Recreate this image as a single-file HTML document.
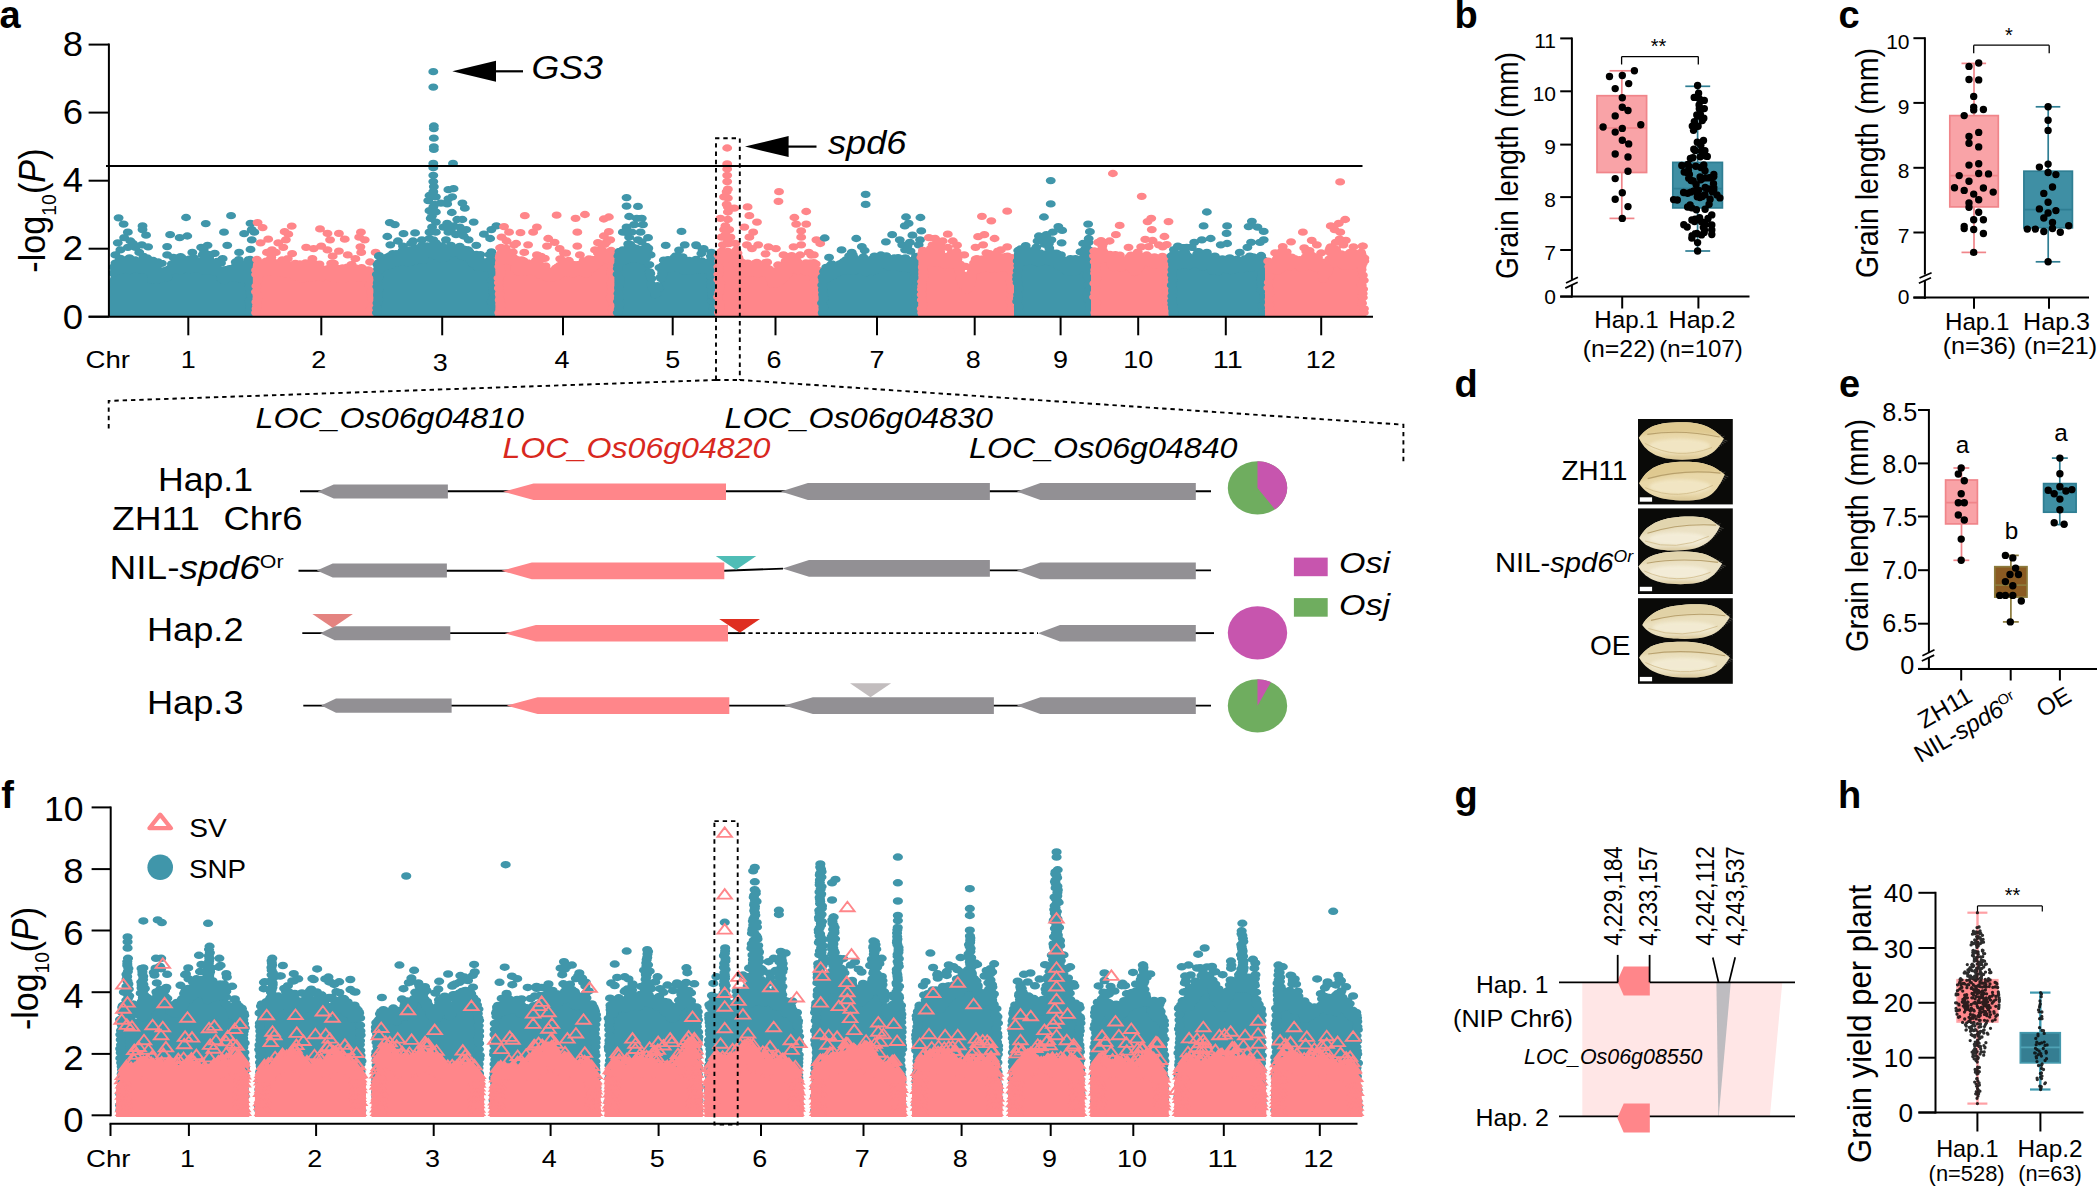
<!DOCTYPE html>
<html lang="en"><head><meta charset="utf-8"><title>Figure</title>
<style>
html,body{margin:0;padding:0;background:#fff;}
body{width:2097px;height:1187px;overflow:hidden;}
svg{display:block;}
text{font-family:"Liberation Sans",Arial,sans-serif;}
</style></head><body>
<svg width="2097" height="1187" viewBox="0 0 2097 1187">
<rect width="2097" height="1187" fill="#fff"/>
<g id="panel-a">
<polygon points="108.5,316.2 108.5,282.6 110.5,277.2 112.5,270.2 114.5,264.9 116.5,264.8 118.5,264.8 120.5,264.7 122.5,264.6 124.5,264.5 126.5,264.5 128.5,264.4 130.5,264.3 132.5,264.2 134.5,264.2 136.5,264.1 138.5,264.0 140.5,263.9 142.5,263.9 144.5,263.8 146.5,263.7 148.5,264.8 150.5,270.8 152.5,274.9 154.5,274.6 156.5,274.2 158.5,273.8 160.5,273.5 162.5,273.1 164.5,272.7 166.5,272.2 168.5,271.2 170.5,270.2 172.5,269.2 174.5,268.2 176.5,267.2 178.5,266.5 180.5,265.7 182.5,265.0 184.5,264.2 186.5,263.7 188.5,263.9 190.5,264.0 192.5,264.2 194.5,264.4 196.5,264.5 198.5,264.7 200.5,264.9 202.5,265.0 204.5,265.2 206.5,265.4 208.5,265.5 210.5,265.7 212.5,265.9 214.5,266.0 216.5,266.4 218.5,269.2 220.5,272.0 222.5,274.8 224.5,275.0 226.5,275.0 228.5,275.0 230.5,275.0 232.5,275.0 234.5,275.0 236.5,275.0 238.5,275.0 240.5,275.0 242.5,274.3 244.5,272.8 246.5,271.2 248.5,269.6 250.5,268.0 252.5,266.4 252.8,266.2 252.8,316.2" fill="#4096AA" />
<g transform="scale(1.36 1)"><path d="M116.1 277.6h0M90.5 264.1h0M89.0 261.7h0M127.3 268.3h0M126.4 263.8h0M105.9 267.2h0M142.0 269.4h0M87.8 259.8h0M97.8 265.3h0M166.4 278.0h0M148.3 266.8h0M89.5 265.1h0M152.5 265.2h0M142.8 263.8h0M164.2 272.1h0M141.7 267.8h0M157.5 271.8h0M95.1 267.7h0M98.6 261.3h0M151.3 264.3h0M172.4 278.4h0M143.7 264.3h0M168.8 268.6h0M150.9 269.7h0M149.1 254.7h0M112.1 277.7h0M85.4 263.2h0M95.0 269.3h0M96.3 265.5h0M172.0 277.4h0M139.2 262.6h0M171.3 276.3h0M119.7 272.8h0M98.5 264.4h0M106.9 265.3h0M109.9 270.0h0M120.8 276.7h0M153.6 267.2h0M152.1 271.4h0M162.7 271.8h0M123.1 269.9h0M147.8 264.2h0M104.4 265.0h0M88.5 264.9h0M93.4 262.2h0M172.3 272.2h0M108.8 264.2h0M95.6 265.2h0M130.6 264.4h0M93.5 264.2h0M167.7 273.6h0M180.1 270.1h0M138.5 267.0h0M183.0 267.5h0M109.7 265.9h0M161.9 274.3h0M116.7 278.5h0M183.6 268.0h0M166.6 271.5h0M135.9 261.9h0M85.9 264.8h0M153.8 258.1h0M178.7 266.4h0M120.3 272.9h0M103.2 267.2h0M175.0 272.0h0M149.7 259.7h0M150.5 262.8h0M159.6 265.6h0M163.6 278.9h0M182.3 270.7h0M179.7 269.1h0M96.1 270.0h0M165.4 280.1h0M183.1 267.5h0M139.1 262.6h0M182.2 270.0h0M178.4 278.4h0M167.4 275.3h0M113.0 277.5h0M109.6 264.6h0M176.0 276.3h0M142.6 259.2h0M176.7 276.1h0M136.5 266.3h0M101.8 269.4h0M100.7 266.8h0M139.9 265.9h0M139.8 258.9h0M140.3 264.4h0M161.9 272.8h0M160.7 263.9h0M145.6 265.5h0M153.8 266.9h0M131.9 261.7h0M172.5 267.0h0M140.2 260.6h0M97.1 266.4h0M90.5 263.3h0M151.4 266.6h0M98.9 264.4h0M97.7 264.1h0M105.5 256.3h0M132.8 256.6h0M99.6 265.4h0M117.7 274.4h0M156.8 269.3h0M128.0 269.9h0M146.8 262.0h0M183.6 270.4h0M93.8 262.7h0M162.6 271.9h0M126.2 267.4h0M109.5 271.8h0M141.3 260.0h0M89.0 263.3h0M90.5 259.7h0M164.9 280.6h0M89.9 260.9h0M117.7 277.4h0M110.4 272.6h0M107.4 263.7h0M88.2 265.5h0M114.2 271.2h0M134.1 266.2h0M84.9 263.1h0M157.9 264.0h0M131.5 257.5h0M166.7 276.2h0M168.3 276.5h0M153.3 254.3h0M168.0 275.2h0M124.4 268.9h0M96.3 269.0h0M109.2 263.8h0M168.9 272.8h0M111.9 275.4h0M130.0 269.1h0M110.0 264.2h0M138.9 269.7h0M114.7 271.9h0M122.0 273.4h0M103.6 260.7h0M110.0 270.2h0M87.3 266.1h0M106.8 264.2h0M159.7 268.6h0M172.8 275.1h0M183.6 272.9h0M148.7 270.5h0M174.1 276.7h0M166.0 277.7h0M134.6 264.5h0M167.4 278.4h0M152.8 262.5h0M86.3 266.2h0M93.8 262.1h0M147.2 266.1h0M133.0 270.9h0M159.5 267.9h0M150.4 269.9h0M108.8 264.5h0M157.5 270.2h0M182.7 269.5h0M132.0 267.6h0M146.1 261.0h0M98.1 268.2h0M114.2 270.8h0M89.3 268.0h0M153.7 263.3h0M135.8 264.9h0M95.2 257.8h0M182.9 259.7h0M129.9 268.4h0M129.0 267.4h0M179.6 275.8h0M97.6 268.5h0M96.6 261.9h0M173.6 272.0h0M174.7 272.1h0M83.5 267.1h0M113.9 275.7h0M115.3 267.3h0M159.7 261.5h0M177.6 277.2h0M112.7 275.4h0M185.0 266.1h0M126.8 267.6h0M93.5 260.0h0M178.6 274.3h0M135.2 265.8h0M180.7 270.4h0M147.5 263.6h0M139.1 259.2h0M157.8 269.1h0M148.9 263.3h0M177.7 277.4h0M118.2 277.2h0M182.7 272.9h0M113.8 274.1h0M100.2 264.2h0M175.5 273.6h0M175.6 259.6h0M97.3 263.3h0M118.0 274.1h0M109.5 269.3h0M159.6 267.8h0M136.6 264.0h0M89.4 270.3h0M95.9 266.1h0M171.2 275.4h0M108.4 264.6h0M180.4 272.0h0M85.3 269.4h0M174.5 276.7h0M83.1 273.2h0M167.3 275.6h0M108.4 263.5h0M136.4 266.7h0M156.7 267.7h0M129.8 264.0h0M162.9 279.0h0M149.0 263.9h0M108.8 265.0h0M94.5 267.3h0M142.6 263.5h0M144.4 265.9h0M130.1 261.0h0M173.3 273.8h0M108.3 258.0h0M114.5 277.3h0M151.9 264.7h0M151.2 257.8h0M86.6 265.8h0M152.8 270.1h0M158.5 264.5h0M182.1 274.7h0M106.6 268.1h0M113.2 267.9h0M102.2 265.5h0M151.0 255.9h0M123.2 277.6h0M97.6 263.5h0M123.2 270.4h0M157.9 253.3h0M116.7 279.6h0M159.3 270.7h0M121.7 272.7h0M100.4 265.3h0M119.0 263.3h0M181.5 272.0h0M166.9 272.0h0M88.1 264.6h0M176.9 276.3h0M174.6 277.2h0M165.9 269.7h0M86.6 270.9h0M109.3 267.1h0M117.7 279.2h0M146.1 268.5h0M115.4 272.1h0M160.2 264.4h0M179.4 274.0h0M131.6 262.9h0M122.5 273.6h0M133.5 257.4h0M165.0 276.3h0M162.0 270.3h0M115.7 277.9h0M91.2 268.9h0M108.3 262.7h0M139.5 269.5h0M173.3 262.0h0M91.7 267.2h0M155.5 264.8h0M125.6 271.3h0M159.4 265.1h0M95.5 259.8h0M140.9 267.5h0M103.4 264.0h0M98.7 260.9h0M116.4 279.2h0M134.9 269.3h0M149.8 249.9h0M131.5 266.6h0M176.4 276.2h0M95.3 270.5h0M142.6 257.8h0M171.5 274.2h0M162.5 263.1h0M143.9 262.1h0M120.7 272.9h0M109.1 265.7h0M103.9 265.5h0M152.3 266.3h0M103.8 262.2h0M89.5 266.5h0M139.2 260.4h0M99.8 262.6h0M112.0 280.4h0M115.0 273.4h0M125.6 270.6h0M120.2 277.0h0M103.9 270.1h0M126.3 266.3h0M173.2 273.3h0M84.6 266.4h0M175.9 278.7h0M120.9 270.7h0M112.0 279.0h0M94.2 267.7h0M181.8 269.9h0M179.3 264.2h0M88.5 258.4h0M175.4 277.5h0M99.4 260.0h0M124.4 270.5h0M183.3 312.7h0M183.8 309.0h0M183.8 304.5h0M183.5 301.1h0M184.9 295.9h0M184.2 292.8h0M183.0 287.6h0M183.2 282.0h0M184.2 277.2h0M183.6 272.4h0M184.2 268.1h0M184.4 263.8h0M183.9 259.5h0M87.2 217.8h0M90.9 224.1h0M94.0 232.2h0M104.8 225.9h0M104.8 229.6h0M107.4 235.2h0M91.3 237.7h0M86.6 242.8h0M95.9 241.0h0M108.9 246.8h0M104.3 244.8h0M125.1 234.7h0M132.1 237.7h0M137.7 236.0h0M136.8 217.5h0M151.3 223.6h0M122.9 246.6h0M122.9 254.9h0M127.5 257.4h0M141.4 252.4h0M147.9 247.3h0M152.6 245.3h0M164.7 232.2h0M169.9 215.7h0M167.1 245.3h0M175.8 252.4h0M179.5 233.7h0M184.2 223.3h0M185.1 229.6h0M187.0 232.2h0M185.1 239.8h0M184.2 249.4h0M163.7 258.7h0M112.6 260.5h0M116.3 262.0h0M84.8 254.9h0M99.6 247.3h0M88.5 249.9h0M94.0 247.3h0M102.4 252.4h0M97.8 243.5h0" fill="none" stroke="#4096AA" stroke-width="7.30" stroke-linecap="round"/></g>
<polygon points="252.8,316.2 252.8,267.4 254.8,267.6 256.8,267.8 258.8,268.0 260.8,268.2 262.8,268.3 264.8,268.5 266.8,268.7 268.8,268.6 270.8,268.4 272.8,268.2 274.8,268.1 276.8,267.9 278.8,267.7 280.8,267.6 282.8,267.8 284.8,268.6 286.8,269.5 288.8,270.3 290.8,271.2 292.8,272.0 294.8,272.9 296.8,273.8 298.8,274.6 300.8,274.8 302.8,274.4 304.8,273.9 306.8,273.5 308.8,273.1 310.8,272.7 312.8,272.2 314.8,271.8 316.8,271.4 318.8,271.4 320.8,271.6 322.8,271.8 324.8,272.0 326.8,272.2 328.8,272.4 330.8,272.6 332.8,272.8 334.8,273.0 336.8,273.2 338.8,273.4 340.8,273.6 342.8,273.7 344.8,273.4 346.8,273.1 348.8,272.7 350.8,272.4 352.8,272.1 354.8,271.7 356.8,271.4 358.8,271.5 360.8,272.2 362.8,272.9 364.8,273.5 366.8,274.2 368.8,274.9 370.8,275.5 372.8,276.2 373.4,276.3 373.4,316.2" fill="#FF868A" />
<g transform="scale(1.36 1)"><path d="M241.6 271.1h0M253.8 271.2h0M204.4 265.6h0M200.1 266.2h0M226.6 270.3h0M243.1 277.1h0M255.0 270.2h0M231.8 276.8h0M200.7 268.9h0M251.1 268.8h0M272.3 279.9h0M266.7 277.6h0M267.9 275.0h0M253.2 279.1h0M212.5 265.1h0M231.7 264.3h0M211.4 269.1h0M192.3 267.9h0M268.4 276.2h0M203.5 262.9h0M234.1 270.0h0M263.1 272.3h0M263.9 278.2h0M242.5 276.2h0M211.6 258.6h0M219.7 272.5h0M204.2 262.8h0M258.6 275.4h0M272.5 277.0h0M215.7 271.5h0M201.8 267.5h0M232.6 264.3h0M208.4 263.8h0M189.4 266.3h0M219.4 277.3h0M239.0 275.3h0M229.4 278.4h0M209.8 268.1h0M243.2 271.3h0M223.2 272.3h0M243.8 271.8h0M243.8 277.3h0M251.3 279.0h0M192.9 268.1h0M209.3 273.6h0M190.2 271.9h0M201.2 271.3h0M232.1 273.8h0M204.0 268.1h0M193.3 266.6h0M249.7 279.2h0M252.3 276.6h0M227.5 272.0h0M208.9 269.8h0M252.6 275.6h0M249.4 275.9h0M226.1 271.6h0M211.6 273.4h0M207.6 259.9h0M211.2 273.8h0M269.1 271.2h0M263.7 271.1h0M266.0 273.9h0M245.5 263.3h0M260.3 273.9h0M226.2 272.8h0M215.2 275.2h0M195.8 261.1h0M191.5 274.2h0M218.4 272.6h0M192.7 268.6h0M248.2 268.5h0M239.2 276.1h0M258.6 264.7h0M262.6 270.0h0M198.3 267.6h0M192.1 267.7h0M242.9 271.0h0M213.5 270.5h0M253.3 274.3h0M225.1 274.7h0M213.1 268.7h0M216.3 265.1h0M261.2 267.8h0M224.1 277.3h0M218.5 273.3h0M207.5 260.9h0M258.6 270.7h0M206.3 269.8h0M189.6 268.7h0M256.6 275.0h0M218.6 269.3h0M269.1 273.6h0M248.4 270.9h0M243.1 277.6h0M248.2 272.3h0M219.3 274.9h0M264.5 277.7h0M191.3 268.5h0M265.5 272.1h0M264.0 273.5h0M234.2 271.9h0M243.9 272.9h0M202.3 266.4h0M252.0 275.7h0M254.6 270.4h0M228.3 266.7h0M205.4 271.1h0M260.6 271.5h0M210.1 271.0h0M202.8 267.2h0M271.7 270.8h0M270.6 276.4h0M272.5 275.3h0M226.0 276.8h0M198.2 269.9h0M192.1 271.9h0M247.9 275.0h0M228.4 276.0h0M223.4 276.1h0M225.6 275.8h0M224.8 277.7h0M263.7 271.3h0M261.3 272.1h0M227.6 275.8h0M197.5 272.1h0M249.5 271.3h0M225.0 275.7h0M223.8 276.9h0M204.7 269.6h0M222.1 279.2h0M192.4 266.0h0M255.4 267.1h0M197.7 269.1h0M249.9 275.3h0M259.4 272.0h0M269.4 277.8h0M222.4 269.8h0M272.5 273.5h0M212.4 267.8h0M224.6 276.6h0M219.0 274.0h0M251.9 268.0h0M207.7 264.6h0M207.1 272.2h0M257.7 272.0h0M236.8 277.6h0M219.1 276.5h0M258.3 271.7h0M235.6 276.8h0M219.2 269.4h0M221.0 276.3h0M204.9 272.5h0M213.0 271.2h0M229.8 274.6h0M245.0 277.8h0M261.5 277.0h0M265.9 267.7h0M259.5 268.0h0M190.2 262.5h0M210.4 269.0h0M209.0 265.3h0M202.1 265.9h0M203.4 264.7h0M255.3 275.6h0M255.9 267.6h0M247.8 275.7h0M226.3 269.9h0M211.6 269.1h0M230.9 274.5h0M201.4 268.9h0M234.9 264.1h0M260.3 273.4h0M245.5 269.0h0M224.6 263.0h0M243.1 268.5h0M240.8 275.0h0M217.2 263.4h0M230.2 264.1h0M250.0 272.1h0M262.1 272.8h0M233.7 267.2h0M226.0 275.1h0M259.2 276.7h0M223.4 273.1h0M232.1 264.1h0M256.2 273.1h0M214.5 272.8h0M255.6 277.6h0M264.1 268.6h0M214.6 272.1h0M267.2 274.3h0M256.0 269.1h0M241.4 273.7h0M239.7 269.1h0M245.6 276.0h0M197.8 267.2h0M254.7 269.5h0M220.4 274.8h0M236.8 272.2h0M224.9 274.9h0M243.5 263.4h0M237.2 271.6h0M257.8 276.1h0M227.0 275.2h0M239.3 270.0h0M229.4 270.5h0M243.7 272.1h0M190.5 272.5h0M199.5 257.2h0M262.8 270.0h0M250.1 277.5h0M205.1 272.7h0M249.6 272.1h0M196.3 270.2h0M228.2 265.2h0M270.8 269.8h0M190.4 270.2h0M195.9 272.3h0M203.2 264.5h0M194.3 270.6h0M226.3 269.8h0M256.7 275.4h0M242.5 272.8h0M255.7 268.9h0M237.2 270.1h0M271.6 276.8h0M217.3 277.1h0M259.5 270.6h0M225.5 268.6h0M247.1 276.3h0M257.5 270.5h0M211.5 271.7h0M258.3 264.7h0M259.7 272.6h0M237.6 276.6h0M257.5 275.1h0M218.5 277.1h0M256.7 277.0h0M268.0 276.5h0M246.5 271.7h0M210.7 270.3h0M228.1 277.9h0M254.5 276.0h0M265.1 268.4h0M229.5 270.0h0M205.5 271.6h0M219.9 274.3h0M233.0 270.2h0M273.6 274.3h0M242.7 267.8h0M239.7 273.9h0M190.9 274.9h0M262.5 272.8h0M211.3 267.3h0M269.3 274.9h0M270.7 273.0h0M206.2 266.6h0M193.5 271.7h0M228.0 269.7h0M194.6 267.8h0M199.3 259.2h0M237.0 275.1h0M245.9 273.9h0M202.7 264.1h0M272.1 312.7h0M272.2 309.6h0M273.6 305.5h0M273.5 299.8h0M273.4 296.7h0M273.0 291.5h0M271.7 285.6h0M273.3 282.2h0M273.1 276.3h0M272.9 272.4h0M188.3 312.7h0M188.6 308.7h0M189.0 305.4h0M188.5 301.9h0M189.3 298.4h0M189.4 295.4h0M188.2 291.8h0M188.5 286.0h0M189.7 280.2h0M188.3 274.5h0M188.3 270.2h0M189.6 264.4h0M188.9 259.5h0M189.4 222.6h0M193.1 227.6h0M197.2 239.2h0M191.6 242.8h0M204.6 242.8h0M209.3 231.7h0M214.5 226.1h0M212.0 234.2h0M210.2 239.8h0M208.3 247.3h0M225.1 247.3h0M230.6 248.6h0M235.3 228.9h0M236.2 246.1h0M240.8 233.4h0M242.7 239.8h0M240.8 249.9h0M249.2 233.4h0M253.5 239.2h0M249.2 251.1h0M265.4 232.2h0M264.1 237.2h0M268.2 239.8h0M265.0 246.8h0M265.6 252.4h0M276.2 252.4h0M272.1 262.0h0M255.7 254.9h0M244.6 256.2h0M229.7 258.7h0M214.8 253.7h0M196.3 252.4h0M220.4 263.8h0M261.3 258.7h0M200.0 249.9h0M202.8 252.4h0" fill="none" stroke="#FF868A" stroke-width="7.30" stroke-linecap="round"/></g>
<polygon points="373.4,316.2 373.4,272.5 375.4,270.1 377.4,267.8 379.4,266.0 381.4,264.4 383.4,262.7 385.4,261.1 387.4,260.5 389.4,259.9 391.4,259.3 393.4,258.7 395.4,258.1 397.4,257.5 399.4,257.2 401.4,257.0 403.4,256.8 405.4,256.6 407.4,256.4 409.4,256.2 411.4,256.0 413.4,255.8 415.4,255.6 417.4,255.4 419.4,255.2 421.4,255.0 423.4,254.5 425.4,251.8 427.4,249.8 429.4,249.8 431.4,249.8 433.4,249.8 435.4,249.8 437.4,249.8 439.4,250.8 441.4,252.8 443.4,254.8 445.4,252.1 447.4,249.8 449.4,249.9 451.4,250.0 453.4,250.1 455.4,250.2 457.4,250.4 459.4,250.5 461.4,250.6 463.4,250.7 465.4,250.8 467.4,250.9 469.4,252.7 471.4,257.2 473.4,261.7 475.4,262.4 477.4,262.4 479.4,262.4 481.4,262.4 483.4,262.4 485.4,262.4 487.4,262.4 489.4,262.4 491.4,262.4 493.4,262.4 495.4,262.4 495.4,316.2" fill="#4096AA" />
<g transform="scale(1.36 1)"><path d="M348.4 264.3h0M290.1 257.0h0M339.0 248.1h0M352.5 263.7h0M291.2 262.6h0M306.5 257.8h0M305.1 248.1h0M361.7 268.4h0M335.1 252.3h0M302.4 255.7h0M309.1 247.0h0M357.1 263.4h0M354.6 267.0h0M303.0 242.7h0M347.0 257.1h0M278.0 264.6h0M293.8 261.6h0M296.6 254.2h0M293.3 257.2h0M294.7 256.5h0M330.0 248.9h0M295.5 258.6h0M347.4 257.3h0M283.5 259.1h0M339.7 255.9h0M306.6 255.4h0M320.1 256.0h0M318.7 244.3h0M293.8 253.4h0M291.9 259.9h0M278.3 267.0h0M322.0 254.1h0M347.8 256.0h0M338.8 254.0h0M283.1 261.4h0M320.3 250.7h0M323.9 258.6h0M297.0 255.9h0M299.3 250.2h0M286.1 256.7h0M279.4 266.2h0M322.7 246.2h0M352.4 257.7h0M288.4 259.9h0M301.8 257.9h0M289.6 261.6h0M290.5 260.4h0M291.9 258.5h0M311.2 258.8h0M322.9 255.5h0M344.4 250.6h0M306.6 260.5h0M346.8 255.4h0M350.5 265.4h0M359.9 254.7h0M314.0 248.5h0M323.3 253.4h0M321.1 249.8h0M360.9 264.1h0M332.1 250.8h0M353.6 266.4h0M300.6 253.8h0M324.3 248.2h0M299.3 256.5h0M359.3 262.7h0M333.3 253.5h0M359.8 261.2h0M317.8 247.5h0M288.5 259.9h0M312.7 251.9h0M285.4 263.5h0M330.1 251.4h0M295.1 255.7h0M324.8 252.9h0M304.5 255.6h0M321.8 251.9h0M278.9 270.6h0M298.3 256.9h0M302.3 243.4h0M344.0 250.0h0M352.5 260.0h0M311.1 257.8h0M287.2 265.4h0M341.1 251.9h0M308.1 255.6h0M350.7 260.0h0M341.2 251.5h0M318.6 249.5h0M356.2 267.9h0M278.2 265.9h0M320.5 242.8h0M313.7 251.3h0M329.9 250.9h0M317.1 247.0h0M311.3 254.0h0M305.5 256.4h0M320.7 248.4h0M303.9 258.9h0M327.7 257.9h0M305.6 255.3h0M360.0 264.1h0M355.9 261.7h0M326.3 258.5h0M344.1 255.5h0M322.2 251.9h0M311.2 257.0h0M307.9 250.2h0M322.9 252.2h0M312.2 253.9h0M353.2 254.6h0M315.6 253.6h0M307.3 258.4h0M292.5 263.0h0M348.6 260.0h0M354.5 264.2h0M362.7 257.7h0M291.3 259.9h0M321.1 249.5h0M331.8 248.9h0M363.0 258.5h0M313.1 247.8h0M337.0 251.8h0M350.0 263.9h0M294.7 258.3h0M300.7 256.2h0M363.3 261.9h0M288.3 263.6h0M287.0 259.6h0M322.6 248.5h0M347.0 257.1h0M343.9 254.4h0M308.2 255.8h0M286.4 256.0h0M307.8 255.4h0M282.6 258.5h0M360.1 264.5h0M299.2 262.7h0M351.1 267.4h0M347.8 263.3h0M360.1 266.8h0M298.7 259.7h0M296.8 261.6h0M319.4 245.7h0M292.7 256.4h0M361.1 264.8h0M287.7 259.0h0M312.4 252.3h0M348.6 262.0h0M294.2 256.9h0M280.9 262.1h0M291.2 253.7h0M301.0 250.5h0M315.8 249.4h0M291.5 261.2h0M310.2 245.4h0M359.3 261.0h0M316.6 254.0h0M300.2 252.6h0M309.4 258.0h0M296.1 250.3h0M321.8 248.4h0M344.0 253.7h0M326.5 254.9h0M285.2 265.5h0M305.4 252.0h0M326.0 256.4h0M303.3 257.1h0M297.3 261.0h0M302.1 260.7h0M344.3 250.0h0M289.2 256.9h0M336.1 248.7h0M313.2 252.2h0M299.1 252.3h0M331.7 249.3h0M356.0 262.9h0M281.3 263.5h0M294.8 257.9h0M281.2 266.4h0M293.3 255.0h0M339.3 252.1h0M336.5 248.0h0M349.3 258.9h0M281.5 260.8h0M281.9 261.7h0M345.7 259.8h0M342.1 255.1h0M311.6 255.3h0M302.0 262.3h0M314.2 245.8h0M341.1 249.1h0M316.7 254.2h0M314.6 253.9h0M288.8 253.6h0M338.1 246.3h0M324.7 245.9h0M324.5 251.2h0M308.5 254.1h0M304.5 259.9h0M335.3 250.3h0M322.0 254.4h0M308.0 260.2h0M290.0 257.4h0M347.7 263.1h0M292.4 257.7h0M317.4 250.8h0M287.7 260.1h0M295.6 258.0h0M294.8 255.8h0M287.5 260.9h0M309.0 254.1h0M278.8 255.7h0M285.1 263.2h0M326.2 257.1h0M315.1 252.4h0M278.6 262.6h0M331.6 245.4h0M299.4 255.6h0M280.2 265.5h0M303.3 259.3h0M350.3 254.4h0M345.1 251.7h0M305.9 260.5h0M305.3 257.5h0M309.5 250.3h0M281.4 264.6h0M348.1 264.0h0M358.8 263.2h0M291.4 260.3h0M284.7 257.1h0M315.8 238.3h0M281.3 262.1h0M339.8 256.4h0M351.1 259.8h0M302.1 255.7h0M313.9 250.9h0M334.9 250.9h0M292.0 259.0h0M326.1 253.8h0M285.2 261.8h0M361.1 260.7h0M361.3 255.9h0M347.4 263.6h0M330.0 252.3h0M359.5 264.5h0M303.5 260.6h0M280.3 268.3h0M316.2 253.8h0M309.7 254.6h0M323.3 250.6h0M287.7 264.8h0M324.8 258.7h0M299.6 259.3h0M299.4 257.7h0M297.3 253.9h0M321.8 246.6h0M312.8 254.1h0M351.8 264.5h0M342.7 257.4h0M339.7 255.9h0M311.4 260.4h0M326.1 250.0h0M344.4 251.7h0M309.8 258.7h0M296.1 260.4h0M314.4 246.7h0M352.6 266.1h0M352.5 266.8h0M362.1 312.7h0M362.8 307.4h0M361.6 301.9h0M362.9 297.8h0M362.9 292.0h0M362.7 288.8h0M362.5 285.5h0M361.6 280.1h0M362.8 274.4h0M361.7 270.6h0M363.2 266.3h0M361.6 261.5h0M361.6 258.4h0M277.1 312.7h0M277.3 308.0h0M277.5 303.0h0M278.4 299.5h0M278.0 294.9h0M278.5 289.5h0M277.4 286.5h0M277.7 283.0h0M278.2 277.4h0M277.1 274.3h0M278.0 268.8h0M277.6 264.7h0M286.6 222.6h0M290.3 224.6h0M284.8 236.5h0M296.7 233.7h0M305.2 232.9h0M292.6 241.0h0M303.7 241.0h0M310.2 239.8h0M287.0 244.8h0M296.3 246.1h0M278.6 256.2h0M318.6 71.7h0M318.6 87.1h0M319.0 126.0h0M319.0 128.6h0M319.0 138.2h0M319.0 146.8h0M319.0 149.3h0M318.6 163.4h0M318.6 167.7h0M318.6 175.3h0M318.6 181.6h0M319.0 186.7h0M318.6 191.7h0M315.8 195.5h0M320.5 196.8h0M314.9 200.6h0M319.5 204.4h0M324.2 203.1h0M328.8 203.9h0M315.8 210.7h0M320.5 212.0h0M316.7 218.3h0M320.5 222.1h0M317.7 227.1h0M315.8 232.2h0M320.5 232.2h0M318.6 239.8h0M318.6 206.9h0M317.7 215.7h0M333.1 163.4h0M329.7 189.7h0M333.5 188.7h0M332.5 196.8h0M329.7 198.8h0M340.0 203.1h0M341.8 208.2h0M332.2 212.5h0M336.2 219.5h0M340.0 219.5h0M328.8 223.3h0M333.5 225.9h0M338.1 227.1h0M342.8 229.6h0M329.7 232.2h0M335.3 234.7h0M340.9 236.0h0M344.6 239.8h0M327.9 239.8h0M348.3 222.1h0M350.2 245.3h0M355.8 234.2h0M360.4 238.5h0M361.3 229.6h0M365.0 225.9h0M361.3 251.9h0M331.6 229.6h0M339.0 232.2h0M326.0 227.1h0" fill="none" stroke="#4096AA" stroke-width="7.30" stroke-linecap="round"/></g>
<polygon points="495.4,316.2 495.4,254.8 497.4,254.8 499.4,254.8 501.4,254.8 503.4,254.8 505.4,254.8 507.4,254.8 509.4,254.8 511.4,254.8 513.4,258.8 515.4,263.3 517.4,266.2 519.4,266.4 521.4,266.5 523.4,266.6 525.4,266.7 527.4,266.9 529.4,267.0 531.4,267.1 533.4,267.2 535.4,267.4 537.4,267.8 539.4,269.0 541.4,270.3 543.4,271.5 545.4,272.8 547.4,273.6 549.4,272.8 551.4,271.9 553.4,271.1 555.4,270.3 557.4,269.4 559.4,268.6 561.4,267.8 563.4,267.5 565.4,267.6 567.4,267.7 569.4,267.8 571.4,267.9 573.4,268.0 575.4,268.1 577.4,268.2 579.4,268.3 581.4,268.4 583.4,268.5 585.4,268.6 587.4,268.7 589.4,266.8 591.4,264.8 593.4,262.8 595.4,260.8 597.4,258.8 599.4,256.8 601.4,256.0 603.4,255.8 605.4,255.6 607.4,255.4 609.4,255.3 611.4,255.1 613.4,254.9 614.4,254.8 614.4,316.2" fill="#FF868A" />
<g transform="scale(1.36 1)"><path d="M438.1 264.7h0M418.6 269.2h0M385.6 263.2h0M371.2 256.1h0M406.6 270.6h0M397.1 273.0h0M395.4 270.6h0M449.9 255.1h0M423.6 268.3h0M409.3 272.3h0M411.7 265.3h0M370.4 257.3h0M440.4 256.5h0M420.5 267.7h0M433.9 265.9h0M424.4 272.1h0M429.3 270.3h0M396.8 268.9h0M372.6 255.1h0M450.1 254.9h0M387.9 267.8h0M378.9 269.0h0M405.4 273.6h0M392.8 266.2h0M392.7 270.9h0M413.6 260.3h0M444.5 252.5h0M382.5 270.5h0M397.4 267.3h0M440.0 260.4h0M442.6 255.9h0M369.5 255.4h0M426.4 269.7h0M384.3 269.5h0M421.7 272.2h0M448.0 252.0h0M435.1 259.4h0M379.0 265.9h0M440.6 260.0h0M385.3 270.4h0M421.7 270.8h0M395.8 270.4h0M371.4 253.3h0M408.8 268.2h0M406.2 277.8h0M414.7 253.0h0M418.8 265.3h0M375.4 254.4h0M431.6 273.9h0M402.9 274.6h0M413.9 267.9h0M395.2 264.5h0M426.9 269.0h0M393.4 269.4h0M405.4 274.1h0M446.1 254.1h0M407.3 272.7h0M397.8 256.3h0M430.7 267.5h0M378.8 265.5h0M413.9 273.4h0M398.1 270.2h0M429.1 260.7h0M370.0 250.9h0M449.6 257.0h0M396.3 266.3h0M394.6 259.8h0M428.8 272.4h0M401.1 265.9h0M414.7 272.2h0M446.4 253.1h0M388.6 268.4h0M386.9 271.1h0M421.2 273.8h0M385.7 264.2h0M439.6 252.9h0M430.3 264.3h0M395.2 271.8h0M381.1 266.4h0M405.4 275.3h0M385.1 261.6h0M432.7 261.8h0M439.7 242.7h0M369.6 261.2h0M368.4 247.3h0M429.0 268.5h0M424.6 269.6h0M444.2 257.7h0M449.3 255.9h0M433.7 261.9h0M409.7 271.1h0M376.3 262.1h0M394.0 260.6h0M408.2 272.3h0M382.5 262.9h0M429.2 266.2h0M397.1 273.6h0M396.7 275.1h0M441.3 253.0h0M382.4 265.0h0M371.2 254.8h0M414.0 265.1h0M425.0 268.2h0M413.4 270.6h0M440.5 255.2h0M394.1 272.4h0M399.9 272.5h0M379.5 243.5h0M418.3 260.5h0M418.6 267.2h0M384.1 271.9h0M433.0 259.0h0M425.5 271.2h0M413.4 273.0h0M367.7 256.2h0M410.1 273.4h0M387.1 268.6h0M399.2 269.4h0M411.5 269.9h0M394.5 267.6h0M386.2 264.8h0M443.4 258.5h0M411.1 267.4h0M379.4 259.5h0M411.3 271.7h0M387.5 271.8h0M406.0 274.0h0M442.2 248.8h0M399.4 271.2h0M377.8 260.3h0M376.2 258.8h0M411.1 266.5h0M400.6 258.4h0M405.1 275.4h0M430.9 272.6h0M398.2 268.9h0M398.5 271.3h0M369.1 257.7h0M372.4 258.9h0M390.5 266.8h0M437.2 265.4h0M439.3 260.4h0M433.7 265.2h0M371.2 254.9h0M427.0 269.5h0M421.7 264.5h0M399.7 275.3h0M383.6 259.8h0M398.6 268.9h0M373.5 252.3h0M411.5 272.5h0M430.8 272.3h0M406.2 275.2h0M402.2 277.8h0M404.3 273.5h0M436.4 264.0h0M401.1 277.1h0M413.8 267.9h0M377.4 257.4h0M435.8 262.8h0M430.4 265.4h0M424.4 267.1h0M372.1 253.4h0M416.3 253.1h0M440.3 258.5h0M410.8 275.8h0M390.5 267.6h0M388.9 264.1h0M410.2 266.9h0M393.0 266.3h0M439.1 258.7h0M371.9 254.3h0M406.3 273.0h0M398.1 265.7h0M444.3 252.5h0M393.8 267.2h0M414.7 267.5h0M434.0 269.5h0M434.5 264.9h0M445.6 259.7h0M372.4 257.1h0M371.7 248.0h0M417.3 273.5h0M414.4 265.3h0M423.8 265.9h0M385.2 261.0h0M444.2 254.8h0M375.5 256.5h0M402.2 271.4h0M443.2 252.4h0M372.3 250.3h0M437.4 261.1h0M416.1 269.9h0M380.4 260.0h0M437.8 265.6h0M449.4 252.8h0M399.3 268.8h0M413.1 270.0h0M428.3 271.1h0M377.1 252.0h0M444.6 244.4h0M411.5 269.2h0M430.2 272.8h0M375.3 258.6h0M417.5 264.9h0M379.2 269.2h0M438.1 265.9h0M370.3 258.6h0M396.3 263.7h0M371.8 256.1h0M388.2 263.0h0M433.3 265.3h0M414.2 270.6h0M433.3 266.6h0M370.4 252.3h0M421.6 271.2h0M397.0 272.2h0M381.3 272.2h0M395.3 267.9h0M407.7 269.9h0M440.9 259.1h0M412.3 270.4h0M381.3 266.9h0M398.2 271.9h0M384.6 267.1h0M440.3 261.2h0M368.8 248.5h0M433.6 268.3h0M386.7 262.6h0M389.6 269.1h0M410.8 273.9h0M374.6 252.9h0M417.3 267.5h0M372.8 257.7h0M449.6 258.9h0M425.3 264.6h0M435.2 268.6h0M368.5 248.1h0M401.5 273.9h0M428.8 265.1h0M396.3 268.8h0M385.9 272.2h0M450.8 252.7h0M409.1 271.3h0M430.3 266.0h0M419.7 267.2h0M375.3 252.6h0M381.1 259.9h0M429.8 273.7h0M445.8 253.0h0M437.0 260.3h0M403.9 272.5h0M440.2 263.0h0M411.9 258.8h0M448.4 251.3h0M437.5 260.8h0M405.8 273.8h0M443.4 256.8h0M400.3 272.6h0M424.6 264.7h0M401.5 277.1h0M450.7 312.7h0M450.1 308.7h0M450.6 303.2h0M449.9 300.2h0M449.1 297.1h0M449.7 291.7h0M449.8 286.9h0M449.3 282.9h0M450.7 278.8h0M449.5 273.9h0M449.4 270.7h0M449.8 265.6h0M450.6 260.6h0M450.3 257.2h0M450.6 254.1h0M449.4 250.5h0M367.1 312.7h0M368.1 309.0h0M368.1 304.2h0M367.4 300.0h0M367.4 294.1h0M366.8 288.2h0M366.8 282.7h0M366.5 278.1h0M368.2 274.6h0M368.0 270.2h0M367.1 266.5h0M367.5 263.2h0M367.4 257.6h0M368.2 253.4h0M367.7 247.8h0M370.6 226.6h0M374.3 232.2h0M385.9 215.7h0M394.8 227.1h0M382.7 232.7h0M392.0 232.2h0M403.1 238.5h0M407.8 242.3h0M402.2 246.1h0M411.5 248.6h0M388.3 244.8h0M394.8 254.9h0M385.5 252.4h0M409.3 215.2h0M423.2 218.3h0M430.1 214.5h0M444.0 219.0h0M447.7 217.0h0M424.5 232.2h0M447.7 231.7h0M444.0 236.0h0M424.5 246.1h0M437.5 249.9h0M443.1 244.8h0M426.4 254.9h0M432.9 267.6h0M368.8 237.2h0M372.5 241.0h0M378.1 244.8h0M448.7 239.8h0M445.9 242.3h0" fill="none" stroke="#FF868A" stroke-width="7.30" stroke-linecap="round"/></g>
<polygon points="614.4,316.2 614.4,258.6 616.4,257.9 618.4,257.2 620.4,256.5 622.4,255.8 624.4,255.1 626.4,254.8 628.4,254.8 630.4,254.8 632.4,254.8 634.4,254.8 636.4,254.8 638.4,254.8 640.4,254.8 642.4,254.8 644.4,254.8 646.4,254.8 648.4,257.5 650.4,275.5 652.4,288.9 654.4,288.9 656.4,288.9 658.4,288.1 660.4,279.6 662.4,271.1 664.4,267.1 666.4,266.5 668.4,265.9 670.4,265.3 672.4,264.7 674.4,264.1 676.4,263.7 678.4,263.8 680.4,264.0 682.4,264.1 684.4,264.3 686.4,264.4 688.4,264.6 690.4,264.7 692.4,264.9 694.4,265.0 696.4,265.2 698.4,265.3 700.4,265.5 702.4,265.6 704.4,265.8 706.4,265.9 708.4,266.1 710.4,266.1 712.4,265.6 714.4,265.1 715.0,264.9 715.0,316.2" fill="#4096AA" />
<g transform="scale(1.36 1)"><path d="M498.7 268.6h0M480.4 289.5h0M481.4 291.0h0M518.5 265.5h0M523.3 271.2h0M502.9 264.2h0M507.6 262.5h0M507.5 266.2h0M464.7 251.2h0M465.2 255.6h0M458.3 258.9h0M499.9 268.0h0M475.4 254.7h0M523.5 267.8h0M502.4 269.4h0M504.7 261.9h0M466.4 257.7h0M510.6 263.8h0M491.2 259.6h0M506.7 265.5h0M458.8 256.2h0M522.7 256.0h0M476.7 248.2h0M477.5 264.7h0M473.3 255.3h0M522.5 265.7h0M518.6 269.6h0M499.6 260.6h0M465.7 253.0h0M494.1 266.3h0M474.3 259.7h0M492.1 268.6h0M473.2 249.4h0M512.9 264.4h0M520.8 266.0h0M460.0 257.3h0M502.5 268.0h0M462.9 257.8h0M522.7 267.3h0M509.2 269.8h0M507.0 265.5h0M511.4 264.2h0M516.0 266.3h0M501.9 256.8h0M478.8 284.0h0M490.2 264.7h0M495.5 266.2h0M474.2 254.2h0M513.7 269.2h0M507.8 268.7h0M517.9 267.0h0M500.4 257.3h0M504.3 264.4h0M474.3 258.4h0M512.7 264.9h0M470.7 258.9h0M523.2 262.5h0M504.0 269.8h0M477.8 274.3h0M464.8 253.3h0M486.2 278.7h0M457.8 250.0h0M470.8 253.4h0M478.2 273.4h0M510.6 270.0h0M511.6 261.9h0M509.5 267.9h0M484.7 288.5h0M505.7 263.9h0M490.9 264.1h0M515.7 253.5h0M522.3 271.7h0M460.1 252.8h0M486.8 273.5h0M486.9 271.4h0M483.2 288.4h0M506.5 264.8h0M468.9 251.5h0M473.6 256.8h0M523.1 268.0h0M519.4 266.6h0M459.5 253.3h0M515.5 265.5h0M473.5 253.7h0M499.3 250.1h0M458.2 256.8h0M517.9 263.2h0M462.2 254.7h0M509.4 269.8h0M518.8 263.6h0M512.5 264.7h0M494.5 263.1h0M472.7 261.0h0M504.7 262.0h0M485.6 277.3h0M511.8 259.3h0M456.0 259.5h0M481.6 294.5h0M510.0 262.3h0M517.2 262.8h0M477.7 271.8h0M489.0 264.3h0M472.1 249.3h0M462.3 252.0h0M469.1 256.5h0M499.6 262.5h0M459.8 250.1h0M488.0 270.1h0M505.0 267.8h0M503.5 262.4h0M518.6 262.4h0M471.8 241.8h0M482.5 289.6h0M499.4 258.9h0M461.6 248.3h0M457.7 256.6h0M520.2 269.6h0M520.1 269.1h0M473.5 253.4h0M508.0 271.2h0M504.7 269.2h0M466.5 252.4h0M510.1 264.3h0M455.2 254.3h0M512.5 266.9h0M496.6 258.3h0M458.9 254.1h0M482.8 293.9h0M456.8 256.1h0M487.1 274.7h0M469.6 252.9h0M523.4 265.0h0M461.6 256.4h0M514.4 267.0h0M476.2 250.4h0M497.5 256.6h0M455.6 256.5h0M503.5 264.5h0M486.9 274.0h0M500.4 260.9h0M510.8 262.9h0M505.2 268.8h0M514.5 269.6h0M467.6 248.2h0M504.5 264.9h0M479.4 287.4h0M486.0 268.5h0M520.3 267.1h0M524.6 262.0h0M472.5 252.3h0M471.2 254.2h0M478.1 273.9h0M517.3 263.9h0M462.4 250.7h0M498.9 265.7h0M522.6 268.7h0M500.5 268.0h0M483.6 285.6h0M522.7 266.4h0M475.2 246.3h0M473.3 257.7h0M467.4 257.5h0M503.4 264.9h0M472.4 253.1h0M503.4 264.6h0M522.5 266.5h0M501.0 265.7h0M476.3 254.1h0M456.1 255.3h0M463.0 259.4h0M503.2 268.4h0M467.5 255.9h0M483.7 287.7h0M506.0 270.7h0M479.0 278.6h0M513.0 270.3h0M511.2 262.8h0M455.8 262.3h0M466.1 255.1h0M501.3 263.6h0M461.9 243.9h0M500.7 262.1h0M459.6 260.7h0M464.2 246.2h0M505.6 269.4h0M472.7 256.5h0M462.9 259.3h0M475.0 258.4h0M470.7 254.9h0M481.9 291.6h0M488.1 260.2h0M501.5 259.2h0M457.1 254.2h0M487.2 265.8h0M463.3 253.1h0M471.2 252.9h0M459.8 256.1h0M520.6 263.0h0M470.6 253.9h0M515.9 260.9h0M462.8 248.8h0M471.8 260.1h0M469.9 255.7h0M519.7 268.8h0M460.3 254.4h0M469.4 253.2h0M463.4 244.4h0M467.7 259.0h0M491.1 268.8h0M506.9 263.1h0M490.0 267.8h0M465.2 256.2h0M506.8 260.4h0M518.2 266.0h0M496.9 255.9h0M470.2 257.2h0M464.9 259.1h0M495.9 257.4h0M502.6 270.8h0M471.4 255.8h0M521.4 270.9h0M524.2 312.7h0M524.6 309.1h0M525.0 305.4h0M523.3 301.1h0M523.5 295.2h0M523.6 291.0h0M522.8 286.0h0M523.2 281.8h0M522.8 276.4h0M523.4 271.5h0M524.0 267.2h0M523.1 262.0h0M523.1 258.3h0M454.2 312.7h0M454.9 309.3h0M455.6 304.5h0M454.4 301.4h0M455.0 297.9h0M454.7 293.5h0M455.2 287.8h0M455.7 282.3h0M455.7 278.5h0M454.1 274.2h0M454.2 268.5h0M454.5 265.4h0M455.7 261.6h0M454.7 256.0h0M455.5 251.4h0M460.7 197.6h0M460.7 206.1h0M469.1 206.4h0M462.6 216.5h0M468.2 218.3h0M471.9 218.3h0M460.7 227.1h0M472.8 224.6h0M458.0 232.2h0M471.0 232.2h0M462.6 237.2h0M476.5 237.7h0M501.1 231.4h0M489.5 245.3h0M503.5 244.8h0M511.8 244.8h0M517.4 248.6h0M484.9 267.6h0M478.4 254.9h0M466.3 224.6h0M464.5 232.2h0M469.1 239.8h0M512.0 245.6h0M516.6 249.9h0M523.1 252.4h0" fill="none" stroke="#4096AA" stroke-width="7.30" stroke-linecap="round"/></g>
<polygon points="715.0,316.2 715.0,259.9 717.0,257.6 719.0,254.9 721.0,254.8 723.0,254.8 725.0,254.8 727.0,254.8 729.0,254.8 731.0,254.8 733.0,254.8 735.0,254.8 737.0,255.6 739.0,262.3 741.0,267.5 743.0,267.6 745.0,267.6 747.0,267.7 749.0,267.8 751.0,267.9 753.0,268.0 755.0,268.1 757.0,268.2 759.0,268.3 761.0,268.4 763.0,268.5 765.0,268.6 767.0,268.6 769.0,270.7 771.0,276.7 773.0,279.7 775.0,278.9 777.0,278.1 779.0,277.0 781.0,275.0 783.0,273.0 785.0,271.0 787.0,269.0 789.0,267.0 791.0,265.0 793.0,265.0 795.0,265.2 797.0,265.3 799.0,265.4 801.0,265.5 803.0,265.7 805.0,265.8 807.0,265.9 809.0,266.0 811.0,266.2 813.0,268.2 815.0,270.7 817.0,273.1 818.6,275.0 818.6,316.2" fill="#FF868A" />
<g transform="scale(1.36 1)"><path d="M576.2 270.0h0M546.6 267.8h0M586.8 264.7h0M542.9 266.2h0M570.2 282.7h0M547.5 268.7h0M566.8 272.3h0M582.5 264.6h0M577.5 264.5h0M563.3 269.7h0M575.8 279.0h0M585.7 266.9h0M598.1 270.3h0M598.4 262.7h0M582.1 267.8h0M584.4 265.5h0M544.5 265.7h0M538.9 255.5h0M534.7 258.6h0M570.7 281.7h0M560.6 270.7h0M530.3 251.5h0M555.7 262.8h0M589.3 266.4h0M579.9 257.1h0M584.3 265.0h0M588.3 268.3h0M592.2 263.6h0M530.1 257.2h0M548.7 266.5h0M541.5 250.0h0M545.6 271.2h0M600.3 272.1h0M596.5 255.1h0M553.2 267.2h0M559.2 267.3h0M533.0 254.8h0M535.6 256.3h0M548.0 267.5h0M553.7 266.4h0M596.1 262.9h0M540.1 253.1h0M580.8 270.7h0M586.9 268.7h0M542.8 261.3h0M586.1 264.2h0M576.9 268.9h0M542.9 257.4h0M574.8 274.5h0M559.6 270.7h0M531.3 251.5h0M550.0 269.0h0M573.4 269.4h0M551.5 265.5h0M540.4 259.2h0M588.7 268.2h0M586.3 265.7h0M581.1 269.4h0M535.5 257.8h0M540.0 252.2h0M562.4 267.8h0M565.6 270.9h0M580.7 269.0h0M536.7 256.7h0M563.9 272.1h0M545.0 269.1h0M580.4 263.9h0M561.3 266.6h0M573.7 278.1h0M575.0 272.3h0M599.8 263.9h0M562.6 266.9h0M534.0 255.5h0M560.6 270.3h0M535.8 243.6h0M549.8 263.2h0M536.7 254.9h0M567.4 273.3h0M541.6 252.6h0M553.4 268.5h0M599.1 271.1h0M582.5 264.1h0M563.1 262.4h0M549.9 270.5h0M582.0 265.0h0M598.2 274.0h0M553.5 268.1h0M562.9 253.8h0M590.7 264.8h0M582.8 264.2h0M559.2 268.7h0M570.5 283.6h0M572.8 276.3h0M552.6 267.5h0M548.2 268.2h0M554.5 266.4h0M545.4 262.1h0M574.9 272.2h0M546.7 264.9h0M600.5 273.6h0M587.7 268.7h0M556.5 262.4h0M567.9 284.2h0M553.9 267.9h0M592.4 271.9h0M582.7 265.6h0M532.5 251.7h0M561.9 272.5h0M585.5 259.4h0M553.6 266.9h0M552.6 273.2h0M545.4 266.8h0M582.5 267.0h0M558.0 269.7h0M551.4 270.8h0M563.0 266.1h0M551.5 264.8h0M536.7 257.6h0M566.4 275.0h0M592.6 263.0h0M555.2 273.3h0M579.2 274.1h0M531.6 254.4h0M580.8 264.1h0M566.8 276.1h0M554.8 272.2h0M586.9 270.6h0M600.6 273.1h0M580.2 259.0h0M550.8 271.4h0M542.5 258.9h0M577.3 277.1h0M601.2 276.5h0M542.3 253.0h0M583.8 260.5h0M595.7 264.6h0M565.3 268.9h0M597.9 272.6h0M569.4 282.7h0M587.0 267.4h0M547.7 269.0h0M566.1 270.9h0M529.5 258.2h0M583.0 265.2h0M566.3 277.4h0M594.3 268.9h0M581.0 266.1h0M580.3 271.5h0M595.8 272.5h0M561.0 267.7h0M586.5 261.8h0M562.2 272.3h0M553.3 264.3h0M543.4 264.1h0M573.6 275.0h0M544.8 267.7h0M551.8 266.1h0M563.6 273.6h0M564.1 262.2h0M543.3 259.3h0M541.2 259.2h0M598.8 270.1h0M559.7 271.5h0M557.3 273.6h0M570.3 284.4h0M581.6 267.7h0M595.4 266.9h0M550.6 269.5h0M582.1 255.6h0M555.4 267.3h0M571.6 276.1h0M597.2 266.9h0M542.2 262.7h0M586.8 266.9h0M563.6 268.3h0M593.6 267.8h0M596.1 265.7h0M553.0 270.3h0M585.7 266.3h0M557.0 273.1h0M567.9 280.6h0M588.3 269.4h0M530.6 253.6h0M587.2 265.7h0M533.2 258.7h0M581.0 264.7h0M568.8 271.1h0M595.8 264.8h0M583.0 260.9h0M535.8 253.2h0M572.1 265.0h0M533.1 253.6h0M580.1 263.7h0M540.7 258.0h0M577.6 261.2h0M599.7 271.6h0M547.3 273.6h0M600.8 269.7h0M542.0 257.4h0M582.2 268.0h0M578.1 272.1h0M586.1 265.2h0M592.6 264.6h0M557.6 264.9h0M595.0 263.6h0M541.7 257.8h0M529.4 254.9h0M566.2 279.1h0M558.9 268.4h0M581.6 270.0h0M598.0 264.0h0M551.9 267.5h0M594.2 266.3h0M588.3 255.0h0M552.0 264.5h0M573.1 281.9h0M564.3 274.0h0M535.0 251.3h0M539.8 253.8h0M594.5 265.6h0M596.4 271.1h0M536.5 253.7h0M591.9 268.7h0M547.6 267.6h0M536.1 257.4h0M544.5 265.3h0M555.8 266.6h0M601.2 312.7h0M600.2 308.4h0M600.6 303.0h0M600.9 298.6h0M601.1 294.4h0M599.2 290.0h0M599.3 284.8h0M599.1 279.7h0M600.2 273.8h0M599.3 268.5h0M528.6 312.7h0M529.4 309.0h0M528.8 305.9h0M529.5 302.6h0M528.0 296.9h0M528.8 292.5h0M529.3 287.4h0M529.7 283.3h0M528.2 279.8h0M528.2 274.3h0M528.9 270.8h0M528.2 266.8h0M528.8 261.0h0M528.4 255.6h0M534.7 148.0h0M534.7 163.9h0M534.7 169.0h0M534.7 175.3h0M534.7 181.6h0M535.2 189.2h0M532.4 196.8h0M535.2 198.1h0M534.3 204.4h0M539.9 208.2h0M535.2 212.0h0M529.7 218.3h0M535.2 219.5h0M533.4 225.9h0M536.2 229.6h0M533.4 234.7h0M535.2 239.8h0M540.8 243.5h0M531.5 244.8h0M534.3 191.7h0M535.2 206.9h0M532.4 229.6h0M537.1 237.2h0M530.6 237.2h0M549.7 206.9h0M551.0 215.7h0M556.6 222.1h0M547.3 227.1h0M553.8 232.2h0M551.0 237.2h0M557.5 244.8h0M565.0 246.8h0M570.5 248.6h0M576.1 254.9h0M572.8 191.7h0M572.4 201.3h0M584.1 217.5h0M592.8 211.5h0M585.4 224.1h0M592.8 224.1h0M589.1 230.9h0M589.1 237.2h0M583.5 246.8h0M589.1 244.8h0M600.3 239.8h0M603.1 243.5h0M594.7 252.4h0M598.4 254.9h0M549.2 244.8h0M552.9 248.6h0" fill="none" stroke="#FF868A" stroke-width="7.30" stroke-linecap="round"/></g>
<polygon points="818.6,316.2 818.6,277.6 820.6,276.9 822.6,276.1 824.6,275.3 826.6,274.5 828.6,273.7 830.6,272.9 832.6,271.7 834.6,270.2 836.6,268.7 838.6,267.2 840.6,265.7 842.6,265.0 844.6,265.1 846.6,265.3 848.6,265.5 850.6,265.6 852.6,265.8 854.6,265.9 856.6,266.1 858.6,266.2 860.6,266.4 862.6,266.5 864.6,266.7 866.6,266.8 868.6,267.0 870.6,267.1 872.6,267.3 874.6,267.3 876.6,264.8 878.6,262.3 880.6,261.2 882.6,261.2 884.6,261.3 886.6,261.4 888.6,261.4 890.6,261.5 892.6,261.6 894.6,261.6 896.6,261.7 898.6,261.7 900.6,261.8 902.6,261.9 904.6,261.9 906.6,262.0 908.6,262.1 910.6,262.1 912.6,262.2 914.6,262.3 916.6,262.3 918.4,262.4 918.4,316.2" fill="#4096AA" />
<g transform="scale(1.36 1)"><path d="M620.6 261.4h0M672.6 261.6h0M642.2 263.7h0M612.0 269.5h0M652.5 257.9h0M637.3 268.0h0M669.2 266.0h0M643.6 265.0h0M614.7 270.0h0M623.8 267.4h0M658.0 259.1h0M666.7 267.2h0M673.3 265.5h0M672.3 264.1h0M627.0 266.3h0M613.8 273.0h0M644.3 260.3h0M630.3 260.6h0M642.9 265.4h0M630.2 264.5h0M672.4 268.2h0M609.7 276.8h0M619.5 262.7h0M663.2 262.8h0M669.5 251.1h0M654.7 260.9h0M634.8 257.0h0M644.6 267.0h0M667.8 264.8h0M606.1 275.1h0M662.9 268.0h0M623.8 261.8h0M627.7 257.2h0M653.6 266.9h0M673.3 266.9h0M624.0 266.9h0M651.1 258.5h0M674.1 263.4h0M616.4 266.7h0M630.1 259.8h0M615.0 268.4h0M646.0 257.4h0M640.1 267.9h0M633.8 263.1h0M609.2 272.8h0M657.7 266.3h0M622.0 267.8h0M632.1 270.1h0M620.6 267.2h0M636.6 270.9h0M647.1 260.1h0M610.9 271.2h0M650.2 261.0h0M640.7 259.3h0M615.9 268.3h0M668.3 260.6h0M616.7 266.9h0M664.0 258.8h0M648.6 264.1h0M628.5 270.5h0M654.9 259.5h0M651.6 263.8h0M611.6 263.9h0M620.7 264.1h0M611.3 275.8h0M628.4 269.3h0M620.7 268.0h0M635.1 265.6h0M642.9 258.9h0M612.1 272.4h0M618.7 264.5h0M661.3 267.1h0M661.7 259.9h0M638.8 271.1h0M653.6 265.5h0M608.4 275.5h0M613.0 269.0h0M645.6 260.6h0M653.4 264.7h0M624.4 255.8h0M605.5 280.2h0M665.2 258.9h0M665.7 257.8h0M631.6 261.7h0M608.2 278.9h0M674.3 267.4h0M659.7 259.0h0M672.4 265.5h0M644.5 267.4h0M638.7 267.7h0M640.6 265.1h0M624.5 266.3h0M634.3 263.5h0M642.1 271.5h0M654.0 259.7h0M622.5 260.1h0M631.2 267.3h0M654.4 258.9h0M655.9 263.4h0M630.0 266.8h0M657.6 258.0h0M621.4 264.5h0M652.1 262.7h0M624.1 267.2h0M607.5 267.4h0M651.7 255.9h0M621.1 263.7h0M660.4 260.4h0M630.8 268.1h0M654.6 260.0h0M665.4 262.5h0M627.0 254.5h0M616.2 273.0h0M664.3 266.4h0M667.0 260.8h0M658.8 260.1h0M667.8 262.4h0M646.5 259.7h0M632.3 263.9h0M631.0 263.3h0M652.3 258.7h0M606.6 275.4h0M625.6 270.8h0M668.3 264.9h0M645.1 262.0h0M627.8 266.4h0M640.6 267.5h0M626.8 265.9h0M667.8 268.6h0M621.9 260.0h0M645.9 260.2h0M660.4 257.6h0M659.0 266.5h0M609.0 273.1h0M648.6 262.1h0M643.2 270.9h0M612.5 275.5h0M635.8 250.5h0M637.2 265.1h0M611.7 273.8h0M635.2 265.7h0M653.9 266.0h0M617.0 267.5h0M631.0 260.5h0M666.1 262.2h0M647.9 259.8h0M611.1 264.7h0M613.2 270.6h0M627.9 270.4h0M628.7 270.9h0M630.2 264.8h0M651.2 260.4h0M633.4 270.9h0M636.9 263.1h0M656.1 262.2h0M671.8 263.0h0M639.7 265.6h0M617.2 267.8h0M623.2 262.1h0M647.7 263.6h0M627.0 263.3h0M638.7 264.0h0M626.6 265.5h0M648.0 259.9h0M620.6 268.9h0M644.5 262.3h0M636.3 261.1h0M650.5 264.8h0M607.5 272.7h0M655.7 266.3h0M617.5 263.8h0M606.3 270.7h0M662.8 261.4h0M665.0 267.4h0M628.7 267.6h0M609.8 277.1h0M613.6 271.1h0M624.5 263.7h0M665.5 249.8h0M660.4 267.1h0M661.4 258.4h0M611.6 267.5h0M647.7 255.0h0M653.7 264.7h0M636.8 272.7h0M624.7 266.8h0M622.4 263.7h0M620.8 271.0h0M630.8 266.9h0M607.1 275.3h0M666.0 261.2h0M629.3 266.1h0M633.4 264.3h0M668.9 263.1h0M659.8 265.8h0M629.7 260.5h0M624.4 265.1h0M631.4 264.2h0M635.5 272.0h0M622.8 263.1h0M646.9 258.0h0M659.1 266.5h0M659.7 263.6h0M635.5 269.7h0M618.3 267.4h0M640.6 267.4h0M665.3 260.6h0M617.9 263.6h0M638.2 267.0h0M640.1 260.5h0M669.7 260.7h0M658.4 262.2h0M620.3 261.7h0M655.6 264.3h0M650.2 262.6h0M609.7 274.6h0M615.9 270.3h0M612.2 271.8h0M608.7 272.7h0M672.9 312.7h0M673.4 309.4h0M673.0 305.7h0M673.2 301.3h0M673.9 295.9h0M672.8 292.6h0M673.1 289.6h0M673.9 286.2h0M674.5 280.9h0M672.4 277.3h0M673.3 272.0h0M673.2 266.2h0M672.5 262.3h0M673.5 256.4h0M604.9 312.7h0M605.6 307.4h0M604.4 303.0h0M605.8 298.7h0M605.3 294.5h0M605.0 289.8h0M604.6 285.1h0M605.7 280.4h0M604.8 277.2h0M605.9 271.6h0M606.4 238.0h0M609.6 257.4h0M618.8 249.9h0M629.6 238.5h0M633.7 246.6h0M636.5 194.3h0M636.5 204.4h0M651.4 241.8h0M656.0 234.7h0M661.6 239.8h0M665.3 225.9h0M668.1 223.3h0M666.2 217.0h0M676.8 217.5h0M670.9 235.2h0M677.4 230.9h0M676.5 239.8h0M675.5 244.8h0M667.2 246.1h0M626.3 252.4h0M643.0 256.2h0M663.4 244.8h0M669.0 242.3h0" fill="none" stroke="#4096AA" stroke-width="7.30" stroke-linecap="round"/></g>
<polygon points="918.4,316.2 918.4,259.9 920.4,259.9 922.4,259.9 924.4,259.9 926.4,259.9 928.4,259.9 930.4,259.9 932.4,259.9 934.4,259.9 936.4,259.9 938.4,259.9 940.4,259.9 942.4,259.9 944.4,259.9 946.4,259.9 948.4,259.9 950.4,259.9 952.4,259.9 954.4,259.9 956.4,259.9 958.4,262.3 960.4,271.8 962.4,281.3 964.4,284.2 966.4,284.7 968.4,284.0 970.4,278.3 972.4,272.6 974.4,267.0 976.4,263.6 978.4,263.6 980.4,263.5 982.4,263.4 984.4,263.4 986.4,263.3 988.4,263.2 990.4,263.2 992.4,263.1 994.4,263.0 996.4,263.0 998.4,262.9 1000.4,262.8 1002.4,262.8 1004.4,262.7 1006.4,262.6 1008.4,262.6 1010.4,262.5 1012.4,262.4 1014.0,262.4 1014.0,316.2" fill="#FF868A" />
<g transform="scale(1.36 1)"><path d="M720.1 266.1h0M709.7 285.4h0M725.8 259.7h0M721.2 264.3h0M680.1 259.6h0M718.2 262.3h0M723.0 267.6h0M698.9 262.8h0M686.3 255.2h0M740.6 267.3h0M703.0 261.4h0M711.8 283.2h0M713.2 285.0h0M704.0 258.9h0M742.8 265.4h0M733.8 266.4h0M697.1 258.8h0M708.3 278.0h0M707.8 278.8h0M688.7 259.9h0M740.8 256.2h0M715.8 267.3h0M708.0 277.4h0M717.4 259.2h0M739.8 263.7h0M726.0 265.2h0M687.0 256.9h0M688.6 258.7h0M684.6 262.3h0M687.7 256.7h0M695.3 264.7h0M681.7 255.3h0M741.2 264.7h0M735.8 262.0h0M724.6 265.3h0M697.0 258.2h0M707.6 283.4h0M698.4 263.0h0M684.3 257.7h0M693.8 262.5h0M712.0 282.2h0M705.9 264.2h0M743.6 262.3h0M741.1 267.2h0M719.1 269.8h0M721.5 261.6h0M683.9 253.9h0M695.8 257.4h0M709.2 280.0h0M722.4 265.9h0M721.6 259.1h0M691.3 251.7h0M706.7 278.6h0M727.7 262.0h0M716.3 265.7h0M741.5 257.1h0M744.4 266.2h0M694.5 260.2h0M740.8 262.9h0M696.3 257.7h0M699.3 263.8h0M734.4 261.3h0M689.9 262.9h0M692.6 258.4h0M688.9 256.6h0M734.8 267.4h0M698.7 261.0h0M679.4 260.1h0M679.4 255.5h0M678.6 250.4h0M695.4 259.6h0M725.6 263.5h0M694.9 265.5h0M703.3 251.4h0M686.9 253.0h0M725.7 262.5h0M715.0 267.4h0M714.4 276.3h0M691.3 259.5h0M730.2 263.7h0M739.7 260.8h0M700.2 253.4h0M685.4 263.2h0M740.3 263.6h0M740.7 260.4h0M709.2 281.2h0M685.9 262.2h0M695.0 262.3h0M687.1 262.3h0M700.8 257.3h0M708.1 282.9h0M690.1 248.8h0M683.6 257.1h0M710.5 289.6h0M706.0 269.9h0M717.4 264.2h0M711.2 287.5h0M712.1 286.5h0M744.6 263.4h0M679.4 259.0h0M706.6 273.5h0M742.6 260.4h0M717.1 266.7h0M695.9 256.3h0M714.5 275.9h0M705.4 271.3h0M731.6 260.0h0M718.3 264.0h0M728.9 269.0h0M722.7 268.7h0M733.3 256.7h0M716.8 265.4h0M729.0 261.7h0M714.6 269.4h0M739.1 266.9h0M680.5 261.3h0M726.8 256.1h0M710.3 284.7h0M725.3 253.0h0M699.8 252.7h0M731.0 267.1h0M731.6 264.2h0M693.6 259.2h0M718.7 266.0h0M741.8 264.3h0M695.0 259.6h0M701.5 255.1h0M715.6 272.0h0M679.8 261.8h0M740.6 267.8h0M704.9 267.6h0M682.9 258.8h0M687.5 263.3h0M717.1 269.7h0M712.2 288.4h0M733.0 268.7h0M732.3 261.2h0M736.1 257.0h0M729.4 262.4h0M733.8 251.1h0M733.9 256.3h0M723.9 265.5h0M716.2 268.2h0M714.6 279.7h0M737.5 266.4h0M723.2 268.2h0M729.4 261.7h0M697.3 257.9h0M732.6 262.3h0M701.7 253.4h0M683.5 255.1h0M722.8 264.1h0M722.6 259.1h0M708.4 285.6h0M694.6 259.6h0M730.6 265.2h0M687.0 259.7h0M697.3 256.3h0M700.2 264.7h0M720.9 263.4h0M739.7 256.3h0M716.2 262.9h0M695.7 262.5h0M729.5 265.0h0M744.2 262.4h0M734.2 257.8h0M686.8 261.5h0M739.8 260.7h0M712.7 282.9h0M709.6 282.9h0M740.0 267.3h0M687.8 255.9h0M736.4 268.0h0M680.3 259.4h0M703.4 254.9h0M728.5 263.4h0M691.6 259.6h0M684.5 248.4h0M703.5 261.8h0M737.6 257.5h0M702.8 259.1h0M713.0 280.2h0M743.7 262.6h0M706.3 278.6h0M717.8 263.5h0M695.2 261.6h0M708.2 275.0h0M692.3 260.0h0M701.5 261.1h0M694.3 257.5h0M714.2 272.6h0M683.0 260.9h0M703.8 257.4h0M698.6 263.1h0M722.0 262.0h0M710.9 289.6h0M720.0 265.1h0M694.0 259.7h0M732.6 265.8h0M701.6 258.4h0M721.9 265.3h0M691.2 252.6h0M713.9 273.5h0M700.8 264.8h0M679.5 263.9h0M730.4 260.4h0M694.0 257.4h0M726.5 267.0h0M716.6 268.1h0M703.7 245.2h0M744.6 312.7h0M743.8 309.6h0M744.3 305.4h0M743.1 301.5h0M743.9 296.1h0M743.7 290.9h0M744.3 287.8h0M743.7 284.1h0M743.2 281.1h0M744.3 276.1h0M743.6 271.2h0M744.1 266.0h0M743.8 262.4h0M744.3 257.6h0M678.1 312.7h0M677.7 308.7h0M678.8 304.6h0M677.8 299.9h0M677.7 294.7h0M677.8 289.4h0M678.0 286.2h0M678.0 281.6h0M679.2 276.0h0M678.9 272.1h0M678.5 267.0h0M679.2 263.3h0M677.5 257.4h0M678.1 253.4h0M683.0 237.7h0M687.6 238.5h0M696.9 234.2h0M700.6 241.0h0M691.3 244.8h0M685.7 244.8h0M696.9 247.3h0M709.0 254.9h0M722.0 216.3h0M728.9 220.8h0M740.6 211.2h0M719.2 236.7h0M723.8 234.7h0M731.3 238.5h0M717.3 247.3h0M722.9 244.8h0M727.6 253.7h0M735.9 249.9h0M740.6 246.8h0M718.3 258.7h0M709.9 266.3h0M693.2 241.0h0M688.5 243.5h0" fill="none" stroke="#FF868A" stroke-width="7.30" stroke-linecap="round"/></g>
<polygon points="1014.0,316.2 1014.0,256.1 1016.0,256.1 1018.0,256.1 1020.0,256.1 1022.0,256.1 1024.0,256.1 1026.0,256.1 1028.0,256.1 1030.0,256.1 1032.0,256.1 1034.0,256.1 1036.0,256.1 1038.0,256.1 1040.0,256.1 1042.0,256.1 1044.0,256.1 1046.0,256.1 1048.0,256.1 1050.0,256.1 1052.0,256.1 1054.0,256.1 1056.0,257.0 1058.0,259.7 1060.0,262.4 1062.0,265.0 1064.0,266.3 1066.0,266.4 1068.0,266.5 1070.0,266.7 1072.0,266.8 1074.0,267.0 1076.0,267.1 1078.0,267.3 1080.0,267.4 1082.0,263.6 1084.0,258.2 1086.0,257.3 1088.0,257.3 1090.0,257.3 1091.0,257.3 1091.0,316.2" fill="#4096AA" />
<g transform="scale(1.36 1)"><path d="M771.5 248.0h0M792.8 265.2h0M796.2 261.0h0M755.0 254.6h0M758.3 258.8h0M772.4 258.1h0M789.6 264.6h0M797.2 256.3h0M773.9 254.9h0M795.5 260.8h0M797.6 249.6h0M785.7 269.0h0M792.8 268.9h0M783.9 269.7h0M771.3 243.6h0M786.3 267.7h0M755.1 258.8h0M758.1 250.8h0M781.7 259.9h0M760.3 254.2h0M797.9 258.2h0M799.2 262.7h0M795.7 265.7h0M798.4 262.7h0M789.6 266.3h0M754.2 245.7h0M790.1 264.4h0M784.9 269.8h0M751.2 249.5h0M791.1 270.6h0M764.7 252.8h0M774.6 261.7h0M784.5 271.5h0M798.7 246.9h0M785.9 266.3h0M749.7 250.3h0M780.2 259.6h0M750.4 249.0h0M751.1 262.6h0M787.8 266.2h0M796.1 261.9h0M755.8 260.9h0M749.1 253.8h0M801.4 263.6h0M793.1 262.4h0M785.5 267.3h0M756.5 259.2h0M755.8 251.7h0M762.9 257.9h0M782.9 269.7h0M775.8 260.7h0M760.2 257.6h0M765.4 258.0h0M750.7 250.8h0M795.1 266.3h0M788.8 270.6h0M759.7 257.2h0M789.7 268.1h0M792.2 268.8h0M755.1 255.2h0M786.9 266.5h0M789.9 268.2h0M797.3 258.2h0M779.9 266.1h0M779.0 263.6h0M771.0 257.7h0M767.9 256.9h0M768.4 244.4h0M749.8 254.1h0M772.5 255.1h0M761.5 262.0h0M798.3 259.0h0M765.9 262.0h0M792.9 267.4h0M785.6 264.2h0M769.3 260.6h0M794.3 261.1h0M780.1 254.9h0M773.0 255.1h0M787.4 272.0h0M783.9 270.5h0M797.9 254.1h0M779.8 262.4h0M797.7 253.1h0M760.9 258.3h0M766.0 259.7h0M758.5 253.6h0M798.6 249.3h0M780.8 266.7h0M781.7 264.7h0M750.7 259.1h0M757.9 258.9h0M796.3 259.9h0M779.7 267.1h0M757.1 257.6h0M796.6 259.7h0M755.8 257.0h0M769.7 253.7h0M773.9 259.7h0M796.4 265.3h0M762.1 247.1h0M784.7 266.1h0M756.0 251.0h0M785.6 267.8h0M759.8 257.1h0M784.7 263.0h0M786.3 264.4h0M762.6 260.9h0M777.8 259.2h0M764.2 256.8h0M790.5 266.7h0M795.4 260.7h0M751.2 256.6h0M776.7 255.6h0M771.5 262.0h0M788.5 264.9h0M800.5 262.2h0M755.1 254.5h0M795.6 262.1h0M759.4 257.7h0M782.7 263.9h0M763.2 262.7h0M751.2 254.8h0M758.7 260.7h0M761.9 259.5h0M783.4 264.5h0M794.9 266.2h0M761.6 256.6h0M778.0 261.8h0M773.5 261.6h0M749.9 255.0h0M780.6 259.6h0M764.4 254.5h0M754.6 257.7h0M770.4 259.8h0M765.7 255.9h0M770.1 257.7h0M777.9 259.3h0M791.0 268.4h0M798.0 257.3h0M789.1 269.8h0M779.0 262.3h0M754.0 251.0h0M770.3 253.4h0M786.0 266.9h0M795.2 263.9h0M788.9 265.1h0M766.9 261.2h0M773.1 252.4h0M765.8 258.7h0M795.3 267.7h0M770.1 254.8h0M778.1 259.7h0M795.4 260.4h0M753.4 262.1h0M751.0 254.0h0M778.0 259.7h0M778.2 266.2h0M754.3 260.0h0M782.6 265.6h0M797.8 256.3h0M761.4 251.5h0M776.8 253.2h0M776.6 254.9h0M769.8 255.2h0M799.4 256.9h0M764.9 254.8h0M790.9 271.7h0M784.9 268.1h0M801.0 312.7h0M801.4 308.1h0M801.2 305.1h0M800.3 299.9h0M799.6 294.4h0M800.8 290.4h0M800.1 284.9h0M800.7 278.9h0M799.5 275.8h0M800.5 272.6h0M799.8 268.6h0M799.4 264.3h0M801.1 258.5h0M800.2 253.9h0M800.6 249.9h0M749.6 312.7h0M749.1 306.8h0M747.9 301.4h0M748.4 298.0h0M748.6 294.6h0M749.3 288.6h0M748.2 282.8h0M747.8 279.1h0M747.9 275.3h0M748.3 270.7h0M748.8 265.7h0M748.3 260.9h0M749.1 255.7h0M748.7 250.5h0M772.6 180.6h0M772.6 203.9h0M767.6 217.0h0M778.2 226.6h0M781.0 230.4h0M763.9 236.0h0M769.4 234.7h0M774.1 232.2h0M762.9 241.0h0M773.1 239.8h0M780.6 242.8h0M800.1 224.1h0M801.4 231.7h0M800.5 238.5h0M796.4 243.5h0M794.5 251.9h0M787.1 258.7h0M790.8 258.7h0M766.6 239.8h0M770.4 241.0h0M800.5 242.3h0" fill="none" stroke="#4096AA" stroke-width="7.30" stroke-linecap="round"/></g>
<polygon points="1091.0,316.2 1091.0,254.8 1093.0,254.8 1095.0,254.8 1097.0,254.8 1099.0,254.8 1101.0,254.8 1103.0,254.8 1105.0,254.8 1107.0,255.8 1109.0,257.5 1111.0,259.1 1113.0,260.8 1115.0,261.1 1117.0,261.1 1119.0,261.1 1121.0,261.1 1123.0,261.1 1125.0,261.1 1127.0,261.1 1129.0,261.1 1131.0,261.1 1133.0,265.9 1135.0,267.6 1137.0,265.1 1139.0,262.6 1141.0,260.1 1143.0,259.9 1145.0,260.0 1147.0,260.1 1149.0,260.2 1151.0,260.3 1153.0,260.4 1155.0,260.5 1157.0,260.6 1159.0,260.7 1161.0,260.8 1163.0,260.9 1165.0,261.0 1167.0,261.1 1168.5,261.1 1168.5,316.2" fill="#FF868A" />
<g transform="scale(1.36 1)"><path d="M820.7 263.7h0M838.1 266.7h0M852.1 260.1h0M831.4 261.7h0M844.6 246.7h0M805.8 255.2h0M837.2 268.6h0M823.4 255.1h0M821.7 267.2h0M836.7 257.8h0M834.3 270.8h0M855.1 262.5h0M858.4 265.3h0M818.9 267.6h0M819.5 260.4h0M836.1 262.9h0M851.9 265.3h0M806.5 259.6h0M819.0 263.3h0M818.0 260.7h0M810.5 246.3h0M842.4 258.8h0M809.6 240.7h0M829.8 262.8h0M854.6 259.6h0M833.0 257.6h0M841.0 256.3h0M835.1 261.2h0M851.0 263.8h0M835.9 271.1h0M828.8 262.8h0M836.8 261.0h0M810.4 250.9h0M819.0 261.7h0M852.2 259.1h0M845.4 259.3h0M806.5 253.9h0M836.6 252.1h0M809.5 250.9h0M817.3 264.6h0M822.7 262.7h0M814.1 258.9h0M822.7 256.5h0M810.9 254.3h0M854.1 265.4h0M841.0 258.5h0M837.9 260.2h0M830.5 261.3h0M827.9 263.2h0M834.6 267.2h0M835.0 266.4h0M838.9 256.9h0M842.1 239.3h0M855.2 263.3h0M851.4 261.7h0M857.6 262.3h0M830.7 260.8h0M854.7 256.3h0M809.3 257.1h0M806.9 256.5h0M816.2 254.5h0M856.3 263.5h0M834.2 272.5h0M805.7 255.5h0M852.2 257.8h0M821.3 263.6h0M811.3 252.1h0M833.3 267.3h0M858.0 259.3h0M844.5 256.5h0M807.4 253.5h0M838.9 260.2h0M854.3 257.5h0M823.5 259.3h0M857.3 259.1h0M805.7 253.0h0M843.9 260.2h0M847.4 259.1h0M810.4 254.5h0M832.8 270.1h0M811.9 252.6h0M857.5 264.5h0M847.9 264.5h0M846.5 258.7h0M809.9 251.2h0M822.7 266.7h0M808.7 253.0h0M858.3 263.5h0M833.1 262.8h0M827.4 261.4h0M852.5 265.3h0M844.5 259.7h0M835.5 265.5h0M822.0 260.1h0M843.5 259.9h0M816.4 260.1h0M838.3 263.9h0M826.4 260.3h0M851.3 263.9h0M814.6 258.6h0M808.6 257.0h0M831.0 257.1h0M839.3 262.3h0M824.9 268.0h0M847.5 259.9h0M817.3 256.2h0M806.6 251.7h0M819.2 260.2h0M805.6 254.8h0M822.7 261.3h0M822.7 266.8h0M844.6 257.1h0M817.9 255.5h0M816.4 259.2h0M812.0 256.1h0M811.7 257.5h0M841.2 260.8h0M825.5 260.0h0M849.9 260.4h0M809.5 250.5h0M823.8 266.3h0M848.9 256.8h0M855.1 263.5h0M841.2 261.2h0M810.8 250.2h0M812.7 257.9h0M839.2 263.3h0M845.3 262.8h0M814.5 255.7h0M809.6 259.5h0M840.3 260.4h0M836.8 260.5h0M810.5 255.9h0M809.8 251.0h0M836.7 263.3h0M855.6 261.7h0M834.1 269.4h0M846.3 262.6h0M839.3 256.4h0M845.7 263.0h0M828.8 265.5h0M817.2 258.4h0M828.1 262.0h0M857.9 244.6h0M819.5 260.6h0M855.3 260.8h0M806.9 256.0h0M821.8 263.6h0M809.3 256.8h0M823.9 262.1h0M826.1 259.8h0M835.1 256.7h0M824.1 264.8h0M831.6 255.1h0M812.5 256.0h0M826.7 266.3h0M828.8 265.1h0M839.5 262.6h0M823.2 267.7h0M833.8 265.1h0M845.0 262.9h0M820.5 255.1h0M820.1 254.7h0M819.9 265.8h0M811.6 259.4h0M809.5 258.4h0M843.2 255.0h0M852.6 264.8h0M830.5 256.8h0M819.2 263.6h0M856.4 312.7h0M858.2 309.2h0M858.2 304.5h0M857.3 301.0h0M856.5 296.6h0M858.3 292.8h0M857.4 287.7h0M858.1 282.8h0M857.6 277.0h0M858.2 273.8h0M856.8 270.3h0M857.4 266.9h0M857.3 262.2h0M856.6 257.8h0M805.4 312.7h0M805.9 308.8h0M806.1 303.0h0M804.5 297.0h0M805.2 292.8h0M805.8 289.1h0M804.7 283.4h0M806.2 278.8h0M805.2 273.2h0M805.3 269.9h0M805.9 265.3h0M804.9 261.7h0M804.4 255.8h0M804.6 251.0h0M818.3 173.5h0M839.5 196.3h0M823.3 225.4h0M820.5 234.7h0M815.9 241.0h0M846.5 218.3h0M843.8 221.6h0M859.2 221.6h0M846.9 229.6h0M856.2 236.5h0M847.5 240.5h0M852.1 244.8h0M854.9 246.8h0M829.8 247.3h0M839.1 246.8h0M807.5 242.3h0M811.2 243.5h0" fill="none" stroke="#FF868A" stroke-width="7.30" stroke-linecap="round"/></g>
<polygon points="1168.5,316.2 1168.5,259.9 1170.5,259.9 1172.5,260.0 1174.5,260.1 1176.5,260.1 1178.5,260.2 1180.5,260.3 1182.5,260.3 1184.5,260.4 1186.5,260.5 1188.5,260.5 1190.5,260.6 1192.5,260.7 1194.5,260.7 1196.5,260.8 1198.5,260.9 1200.5,260.9 1202.5,261.0 1204.5,261.0 1206.5,261.1 1208.5,262.3 1210.5,263.8 1212.5,264.9 1214.5,264.9 1216.5,264.9 1218.5,264.9 1220.5,264.9 1222.5,264.9 1224.5,264.9 1226.5,264.9 1228.5,264.9 1230.5,264.9 1232.5,264.9 1234.5,264.9 1236.5,264.9 1238.5,264.5 1240.5,263.8 1242.5,263.2 1244.5,262.5 1246.5,262.5 1248.5,262.6 1250.5,262.7 1252.5,262.9 1254.5,263.0 1256.5,263.1 1258.5,263.2 1260.5,263.4 1262.5,263.5 1264.5,263.6 1265.0,263.7 1265.0,316.2" fill="#4096AA" />
<g transform="scale(1.36 1)"><path d="M890.8 257.1h0M921.2 261.4h0M868.3 262.1h0M927.5 266.8h0M864.8 261.1h0M869.1 260.1h0M884.4 259.8h0M870.6 259.4h0M880.1 264.3h0M927.3 257.0h0M915.5 260.6h0M929.1 260.6h0M876.9 264.1h0M904.3 257.8h0M863.2 249.6h0M880.2 254.2h0M915.6 258.6h0M903.2 268.8h0M903.6 263.3h0M870.1 263.8h0M867.8 260.9h0M915.8 261.8h0M927.0 261.5h0M900.3 260.7h0M891.6 269.1h0M905.2 267.9h0M884.0 263.6h0M863.9 259.3h0M902.6 262.2h0M904.6 264.9h0M896.6 263.3h0M913.7 262.7h0M879.5 261.2h0M925.3 261.9h0M904.8 270.7h0M907.9 266.1h0M908.2 266.3h0M915.1 262.5h0M869.4 260.6h0M864.6 260.4h0M924.3 266.9h0M893.9 263.8h0M893.6 259.0h0M862.6 259.2h0M904.2 265.4h0M924.5 258.3h0M864.6 260.0h0M906.2 262.0h0M892.7 263.0h0M865.5 266.0h0M899.0 269.0h0M924.4 260.9h0M916.5 264.9h0M916.7 261.3h0M920.4 258.0h0M866.8 264.2h0M903.8 258.1h0M901.0 265.9h0M872.5 257.8h0M906.4 267.8h0M913.9 268.7h0M898.8 259.0h0M867.9 256.7h0M928.3 267.2h0M895.5 268.0h0M910.0 264.0h0M890.6 261.2h0M873.1 262.6h0M867.0 266.0h0M880.4 257.5h0M868.2 264.1h0M914.5 267.2h0M904.0 267.1h0M897.4 268.8h0M871.1 265.0h0M900.5 267.3h0M895.5 266.8h0M864.0 258.0h0M929.1 260.2h0M873.1 255.6h0M916.3 262.9h0M912.1 268.5h0M898.8 266.1h0M879.5 261.0h0M867.7 258.1h0M895.3 268.4h0M867.2 263.3h0M898.3 263.8h0M877.4 258.9h0M925.2 262.6h0M881.0 258.4h0M886.5 263.9h0M926.5 260.7h0M881.0 251.7h0M919.0 256.1h0M926.1 262.1h0M891.0 264.9h0M920.6 257.2h0M863.1 259.4h0M906.3 264.3h0M922.6 264.3h0M927.6 266.8h0M866.6 262.5h0M873.0 262.7h0M917.8 264.2h0M910.5 267.6h0M916.5 263.7h0M874.4 260.8h0M920.0 259.2h0M929.0 262.9h0M884.4 267.3h0M886.5 265.4h0M898.2 264.3h0M893.3 256.1h0M897.7 263.0h0M872.3 263.6h0M891.4 271.2h0M871.7 252.9h0M906.0 265.5h0M890.7 262.4h0M890.5 265.8h0M881.3 251.6h0M871.4 259.7h0M910.8 268.7h0M886.9 254.1h0M891.5 267.0h0M881.3 259.6h0M909.9 266.4h0M899.8 265.1h0M891.2 264.5h0M872.3 260.3h0M906.8 269.8h0M878.2 260.3h0M872.2 260.4h0M879.3 259.8h0M891.2 266.2h0M892.0 266.5h0M925.8 265.9h0M868.4 261.4h0M887.5 262.8h0M879.4 260.0h0M908.5 269.3h0M926.9 263.3h0M918.6 262.6h0M927.8 260.8h0M904.0 265.5h0M872.3 259.1h0M870.7 257.4h0M921.1 265.4h0M881.0 255.8h0M905.8 263.9h0M867.9 261.3h0M917.2 262.3h0M882.9 256.6h0M904.9 264.5h0M909.9 262.5h0M894.1 258.0h0M899.8 266.2h0M865.4 256.9h0M885.7 260.5h0M925.0 259.4h0M902.9 262.9h0M864.7 256.2h0M900.3 264.0h0M873.5 261.0h0M928.8 263.3h0M863.4 252.8h0M919.9 268.3h0M894.3 266.4h0M867.5 258.2h0M909.4 268.8h0M903.8 267.5h0M882.3 259.4h0M922.3 262.5h0M902.6 270.2h0M927.3 255.5h0M917.5 264.7h0M916.2 262.7h0M915.7 262.3h0M921.0 261.9h0M893.6 270.3h0M868.4 254.2h0M871.5 260.3h0M890.0 264.2h0M926.0 264.3h0M893.4 267.7h0M870.0 263.0h0M913.4 262.6h0M869.0 263.3h0M921.4 256.9h0M912.6 261.2h0M919.9 263.8h0M896.9 263.4h0M882.7 256.6h0M890.6 266.4h0M909.8 267.8h0M895.5 271.6h0M881.8 265.0h0M876.3 261.1h0M872.7 257.5h0M865.3 262.2h0M874.2 265.6h0M892.2 267.8h0M870.0 262.2h0M868.4 259.2h0M912.3 267.0h0M903.1 264.8h0M909.6 259.1h0M890.4 265.8h0M920.9 265.2h0M913.7 266.0h0M887.6 262.5h0M928.7 312.7h0M929.1 309.2h0M927.9 305.7h0M929.4 300.2h0M929.3 296.1h0M929.3 293.0h0M927.3 289.3h0M927.6 284.1h0M927.2 278.8h0M928.0 275.4h0M928.2 272.2h0M928.8 268.1h0M929.3 263.7h0M927.6 258.1h0M863.0 312.7h0M862.4 308.0h0M862.0 304.5h0M861.8 300.8h0M862.0 296.0h0M862.5 290.7h0M861.6 285.2h0M862.3 279.7h0M861.8 274.8h0M862.1 269.7h0M862.5 264.5h0M861.9 261.1h0M861.4 255.8h0M887.4 212.0h0M885.0 225.9h0M902.3 225.9h0M901.9 233.4h0M890.2 238.5h0M883.7 239.8h0M878.1 242.3h0M866.1 246.1h0M872.6 247.3h0M902.3 243.5h0M897.6 244.8h0M887.4 252.4h0M920.5 221.3h0M918.1 226.6h0M924.6 227.1h0M929.2 231.4h0M929.2 239.8h0M926.5 242.3h0M919.9 242.3h0M917.2 247.3h0M911.6 252.4h0M868.8 247.3h0M876.3 247.3h0" fill="none" stroke="#4096AA" stroke-width="7.30" stroke-linecap="round"/></g>
<polygon points="1265.0,316.2 1265.0,264.9 1267.0,264.9 1269.0,264.9 1271.0,264.9 1273.0,264.9 1275.0,264.9 1277.0,264.9 1279.0,264.9 1281.0,264.9 1283.0,264.6 1285.0,262.6 1287.0,262.4 1289.0,262.4 1291.0,262.4 1293.0,262.4 1295.0,262.4 1297.0,262.4 1299.0,262.4 1301.0,262.4 1303.0,262.4 1305.0,262.4 1307.0,262.4 1309.0,262.4 1311.0,262.4 1313.0,262.4 1315.0,262.4 1317.0,262.4 1319.0,262.4 1321.0,264.3 1323.0,274.3 1325.0,275.0 1327.0,274.6 1329.0,260.6 1331.0,257.3 1333.0,257.3 1335.0,257.3 1337.0,257.3 1339.0,257.3 1341.0,259.0 1343.0,260.4 1345.0,260.4 1347.0,260.4 1349.0,260.4 1351.0,260.4 1353.0,260.4 1355.0,260.4 1357.0,260.4 1359.0,260.4 1361.0,260.4 1363.0,260.4 1365.0,260.4 1365.6,260.4 1365.6,316.2" fill="#FF868A" />
<g transform="scale(1.36 1)"><path d="M971.6 263.7h0M966.8 265.3h0M938.6 263.7h0M974.7 274.7h0M949.7 257.1h0M995.0 257.3h0M972.2 276.6h0M977.6 260.1h0M968.1 260.2h0M997.1 256.8h0M990.7 254.9h0M983.2 257.1h0M938.4 260.1h0M989.5 259.4h0M996.5 262.1h0M1000.5 262.5h0M980.3 258.7h0M969.0 262.7h0M992.5 259.0h0M981.6 258.6h0M980.1 259.9h0M1001.3 262.4h0M938.9 269.6h0M935.7 265.2h0M994.2 265.9h0M959.5 267.1h0M971.5 261.9h0M933.8 263.8h0M991.1 266.1h0M980.9 261.3h0M955.7 259.6h0M991.7 259.1h0M981.8 256.0h0M956.2 261.6h0M942.9 266.8h0M934.5 267.4h0M942.8 257.9h0M985.9 255.2h0M971.4 253.0h0M960.5 251.5h0M1000.3 261.6h0M955.5 265.1h0M981.6 263.6h0M984.0 260.9h0M941.0 267.3h0M987.8 256.3h0M966.9 265.3h0M961.2 263.7h0M974.6 269.2h0M952.7 261.6h0M992.8 252.3h0M958.6 260.8h0M1001.9 246.1h0M938.1 267.0h0M934.5 266.8h0M981.1 256.8h0M956.6 262.1h0M940.7 265.8h0M936.4 265.4h0M979.0 261.8h0M939.1 271.4h0M948.9 259.5h0M936.7 268.8h0M943.7 265.1h0M949.6 261.0h0M994.4 261.7h0M976.9 269.2h0M988.0 261.8h0M967.9 261.1h0M952.9 260.8h0M933.8 268.5h0M983.8 259.7h0M974.3 274.9h0M969.1 264.7h0M969.5 261.9h0M941.8 265.5h0M958.2 261.6h0M1003.2 258.1h0M982.4 249.3h0M977.5 250.1h0M994.8 256.7h0M943.6 261.5h0M957.9 265.2h0M996.0 257.6h0M945.7 260.0h0M947.5 261.5h0M966.8 266.2h0M962.2 266.0h0M956.4 268.0h0M986.2 253.9h0M951.9 258.7h0M1001.0 260.4h0M937.1 266.2h0M1002.0 263.6h0M938.9 258.5h0M990.3 256.4h0M950.3 265.7h0M939.1 264.6h0M997.8 256.7h0M1001.3 259.9h0M960.1 256.9h0M988.6 263.2h0M957.0 262.0h0M984.0 260.2h0M947.4 262.0h0M992.9 256.7h0M984.2 259.9h0M951.4 262.5h0M981.3 256.0h0M978.2 252.6h0M992.1 255.0h0M969.8 265.4h0M978.9 260.2h0M967.7 265.7h0M962.4 263.2h0M948.9 266.2h0M995.4 264.2h0M942.2 267.6h0M988.1 259.1h0M1000.6 261.6h0M957.6 265.6h0M961.8 259.6h0M986.3 261.8h0M942.8 250.7h0M975.2 274.1h0M982.8 257.5h0M951.3 265.4h0M978.3 249.4h0M987.6 264.3h0M970.8 264.5h0M980.2 250.5h0M969.1 257.2h0M995.9 253.2h0M948.1 262.6h0M962.7 265.0h0M972.5 265.0h0M979.4 259.7h0M935.1 269.9h0M941.5 267.0h0M970.2 262.2h0M980.8 255.4h0M966.9 267.9h0M936.8 263.9h0M972.0 263.8h0M941.3 264.3h0M1001.8 260.3h0M951.4 263.8h0M959.9 259.5h0M962.9 250.7h0M968.8 263.4h0M985.0 260.5h0M947.4 258.4h0M946.9 263.6h0M985.1 263.4h0M939.9 261.9h0M976.4 268.7h0M964.8 255.5h0M988.1 262.2h0M943.9 266.8h0M975.9 270.2h0M973.2 265.0h0M990.8 254.4h0M964.2 263.4h0M942.2 265.9h0M945.6 256.9h0M994.7 263.9h0M996.2 259.0h0M950.5 261.2h0M991.4 264.3h0M957.2 264.0h0M1002.2 246.1h0M1000.4 253.6h0M972.9 279.4h0M967.4 264.2h0M977.1 261.6h0M942.6 262.5h0M946.1 251.8h0M942.9 262.6h0M975.9 272.9h0M978.0 248.1h0M983.5 257.4h0M962.9 264.2h0M970.1 268.0h0M957.2 261.9h0M989.0 261.2h0M992.4 260.8h0M934.4 265.4h0M1000.3 254.1h0M968.1 267.1h0M969.8 267.8h0M936.4 267.1h0M1003.2 261.0h0M988.8 265.5h0M934.8 265.5h0M992.8 264.4h0M995.5 254.1h0M937.0 263.6h0M942.0 268.9h0M973.7 275.9h0M938.1 261.6h0M966.5 258.8h0M947.9 262.0h0M977.4 259.2h0M987.6 259.5h0M980.2 247.2h0M967.5 266.9h0M963.6 260.9h0M1000.5 261.4h0M1001.6 256.9h0M940.7 256.3h0M998.0 256.0h0M999.8 262.3h0M975.1 273.9h0M985.4 256.1h0M972.5 272.7h0M994.7 262.3h0M990.6 261.1h0M963.7 266.2h0M995.3 263.9h0M948.5 266.8h0M987.7 266.0h0M1002.8 312.7h0M1002.9 308.7h0M1001.5 303.2h0M1002.1 297.5h0M1002.0 293.6h0M1002.3 289.1h0M1001.3 285.2h0M1002.8 280.3h0M1002.1 275.2h0M1001.2 269.6h0M1001.2 266.2h0M1002.3 261.6h0M1002.3 257.9h0M1001.3 254.9h0M934.0 312.7h0M933.6 309.5h0M933.3 305.0h0M933.5 299.4h0M933.6 293.6h0M932.6 287.9h0M932.9 282.4h0M933.8 276.6h0M933.7 270.7h0M933.3 266.6h0M932.5 261.2h0M985.4 181.9h0M989.1 219.5h0M984.4 223.3h0M978.5 225.9h0M981.3 229.6h0M985.5 232.2h0M985.0 239.2h0M989.6 240.3h0M958.0 232.2h0M949.3 241.8h0M943.2 246.6h0M964.5 240.3h0M968.3 244.8h0M937.6 252.9h0M959.0 247.8h0M978.5 246.8h0M995.2 246.8h0M1000.8 252.4h0M982.2 242.3h0M987.8 244.8h0" fill="none" stroke="#FF868A" stroke-width="7.30" stroke-linecap="round"/></g>
<line x1="108.9" y1="43.6" x2="108.9" y2="316.7" stroke="#000" stroke-width="2.00" />
<line x1="88.6" y1="44.6" x2="108.9" y2="44.6" stroke="#000" stroke-width="2.00" />
<text x="83.0" y="55.6" font-size="34.5" text-anchor="end" textLength="20.3" lengthAdjust="spacingAndGlyphs" >8</text>
<line x1="88.6" y1="112.6" x2="108.9" y2="112.6" stroke="#000" stroke-width="2.00" />
<text x="83.0" y="123.8" font-size="34.5" text-anchor="end" textLength="20.3" lengthAdjust="spacingAndGlyphs" >6</text>
<line x1="88.6" y1="180.7" x2="108.9" y2="180.7" stroke="#000" stroke-width="2.00" />
<text x="83.0" y="192.1" font-size="34.5" text-anchor="end" textLength="20.3" lengthAdjust="spacingAndGlyphs" >4</text>
<line x1="88.6" y1="248.7" x2="108.9" y2="248.7" stroke="#000" stroke-width="2.00" />
<text x="83.0" y="260.4" font-size="34.5" text-anchor="end" textLength="20.3" lengthAdjust="spacingAndGlyphs" >2</text>
<line x1="88.6" y1="316.7" x2="108.9" y2="316.7" stroke="#000" stroke-width="2.00" />
<text x="83.0" y="328.6" font-size="34.5" text-anchor="end" textLength="20.3" lengthAdjust="spacingAndGlyphs" >0</text>
<line x1="88.6" y1="316.7" x2="1373.0" y2="316.7" stroke="#000" stroke-width="2.00" />
<line x1="188.3" y1="316.7" x2="188.3" y2="335.3" stroke="#000" stroke-width="2.00" />
<text x="188.3" y="368.0" font-size="24.5" text-anchor="middle" textLength="15.0" lengthAdjust="spacingAndGlyphs" >1</text>
<line x1="321.3" y1="316.7" x2="321.3" y2="335.3" stroke="#000" stroke-width="2.00" />
<text x="318.8" y="368.0" font-size="24.5" text-anchor="middle" textLength="15.0" lengthAdjust="spacingAndGlyphs" >2</text>
<line x1="442.2" y1="316.7" x2="442.2" y2="335.3" stroke="#000" stroke-width="2.00" />
<text x="440.2" y="371.0" font-size="24.5" text-anchor="middle" textLength="15.0" lengthAdjust="spacingAndGlyphs" >3</text>
<line x1="563.0" y1="316.7" x2="563.0" y2="335.3" stroke="#000" stroke-width="2.00" />
<text x="562.0" y="368.0" font-size="24.5" text-anchor="middle" textLength="15.0" lengthAdjust="spacingAndGlyphs" >4</text>
<line x1="672.7" y1="316.7" x2="672.7" y2="335.3" stroke="#000" stroke-width="2.00" />
<text x="672.7" y="368.0" font-size="24.5" text-anchor="middle" textLength="15.0" lengthAdjust="spacingAndGlyphs" >5</text>
<line x1="775.5" y1="316.7" x2="775.5" y2="335.3" stroke="#000" stroke-width="2.00" />
<text x="774.0" y="368.0" font-size="24.5" text-anchor="middle" textLength="15.0" lengthAdjust="spacingAndGlyphs" >6</text>
<line x1="877.0" y1="316.7" x2="877.0" y2="335.3" stroke="#000" stroke-width="2.00" />
<text x="877.0" y="368.0" font-size="24.5" text-anchor="middle" textLength="15.0" lengthAdjust="spacingAndGlyphs" >7</text>
<line x1="974.7" y1="316.7" x2="974.7" y2="335.3" stroke="#000" stroke-width="2.00" />
<text x="973.2" y="368.0" font-size="24.5" text-anchor="middle" textLength="15.0" lengthAdjust="spacingAndGlyphs" >8</text>
<line x1="1060.6" y1="316.7" x2="1060.6" y2="335.3" stroke="#000" stroke-width="2.00" />
<text x="1060.6" y="368.0" font-size="24.5" text-anchor="middle" textLength="15.0" lengthAdjust="spacingAndGlyphs" >9</text>
<line x1="1138.2" y1="316.7" x2="1138.2" y2="335.3" stroke="#000" stroke-width="2.00" />
<text x="1138.2" y="368.0" font-size="24.5" text-anchor="middle" textLength="30.0" lengthAdjust="spacingAndGlyphs" >10</text>
<line x1="1225.8" y1="316.7" x2="1225.8" y2="335.3" stroke="#000" stroke-width="2.00" />
<text x="1227.8" y="368.0" font-size="24.5" text-anchor="middle" textLength="30.0" lengthAdjust="spacingAndGlyphs" >11</text>
<line x1="1321.2" y1="316.7" x2="1321.2" y2="335.3" stroke="#000" stroke-width="2.00" />
<text x="1320.7" y="368.0" font-size="24.5" text-anchor="middle" textLength="30.0" lengthAdjust="spacingAndGlyphs" >12</text>
<text x="85.5" y="368.0" font-size="24.5" textLength="44.5" lengthAdjust="spacingAndGlyphs" >Chr</text>
<line x1="106.0" y1="166.0" x2="1362.5" y2="166.0" stroke="#000" stroke-width="2.00" />
<text x="0" y="0" font-size="37.0" text-anchor="middle" transform="translate(44.6 210.6) rotate(-90) scale(0.925 1)" >-log<tspan font-size="21" dy="11.5">10</tspan><tspan dy="-11.5">(</tspan><tspan font-style="italic">P</tspan>)</text>
<text x="-0.6" y="27.6" font-size="38.0" font-weight="bold" >a</text>
<polygon points="452.3,71.3 496.0,60.8 496.0,81.8" fill="#000" />
<line x1="495.0" y1="71.3" x2="523.0" y2="71.3" stroke="#000" stroke-width="2.20" />
<text x="531.5" y="79.2" font-size="33.5" font-style="italic" textLength="71.5" lengthAdjust="spacingAndGlyphs" >GS3</text>
<polygon points="745.0,146.6 788.6,136.1 788.6,157.1" fill="#000" />
<line x1="787.6" y1="146.6" x2="816.5" y2="146.6" stroke="#000" stroke-width="2.20" />
<text x="828.0" y="153.6" font-size="33.5" font-style="italic" textLength="78.5" lengthAdjust="spacingAndGlyphs" >spd6</text>
<path d="M716 380V138.3H739.8V380" stroke="#000" stroke-width="1.9" stroke-dasharray="4.4 3.9" fill="none"/>
<path d="M716 380H739.8" stroke="#000" stroke-width="1.9" stroke-dasharray="4.4 3.9" fill="none"/>
<path d="M716 380L108.7 400.9V430" stroke="#000" stroke-width="1.9" stroke-dasharray="4.4 3.9" fill="none"/>
<path d="M739.8 380L1403.4 424.7V464" stroke="#000" stroke-width="1.9" stroke-dasharray="4.4 3.9" fill="none"/>
<text x="255.5" y="427.5" font-size="30.3" font-style="italic" textLength="268.5" lengthAdjust="spacingAndGlyphs" >LOC_Os06g04810</text>
<text x="724.5" y="427.5" font-size="30.3" font-style="italic" textLength="268.5" lengthAdjust="spacingAndGlyphs" >LOC_Os06g04830</text>
<text x="502.5" y="458.3" font-size="30.3" font-style="italic" textLength="268.0" lengthAdjust="spacingAndGlyphs" fill="#D8281E" >LOC_Os06g04820</text>
<text x="969.0" y="458.3" font-size="30.3" font-style="italic" textLength="268.5" lengthAdjust="spacingAndGlyphs" >LOC_Os06g04840</text>
<line x1="300.0" y1="491.3" x2="1211.0" y2="491.3" stroke="#000" stroke-width="1.90" />
<polygon points="317.8,491.5 333.7,484.4 447.9,484.4 447.9,498.6 333.7,498.6" fill="#929094" />
<polygon points="503.2,491.7 533.5,483.4 726.0,483.4 726.0,500.0 533.5,500.0" fill="#FF868A" />
<polygon points="780.9,491.5 807.9,483.1 989.9,483.1 989.9,499.9 807.9,499.9" fill="#929094" />
<polygon points="1016.8,491.5 1040.4,483.1 1195.8,483.1 1195.8,499.9 1040.4,499.9" fill="#929094" />
<line x1="298.5" y1="570.8" x2="724.0" y2="570.8" stroke="#000" stroke-width="1.90" />
<line x1="724.0" y1="570.8" x2="783.0" y2="568.6" stroke="#000" stroke-width="1.90" />
<line x1="989.0" y1="570.4" x2="1211.0" y2="570.4" stroke="#000" stroke-width="1.90" />
<polygon points="316.8,570.6 332.7,563.6 446.9,563.6 446.9,577.6 332.7,577.6" fill="#929094" />
<polygon points="501.5,570.8 531.8,562.4 724.3,562.4 724.3,579.2 531.8,579.2" fill="#FF868A" />
<polygon points="782.6,568.4 809.0,560.0 989.9,560.0 989.9,576.8 809.0,576.8" fill="#929094" />
<polygon points="1016.8,570.8 1040.4,562.4 1195.8,562.4 1195.8,579.2 1040.4,579.2" fill="#929094" />
<polygon points="715.8,555.9 756.3,555.9 736.1,569.7" fill="#4FBDB6" />
<line x1="302.3" y1="633.1" x2="728.0" y2="633.1" stroke="#000" stroke-width="1.90" />
<line x1="728.0" y1="633.1" x2="741.0" y2="633.1" stroke="#000" stroke-width="1.90" />
<line x1="741.0" y1="633.1" x2="1038.0" y2="633.1" stroke="#000" stroke-width="1.90" stroke-dasharray="4.2 3.2"/>
<line x1="1190.0" y1="633.1" x2="1214.0" y2="633.1" stroke="#000" stroke-width="1.90" />
<polygon points="320.2,633.3 334.7,626.3 450.3,626.3 450.3,640.3 334.7,640.3" fill="#929094" />
<polygon points="504.9,633.3 535.9,625.0 728.0,625.0 728.0,641.6 535.9,641.6" fill="#FF868A" />
<polygon points="1038.0,633.3 1060.0,625.0 1195.8,625.0 1195.8,641.6 1060.0,641.6" fill="#929094" />
<polygon points="719.2,619.0 760.0,619.0 739.8,632.8" fill="#DF2E20" />
<polygon points="312.4,613.9 352.9,613.9 332.7,627.7" fill="#E48380" />
<line x1="303.3" y1="705.6" x2="1211.0" y2="705.6" stroke="#000" stroke-width="1.90" />
<polygon points="321.2,705.6 336.0,698.5 451.6,698.5 451.6,712.7 336.0,712.7" fill="#929094" />
<polygon points="506.6,705.6 537.6,697.2 729.3,697.2 729.3,714.0 537.6,714.0" fill="#FF868A" />
<polygon points="784.3,705.6 812.9,697.2 993.9,697.2 993.9,714.0 812.9,714.0" fill="#929094" />
<polygon points="1016.8,705.6 1040.4,697.2 1195.8,697.2 1195.8,714.0 1040.4,714.0" fill="#929094" />
<polygon points="850.0,683.3 891.1,683.3 870.5,697.2" fill="#C2BDBE" />
<text x="158.0" y="490.6" font-size="33.0" textLength="95.0" lengthAdjust="spacingAndGlyphs" >Hap.1</text>
<text x="112.0" y="529.5" font-size="33.0" textLength="88.0" lengthAdjust="spacingAndGlyphs" >ZH11</text>
<text x="223.5" y="529.5" font-size="33.0" textLength="79.0" lengthAdjust="spacingAndGlyphs" >Chr6</text>
<text x="109.5" y="579.0" font-size="33.0" textLength="174.0" lengthAdjust="spacingAndGlyphs" >NIL-<tspan font-style="italic">spd6</tspan><tspan font-size="19" dy="-11">Or</tspan></text>
<text x="147.0" y="641.3" font-size="33.0" textLength="96.5" lengthAdjust="spacingAndGlyphs" >Hap.2</text>
<text x="147.0" y="713.8" font-size="33.0" textLength="96.5" lengthAdjust="spacingAndGlyphs" >Hap.3</text>
<ellipse cx="1257.5" cy="487.9" rx="29.7" ry="26.6" fill="#6FAD5F"/>
<path d="M1257.5 487.9L1257.5 461.3A29.7 26.6 0 0 1 1275.0 509.4Z" fill="#C755AE"/>
<ellipse cx="1257.5" cy="632.8" rx="29.7" ry="26.6" fill="#C755AE"/>
<ellipse cx="1257.5" cy="705.8" rx="29.7" ry="26.6" fill="#6FAD5F"/>
<path d="M1257.5 705.8L1257.5 679.2A29.7 26.6 0 0 1 1271.0 682.1Z" fill="#C755AE"/>
<rect x="1293.9" y="557.6" width="33.8" height="18.6" fill="#C755AE"  />
<rect x="1293.9" y="598.1" width="33.8" height="18.6" fill="#6FAD5F"  />
<text x="1339.0" y="573.2" font-size="29.5" font-style="italic" textLength="51.0" lengthAdjust="spacingAndGlyphs" >Osi</text>
<text x="1339.0" y="615.0" font-size="29.5" font-style="italic" textLength="51.0" lengthAdjust="spacingAndGlyphs" >Osj</text>
</g>
<g id="panel-b">
<text x="1454.6" y="27.5" font-size="38.0" font-weight="bold" >b</text>
<line x1="1571.9" y1="37.4" x2="1571.9" y2="297.6" stroke="#000" stroke-width="2.00" />
<line x1="1560.2" y1="38.4" x2="1571.9" y2="38.4" stroke="#000" stroke-width="2.00" />
<text x="1556.0" y="48.0" font-size="21.0" text-anchor="end" >11</text>
<line x1="1560.2" y1="91.3" x2="1571.9" y2="91.3" stroke="#000" stroke-width="2.00" />
<text x="1556.0" y="100.9" font-size="21.0" text-anchor="end" >10</text>
<line x1="1560.2" y1="144.6" x2="1571.9" y2="144.6" stroke="#000" stroke-width="2.00" />
<text x="1556.0" y="154.2" font-size="21.0" text-anchor="end" >9</text>
<line x1="1560.2" y1="197.1" x2="1571.9" y2="197.1" stroke="#000" stroke-width="2.00" />
<text x="1556.0" y="206.7" font-size="21.0" text-anchor="end" >8</text>
<line x1="1560.2" y1="250.0" x2="1571.9" y2="250.0" stroke="#000" stroke-width="2.00" />
<text x="1556.0" y="259.6" font-size="21.0" text-anchor="end" >7</text>
<line x1="1560.2" y1="296.6" x2="1571.9" y2="296.6" stroke="#000" stroke-width="2.00" />
<text x="1556.0" y="303.9" font-size="21.0" text-anchor="end" >0</text>
<line x1="1560.2" y1="296.6" x2="1749.5" y2="296.6" stroke="#000" stroke-width="2.00" />
<line x1="1622.2" y1="296.6" x2="1622.2" y2="308.5" stroke="#000" stroke-width="2.00" />
<line x1="1698.4" y1="296.6" x2="1698.4" y2="308.5" stroke="#000" stroke-width="2.00" />
<rect x="1566" y="279.9" width="12" height="4.9" fill="#fff"/>
<line x1="1566.0" y1="283.0" x2="1577.9" y2="277.2" stroke="#000" stroke-width="1.80" />
<line x1="1565.3" y1="288.1" x2="1577.7" y2="282.2" stroke="#000" stroke-width="1.80" />
<text x="0" y="0" font-size="30.5" text-anchor="middle" textLength="227.0" lengthAdjust="spacingAndGlyphs" transform="translate(1518.3 165.5) rotate(-90) scale(1 1)" >Grain length (mm)</text>
<text x="1626.5" y="328.4" font-size="24.5" text-anchor="middle" textLength="64.5" lengthAdjust="spacingAndGlyphs" >Hap.1</text>
<text x="1619.0" y="357.0" font-size="24.5" text-anchor="middle" textLength="72.5" lengthAdjust="spacingAndGlyphs" >(n=22)</text>
<text x="1702.0" y="328.4" font-size="24.5" text-anchor="middle" textLength="67.0" lengthAdjust="spacingAndGlyphs" >Hap.2</text>
<text x="1701.0" y="357.0" font-size="24.5" text-anchor="middle" textLength="83.5" lengthAdjust="spacingAndGlyphs" >(n=107)</text>
<line x1="1621.8" y1="70.8" x2="1621.8" y2="95.7" stroke="#F0858A" stroke-width="1.70" />
<line x1="1621.8" y1="172.5" x2="1621.8" y2="218.4" stroke="#F0858A" stroke-width="1.70" />
<line x1="1609.5" y1="70.8" x2="1634.4" y2="70.8" stroke="#F0858A" stroke-width="1.70" />
<line x1="1609.5" y1="218.4" x2="1634.4" y2="218.4" stroke="#F0858A" stroke-width="1.70" />
<rect x="1597.0" y="95.7" width="49.6" height="76.8" fill="#F9A3A7" stroke="#F0858A" stroke-width="1.70" />
<line x1="1597.0" y1="128.0" x2="1646.6" y2="128.0" stroke="#F0858A" stroke-width="1.70" />
<line x1="1697.6" y1="86.3" x2="1697.6" y2="162.4" stroke="#2F7E93" stroke-width="1.70" />
<line x1="1697.6" y1="207.9" x2="1697.6" y2="251.0" stroke="#2F7E93" stroke-width="1.70" />
<line x1="1685.3" y1="86.3" x2="1710.2" y2="86.3" stroke="#2F7E93" stroke-width="1.70" />
<line x1="1685.3" y1="251.0" x2="1710.2" y2="251.0" stroke="#2F7E93" stroke-width="1.70" />
<rect x="1672.8" y="162.4" width="49.6" height="45.5" fill="#3F8FA4" stroke="#2F7E93" stroke-width="1.70" />
<line x1="1672.8" y1="188.7" x2="1722.4" y2="188.7" stroke="#2F7E93" stroke-width="1.70" />
<path d="M1634.4 70.8h0M1609.5 76.5h0M1622.3 75.5h0M1628.7 83.6h0M1615.2 88.6h0M1622.3 97.7h0M1622.3 107.2h0M1628.0 110.5h0M1615.2 115.9h0M1603.1 127.0h0M1640.8 124.7h0M1622.3 128.4h0M1615.2 132.1h0M1622.3 140.2h0M1628.7 143.9h0M1615.2 154.0h0M1628.0 157.0h0M1628.0 171.2h0M1615.2 178.6h0M1622.3 192.7h0M1615.2 199.2h0M1628.0 206.6h0M1622.3 218.4h0" fill="none" stroke="#000" stroke-width="7.40" stroke-linecap="round" />
<path d="M1694.2 97.4h0M1696.8 115.0h0M1698.4 116.0h0M1698.1 126.2h0M1699.1 98.4h0M1704.3 108.6h0M1692.3 126.1h0M1698.6 93.2h0M1701.0 116.5h0M1694.3 121.6h0M1703.8 118.2h0M1700.4 114.4h0M1704.3 100.4h0M1699.3 108.7h0M1702.3 120.5h0M1693.5 130.2h0M1699.1 104.9h0M1691.9 157.9h0M1700.3 156.8h0M1699.6 143.4h0M1690.4 158.5h0M1700.9 145.1h0M1693.8 149.3h0M1701.3 150.8h0M1704.9 150.8h0M1692.9 157.8h0M1706.3 156.3h0M1697.3 142.3h0M1707.3 156.4h0M1695.1 150.5h0M1702.2 196.5h0M1713.8 190.0h0M1713.8 176.6h0M1705.1 209.3h0M1700.9 167.5h0M1688.4 170.4h0M1700.1 177.0h0M1681.8 165.5h0M1712.5 191.9h0M1702.1 178.8h0M1709.1 204.2h0M1696.4 209.7h0M1709.3 177.8h0M1703.8 164.9h0M1686.8 172.6h0M1705.0 170.7h0M1703.4 165.4h0M1691.6 207.8h0M1690.1 204.9h0M1705.2 187.5h0M1687.7 193.2h0M1690.9 192.1h0M1687.6 207.0h0M1697.3 196.8h0M1689.4 174.4h0M1713.8 187.6h0M1707.7 188.8h0M1698.5 190.3h0M1687.7 164.4h0M1688.8 166.2h0M1683.6 192.5h0M1700.8 179.8h0M1697.6 196.2h0M1695.8 166.2h0M1704.9 194.7h0M1696.1 184.6h0M1693.9 190.9h0M1706.1 177.9h0M1691.1 180.5h0M1693.2 180.9h0M1710.1 199.2h0M1699.9 197.5h0M1700.8 177.8h0M1713.8 174.5h0M1684.2 172.1h0M1703.7 168.1h0M1688.7 178.3h0M1713.5 183.7h0M1701.5 234.9h0M1704.5 230.1h0M1692.1 235.6h0M1699.6 217.6h0M1703.3 227.3h0M1711.8 234.5h0M1695.1 219.1h0M1711.8 229.9h0M1695.3 233.8h0M1701.5 221.7h0M1696.8 233.5h0M1705.5 224.6h0M1683.8 224.7h0M1708.0 218.5h0M1711.8 214.9h0M1691.8 238.0h0M1711.8 225.0h0M1691.9 220.0h0M1704.2 232.4h0M1687.2 227.0h0M1694.5 221.6h0M1697.6 85.5h0M1697.6 242.6h0M1697.6 251.0h0M1673.6 199.6h0M1677.3 200.0h0M1719.9 197.9h0M1717.0 194.9h0M1703.5 140.4h0" fill="none" stroke="#000" stroke-width="7.40" stroke-linecap="round" />
<line x1="1621.6" y1="56.6" x2="1698.3" y2="56.6" stroke="#000" stroke-width="1.30" />
<line x1="1621.6" y1="56.6" x2="1621.6" y2="64.5" stroke="#000" stroke-width="1.30" />
<line x1="1698.3" y1="56.6" x2="1698.3" y2="64.5" stroke="#000" stroke-width="1.30" />
<text x="1658.5" y="52.5" font-size="20.0" text-anchor="middle" >**</text>
</g>
<g id="panel-c">
<text x="1838.6" y="27.5" font-size="38.0" font-weight="bold" >c</text>
<line x1="1924.9" y1="37.2" x2="1924.9" y2="298.9" stroke="#000" stroke-width="2.00" />
<line x1="1913.4" y1="38.2" x2="1924.9" y2="38.2" stroke="#000" stroke-width="2.00" />
<text x="1909.5" y="48.8" font-size="21.0" text-anchor="end" >10</text>
<line x1="1913.4" y1="102.9" x2="1924.9" y2="102.9" stroke="#000" stroke-width="2.00" />
<text x="1909.5" y="113.5" font-size="21.0" text-anchor="end" >9</text>
<line x1="1913.4" y1="167.8" x2="1924.9" y2="167.8" stroke="#000" stroke-width="2.00" />
<text x="1909.5" y="178.4" font-size="21.0" text-anchor="end" >8</text>
<line x1="1913.4" y1="232.5" x2="1924.9" y2="232.5" stroke="#000" stroke-width="2.00" />
<text x="1909.5" y="243.1" font-size="21.0" text-anchor="end" >7</text>
<line x1="1913.4" y1="297.6" x2="1924.9" y2="297.6" stroke="#000" stroke-width="2.00" />
<text x="1909.5" y="304.4" font-size="21.0" text-anchor="end" >0</text>
<line x1="1913.4" y1="297.6" x2="2089.0" y2="297.6" stroke="#000" stroke-width="2.00" />
<line x1="1974.0" y1="297.6" x2="1974.0" y2="308.7" stroke="#000" stroke-width="2.00" />
<line x1="2049.0" y1="297.6" x2="2049.0" y2="308.7" stroke="#000" stroke-width="2.00" />
<rect x="1919" y="274.6" width="12" height="5.6" fill="#fff"/>
<line x1="1919.5" y1="278.0" x2="1931.6" y2="272.7" stroke="#000" stroke-width="1.80" />
<line x1="1918.9" y1="283.3" x2="1931.0" y2="277.7" stroke="#000" stroke-width="1.80" />
<text x="0" y="0" font-size="30.5" text-anchor="middle" textLength="230.0" lengthAdjust="spacingAndGlyphs" transform="translate(1878.4 163.0) rotate(-90) scale(1 1)" >Grain length (mm)</text>
<text x="1977.2" y="330.0" font-size="24.5" text-anchor="middle" textLength="64.5" lengthAdjust="spacingAndGlyphs" >Hap.1</text>
<text x="1979.4" y="354.2" font-size="24.5" text-anchor="middle" textLength="73.5" lengthAdjust="spacingAndGlyphs" >(n=36)</text>
<text x="2056.6" y="330.0" font-size="24.5" text-anchor="middle" textLength="67.0" lengthAdjust="spacingAndGlyphs" >Hap.3</text>
<text x="2060.5" y="354.2" font-size="24.5" text-anchor="middle" textLength="73.5" lengthAdjust="spacingAndGlyphs" >(n=21)</text>
<line x1="1974.0" y1="63.4" x2="1974.0" y2="115.6" stroke="#F0858A" stroke-width="1.70" />
<line x1="1974.0" y1="206.9" x2="1974.0" y2="252.4" stroke="#F0858A" stroke-width="1.70" />
<line x1="1961.5" y1="63.4" x2="1986.1" y2="63.4" stroke="#F0858A" stroke-width="1.70" />
<line x1="1961.5" y1="252.4" x2="1986.1" y2="252.4" stroke="#F0858A" stroke-width="1.70" />
<rect x="1949.8" y="115.6" width="48.5" height="91.3" fill="#F9A3A7" stroke="#F0858A" stroke-width="1.70" />
<line x1="1949.8" y1="175.6" x2="1998.3" y2="175.6" stroke="#F0858A" stroke-width="1.70" />
<line x1="2048.2" y1="106.8" x2="2048.2" y2="171.2" stroke="#2F7E93" stroke-width="1.70" />
<line x1="2048.2" y1="227.8" x2="2048.2" y2="261.8" stroke="#2F7E93" stroke-width="1.70" />
<line x1="2035.7" y1="106.8" x2="2060.3" y2="106.8" stroke="#2F7E93" stroke-width="1.70" />
<line x1="2035.7" y1="261.8" x2="2060.3" y2="261.8" stroke="#2F7E93" stroke-width="1.70" />
<rect x="2023.9" y="171.2" width="48.5" height="56.6" fill="#3F8FA4" stroke="#2F7E93" stroke-width="1.70" />
<line x1="2023.9" y1="209.6" x2="2072.4" y2="209.6" stroke="#2F7E93" stroke-width="1.70" />
<path d="M1978.7 63.0h0M1969.0 66.4h0M1969.0 79.5h0M1978.7 79.9h0M1973.7 96.4h0M1973.7 107.2h0M1973.7 109.9h0M1983.4 109.5h0M1964.2 115.6h0M1978.7 132.4h0M1969.0 136.5h0M1969.0 143.2h0M1978.7 146.9h0M1969.0 165.1h0M1978.7 163.8h0M1959.2 175.6h0M1978.7 173.5h0M1988.5 173.9h0M1969.0 181.3h0M1954.5 187.7h0M1983.4 188.0h0M1964.2 190.4h0M1993.2 192.1h0M1973.7 194.1h0M1978.7 199.8h0M1969.0 202.9h0M1969.0 207.2h0M1978.7 212.3h0M1973.7 219.7h0M1983.4 219.7h0M1964.2 226.4h0M1964.2 228.5h0M1973.7 229.5h0M1983.4 233.5h0M1973.7 252.4h0" fill="none" stroke="#000" stroke-width="7.40" stroke-linecap="round" />
<path d="M2048.1 106.8h0M2048.1 120.3h0M2048.1 130.4h0M2048.1 164.1h0M2039.4 167.1h0M2048.1 172.5h0M2055.9 174.6h0M2052.5 187.0h0M2043.8 193.4h0M2048.1 202.2h0M2039.4 208.9h0M2055.9 210.6h0M2048.1 213.0h0M2043.8 218.0h0M2052.5 222.4h0M2068.7 225.8h0M2052.5 228.5h0M2027.3 229.1h0M2035.3 229.1h0M2043.8 231.5h0M2060.3 232.2h0M2048.1 261.8h0" fill="none" stroke="#000" stroke-width="7.40" stroke-linecap="round" />
<line x1="1973.7" y1="45.2" x2="2049.2" y2="45.2" stroke="#000" stroke-width="1.30" />
<line x1="1973.7" y1="45.2" x2="1973.7" y2="53.2" stroke="#000" stroke-width="1.30" />
<line x1="2049.2" y1="45.2" x2="2049.2" y2="53.2" stroke="#000" stroke-width="1.30" />
<text x="2009.0" y="42.0" font-size="20.0" text-anchor="middle" >*</text>
</g>
<g id="panel-d">
<text x="1454.5" y="397.4" font-size="38.0" font-weight="bold" >d</text>
<defs>
<linearGradient id="gr1" x1="0" y1="0" x2="0" y2="1"><stop offset="0" stop-color="#CDB88A"/><stop offset="0.3" stop-color="#E3D3A9"/><stop offset="0.42" stop-color="#D8C698"/><stop offset="0.5" stop-color="#EFE6CB"/><stop offset="0.8" stop-color="#E9DCBA"/><stop offset="1" stop-color="#C9B58A"/></linearGradient>
<filter id="bl" x="-10%" y="-10%" width="120%" height="120%"><feGaussianBlur stdDeviation="0.7"/></filter>
<filter id="bl2" x="-10%" y="-30%" width="120%" height="160%"><feGaussianBlur stdDeviation="1.6"/></filter>
</defs>
<rect x="1638.0" y="419.0" width="94.8" height="85.4" fill="#0A0A08"  />
<clipPath id="cp419"><rect x="1638" y="419.0" width="94.8" height="85.4"/></clipPath>
<g clip-path="url(#cp419)">
<clipPath id="gc0"><path d="M1638.8 437.8 C1647.3 426.6 1656.7 422.2 1682.2 422.2 C1706.0 422.2 1713.7 429.6 1723.9 438.6 C1715.4 453.4 1707.7 459.7 1682.2 459.7 C1656.7 459.7 1644.8 451.4 1638.8 437.8Z"/></clipPath>
<line x1="1722.9" y1="439.6" x2="1727.4" y2="441.1" stroke="#D8D4C8" stroke-width="0.45" opacity="0.6"/>
<line x1="1721.2" y1="440.8" x2="1725.6" y2="442.5" stroke="#D8D4C8" stroke-width="0.45" opacity="0.6"/>
<line x1="1719.5" y1="442.0" x2="1723.7" y2="443.9" stroke="#D8D4C8" stroke-width="0.45" opacity="0.6"/>
<line x1="1717.8" y1="443.2" x2="1721.9" y2="445.3" stroke="#D8D4C8" stroke-width="0.45" opacity="0.6"/>
<line x1="1716.1" y1="444.4" x2="1720.0" y2="446.8" stroke="#D8D4C8" stroke-width="0.45" opacity="0.6"/>
<line x1="1714.4" y1="445.5" x2="1718.2" y2="448.2" stroke="#D8D4C8" stroke-width="0.45" opacity="0.6"/>
<line x1="1712.7" y1="446.7" x2="1716.4" y2="449.6" stroke="#D8D4C8" stroke-width="0.45" opacity="0.6"/>
<line x1="1711.0" y1="447.9" x2="1714.5" y2="451.0" stroke="#D8D4C8" stroke-width="0.45" opacity="0.6"/>
<line x1="1709.3" y1="449.1" x2="1712.7" y2="452.4" stroke="#D8D4C8" stroke-width="0.45" opacity="0.6"/>
<line x1="1707.6" y1="450.3" x2="1710.9" y2="453.8" stroke="#D8D4C8" stroke-width="0.45" opacity="0.6"/>
<line x1="1705.9" y1="451.5" x2="1709.0" y2="455.3" stroke="#D8D4C8" stroke-width="0.45" opacity="0.6"/>
<line x1="1704.2" y1="452.7" x2="1707.2" y2="456.7" stroke="#D8D4C8" stroke-width="0.45" opacity="0.6"/>
<line x1="1720.9" y1="437.6" x2="1724.4" y2="436.1" stroke="#D8D4C8" stroke-width="0.45" opacity="0.5"/>
<line x1="1717.8" y1="436.1" x2="1721.3" y2="434.6" stroke="#D8D4C8" stroke-width="0.45" opacity="0.5"/>
<line x1="1714.8" y1="434.6" x2="1718.3" y2="433.1" stroke="#D8D4C8" stroke-width="0.45" opacity="0.5"/>
<line x1="1711.7" y1="433.2" x2="1715.2" y2="431.7" stroke="#D8D4C8" stroke-width="0.45" opacity="0.5"/>
<line x1="1708.6" y1="431.7" x2="1712.1" y2="430.2" stroke="#D8D4C8" stroke-width="0.45" opacity="0.5"/>
<line x1="1705.6" y1="430.2" x2="1709.1" y2="428.7" stroke="#D8D4C8" stroke-width="0.45" opacity="0.5"/>
<path d="M1638.8 437.8 C1647.3 426.6 1656.7 422.2 1682.2 422.2 C1706.0 422.2 1713.7 429.6 1723.9 438.6 C1715.4 453.4 1707.7 459.7 1682.2 459.7 C1656.7 459.7 1644.8 451.4 1638.8 437.8Z" fill="#E9D8AA" filter="url(#bl)"/>
<g clip-path="url(#gc0)">
<path d="M1638.8 435.8 Q1681.3 428.8 1723.9 437.1 L1723.9 419.2 L1638.8 419.2Z" fill="#DFC990" filter="url(#bl2)"/>
<ellipse cx="1681.3" cy="460.7" rx="35.7" ry="4.7" fill="#D3BE8B" opacity="0.55" filter="url(#bl2)"/>
<ellipse cx="1679.6" cy="445.9" rx="30.6" ry="7.3" fill="#F2E7C6" opacity="0.9" filter="url(#bl2)"/>
<path d="M1647.3 434.4 Q1681.3 428.9 1719.6 437.0" stroke="#B49C68" stroke-width="1.1" fill="none" opacity="0.9" filter="url(#bl)"/>
<path d="M1644.8 443.3 Q1677.1 461.2 1712.0 447.5" stroke="#CDB783" stroke-width="0.9" fill="none" opacity="0.8" filter="url(#bl)"/>
</g>
<clipPath id="gc1"><path d="M1639.1 483.3 C1647.7 467.8 1659.1 461.8 1684.8 461.8 C1708.8 461.8 1714.5 467.5 1724.8 474.4 C1716.2 492.7 1710.5 500.6 1684.8 500.6 C1659.1 500.6 1645.1 494.0 1639.1 483.3Z"/></clipPath>
<line x1="1723.8" y1="475.4" x2="1728.3" y2="476.9" stroke="#D8D4C8" stroke-width="0.45" opacity="0.6"/>
<line x1="1722.1" y1="476.9" x2="1726.4" y2="478.6" stroke="#D8D4C8" stroke-width="0.45" opacity="0.6"/>
<line x1="1720.4" y1="478.4" x2="1724.6" y2="480.3" stroke="#D8D4C8" stroke-width="0.45" opacity="0.6"/>
<line x1="1718.7" y1="479.8" x2="1722.7" y2="482.0" stroke="#D8D4C8" stroke-width="0.45" opacity="0.6"/>
<line x1="1716.9" y1="481.3" x2="1720.9" y2="483.7" stroke="#D8D4C8" stroke-width="0.45" opacity="0.6"/>
<line x1="1715.2" y1="482.8" x2="1719.0" y2="485.4" stroke="#D8D4C8" stroke-width="0.45" opacity="0.6"/>
<line x1="1713.5" y1="484.3" x2="1717.2" y2="487.1" stroke="#D8D4C8" stroke-width="0.45" opacity="0.6"/>
<line x1="1711.8" y1="485.7" x2="1715.3" y2="488.8" stroke="#D8D4C8" stroke-width="0.45" opacity="0.6"/>
<line x1="1710.1" y1="487.2" x2="1713.5" y2="490.5" stroke="#D8D4C8" stroke-width="0.45" opacity="0.6"/>
<line x1="1708.4" y1="488.7" x2="1711.6" y2="492.2" stroke="#D8D4C8" stroke-width="0.45" opacity="0.6"/>
<line x1="1706.7" y1="490.2" x2="1709.8" y2="493.9" stroke="#D8D4C8" stroke-width="0.45" opacity="0.6"/>
<line x1="1704.9" y1="491.6" x2="1707.9" y2="495.6" stroke="#D8D4C8" stroke-width="0.45" opacity="0.6"/>
<line x1="1721.8" y1="473.4" x2="1725.3" y2="471.9" stroke="#D8D4C8" stroke-width="0.45" opacity="0.5"/>
<line x1="1718.7" y1="472.3" x2="1722.2" y2="470.8" stroke="#D8D4C8" stroke-width="0.45" opacity="0.5"/>
<line x1="1715.6" y1="471.1" x2="1719.1" y2="469.6" stroke="#D8D4C8" stroke-width="0.45" opacity="0.5"/>
<line x1="1712.5" y1="470.0" x2="1716.0" y2="468.5" stroke="#D8D4C8" stroke-width="0.45" opacity="0.5"/>
<line x1="1709.5" y1="468.9" x2="1713.0" y2="467.4" stroke="#D8D4C8" stroke-width="0.45" opacity="0.5"/>
<line x1="1706.4" y1="467.7" x2="1709.9" y2="466.2" stroke="#D8D4C8" stroke-width="0.45" opacity="0.5"/>
<path d="M1639.1 483.3 C1647.7 467.8 1659.1 461.8 1684.8 461.8 C1708.8 461.8 1714.5 467.5 1724.8 474.4 C1716.2 492.7 1710.5 500.6 1684.8 500.6 C1659.1 500.6 1645.1 494.0 1639.1 483.3Z" fill="#E9D8AA" filter="url(#bl)"/>
<g clip-path="url(#gc1)">
<path d="M1639.1 481.3 Q1681.9 469.0 1724.8 472.9 L1724.8 458.8 L1639.1 458.8Z" fill="#DFC990" filter="url(#bl2)"/>
<ellipse cx="1681.9" cy="501.6" rx="36.0" ry="4.8" fill="#D3BE8B" opacity="0.55" filter="url(#bl2)"/>
<ellipse cx="1680.2" cy="486.7" rx="30.9" ry="7.4" fill="#F2E7C6" opacity="0.9" filter="url(#bl2)"/>
<path d="M1647.7 478.6 Q1681.9 469.0 1720.5 473.1" stroke="#B49C68" stroke-width="1.1" fill="none" opacity="0.9" filter="url(#bl)"/>
<path d="M1645.1 487.6 Q1677.7 502.1 1712.8 485.4" stroke="#CDB783" stroke-width="0.9" fill="none" opacity="0.8" filter="url(#bl)"/>
</g>
</g>
<rect x="1639.8" y="497.3" width="12.3" height="4.4" fill="#fff"  />
<rect x="1638.0" y="508.4" width="94.8" height="85.6" fill="#0A0A08"  />
<clipPath id="cp508"><rect x="1638" y="508.4" width="94.8" height="85.6"/></clipPath>
<g clip-path="url(#cp508)">
<clipPath id="gc2"><path d="M1639.3 537.9 C1647.4 522.4 1664.8 516.4 1689.0 516.4 C1711.6 516.4 1710.4 520.8 1720.1 526.1 C1712.0 543.2 1700.5 550.5 1676.3 550.5 C1652.1 550.5 1645.0 545.7 1639.3 537.9Z"/></clipPath>
<line x1="1719.1" y1="527.1" x2="1723.6" y2="528.6" stroke="#D8D4C8" stroke-width="0.45" opacity="0.6"/>
<line x1="1717.5" y1="528.5" x2="1721.8" y2="530.2" stroke="#D8D4C8" stroke-width="0.45" opacity="0.6"/>
<line x1="1715.9" y1="529.9" x2="1720.1" y2="531.8" stroke="#D8D4C8" stroke-width="0.45" opacity="0.6"/>
<line x1="1714.3" y1="531.2" x2="1718.3" y2="533.4" stroke="#D8D4C8" stroke-width="0.45" opacity="0.6"/>
<line x1="1712.6" y1="532.6" x2="1716.6" y2="535.0" stroke="#D8D4C8" stroke-width="0.45" opacity="0.6"/>
<line x1="1711.0" y1="534.0" x2="1714.8" y2="536.6" stroke="#D8D4C8" stroke-width="0.45" opacity="0.6"/>
<line x1="1709.4" y1="535.4" x2="1713.1" y2="538.2" stroke="#D8D4C8" stroke-width="0.45" opacity="0.6"/>
<line x1="1707.8" y1="536.7" x2="1711.3" y2="539.8" stroke="#D8D4C8" stroke-width="0.45" opacity="0.6"/>
<line x1="1706.2" y1="538.1" x2="1709.6" y2="541.4" stroke="#D8D4C8" stroke-width="0.45" opacity="0.6"/>
<line x1="1704.6" y1="539.5" x2="1707.8" y2="543.0" stroke="#D8D4C8" stroke-width="0.45" opacity="0.6"/>
<line x1="1702.9" y1="540.9" x2="1706.1" y2="544.6" stroke="#D8D4C8" stroke-width="0.45" opacity="0.6"/>
<line x1="1701.3" y1="542.2" x2="1704.3" y2="546.2" stroke="#D8D4C8" stroke-width="0.45" opacity="0.6"/>
<line x1="1717.1" y1="525.1" x2="1720.6" y2="523.6" stroke="#D8D4C8" stroke-width="0.45" opacity="0.5"/>
<line x1="1714.2" y1="524.2" x2="1717.7" y2="522.7" stroke="#D8D4C8" stroke-width="0.45" opacity="0.5"/>
<line x1="1711.3" y1="523.4" x2="1714.8" y2="521.9" stroke="#D8D4C8" stroke-width="0.45" opacity="0.5"/>
<line x1="1708.4" y1="522.5" x2="1711.9" y2="521.0" stroke="#D8D4C8" stroke-width="0.45" opacity="0.5"/>
<line x1="1705.5" y1="521.6" x2="1709.0" y2="520.1" stroke="#D8D4C8" stroke-width="0.45" opacity="0.5"/>
<line x1="1702.6" y1="520.7" x2="1706.1" y2="519.2" stroke="#D8D4C8" stroke-width="0.45" opacity="0.5"/>
<path d="M1639.3 537.9 C1647.4 522.4 1664.8 516.4 1689.0 516.4 C1711.6 516.4 1710.4 520.8 1720.1 526.1 C1712.0 543.2 1700.5 550.5 1676.3 550.5 C1652.1 550.5 1645.0 545.7 1639.3 537.9Z" fill="#EBE1C4" filter="url(#bl)"/>
<g clip-path="url(#gc2)">
<path d="M1639.3 535.9 Q1679.7 522.8 1720.1 524.6 L1720.1 513.4 L1639.3 513.4Z" fill="#E2D5AE" filter="url(#bl2)"/>
<ellipse cx="1679.7" cy="551.5" rx="33.9" ry="4.1" fill="#D3BE8B" opacity="0.55" filter="url(#bl2)"/>
<ellipse cx="1678.1" cy="538.7" rx="29.1" ry="6.3" fill="#F4EEDA" opacity="0.9" filter="url(#bl2)"/>
<path d="M1647.4 533.2 Q1679.7 523.0 1716.1 525.1" stroke="#B49C68" stroke-width="1.1" fill="none" opacity="0.9" filter="url(#bl)"/>
<path d="M1645.0 541.0 Q1675.7 552.0 1708.8 536.3" stroke="#CDB783" stroke-width="0.9" fill="none" opacity="0.8" filter="url(#bl)"/>
</g>
<clipPath id="gc3"><path d="M1638.4 566.6 C1646.8 555.7 1657.1 551.4 1682.2 551.4 C1705.7 551.4 1712.1 556.9 1722.2 563.6 C1713.8 578.0 1705.6 584.2 1680.5 584.2 C1655.4 584.2 1644.3 577.5 1638.4 566.6Z"/></clipPath>
<line x1="1721.2" y1="564.6" x2="1725.7" y2="566.1" stroke="#D8D4C8" stroke-width="0.45" opacity="0.6"/>
<line x1="1719.5" y1="565.8" x2="1723.9" y2="567.5" stroke="#D8D4C8" stroke-width="0.45" opacity="0.6"/>
<line x1="1717.8" y1="566.9" x2="1722.1" y2="568.9" stroke="#D8D4C8" stroke-width="0.45" opacity="0.6"/>
<line x1="1716.2" y1="568.1" x2="1720.3" y2="570.3" stroke="#D8D4C8" stroke-width="0.45" opacity="0.6"/>
<line x1="1714.5" y1="569.2" x2="1718.5" y2="571.7" stroke="#D8D4C8" stroke-width="0.45" opacity="0.6"/>
<line x1="1712.8" y1="570.4" x2="1716.6" y2="573.0" stroke="#D8D4C8" stroke-width="0.45" opacity="0.6"/>
<line x1="1711.1" y1="571.6" x2="1714.8" y2="574.4" stroke="#D8D4C8" stroke-width="0.45" opacity="0.6"/>
<line x1="1709.5" y1="572.7" x2="1713.0" y2="575.8" stroke="#D8D4C8" stroke-width="0.45" opacity="0.6"/>
<line x1="1707.8" y1="573.9" x2="1711.2" y2="577.2" stroke="#D8D4C8" stroke-width="0.45" opacity="0.6"/>
<line x1="1706.1" y1="575.0" x2="1709.4" y2="578.6" stroke="#D8D4C8" stroke-width="0.45" opacity="0.6"/>
<line x1="1704.4" y1="576.2" x2="1707.6" y2="580.0" stroke="#D8D4C8" stroke-width="0.45" opacity="0.6"/>
<line x1="1702.8" y1="577.4" x2="1705.8" y2="581.4" stroke="#D8D4C8" stroke-width="0.45" opacity="0.6"/>
<line x1="1719.2" y1="562.6" x2="1722.7" y2="561.1" stroke="#D8D4C8" stroke-width="0.45" opacity="0.5"/>
<line x1="1716.2" y1="561.5" x2="1719.7" y2="560.0" stroke="#D8D4C8" stroke-width="0.45" opacity="0.5"/>
<line x1="1713.2" y1="560.4" x2="1716.7" y2="558.9" stroke="#D8D4C8" stroke-width="0.45" opacity="0.5"/>
<line x1="1710.1" y1="559.3" x2="1713.6" y2="557.8" stroke="#D8D4C8" stroke-width="0.45" opacity="0.5"/>
<line x1="1707.1" y1="558.2" x2="1710.6" y2="556.7" stroke="#D8D4C8" stroke-width="0.45" opacity="0.5"/>
<line x1="1704.1" y1="557.1" x2="1707.6" y2="555.6" stroke="#D8D4C8" stroke-width="0.45" opacity="0.5"/>
<path d="M1638.4 566.6 C1646.8 555.7 1657.1 551.4 1682.2 551.4 C1705.7 551.4 1712.1 556.9 1722.2 563.6 C1713.8 578.0 1705.6 584.2 1680.5 584.2 C1655.4 584.2 1644.3 577.5 1638.4 566.6Z" fill="#EBE1C4" filter="url(#bl)"/>
<g clip-path="url(#gc3)">
<path d="M1638.4 564.6 Q1680.3 556.8 1722.2 562.1 L1722.2 548.4 L1638.4 548.4Z" fill="#E2D5AE" filter="url(#bl2)"/>
<ellipse cx="1680.3" cy="585.2" rx="35.2" ry="4.2" fill="#D3BE8B" opacity="0.55" filter="url(#bl2)"/>
<ellipse cx="1678.6" cy="572.0" rx="30.2" ry="6.5" fill="#F4EEDA" opacity="0.9" filter="url(#bl2)"/>
<path d="M1646.8 563.3 Q1680.3 557.2 1718.0 562.4" stroke="#B49C68" stroke-width="1.1" fill="none" opacity="0.9" filter="url(#bl)"/>
<path d="M1644.3 571.0 Q1676.1 585.7 1710.5 572.3" stroke="#CDB783" stroke-width="0.9" fill="none" opacity="0.8" filter="url(#bl)"/>
</g>
</g>
<rect x="1639.8" y="586.8" width="12.3" height="4.4" fill="#fff"  />
<rect x="1638.0" y="598.2" width="94.8" height="85.6" fill="#0A0A08"  />
<clipPath id="cp598"><rect x="1638" y="598.2" width="94.8" height="85.6"/></clipPath>
<g clip-path="url(#cp598)">
<clipPath id="gc4"><path d="M1642.2 625.0 C1651.0 610.1 1669.4 604.3 1695.7 604.3 C1720.2 604.3 1719.3 610.0 1729.8 617.0 C1721.0 632.3 1711.1 638.9 1684.8 638.9 C1658.5 638.9 1648.3 633.6 1642.2 625.0Z"/></clipPath>
<line x1="1728.8" y1="618.0" x2="1733.3" y2="619.5" stroke="#D8D4C8" stroke-width="0.45" opacity="0.6"/>
<line x1="1727.0" y1="619.2" x2="1731.4" y2="621.0" stroke="#D8D4C8" stroke-width="0.45" opacity="0.6"/>
<line x1="1725.3" y1="620.5" x2="1729.5" y2="622.4" stroke="#D8D4C8" stroke-width="0.45" opacity="0.6"/>
<line x1="1723.5" y1="621.7" x2="1727.6" y2="623.9" stroke="#D8D4C8" stroke-width="0.45" opacity="0.6"/>
<line x1="1721.8" y1="622.9" x2="1725.7" y2="625.3" stroke="#D8D4C8" stroke-width="0.45" opacity="0.6"/>
<line x1="1720.0" y1="624.2" x2="1723.9" y2="626.8" stroke="#D8D4C8" stroke-width="0.45" opacity="0.6"/>
<line x1="1718.3" y1="625.4" x2="1722.0" y2="628.3" stroke="#D8D4C8" stroke-width="0.45" opacity="0.6"/>
<line x1="1716.5" y1="626.6" x2="1720.1" y2="629.7" stroke="#D8D4C8" stroke-width="0.45" opacity="0.6"/>
<line x1="1714.8" y1="627.9" x2="1718.2" y2="631.2" stroke="#D8D4C8" stroke-width="0.45" opacity="0.6"/>
<line x1="1713.0" y1="629.1" x2="1716.3" y2="632.7" stroke="#D8D4C8" stroke-width="0.45" opacity="0.6"/>
<line x1="1711.3" y1="630.3" x2="1714.4" y2="634.1" stroke="#D8D4C8" stroke-width="0.45" opacity="0.6"/>
<line x1="1709.5" y1="631.6" x2="1712.5" y2="635.6" stroke="#D8D4C8" stroke-width="0.45" opacity="0.6"/>
<line x1="1726.8" y1="616.0" x2="1730.3" y2="614.5" stroke="#D8D4C8" stroke-width="0.45" opacity="0.5"/>
<line x1="1723.6" y1="614.9" x2="1727.1" y2="613.4" stroke="#D8D4C8" stroke-width="0.45" opacity="0.5"/>
<line x1="1720.5" y1="613.7" x2="1724.0" y2="612.2" stroke="#D8D4C8" stroke-width="0.45" opacity="0.5"/>
<line x1="1717.3" y1="612.6" x2="1720.8" y2="611.1" stroke="#D8D4C8" stroke-width="0.45" opacity="0.5"/>
<line x1="1714.2" y1="611.4" x2="1717.7" y2="609.9" stroke="#D8D4C8" stroke-width="0.45" opacity="0.5"/>
<line x1="1711.0" y1="610.3" x2="1714.5" y2="608.8" stroke="#D8D4C8" stroke-width="0.45" opacity="0.5"/>
<path d="M1642.2 625.0 C1651.0 610.1 1669.4 604.3 1695.7 604.3 C1720.2 604.3 1719.3 610.0 1729.8 617.0 C1721.0 632.3 1711.1 638.9 1684.8 638.9 C1658.5 638.9 1648.3 633.6 1642.2 625.0Z" fill="#EADFBD" filter="url(#bl)"/>
<g clip-path="url(#gc4)">
<path d="M1642.2 623.0 Q1686.0 611.3 1729.8 615.5 L1729.8 601.3 L1642.2 601.3Z" fill="#E1D2A6" filter="url(#bl2)"/>
<ellipse cx="1686.0" cy="639.9" rx="36.8" ry="3.9" fill="#D3BE8B" opacity="0.55" filter="url(#bl2)"/>
<ellipse cx="1684.2" cy="627.4" rx="31.5" ry="6.1" fill="#F3ECD4" opacity="0.9" filter="url(#bl2)"/>
<path d="M1651.0 620.4 Q1686.0 611.3 1725.4 615.7" stroke="#B49C68" stroke-width="1.1" fill="none" opacity="0.9" filter="url(#bl)"/>
<path d="M1648.3 628.5 Q1681.6 640.4 1717.5 626.2" stroke="#CDB783" stroke-width="0.9" fill="none" opacity="0.8" filter="url(#bl)"/>
</g>
<clipPath id="gc5"><path d="M1639.1 657.4 C1648.2 646.2 1655.0 641.8 1682.2 641.8 C1707.6 641.8 1718.9 648.8 1729.8 657.4 C1720.7 671.5 1714.5 677.6 1687.3 677.6 C1660.1 677.6 1645.4 669.9 1639.1 657.4Z"/></clipPath>
<line x1="1728.8" y1="658.4" x2="1733.3" y2="659.9" stroke="#D8D4C8" stroke-width="0.45" opacity="0.6"/>
<line x1="1727.0" y1="659.5" x2="1731.3" y2="661.3" stroke="#D8D4C8" stroke-width="0.45" opacity="0.6"/>
<line x1="1725.2" y1="660.7" x2="1729.4" y2="662.6" stroke="#D8D4C8" stroke-width="0.45" opacity="0.6"/>
<line x1="1723.4" y1="661.8" x2="1727.4" y2="664.0" stroke="#D8D4C8" stroke-width="0.45" opacity="0.6"/>
<line x1="1721.5" y1="663.0" x2="1725.5" y2="665.4" stroke="#D8D4C8" stroke-width="0.45" opacity="0.6"/>
<line x1="1719.7" y1="664.1" x2="1723.5" y2="666.7" stroke="#D8D4C8" stroke-width="0.45" opacity="0.6"/>
<line x1="1717.9" y1="665.2" x2="1721.6" y2="668.1" stroke="#D8D4C8" stroke-width="0.45" opacity="0.6"/>
<line x1="1716.1" y1="666.4" x2="1719.6" y2="669.5" stroke="#D8D4C8" stroke-width="0.45" opacity="0.6"/>
<line x1="1714.3" y1="667.5" x2="1717.7" y2="670.8" stroke="#D8D4C8" stroke-width="0.45" opacity="0.6"/>
<line x1="1712.5" y1="668.6" x2="1715.7" y2="672.2" stroke="#D8D4C8" stroke-width="0.45" opacity="0.6"/>
<line x1="1710.7" y1="669.8" x2="1713.8" y2="673.6" stroke="#D8D4C8" stroke-width="0.45" opacity="0.6"/>
<line x1="1708.8" y1="670.9" x2="1711.8" y2="674.9" stroke="#D8D4C8" stroke-width="0.45" opacity="0.6"/>
<line x1="1726.8" y1="656.4" x2="1730.3" y2="654.9" stroke="#D8D4C8" stroke-width="0.45" opacity="0.5"/>
<line x1="1723.5" y1="655.0" x2="1727.0" y2="653.5" stroke="#D8D4C8" stroke-width="0.45" opacity="0.5"/>
<line x1="1720.3" y1="653.6" x2="1723.8" y2="652.1" stroke="#D8D4C8" stroke-width="0.45" opacity="0.5"/>
<line x1="1717.0" y1="652.2" x2="1720.5" y2="650.7" stroke="#D8D4C8" stroke-width="0.45" opacity="0.5"/>
<line x1="1713.7" y1="650.8" x2="1717.2" y2="649.3" stroke="#D8D4C8" stroke-width="0.45" opacity="0.5"/>
<line x1="1710.5" y1="649.4" x2="1714.0" y2="647.9" stroke="#D8D4C8" stroke-width="0.45" opacity="0.5"/>
<path d="M1639.1 657.4 C1648.2 646.2 1655.0 641.8 1682.2 641.8 C1707.6 641.8 1718.9 648.8 1729.8 657.4 C1720.7 671.5 1714.5 677.6 1687.3 677.6 C1660.1 677.6 1645.4 669.9 1639.1 657.4Z" fill="#EADFBD" filter="url(#bl)"/>
<g clip-path="url(#gc5)">
<path d="M1639.1 655.4 Q1684.4 648.2 1729.8 655.9 L1729.8 638.8 L1639.1 638.8Z" fill="#E1D2A6" filter="url(#bl2)"/>
<ellipse cx="1684.4" cy="678.6" rx="38.1" ry="4.4" fill="#D3BE8B" opacity="0.55" filter="url(#bl2)"/>
<ellipse cx="1682.6" cy="664.7" rx="32.7" ry="6.9" fill="#F3ECD4" opacity="0.9" filter="url(#bl2)"/>
<path d="M1648.2 654.0 Q1684.4 648.4 1725.3 655.8" stroke="#B49C68" stroke-width="1.1" fill="none" opacity="0.9" filter="url(#bl)"/>
<path d="M1645.4 662.5 Q1679.9 679.1 1717.1 665.9" stroke="#CDB783" stroke-width="0.9" fill="none" opacity="0.8" filter="url(#bl)"/>
</g>
</g>
<rect x="1639.8" y="676.9" width="12.3" height="4.4" fill="#fff"  />
<text x="1627.5" y="479.6" font-size="27.5" text-anchor="end" textLength="66.0" lengthAdjust="spacingAndGlyphs" >ZH11</text>
<text x="1495.0" y="572.4" font-size="27.5" textLength="138.0" lengthAdjust="spacingAndGlyphs" >NIL-<tspan font-style="italic">spd6<tspan font-size="16.5" dy="-10">Or</tspan></tspan></text>
<text x="1630.5" y="654.8" font-size="27.5" text-anchor="end" textLength="40.5" lengthAdjust="spacingAndGlyphs" >OE</text>
</g>
<g id="panel-e">
<text x="1839.0" y="397.4" font-size="38.0" font-weight="bold" >e</text>
<line x1="1928.9" y1="409.0" x2="1928.9" y2="669.9" stroke="#000" stroke-width="2.00" />
<line x1="1918.0" y1="410.0" x2="1928.6" y2="410.0" stroke="#000" stroke-width="2.00" />
<text x="1917.3" y="420.5" font-size="25.2" text-anchor="end" >8.5</text>
<line x1="1918.0" y1="463.4" x2="1928.6" y2="463.4" stroke="#000" stroke-width="2.00" />
<text x="1917.3" y="473.4" font-size="25.2" text-anchor="end" >8.0</text>
<line x1="1918.0" y1="516.5" x2="1928.6" y2="516.5" stroke="#000" stroke-width="2.00" />
<text x="1917.3" y="526.3" font-size="25.2" text-anchor="end" >7.5</text>
<line x1="1918.0" y1="570.2" x2="1928.6" y2="570.2" stroke="#000" stroke-width="2.00" />
<text x="1917.3" y="579.2" font-size="25.2" text-anchor="end" >7.0</text>
<line x1="1918.0" y1="623.7" x2="1928.6" y2="623.7" stroke="#000" stroke-width="2.00" />
<text x="1917.3" y="632.1" font-size="25.2" text-anchor="end" >6.5</text>
<line x1="1918.0" y1="668.9" x2="1928.6" y2="668.9" stroke="#000" stroke-width="2.00" />
<text x="1914.3" y="674.3" font-size="25.2" text-anchor="end" >0</text>
<line x1="1918.0" y1="668.9" x2="2097.0" y2="668.9" stroke="#000" stroke-width="2.00" />
<line x1="1961.2" y1="668.9" x2="1961.2" y2="680.5" stroke="#000" stroke-width="2.00" />
<line x1="2010.7" y1="668.9" x2="2010.7" y2="680.5" stroke="#000" stroke-width="2.00" />
<line x1="2059.9" y1="668.9" x2="2059.9" y2="680.5" stroke="#000" stroke-width="2.00" />
<rect x="1923" y="652.3" width="12" height="5.2" fill="#fff"/>
<line x1="1922.4" y1="655.7" x2="1934.5" y2="649.8" stroke="#000" stroke-width="1.80" />
<line x1="1921.8" y1="661.0" x2="1934.2" y2="655.1" stroke="#000" stroke-width="1.80" />
<text x="0" y="0" font-size="30.5" text-anchor="middle" textLength="233.0" lengthAdjust="spacingAndGlyphs" transform="translate(1867.8 535.4) rotate(-90) scale(1 1)" >Grain length (mm)</text>
<line x1="1961.5" y1="468.0" x2="1961.5" y2="480.0" stroke="#F0858A" stroke-width="1.70" />
<line x1="1961.5" y1="523.9" x2="1961.5" y2="560.3" stroke="#F0858A" stroke-width="1.70" />
<line x1="1953.4" y1="468.0" x2="1969.3" y2="468.0" stroke="#F0858A" stroke-width="1.70" />
<line x1="1953.4" y1="560.3" x2="1969.3" y2="560.3" stroke="#F0858A" stroke-width="1.70" />
<rect x="1945.6" y="480.0" width="31.8" height="43.9" fill="#F9A3A7" stroke="#F0858A" stroke-width="1.70" />
<line x1="1945.6" y1="502.7" x2="1977.4" y2="502.7" stroke="#F0858A" stroke-width="1.70" />
<line x1="2010.9" y1="555.4" x2="2010.9" y2="566.7" stroke="#8C7B3C" stroke-width="1.70" />
<line x1="2010.9" y1="597.1" x2="2010.9" y2="621.9" stroke="#8C7B3C" stroke-width="1.70" />
<line x1="2002.9" y1="555.4" x2="2018.8" y2="555.4" stroke="#8C7B3C" stroke-width="1.70" />
<line x1="2002.9" y1="621.9" x2="2018.8" y2="621.9" stroke="#8C7B3C" stroke-width="1.70" />
<rect x="1994.8" y="566.7" width="32.2" height="30.4" fill="#8A5A22" stroke="#8C7B3C" stroke-width="1.70" />
<line x1="1994.8" y1="585.1" x2="2027.0" y2="585.1" stroke="#8C7B3C" stroke-width="1.70" />
<line x1="2059.8" y1="458.1" x2="2059.8" y2="483.6" stroke="#2F7E93" stroke-width="1.70" />
<line x1="2059.8" y1="512.2" x2="2059.8" y2="524.6" stroke="#2F7E93" stroke-width="1.70" />
<line x1="2051.9" y1="458.1" x2="2067.8" y2="458.1" stroke="#2F7E93" stroke-width="1.70" />
<line x1="2051.9" y1="524.6" x2="2067.8" y2="524.6" stroke="#2F7E93" stroke-width="1.70" />
<rect x="2043.6" y="483.6" width="32.5" height="28.6" fill="#3F8FA4" stroke="#2F7E93" stroke-width="1.70" />
<line x1="2043.6" y1="492.8" x2="2076.1" y2="492.8" stroke="#2F7E93" stroke-width="1.70" />
<path d="M1961.2 468.0h0M1958.3 474.0h0M1964.3 480.7h0M1961.2 493.8h0M1958.3 502.7h0M1964.3 502.7h0M1958.3 515.0h0M1964.3 520.0h0M1961.2 539.1h0M1961.2 560.3h0M2005.4 555.4h0M2012.8 557.9h0M2015.6 568.1h0M2010.0 574.5h0M2018.5 574.5h0M2005.4 581.6h0M2012.8 585.8h0M1999.7 595.4h0M2005.4 595.4h0M2012.8 595.4h0M2021.3 601.0h0M2010.3 621.9h0M2059.9 458.1h0M2059.9 473.7h0M2059.9 486.7h0M2048.2 490.3h0M2054.2 493.8h0M2065.9 491.0h0M2071.9 489.6h0M2059.9 499.1h0M2059.9 509.7h0M2054.2 522.8h0M2064.1 524.2h0" fill="none" stroke="#000" stroke-width="7.40" stroke-linecap="round" />
<text x="1962.6" y="453.2" font-size="24.3" text-anchor="middle" >a</text>
<text x="2011.5" y="539.2" font-size="24.3" text-anchor="middle" >b</text>
<text x="2061.0" y="440.9" font-size="24.3" text-anchor="middle" >a</text>
<text x="0" y="0" font-size="24.3" text-anchor="end" transform="translate(1974.0 700.5) rotate(-30) scale(1 1)" >ZH11</text>
<text x="0" y="0" font-size="24.3" text-anchor="end" transform="translate(2019.5 706.0) rotate(-30) scale(1 1)" >NIL-<tspan font-style="italic">spd6</tspan><tspan font-size="14.5" dy="-9">Or</tspan></text>
<text x="0" y="0" font-size="24.3" text-anchor="end" transform="translate(2073.0 700.5) rotate(-30) scale(1 1)" >OE</text>
</g>
<g id="panel-f">
<polygon points="117.6,1114.3 117.6,1024.4 119.1,1020.5 120.6,1016.7 122.1,1012.8 123.6,1019.9 125.1,1019.4 126.6,1009.3 128.1,1010.1 129.6,1011.0 131.1,1011.2 132.6,1010.1 134.1,1009.0 135.6,1019.0 137.1,1017.9 138.6,1017.6 140.1,1017.5 141.6,1016.2 143.1,1015.0 144.6,1013.7 146.1,1012.5 147.6,1011.3 149.1,1010.0 150.6,1008.7 152.1,1007.0 153.6,1004.6 155.1,1001.9 156.6,999.1 158.1,996.2 159.6,994.6 161.1,993.5 162.6,996.4 164.1,999.4 165.6,1002.5 167.1,1005.0 168.6,1007.5 170.1,1010.0 171.6,1012.2 173.1,1011.9 174.6,1011.7 176.1,1011.5 177.6,1011.3 179.1,1011.1 180.6,1009.5 182.1,1007.2 183.6,1005.0 185.1,1002.8 186.6,1000.5 188.1,1000.4 189.6,999.5 191.1,998.2 192.6,997.0 194.1,995.4 195.6,993.1 197.1,990.9 198.6,988.6 200.1,988.1 201.6,989.3 203.1,991.2 204.6,993.2 206.1,995.1 207.6,997.1 209.1,997.0 210.6,997.0 212.1,997.0 213.6,997.0 215.1,996.5 216.6,995.2 218.1,993.9 219.6,992.8 221.1,992.6 222.6,994.9 224.1,998.4 225.6,1001.9 227.1,1005.4 228.6,1009.0 230.1,1010.2 231.6,1011.5 233.1,1012.8 234.6,1015.0 236.1,1017.0 237.6,1018.5 239.1,1020.0 240.6,1011.1 242.1,1014.0 243.6,1017.3 245.1,1020.8 246.6,1024.3 247.5,1114.3" fill="#4096AA" />
<polygon points="256.4,1114.3 256.4,1021.4 257.9,1015.3 259.4,1009.1 260.9,1014.7 262.4,1011.9 263.9,1012.6 265.4,1013.4 266.9,1014.2 268.4,1015.0 269.9,1014.6 271.4,1013.0 272.9,1011.5 274.4,1009.9 275.9,1008.3 277.4,1006.9 278.9,1005.7 280.4,1004.6 281.9,1003.5 283.4,1002.8 284.9,1003.5 286.4,1004.1 287.9,1004.8 289.4,1005.4 290.9,1005.8 292.4,1005.9 293.9,1005.9 295.4,1006.0 296.9,1006.0 298.4,1006.8 299.9,1007.0 301.4,1007.3 302.9,1007.5 304.4,1007.7 305.9,1007.0 307.4,1006.2 308.9,1005.6 310.4,1005.5 311.9,1005.6 313.4,1006.5 314.9,1007.4 316.4,1008.2 317.9,1009.1 319.4,1009.4 320.9,1009.4 322.4,1009.4 323.9,1009.4 325.4,1009.4 326.9,1009.5 328.4,1009.5 329.9,1009.5 331.4,1009.8 332.9,1009.9 334.4,1009.0 335.9,1008.2 337.4,1007.3 338.9,1006.4 340.4,1007.2 341.9,1008.8 343.4,1010.3 344.9,1011.9 346.4,1013.5 347.9,1013.6 349.4,1013.7 350.9,1015.4 352.4,1017.5 353.9,1019.8 355.4,1011.4 356.9,1014.0 358.4,1016.6 359.9,1019.3 361.4,1022.7 362.9,1026.4 364.1,1114.3" fill="#4096AA" />
<polygon points="373.0,1114.3 373.0,1030.7 374.5,1028.5 376.0,1026.4 377.5,1024.1 379.0,1021.5 380.5,1018.3 382.0,1015.1 383.5,1015.3 385.0,1016.1 386.5,1016.8 388.0,1017.2 389.5,1017.7 391.0,1018.1 392.5,1018.5 394.0,1020.8 395.5,1020.4 397.0,1019.3 398.5,1018.3 400.0,1017.2 401.5,1012.8 403.0,1019.5 404.5,1015.1 406.0,1010.8 407.5,1007.3 409.0,1005.8 410.5,1004.6 412.0,1003.9 413.5,1003.1 415.0,1000.9 416.5,997.9 418.0,997.9 419.5,997.9 421.0,998.0 422.5,999.1 424.0,1001.0 425.5,1004.0 427.0,1007.0 428.5,1010.2 430.0,1013.9 431.5,1017.7 433.0,1018.6 434.5,1018.2 436.0,1016.9 437.5,1015.2 439.0,1013.5 440.5,1011.7 442.0,1010.0 443.5,1010.9 445.0,1011.7 446.5,1012.8 448.0,1014.0 449.5,1014.2 451.0,1012.5 452.5,1010.8 454.0,1009.0 455.5,1007.3 457.0,1006.7 458.5,1006.7 460.0,1006.7 461.5,1006.7 463.0,1006.8 464.5,1006.5 466.0,1006.2 467.5,1005.9 469.0,1005.6 470.5,1005.1 472.0,1004.2 473.5,1003.4 475.0,1003.4 476.5,1009.4 478.0,1015.6 479.5,1010.8 481.0,1017.7 482.4,1114.3" fill="#4096AA" />
<polygon points="491.2,1114.3 491.2,1030.2 492.7,1027.4 494.2,1023.4 495.7,1017.6 497.2,1011.8 498.7,1016.3 500.2,1009.9 501.7,1008.8 503.2,1009.1 504.7,1009.2 506.2,1008.9 507.7,1008.6 509.2,1008.3 510.7,1008.1 512.2,1008.3 513.7,1008.9 515.2,1009.3 516.7,1009.7 518.2,1010.1 519.7,1011.5 521.2,1013.0 522.7,1014.4 524.2,1015.9 525.7,1016.6 527.2,1016.1 528.7,1015.5 530.2,1014.9 531.7,1014.0 533.2,1012.8 534.7,1012.0 536.2,1011.2 537.7,1010.4 539.2,1009.7 540.7,1008.6 542.2,1007.5 543.7,1006.4 545.2,1005.3 546.7,1004.7 548.2,1005.1 549.7,1005.3 551.2,1005.4 552.7,1005.5 554.2,1004.3 555.7,1002.5 557.2,1000.7 558.7,998.8 560.2,997.0 561.7,997.1 563.2,997.1 564.7,997.2 566.2,998.0 567.7,999.7 569.2,1000.3 570.7,1000.9 572.2,1001.6 573.7,1002.2 575.2,1002.6 576.7,1002.8 578.2,1003.1 579.7,1003.3 581.2,1003.6 582.7,1004.0 584.2,1006.5 585.7,1009.0 587.2,1011.6 588.7,1014.2 590.2,1017.2 591.7,1009.1 593.2,1012.1 594.7,1015.1 596.2,1017.6 597.7,1022.4 599.0,1114.3" fill="#4096AA" />
<polygon points="606.0,1114.3 606.0,1013.3 607.5,1009.2 609.0,1016.2 610.5,1012.7 612.0,1011.9 613.5,1011.3 615.0,1010.7 616.5,1010.0 618.0,1009.4 619.5,1008.7 621.0,1008.1 622.5,1007.4 624.0,1006.8 625.5,1006.4 627.0,1006.0 628.5,1005.6 630.0,1005.2 631.5,1004.8 633.0,1004.5 634.5,1004.2 636.0,1004.0 637.5,1003.8 639.0,1003.6 640.5,1003.2 642.0,1002.3 643.5,1001.5 645.0,1000.8 646.5,1000.5 648.0,1001.4 649.5,1003.1 651.0,1004.7 652.5,1006.4 654.0,1008.0 655.5,1006.9 657.0,1005.7 658.5,1004.9 660.0,1005.2 661.5,1006.0 663.0,1007.8 664.5,1009.6 666.0,1011.4 667.5,1013.2 669.0,1015.2 670.5,1017.5 672.0,1019.5 673.5,1018.2 675.0,1016.9 676.5,1013.5 678.0,1010.1 679.5,1006.7 681.0,1003.2 682.5,1000.5 684.0,999.3 685.5,998.1 687.0,996.8 688.5,1001.2 690.0,1006.0 691.5,1010.3 693.0,1014.5 694.5,1014.7 696.0,1014.4 697.5,1016.3 699.0,1018.2 700.5,1016.8 701.0,1114.3" fill="#4096AA" />
<polygon points="706.0,1114.3 706.0,1024.1 707.5,1014.9 709.0,1016.6 710.5,1008.4 712.0,1006.7 713.5,1007.4 715.0,1008.1 716.5,1008.8 718.0,1009.5 719.5,1009.9 721.0,1009.9 722.5,1010.8 724.0,1011.9 725.5,1013.0 727.0,1013.1 728.5,1012.8 730.0,1013.5 731.5,1014.4 733.0,1015.3 734.5,1016.3 736.0,1014.0 737.5,1011.6 739.0,1009.3 740.5,1007.1 742.0,1005.0 743.5,1003.0 745.0,1001.4 746.5,1000.8 748.0,1000.9 749.5,1001.2 751.0,1001.6 752.5,1001.9 754.0,1002.2 755.5,1000.6 757.0,998.9 758.5,997.3 760.0,995.6 761.5,994.4 763.0,994.2 764.5,993.9 766.0,995.0 767.5,997.2 769.0,999.5 770.5,1001.3 772.0,1000.7 773.5,1000.2 775.0,999.6 776.5,999.8 778.0,1001.2 779.5,1003.5 781.0,1005.7 782.5,1007.8 784.0,1009.2 785.5,1010.7 787.0,1012.2 788.5,1013.8 790.0,1018.6 791.5,1012.1 793.0,1015.6 794.5,1016.7 796.0,1017.7 797.5,1018.3 799.0,1018.8 800.5,1019.4 801.8,1114.3" fill="#4096AA" />
<polygon points="812.4,1114.3 812.4,1022.0 813.9,1011.1 815.4,1011.2 816.9,1006.9 818.4,1005.7 819.9,1002.6 821.4,999.6 822.9,996.6 824.4,993.6 825.9,991.1 827.4,990.0 828.9,989.7 830.4,989.4 831.9,989.2 833.4,988.4 834.9,987.3 836.4,986.2 837.9,985.2 839.4,984.1 840.9,984.5 842.4,985.1 843.9,988.2 845.4,991.2 846.9,993.5 848.4,993.5 849.9,993.3 851.4,993.0 852.9,992.8 854.4,993.8 855.9,995.4 857.4,997.0 858.9,998.5 860.4,1000.1 861.9,1000.6 863.4,999.8 864.9,999.0 866.4,998.2 867.9,996.8 869.4,994.3 870.9,991.9 872.4,990.4 873.9,989.4 875.4,989.2 876.9,989.3 878.4,989.5 879.9,989.6 881.4,989.8 882.9,995.4 884.4,1002.6 885.9,1009.8 887.4,1014.1 888.9,1014.6 890.4,1017.0 891.9,1019.4 893.4,1010.7 894.9,1013.1 896.4,1013.4 897.9,1012.6 899.4,1011.9 900.9,1011.1 902.4,1011.0 903.9,1018.5 904.7,1114.3" fill="#4096AA" />
<polygon points="913.5,1114.3 913.5,1022.0 915.0,1020.3 916.5,1017.8 918.0,1013.6 919.5,1009.4 921.0,1016.9 922.5,1013.3 924.0,1009.8 925.5,1006.2 927.0,1004.6 928.5,1004.7 930.0,1004.8 931.5,1004.9 933.0,1005.0 934.5,1005.3 936.0,1005.8 937.5,1006.2 939.0,1006.6 940.5,1006.0 942.0,1004.2 943.5,1002.3 945.0,1000.5 946.5,998.7 948.0,997.1 949.5,996.1 951.0,995.2 952.5,994.2 954.0,993.5 955.5,993.1 957.0,992.2 958.5,991.2 960.0,990.3 961.5,989.4 963.0,987.6 964.5,986.7 966.0,985.8 967.5,984.9 969.0,984.5 970.5,985.3 972.0,986.1 973.5,986.9 975.0,987.8 976.5,991.3 978.0,995.0 979.5,998.7 981.0,1002.4 982.5,1002.6 984.0,1001.6 985.5,1000.6 987.0,999.6 988.5,998.7 990.0,998.3 991.5,999.4 993.0,1004.4 994.5,1009.5 996.0,1014.5 997.5,1018.3 999.0,1013.0 1000.5,1021.4 1000.7,1114.3" fill="#4096AA" />
<polygon points="1009.5,1114.3 1009.5,1019.6 1011.0,1014.4 1012.5,1009.3 1014.0,1015.8 1015.5,1013.6 1017.0,1010.3 1018.5,1007.0 1020.0,1003.7 1021.5,1003.6 1023.0,1005.4 1024.5,1007.3 1026.0,1009.3 1027.5,1011.2 1029.0,1013.2 1030.5,1014.8 1032.0,1014.1 1033.5,1012.7 1035.0,1011.4 1036.5,1010.0 1038.0,1010.1 1039.5,1010.2 1041.0,1010.2 1042.5,1010.3 1044.0,1003.5 1045.5,994.1 1047.0,987.7 1048.5,984.1 1050.0,980.5 1051.5,978.7 1053.0,979.7 1054.5,980.7 1056.0,981.7 1057.5,982.7 1059.0,983.1 1060.5,983.6 1062.0,984.0 1063.5,985.9 1065.0,988.7 1066.5,991.0 1068.0,993.3 1069.5,999.7 1071.0,1008.4 1072.5,1014.1 1074.0,1015.5 1075.5,1017.0 1077.0,1018.4 1078.5,1009.6 1080.0,1014.2 1081.5,1018.8 1083.0,1023.5 1083.0,1114.3" fill="#4096AA" />
<polygon points="1091.8,1114.3 1091.8,1027.2 1093.3,1020.4 1094.8,1014.6 1096.3,1010.5 1097.8,1017.5 1099.3,1013.7 1100.8,1009.8 1102.3,1006.0 1103.8,1002.2 1105.3,1001.9 1106.8,1005.7 1108.3,1009.4 1109.8,1013.2 1111.3,1017.0 1112.8,1019.6 1114.3,1010.7 1115.8,1010.2 1117.3,1019.3 1118.8,1017.4 1120.3,1015.4 1121.8,1013.3 1123.3,1011.2 1124.8,1009.2 1126.3,1008.1 1127.8,1006.7 1129.3,1005.2 1130.8,1003.8 1132.3,1002.4 1133.8,1001.9 1135.3,1001.9 1136.8,1001.8 1138.3,1001.8 1139.8,1001.9 1141.3,1001.4 1142.8,1001.0 1144.3,1000.5 1145.8,1000.0 1147.3,1000.2 1148.8,1002.8 1150.3,1005.9 1151.8,1008.9 1153.3,1012.9 1154.8,1016.4 1156.3,1019.4 1157.8,1011.4 1159.3,1014.3 1160.8,1017.3 1162.3,1020.1 1163.8,1022.8 1165.3,1025.3 1166.8,1027.9 1167.0,1114.3" fill="#4096AA" />
<polygon points="1175.8,1114.3 1175.8,1018.6 1177.3,1019.9 1178.8,1012.9 1180.3,1009.9 1181.8,1006.9 1183.3,1006.5 1184.8,1006.2 1186.3,1005.8 1187.8,1005.4 1189.3,1004.5 1190.8,1002.5 1192.3,1000.5 1193.8,998.6 1195.3,997.4 1196.8,995.7 1198.3,993.7 1199.8,991.6 1201.3,989.6 1202.8,987.5 1204.3,986.0 1205.8,984.5 1207.3,983.0 1208.8,985.4 1210.3,988.1 1211.8,991.0 1213.3,994.0 1214.8,996.9 1216.3,999.9 1217.8,1002.7 1219.3,1005.5 1220.8,1008.3 1222.3,1007.0 1223.8,1004.8 1225.3,1001.6 1226.8,998.4 1228.3,995.3 1229.8,992.2 1231.3,990.4 1232.8,989.6 1234.3,988.8 1235.8,989.0 1237.3,989.6 1238.8,989.3 1240.3,988.4 1241.8,987.5 1243.3,986.6 1244.8,985.6 1246.3,985.5 1247.8,986.1 1249.3,987.5 1250.8,988.9 1252.3,990.7 1253.8,993.2 1255.3,995.6 1256.8,1003.1 1258.3,1010.7 1259.8,1017.7 1261.3,1013.4 1262.8,1020.4 1264.3,1027.9 1264.6,1114.3" fill="#4096AA" />
<polygon points="1272.8,1114.3 1272.8,1016.2 1274.3,1018.2 1275.8,1009.2 1277.3,1007.8 1278.8,1007.0 1280.3,1006.4 1281.8,1005.8 1283.3,1005.1 1284.8,1004.5 1286.3,1004.6 1287.8,1004.0 1289.3,1003.4 1290.8,1004.8 1292.3,1006.8 1293.8,1007.5 1295.3,1007.6 1296.8,1007.7 1298.3,1007.9 1299.8,1008.0 1301.3,1011.3 1302.8,1014.5 1304.3,1016.3 1305.8,1017.1 1307.3,1017.3 1308.8,1016.0 1310.3,1014.7 1311.8,1013.3 1313.3,1012.0 1314.8,1011.3 1316.3,1010.9 1317.8,1010.2 1319.3,1009.2 1320.8,1008.2 1322.3,1009.1 1323.8,1010.0 1325.3,1010.9 1326.8,1011.9 1328.3,1012.1 1329.8,1011.1 1331.3,1010.4 1332.8,1010.6 1334.3,1010.7 1335.8,1009.6 1337.3,1007.9 1338.8,1006.2 1340.3,1004.5 1341.8,1003.2 1343.3,1005.6 1344.8,1007.9 1346.3,1010.3 1347.8,1012.6 1349.3,1014.6 1350.8,1015.7 1352.3,1016.8 1353.8,1019.6 1355.3,1013.2 1356.8,1016.7 1358.3,1019.9 1359.8,1024.5 1360.6,1114.3" fill="#4096AA" />
<g transform="scale(1.36 1)"><path d="M90.0 1012.8h0M106.0 1013.4h0M130.9 1004.5h0M136.0 1002.1h0M149.0 990.1h0M179.6 1015.4h0M153.2 995.9h0M115.0 992.0h0M125.2 1011.4h0M176.0 1012.3h0M107.8 1013.1h0M178.0 1014.0h0M146.0 990.1h0M96.6 1005.5h0M157.7 994.5h0M97.9 1004.3h0M104.9 1014.3h0M106.0 1015.8h0M147.3 984.5h0M108.1 997.3h0M161.9 983.9h0M107.9 1004.7h0M147.1 971.6h0M108.1 1005.4h0M118.6 993.4h0M96.9 1011.1h0M143.5 991.7h0M176.1 1006.8h0M167.6 1005.9h0M171.4 1014.6h0M106.0 1005.3h0M106.6 1008.6h0M143.7 993.6h0M92.2 1022.3h0M152.9 989.7h0M143.0 993.8h0M154.3 994.4h0M139.6 998.5h0M114.2 1004.1h0M90.2 1008.6h0M94.2 1007.3h0M140.8 994.9h0M169.8 1010.6h0M151.6 996.2h0M91.9 1007.8h0M152.5 1000.6h0M146.6 983.8h0M117.7 997.9h0M138.4 993.6h0M155.8 992.9h0M172.0 1009.5h0M170.7 1013.1h0M160.7 993.3h0M145.6 986.3h0M144.1 986.9h0M179.2 1015.5h0M124.1 1006.7h0M128.8 1014.3h0M157.0 991.5h0M132.5 1004.7h0M134.0 998.6h0M112.0 1003.3h0M150.5 991.7h0M171.2 1012.2h0M169.9 1006.7h0M106.8 1007.2h0M172.0 1015.3h0M141.8 996.1h0M133.9 1002.7h0M153.5 999.4h0M104.1 1015.7h0M108.2 1008.3h0M133.7 1000.3h0M178.1 1014.7h0M91.5 1022.1h0M153.2 997.0h0M160.8 991.0h0M130.1 1002.4h0M110.3 1007.9h0M146.0 985.4h0M148.4 979.6h0M151.0 990.8h0M105.0 1010.8h0M153.7 994.8h0M120.2 997.4h0M144.7 992.0h0M160.8 996.5h0M173.6 1018.8h0M130.0 1003.5h0M123.0 998.3h0M161.3 994.1h0M148.0 983.0h0M163.2 990.2h0M108.1 999.4h0M177.7 1008.2h0M117.9 989.8h0M120.4 995.0h0M138.8 1000.1h0M91.3 1021.4h0M161.5 990.2h0M160.5 992.0h0M135.7 998.5h0M151.5 996.0h0M175.1 1016.6h0M136.7 996.1h0M146.9 981.8h0M139.7 997.1h0M165.7 1003.7h0M166.2 1003.7h0M140.9 994.0h0M134.5 1007.5h0M177.0 1010.3h0M161.7 991.4h0M151.6 990.6h0M126.4 1005.6h0M113.2 1004.3h0M128.2 1005.4h0M132.1 1010.0h0M145.0 993.8h0M159.7 992.0h0M109.4 1010.9h0M121.0 1001.8h0M155.3 992.9h0M111.5 1003.9h0M128.5 1009.8h0M136.9 999.2h0M146.2 987.1h0M166.2 996.9h0M109.9 1005.5h0M170.9 1010.6h0M172.7 999.0h0M169.5 1008.3h0M154.9 996.2h0M164.5 991.7h0M100.2 1014.3h0M90.3 1005.6h0M171.7 1016.7h0M134.7 1005.3h0M151.1 993.3h0M98.3 1004.3h0M135.6 1004.6h0M105.5 1006.5h0M178.9 1019.7h0M94.3 1011.5h0M158.3 993.7h0M135.6 1000.6h0M89.9 1007.2h0M105.2 1010.3h0M125.6 1009.7h0M135.4 993.4h0M161.7 987.1h0M146.0 985.4h0M134.6 1003.1h0M112.2 1004.2h0M159.6 995.7h0M170.4 1010.1h0M158.6 996.5h0M154.5 993.8h0M131.4 1007.4h0M146.9 988.8h0M174.7 1018.9h0M148.8 988.6h0M124.2 1007.9h0M152.6 983.8h0M90.8 1005.7h0M112.1 1006.7h0M106.5 1013.4h0M111.5 1007.9h0M134.9 1005.6h0M179.3 1013.2h0M95.6 1007.1h0M92.8 1011.9h0M131.7 1007.4h0M144.4 978.8h0M127.0 1009.5h0M122.0 998.4h0M139.8 993.8h0M115.6 994.8h0M92.6 1013.2h0M124.2 1005.9h0M93.2 1003.9h0M95.4 1012.2h0M132.2 1013.5h0M136.4 1000.7h0M131.3 1008.2h0M143.7 988.2h0M130.2 1010.4h0M136.8 997.8h0M149.5 991.1h0M141.7 991.4h0M137.0 992.6h0M155.6 995.9h0M170.0 1010.0h0M121.4 996.5h0M140.1 996.2h0M157.3 995.0h0M177.9 1008.8h0M92.3 1016.7h0M127.4 1013.2h0M138.0 998.5h0M150.3 990.2h0M122.7 1004.5h0M120.0 992.8h0M95.4 1005.6h0M145.5 991.4h0M127.3 1004.8h0M122.3 987.5h0M118.3 989.4h0M172.6 1013.8h0M97.5 1013.0h0M96.2 1010.1h0M151.1 991.3h0M159.3 995.1h0M108.1 1002.3h0M96.1 1010.7h0M154.7 986.9h0M114.5 1000.0h0M121.3 990.4h0M122.1 1002.6h0M153.3 989.4h0M172.4 999.5h0M171.9 1008.4h0M161.8 989.6h0M117.6 989.7h0M173.8 1003.1h0M111.3 1004.0h0M122.0 998.9h0M124.7 1004.8h0M106.4 1006.0h0M161.3 985.7h0M164.9 991.1h0M104.8 1004.1h0M168.9 1007.2h0M90.7 1007.5h0M138.3 992.8h0M176.7 1007.6h0M162.0 992.7h0M138.5 988.4h0M96.3 1011.5h0M155.8 982.7h0M96.4 1008.4h0M101.8 1006.5h0M147.8 986.3h0M108.8 999.5h0M136.2 991.1h0M124.6 1005.3h0M176.9 1007.9h0M133.7 1000.7h0M154.4 986.7h0M172.0 1009.2h0M163.9 986.2h0M166.4 991.3h0M164.6 983.9h0M175.9 1006.3h0M136.4 991.8h0M161.8 987.7h0M127.0 1011.1h0M156.2 980.7h0M122.9 1003.9h0M107.3 1007.6h0M115.3 982.9h0M94.1 1009.2h0M99.1 1010.4h0M159.4 993.8h0M94.4 1008.6h0M141.9 982.1h0M92.0 1019.0h0M105.5 1012.8h0M110.1 998.9h0M142.9 993.2h0M106.5 988.5h0M105.4 984.5h0M117.6 966.3h0M162.2 965.4h0M113.1 972.4h0M170.7 986.3h0M138.4 967.9h0M132.7 985.3h0M94.5 989.0h0M160.8 967.2h0M136.7 973.9h0M114.4 968.2h0M148.1 964.5h0M91.1 992.1h0M122.9 974.3h0M153.0 968.4h0M104.0 992.6h0M118.5 968.7h0M166.8 977.1h0M146.3 955.3h0M113.6 975.0h0M88.5 1110.3h0M88.3 1105.0h0M89.6 1099.5h0M88.4 1094.1h0M89.4 1090.2h0M89.0 1087.0h0M89.7 1082.6h0M89.6 1077.8h0M89.5 1073.9h0M89.7 1069.6h0M89.5 1066.4h0M89.1 1062.7h0M88.5 1058.2h0M88.8 1052.7h0M88.4 1048.7h0M89.0 1044.8h0M88.8 1039.7h0M88.5 1034.6h0M89.0 1030.4h0M89.5 1024.5h0M88.3 1019.6h0M179.7 1110.3h0M179.5 1106.6h0M178.7 1102.2h0M179.9 1096.2h0M179.6 1092.6h0M179.2 1088.7h0M179.1 1084.1h0M179.3 1080.1h0M179.1 1075.1h0M179.8 1071.5h0M180.1 1067.5h0M179.7 1062.8h0M179.9 1058.8h0M178.9 1055.6h0M179.7 1052.3h0M178.9 1047.2h0M179.9 1043.0h0M178.8 1038.2h0M178.9 1034.5h0M179.3 1031.1h0M180.0 1027.9h0M179.4 1023.6h0M105.4 920.9h0M116.0 919.9h0M119.0 922.6h0M153.0 923.3h0M93.8 937.0h0M93.8 941.8h0M93.8 948.0h0M161.3 958.3h0M166.4 973.7h0M136.1 974.7h0M138.6 978.8h0M114.7 958.3h0M118.5 958.3h0M105.4 967.9h0M94.1 958.3h0M93.6 961.6h0M93.6 963.9h0M93.6 965.5h0M94.4 968.5h0M94.0 971.6h0M93.0 974.3h0M93.5 976.4h0M93.1 979.1h0M93.8 981.2h0M94.4 984.0h0M93.0 986.4h0M94.7 989.1h0M93.4 991.3h0M92.9 993.4h0M95.0 995.8h0M94.3 997.8h0M92.9 1000.3h0M94.1 1002.9h0M92.5 1004.3h0M94.0 1005.8h0M93.2 1007.9h0M93.3 1010.2h0M92.4 1011.9h0M104.1 968.5h0M104.7 971.8h0M104.7 974.3h0M105.3 976.3h0M105.2 979.6h0M103.9 982.1h0M104.2 985.0h0M104.1 987.9h0M105.4 990.2h0M104.7 991.8h0M103.5 993.2h0M105.9 994.7h0M105.1 997.4h0M105.1 999.1h0M104.3 1001.3h0M105.6 1003.3h0M103.7 1004.5h0M103.4 1006.2h0M104.9 1007.8h0M104.7 1009.1h0M104.9 1010.5h0M105.2 1012.0h0M105.3 1013.1h0M106.5 1014.2h0M104.5 1016.0h0M105.2 1017.4h0M154.1 946.3h0M153.7 949.3h0M154.3 952.7h0M153.6 955.7h0M153.9 957.9h0M153.8 960.8h0M153.6 963.0h0M153.3 965.8h0M154.4 967.1h0M154.4 969.7h0M154.5 971.7h0M154.1 973.2h0M152.5 974.4h0M153.8 976.1h0M152.1 977.7h0M153.9 979.6h0M152.9 980.9h0M152.6 982.4h0M155.6 983.4h0M154.5 985.5h0M153.4 987.4h0M152.3 989.2h0M154.1 990.8h0M151.5 992.6h0M151.6 994.3h0M156.5 995.6h0M152.2 996.4h0M152.7 997.4h0M156.3 998.3h0M153.1 999.8h0M225.3 1002.9h0M207.0 1006.7h0M218.4 1002.9h0M246.2 1006.6h0M239.3 1005.8h0M209.7 1001.2h0M248.8 1003.0h0M191.9 1006.1h0M257.7 1011.3h0M230.8 1007.5h0M249.8 1003.4h0M200.1 1013.2h0M197.3 1014.7h0M248.9 1004.0h0M194.8 1010.1h0M232.5 1001.2h0M198.5 1016.9h0M263.3 1015.1h0M236.5 999.3h0M221.6 1004.7h0M251.9 1007.0h0M202.4 1010.0h0M199.0 1000.1h0M238.8 1012.3h0M221.9 1004.6h0M199.1 1015.6h0M227.3 998.8h0M261.5 1010.5h0M258.3 1015.0h0M246.0 1006.6h0M222.8 1006.6h0M222.9 1008.0h0M253.2 1006.7h0M231.7 1006.9h0M198.2 1013.8h0M226.9 999.5h0M227.2 1001.6h0M263.0 1009.9h0M262.6 1010.9h0M218.3 1002.1h0M234.8 1006.5h0M229.3 1007.9h0M197.7 1013.3h0M250.2 999.8h0M220.8 1002.2h0M197.1 1011.6h0M215.3 999.0h0M249.7 1008.0h0M247.8 1001.9h0M232.0 1007.2h0M192.4 1011.2h0M234.1 1002.0h0M222.0 993.0h0M259.3 1010.2h0M223.7 1008.3h0M224.2 1007.6h0M214.7 1008.0h0M199.4 1011.9h0M231.7 1005.7h0M213.9 1006.3h0M259.7 1015.7h0M230.8 1009.3h0M256.1 1014.3h0M223.0 1003.3h0M260.1 1015.9h0M219.7 1009.1h0M246.2 1004.2h0M205.9 1004.3h0M216.9 1004.6h0M219.8 1000.9h0M217.5 1004.9h0M264.1 1013.1h0M208.2 997.1h0M233.7 1008.3h0M252.4 1005.4h0M223.1 1006.0h0M263.7 1018.1h0M227.1 999.4h0M198.4 1007.1h0M193.4 1011.0h0M232.0 1007.0h0M261.8 1008.7h0M198.0 1016.9h0M205.6 1002.6h0M199.8 1011.8h0M258.0 1014.3h0M218.0 1004.7h0M212.5 1003.2h0M210.5 1003.5h0M230.9 1005.0h0M209.6 999.7h0M211.1 1002.8h0M228.8 1007.9h0M255.0 1012.9h0M231.4 1006.6h0M240.1 1007.0h0M210.2 991.2h0M217.9 1007.7h0M224.6 1002.2h0M261.3 1009.0h0M216.8 993.4h0M199.0 1013.2h0M196.1 1017.1h0M233.0 992.0h0M213.9 1008.8h0M240.6 1007.8h0M233.4 1008.1h0M254.7 1013.2h0M196.5 1014.7h0M230.1 1003.6h0M205.5 1005.4h0M227.1 1001.4h0M232.4 1008.6h0M200.8 1009.4h0M243.2 998.3h0M261.8 1008.2h0M260.7 1005.2h0M234.9 1007.7h0M236.6 1012.6h0M229.6 1009.4h0M199.1 1004.3h0M192.5 1004.0h0M242.2 1007.2h0M247.4 1010.7h0M195.8 1001.8h0M253.1 1009.9h0M216.7 998.2h0M210.3 1002.5h0M215.8 1005.5h0M208.3 1005.3h0M201.9 1006.5h0M249.3 1005.2h0M239.7 1006.0h0M209.8 1006.1h0M208.1 1001.0h0M245.1 1005.5h0M231.1 999.7h0M209.0 1000.4h0M264.8 1018.0h0M258.9 1019.0h0M200.9 1007.8h0M216.0 1006.8h0M212.2 1001.2h0M226.3 1008.9h0M228.0 1005.5h0M259.1 1015.5h0M256.4 1006.7h0M216.3 1008.9h0M244.2 1012.9h0M200.9 1004.6h0M245.1 1011.0h0M218.6 1003.5h0M260.9 1008.1h0M216.7 1002.8h0M204.4 1002.2h0M231.1 1002.7h0M230.1 1009.6h0M207.4 1000.3h0M247.6 1008.4h0M202.7 1005.1h0M212.8 993.7h0M225.1 1001.0h0M225.5 994.2h0M263.9 1011.9h0M220.7 1004.7h0M203.7 1008.6h0M192.2 1006.6h0M228.1 1004.9h0M204.4 1003.1h0M193.8 1008.2h0M218.4 1003.0h0M214.4 997.4h0M234.2 1006.8h0M225.2 997.0h0M208.2 998.7h0M256.7 1012.6h0M228.8 989.2h0M212.3 1003.9h0M244.8 1007.8h0M234.4 1008.3h0M261.6 1011.4h0M198.0 1005.2h0M216.7 998.5h0M227.9 990.7h0M229.2 1001.2h0M190.9 1013.0h0M210.9 996.5h0M238.0 1003.7h0M197.5 1008.7h0M226.8 996.7h0M263.3 1015.4h0M223.8 1007.5h0M250.6 1005.5h0M252.7 998.5h0M209.8 989.3h0M228.4 1000.3h0M232.3 992.6h0M227.4 999.5h0M212.5 992.1h0M228.4 1001.7h0M205.4 1003.6h0M253.1 998.9h0M263.9 1012.7h0M242.0 997.4h0M244.0 997.5h0M250.7 1006.4h0M251.7 1006.0h0M209.0 988.4h0M192.4 1006.5h0M216.4 993.9h0M236.4 994.8h0M260.5 1006.5h0M195.6 1004.2h0M198.9 997.9h0M255.9 1010.4h0M204.6 996.1h0M247.4 991.7h0M237.3 1008.8h0M245.1 1009.7h0M255.6 1002.0h0M249.5 992.5h0M233.3 993.5h0M238.5 1003.2h0M219.5 1002.9h0M193.9 988.7h0M249.4 981.8h0M239.2 978.9h0M242.1 981.9h0M214.9 980.9h0M205.7 976.0h0M241.5 977.1h0M216.0 973.7h0M257.7 989.6h0M260.6 991.9h0M261.4 992.0h0M216.1 980.9h0M229.7 978.6h0M194.7 981.7h0M230.7 979.5h0M245.7 984.4h0M206.5 975.9h0M190.7 1110.3h0M190.5 1106.3h0M190.9 1103.2h0M191.8 1098.6h0M191.0 1093.7h0M190.7 1089.4h0M191.8 1085.0h0M191.0 1081.7h0M191.5 1076.6h0M191.3 1071.9h0M191.7 1066.1h0M191.2 1062.4h0M191.1 1056.4h0M191.5 1052.8h0M190.6 1049.6h0M190.8 1045.0h0M191.4 1039.8h0M191.5 1035.9h0M191.4 1030.9h0M191.0 1026.5h0M191.1 1023.2h0M265.7 1110.3h0M264.5 1107.1h0M265.4 1103.3h0M264.6 1099.0h0M265.3 1094.7h0M265.0 1089.5h0M265.4 1084.6h0M264.5 1079.7h0M264.6 1074.6h0M265.1 1071.4h0M264.5 1068.4h0M265.1 1064.2h0M265.8 1060.9h0M265.1 1055.3h0M264.9 1050.5h0M264.6 1044.6h0M264.7 1040.7h0M265.2 1035.1h0M265.0 1030.9h0M264.8 1025.2h0M208.0 965.5h0M233.2 968.9h0M257.6 979.5h0M219.3 978.8h0M243.2 982.3h0M194.1 982.3h0M211.7 985.7h0M200.2 958.3h0M199.7 960.7h0M199.9 963.0h0M200.1 965.1h0M199.6 967.4h0M199.8 970.3h0M200.6 972.6h0M199.7 974.8h0M200.9 977.8h0M199.7 980.5h0M200.5 982.9h0M200.5 984.7h0M200.3 987.5h0M199.8 989.8h0M199.2 992.0h0M200.0 994.3h0M199.4 997.0h0M198.4 999.1h0M200.8 1000.8h0M200.3 1002.2h0M199.6 1003.6h0M198.8 1006.0h0M198.2 1008.2h0M201.2 1010.0h0M199.5 1012.0h0M200.8 1013.7h0M335.6 1008.1h0M316.8 1013.5h0M330.7 1012.7h0M336.4 1009.3h0M287.5 1015.7h0M349.4 1001.5h0M311.9 1001.3h0M335.7 999.3h0M337.6 1001.6h0M283.5 1019.4h0M296.8 1016.7h0M327.2 1009.2h0M291.9 1018.9h0M327.8 1010.3h0M291.5 1017.4h0M276.7 1022.7h0M305.3 992.3h0M350.7 1004.9h0M338.7 1009.4h0M285.6 1015.3h0M344.9 1006.5h0M286.2 1016.6h0M325.8 1006.9h0M309.7 996.3h0M304.6 998.4h0M330.5 1010.8h0M287.5 1014.4h0M303.8 1001.1h0M308.8 994.3h0M278.8 1019.3h0M300.1 1001.9h0M340.3 1006.3h0M284.5 1011.4h0M294.0 1013.4h0M282.8 1013.5h0M334.9 1008.3h0M310.8 996.8h0M336.8 999.7h0M346.4 993.6h0M347.8 987.2h0M291.7 1021.8h0M299.5 1000.9h0M328.2 1002.8h0M342.3 1007.2h0M298.2 1009.7h0M348.1 998.1h0M281.9 1009.7h0M302.4 1003.4h0M280.3 1014.0h0M306.9 997.9h0M277.7 1024.1h0M313.8 1005.6h0M280.4 1014.9h0M285.2 1012.7h0M278.0 1024.7h0M310.2 999.7h0M284.2 1016.2h0M314.0 1001.5h0M314.7 1004.5h0M344.4 1003.6h0M311.6 998.2h0M316.4 1009.8h0M280.4 1015.1h0M322.0 1018.0h0M312.6 991.6h0M289.0 1019.5h0M333.8 1004.7h0M299.8 1010.3h0M293.5 1012.2h0M335.6 1006.0h0M330.4 1016.5h0M347.5 1004.9h0M312.9 1003.7h0M343.8 1009.0h0M310.4 994.0h0M284.8 1014.9h0M312.4 999.7h0M348.0 997.6h0M339.5 1005.0h0M311.4 998.2h0M303.0 1006.2h0M277.9 1020.8h0M332.0 1014.7h0M294.5 1010.2h0M344.7 1004.8h0M350.0 1006.1h0M312.4 999.4h0M315.2 1007.3h0M326.8 1007.3h0M287.6 1021.0h0M293.7 1012.1h0M346.8 999.9h0M338.9 1007.8h0M332.1 1007.5h0M279.8 1012.8h0M313.6 990.5h0M310.5 996.6h0M329.2 1009.9h0M281.6 1013.3h0M337.5 1006.6h0M310.8 998.1h0M284.7 1013.0h0M295.1 1011.7h0M308.1 990.3h0M327.9 1002.4h0M322.8 1012.1h0M303.4 1003.3h0M327.0 1005.3h0M345.7 1003.6h0M337.9 1003.8h0M351.7 1017.8h0M323.2 1006.7h0M323.0 1013.3h0M339.6 991.6h0M321.6 1012.5h0M351.8 1009.1h0M306.6 994.4h0M303.2 1005.6h0M297.4 1017.1h0M299.7 1007.1h0M321.9 1008.9h0M302.3 1007.3h0M316.8 1015.5h0M299.4 1009.7h0M313.6 1005.9h0M317.1 1013.9h0M298.1 1009.4h0M329.8 1007.9h0M332.8 1008.4h0M333.3 994.7h0M335.4 1002.3h0M323.9 1012.7h0M350.1 1007.7h0M351.1 1013.2h0M327.3 1010.4h0M299.5 1007.7h0M327.0 996.2h0M344.1 1008.2h0M339.1 1001.8h0M282.2 1009.9h0M286.1 1016.8h0M276.6 1028.7h0M343.9 1006.1h0M310.4 992.2h0M279.4 1013.8h0M328.0 1006.0h0M329.8 1008.5h0M320.5 1014.6h0M297.4 1006.0h0M303.0 1004.6h0M290.9 1014.7h0M333.6 1009.7h0M281.2 1013.5h0M323.0 1002.4h0M299.0 1007.4h0M287.7 1013.6h0M308.4 986.1h0M300.3 1006.3h0M284.3 1011.3h0M342.9 999.6h0M294.1 1012.0h0M331.8 1011.1h0M350.0 1000.6h0M317.6 1015.3h0M345.7 1002.4h0M279.7 1020.1h0M282.7 1015.0h0M309.4 995.4h0M283.8 1017.6h0M310.0 1000.1h0M339.0 1004.2h0M336.7 1001.5h0M317.3 1008.1h0M329.3 1012.3h0M313.1 1001.1h0M283.3 1016.2h0M280.3 1011.4h0M341.0 1007.9h0M351.3 1013.5h0M331.7 997.2h0M292.3 1019.4h0M286.1 1017.8h0M337.6 998.4h0M312.7 1003.0h0M325.3 1009.5h0M286.6 1015.2h0M325.4 998.1h0M339.3 1006.0h0M299.6 1006.5h0M313.8 1006.9h0M342.4 996.4h0M337.9 1000.5h0M345.8 992.3h0M339.5 994.4h0M292.9 1017.4h0M280.8 1011.8h0M312.5 986.7h0M298.5 1005.7h0M342.3 990.5h0M334.0 994.8h0M346.7 1001.9h0M323.4 1012.6h0M327.9 996.9h0M314.9 1008.8h0M319.7 1018.1h0M311.6 1000.3h0M308.2 985.3h0M332.7 997.5h0M311.2 994.3h0M280.7 1011.9h0M319.8 1013.3h0M287.5 1016.4h0M281.3 1014.9h0M282.5 1014.2h0M286.9 1013.7h0M322.8 999.8h0M318.6 1017.4h0M297.5 1001.9h0M320.9 1007.2h0M324.6 1010.9h0M291.7 1018.0h0M340.7 991.5h0M321.4 1013.2h0M280.0 1015.3h0M307.6 982.9h0M292.2 1018.8h0M277.7 1024.3h0M337.9 993.0h0M289.2 1008.1h0M320.1 993.0h0M322.9 981.3h0M332.5 986.0h0M322.3 989.1h0M333.5 984.8h0M341.5 977.1h0M343.1 980.3h0M347.7 975.3h0M296.7 988.7h0M300.6 982.7h0M280.8 997.5h0M295.6 999.1h0M334.7 984.1h0M333.1 985.1h0M304.5 970.3h0M338.5 975.6h0M277.5 1110.3h0M277.5 1105.5h0M277.0 1100.6h0M276.7 1096.7h0M276.5 1091.9h0M277.4 1087.0h0M276.4 1081.9h0M276.6 1078.8h0M277.3 1074.5h0M276.9 1069.8h0M276.9 1065.0h0M276.9 1060.0h0M276.4 1055.3h0M276.7 1051.9h0M277.5 1046.3h0M276.9 1042.4h0M276.8 1037.9h0M277.3 1034.3h0M276.4 1031.1h0M276.4 1027.2h0M351.5 1110.3h0M351.6 1105.7h0M352.3 1100.8h0M352.1 1095.9h0M351.8 1091.1h0M352.4 1086.7h0M352.5 1083.1h0M352.8 1078.3h0M352.2 1073.4h0M351.8 1068.1h0M352.0 1064.0h0M352.5 1058.8h0M352.8 1055.3h0M352.1 1049.3h0M352.3 1043.3h0M351.5 1039.2h0M352.3 1036.1h0M352.3 1031.0h0M352.0 1025.6h0M352.3 1020.4h0M298.7 876.0h0M293.7 965.1h0M329.5 974.0h0M348.6 964.4h0M302.5 978.1h0M301.2 982.3h0M344.1 980.5h0M349.1 972.0h0M337.8 982.3h0M428.6 1004.1h0M436.7 1008.1h0M397.3 1012.3h0M398.8 1009.1h0M432.0 1007.7h0M369.3 1007.0h0M422.4 996.2h0M403.1 997.6h0M401.3 1003.5h0M405.8 1003.8h0M369.5 1008.1h0M434.8 1012.0h0M372.4 997.2h0M379.8 1007.7h0M393.3 1011.4h0M415.5 993.8h0M424.7 999.2h0M389.8 1014.7h0M378.1 1009.8h0M401.9 1002.5h0M401.4 1005.0h0M407.0 1000.1h0M367.3 1013.4h0M376.3 1004.0h0M370.5 1011.7h0M394.1 1007.3h0M435.4 1008.2h0M404.3 1006.5h0M379.8 1010.2h0M365.5 1007.0h0M423.7 1004.9h0M386.6 1014.4h0M410.2 1000.0h0M381.2 1008.6h0M406.9 995.5h0M435.2 1003.9h0M410.1 996.1h0M390.4 1014.2h0M381.6 1006.5h0M399.4 995.8h0M429.7 1001.3h0M389.8 1011.4h0M389.7 1015.7h0M376.3 1008.2h0M417.1 996.3h0M423.9 994.8h0M417.7 996.6h0M415.1 997.1h0M412.8 995.3h0M433.8 1015.8h0M400.9 1000.1h0M411.0 995.6h0M409.7 996.5h0M398.5 1001.6h0M436.3 1007.0h0M409.3 1000.2h0M401.3 1000.6h0M395.9 1008.5h0M423.7 1006.4h0M379.3 1002.0h0M432.6 1010.1h0M430.0 1006.2h0M430.3 1011.2h0M435.7 1006.7h0M419.8 999.3h0M431.2 997.9h0M370.4 1005.5h0M435.0 1020.9h0M370.9 1007.0h0M406.1 1004.8h0M369.9 1004.4h0M372.6 994.2h0M390.4 1009.2h0M365.2 1011.4h0M418.5 997.6h0M433.8 1014.7h0M411.3 1001.1h0M377.5 1003.3h0M405.6 1007.2h0M378.3 1005.5h0M370.2 1006.1h0M394.4 1010.4h0M368.9 998.4h0M410.8 1001.8h0M409.5 993.7h0M408.2 995.0h0M434.9 1016.2h0M369.8 1009.3h0M415.7 997.3h0M429.9 1004.7h0M402.3 997.2h0M417.0 994.2h0M373.0 1009.5h0M384.5 1012.2h0M412.3 999.0h0M389.6 1009.0h0M390.9 1012.6h0M394.9 1011.5h0M424.3 1000.2h0M382.5 1007.3h0M369.7 1008.5h0M385.1 1014.6h0M406.5 1002.7h0M383.1 1004.7h0M414.8 999.9h0M377.4 1005.8h0M425.8 998.4h0M364.7 1013.1h0M395.5 1006.7h0M373.0 1011.0h0M387.2 1007.8h0M371.8 1008.6h0M381.8 1010.1h0M418.5 985.3h0M435.6 1011.4h0M367.0 1013.0h0M428.0 1001.0h0M381.5 1010.8h0M366.2 1005.5h0M422.9 1000.7h0M365.1 1016.5h0M421.1 1000.4h0M402.8 1001.3h0M392.9 1014.5h0M389.5 1014.8h0M393.4 996.0h0M424.6 1003.6h0M383.1 1014.0h0M370.5 1006.3h0M372.8 1005.7h0M419.1 984.2h0M382.5 1014.2h0M431.9 1012.3h0M424.4 1005.6h0M429.4 1008.2h0M422.6 1001.5h0M392.4 1005.7h0M422.0 1005.7h0M406.1 1006.7h0M365.0 1012.5h0M416.8 996.6h0M424.2 996.3h0M416.3 986.6h0M410.7 1001.5h0M393.9 1008.5h0M419.8 995.4h0M427.2 1002.1h0M418.6 996.8h0M400.0 995.5h0M391.3 1012.5h0M403.6 993.4h0M410.9 998.7h0M367.0 1012.6h0M400.4 1004.6h0M431.2 1007.6h0M422.8 1000.8h0M395.7 1004.3h0M370.5 1005.5h0M389.1 1015.9h0M410.0 997.3h0M405.4 1004.6h0M366.2 1012.6h0M383.7 1009.0h0M380.8 1008.3h0M410.2 997.3h0M407.5 1000.0h0M383.5 999.0h0M433.9 1015.0h0M389.0 1012.3h0M380.7 1007.5h0M410.5 1002.8h0M378.8 1006.0h0M431.8 1006.0h0M377.1 1002.3h0M385.3 1014.4h0M412.5 997.4h0M390.3 998.5h0M391.5 1010.5h0M438.2 1014.7h0M415.5 991.1h0M410.0 995.6h0M384.0 1011.0h0M380.4 999.8h0M369.9 1008.5h0M401.3 988.5h0M421.9 992.6h0M418.9 998.8h0M401.6 1005.0h0M402.3 1005.1h0M372.0 1008.3h0M389.2 1009.3h0M379.7 1009.5h0M372.5 993.4h0M437.1 1009.7h0M373.6 1006.9h0M429.2 1006.0h0M374.5 999.1h0M435.6 1005.5h0M426.6 1000.1h0M418.3 985.1h0M430.7 993.3h0M420.4 989.4h0M415.9 992.2h0M406.3 990.5h0M406.2 1005.8h0M396.9 995.5h0M416.5 992.2h0M433.3 1004.1h0M380.2 999.5h0M428.5 1004.5h0M433.5 1010.8h0M426.9 1003.9h0M387.3 1013.1h0M379.7 1000.2h0M423.0 993.4h0M431.5 1010.4h0M384.8 1010.4h0M422.7 991.6h0M437.5 1011.2h0M403.1 994.1h0M424.6 996.2h0M414.2 983.8h0M425.6 1002.2h0M365.6 1008.3h0M423.5 978.6h0M426.0 973.0h0M376.7 984.7h0M412.2 968.2h0M376.4 976.2h0M380.3 978.7h0M432.9 990.9h0M415.3 969.2h0M430.7 982.2h0M394.5 986.5h0M425.7 977.7h0M430.4 986.0h0M428.8 982.4h0M416.9 966.7h0M388.0 987.4h0M394.6 988.3h0M425.2 975.7h0M364.2 1110.3h0M363.3 1107.2h0M364.2 1103.5h0M363.0 1100.4h0M363.6 1096.3h0M364.3 1090.8h0M364.1 1087.0h0M364.1 1083.0h0M363.1 1078.0h0M363.6 1073.6h0M363.8 1069.2h0M363.6 1064.1h0M364.2 1059.6h0M363.3 1054.5h0M363.4 1051.1h0M363.6 1045.3h0M364.4 1039.6h0M363.6 1034.5h0M363.8 1029.3h0M363.8 1023.4h0M438.1 1110.3h0M437.4 1105.4h0M437.8 1100.7h0M438.3 1095.7h0M437.7 1092.0h0M438.5 1088.3h0M437.8 1083.8h0M438.3 1077.9h0M437.9 1072.3h0M437.7 1069.0h0M437.7 1065.7h0M437.8 1061.3h0M437.9 1055.4h0M437.4 1051.9h0M437.9 1046.9h0M437.9 1042.6h0M438.1 1038.4h0M437.2 1033.6h0M437.5 1029.2h0M437.8 1024.4h0M438.6 1019.1h0M371.8 864.7h0M371.1 967.2h0M367.3 982.3h0M414.7 961.7h0M420.5 965.1h0M413.4 974.7h0M428.0 978.1h0M403.3 984.0h0M398.3 987.4h0M484.9 1000.9h0M480.6 1004.6h0M494.3 1007.5h0M510.7 1013.0h0M500.1 1003.4h0M502.9 999.8h0M496.5 1013.8h0M508.1 1001.0h0M465.2 1005.4h0M484.6 1002.0h0M461.4 1007.2h0M463.8 1007.0h0M474.9 995.8h0M459.3 991.4h0M476.9 1003.0h0M465.0 999.4h0M457.9 1005.8h0M496.3 1017.5h0M468.4 1000.4h0M485.1 1003.3h0M488.8 1005.2h0M459.3 1004.9h0M503.9 999.4h0M471.1 1003.9h0M502.2 995.1h0M485.4 988.7h0M483.5 998.4h0M449.6 1007.1h0M489.6 1009.1h0M502.1 1002.0h0M508.5 1013.0h0M505.7 994.8h0M461.5 1002.3h0M450.8 1014.3h0M492.4 1006.4h0M484.5 1000.2h0M484.6 1004.9h0M500.1 1004.4h0M512.5 1011.0h0M458.5 1003.1h0M464.7 990.1h0M490.0 1012.9h0M498.3 1011.4h0M484.8 1005.8h0M450.8 1007.6h0M489.5 1012.9h0M458.8 1006.6h0M464.7 1001.0h0M454.7 1005.7h0M481.9 1001.7h0M484.7 996.5h0M488.9 1005.6h0M465.5 1003.8h0M493.0 1018.1h0M462.9 1006.1h0M493.4 1006.3h0M494.8 1019.3h0M476.4 998.5h0M498.9 1006.5h0M470.1 1006.6h0M475.0 1001.6h0M484.6 1001.9h0M468.9 1005.5h0M467.4 1002.6h0M458.4 1002.2h0M470.9 1002.5h0M499.3 1006.1h0M503.3 999.5h0M452.3 1007.8h0M448.9 1005.2h0M478.9 988.6h0M461.7 1000.1h0M512.4 1017.6h0M449.1 1007.5h0M510.6 1009.0h0M492.0 1004.2h0M468.3 997.9h0M483.3 1007.0h0M488.5 1001.4h0M498.5 1008.1h0M511.7 1012.4h0M471.4 986.4h0M452.0 1005.4h0M512.7 1015.8h0M449.0 1009.8h0M470.6 994.6h0M513.2 1019.9h0M493.4 1014.8h0M480.5 1001.3h0M462.2 1002.6h0M489.0 1008.1h0M500.6 1006.5h0M491.4 1008.6h0M456.7 1007.0h0M493.2 1013.1h0M458.6 1007.5h0M476.5 991.0h0M460.3 1008.7h0M459.4 1008.4h0M502.8 1001.8h0M494.0 1006.2h0M480.2 998.8h0M465.3 1006.2h0M474.4 998.1h0M459.9 990.5h0M474.0 998.0h0M494.9 1017.0h0M459.4 1006.7h0M499.3 1000.3h0M458.3 1003.4h0M471.1 1000.7h0M461.4 1003.2h0M449.4 1007.2h0M477.5 997.0h0M502.6 984.6h0M477.8 1003.7h0M463.4 1003.0h0M483.4 1003.7h0M455.0 997.8h0M476.5 1001.6h0M512.2 1007.1h0M450.6 1008.6h0M477.6 1002.0h0M493.7 1015.9h0M465.7 1003.1h0M454.9 1007.6h0M451.4 999.7h0M486.6 1001.8h0M480.2 1000.2h0M465.0 1004.3h0M463.6 1006.0h0M495.5 1017.6h0M471.0 1002.7h0M481.5 1003.6h0M455.3 1006.7h0M507.4 1000.5h0M476.9 994.3h0M455.6 1008.7h0M501.0 994.5h0M460.0 1004.6h0M483.4 999.5h0M478.7 998.1h0M471.8 1001.5h0M506.8 1004.9h0M471.9 998.0h0M491.3 1012.8h0M491.7 1010.3h0M493.2 1013.4h0M462.6 995.1h0M488.4 1011.3h0M460.1 1002.6h0M506.3 990.5h0M502.2 998.3h0M513.1 1011.7h0M504.2 997.7h0M504.5 982.5h0M473.9 991.5h0M448.6 998.2h0M487.8 992.3h0M492.9 1013.1h0M459.5 999.9h0M504.4 990.7h0M483.1 1003.9h0M457.4 1005.5h0M467.7 998.1h0M509.4 1011.4h0M462.7 994.4h0M509.2 1010.9h0M467.3 999.2h0M451.8 1010.6h0M483.9 1002.6h0M463.1 993.0h0M479.3 998.1h0M490.7 1002.0h0M508.1 992.9h0M455.1 998.0h0M449.4 1011.8h0M464.5 1004.1h0M457.8 1005.3h0M501.0 990.6h0M480.6 1000.3h0M496.7 1007.6h0M452.8 1004.6h0M461.1 1000.1h0M511.8 1012.9h0M468.9 995.9h0M490.9 1010.2h0M473.6 994.7h0M508.6 1011.1h0M506.1 992.7h0M507.8 1003.1h0M490.4 1012.8h0M462.4 996.4h0M469.4 997.0h0M512.1 1007.5h0M491.6 1007.0h0M464.3 988.7h0M472.7 1002.2h0M475.8 973.9h0M462.1 978.9h0M453.8 977.4h0M481.8 981.9h0M483.5 976.8h0M473.6 970.2h0M477.7 971.2h0M497.2 984.7h0M459.4 976.8h0M510.5 983.8h0M452.0 985.6h0M449.4 983.1h0M504.7 967.8h0M490.8 985.1h0M494.9 990.6h0M448.6 1110.3h0M448.1 1106.8h0M447.5 1101.9h0M448.8 1097.3h0M448.5 1094.0h0M448.7 1088.8h0M448.4 1082.9h0M448.1 1078.1h0M448.3 1073.8h0M448.6 1069.8h0M448.1 1065.2h0M448.5 1060.6h0M448.6 1055.1h0M447.8 1050.0h0M447.6 1047.0h0M448.2 1043.7h0M448.1 1040.5h0M448.1 1035.2h0M448.0 1029.6h0M447.8 1025.2h0M448.3 1021.8h0M447.6 1018.4h0M513.2 1110.3h0M512.5 1104.4h0M513.6 1100.6h0M513.3 1095.9h0M513.1 1089.9h0M513.6 1086.2h0M512.1 1080.5h0M513.1 1074.6h0M512.8 1070.9h0M513.3 1067.0h0M512.3 1062.8h0M512.6 1057.1h0M513.2 1053.6h0M513.0 1050.2h0M512.3 1045.9h0M513.2 1040.0h0M513.5 1036.8h0M513.3 1031.9h0M512.4 1026.6h0M512.4 1022.6h0M452.0 964.1h0M460.8 951.1h0M505.4 972.7h0M497.8 982.9h0M475.9 949.7h0M465.1 984.0h0M461.3 989.1h0M476.5 951.4h0M476.1 954.0h0M475.9 957.4h0M475.5 959.7h0M475.2 963.0h0M476.5 964.8h0M475.3 966.2h0M475.3 968.5h0M474.9 970.6h0M474.9 973.0h0M474.9 974.8h0M475.2 977.2h0M474.7 979.4h0M475.4 981.5h0M475.0 984.0h0M477.0 985.6h0M475.9 986.9h0M475.2 988.7h0M475.9 990.0h0M474.2 991.1h0M475.5 992.6h0M476.6 994.0h0M476.3 995.6h0M476.7 997.4h0M476.1 999.6h0M476.1 1001.4h0M477.3 1002.5h0M525.3 1009.3h0M576.7 1007.7h0M530.8 1006.0h0M557.8 996.6h0M539.3 1017.6h0M586.8 1020.8h0M521.5 1017.8h0M565.5 998.5h0M559.7 987.0h0M576.8 1006.7h0M576.8 1008.2h0M574.5 992.4h0M534.1 1012.0h0M529.1 997.0h0M571.2 996.9h0M557.6 996.2h0M533.9 1012.9h0M585.7 1019.2h0M550.0 995.0h0M548.4 992.0h0M539.6 1005.2h0M541.4 1014.7h0M565.6 996.4h0M564.7 983.0h0M547.5 996.9h0M542.0 1009.2h0M572.5 1000.4h0M559.8 992.6h0M558.7 997.7h0M535.3 1008.8h0M534.9 1015.7h0M550.9 1002.4h0M526.6 1003.1h0M544.4 1010.2h0M541.3 1012.9h0M540.9 1010.5h0M570.8 983.4h0M562.4 992.2h0M539.7 1012.3h0M556.6 1001.4h0M523.3 1008.7h0M569.2 1001.9h0M533.1 1013.8h0M554.5 996.6h0M550.4 999.4h0M582.5 1016.2h0M542.3 1010.0h0M546.6 1006.8h0M545.3 1003.1h0M543.3 1009.5h0M531.2 1013.3h0M567.8 1003.5h0M571.2 1000.8h0M581.8 1007.4h0M586.0 1012.5h0M547.8 1000.6h0M568.2 997.8h0M571.5 995.1h0M573.8 1006.4h0M557.6 981.4h0M564.1 992.6h0M542.0 1007.4h0M578.0 1010.9h0M556.8 999.0h0M523.5 995.4h0M576.1 1003.9h0M534.2 1006.9h0M582.8 1009.9h0M568.2 1002.0h0M544.5 1008.7h0M532.6 1012.2h0M538.7 1013.1h0M528.1 1008.4h0M530.6 1007.1h0M526.0 1007.9h0M570.1 995.9h0M530.3 997.4h0M567.8 998.3h0M532.2 1014.7h0M571.7 995.9h0M549.4 999.5h0M564.4 993.4h0M550.2 1000.3h0M539.2 1015.1h0M581.8 1007.7h0M549.7 1002.0h0M565.7 997.4h0M542.0 995.8h0M525.4 1006.6h0M582.7 1013.4h0M550.8 1000.8h0M533.0 1007.7h0M585.8 1017.7h0M534.8 1013.7h0M578.1 1012.1h0M542.7 1011.9h0M526.5 1008.4h0M529.1 1012.1h0M533.9 1013.3h0M543.3 999.5h0M560.3 987.8h0M582.5 1017.8h0M574.5 1003.9h0M569.3 1000.9h0M582.8 1017.0h0M556.5 997.1h0M562.7 992.7h0M562.1 986.0h0M523.1 1006.6h0M581.7 1013.1h0M552.5 999.9h0M553.2 1002.2h0M525.4 1004.0h0M530.8 1012.2h0M522.2 1006.9h0M570.4 990.5h0M566.0 997.8h0M539.4 1015.6h0M563.0 992.5h0M545.5 1000.6h0M569.2 999.5h0M561.9 992.5h0M576.0 1006.6h0M560.9 994.5h0M555.5 998.3h0M545.3 1003.8h0M533.4 1008.3h0M550.1 998.6h0M582.7 1018.0h0M564.8 1001.3h0M530.4 1007.3h0M583.8 1019.0h0M521.6 1004.7h0M542.7 1010.5h0M549.1 991.3h0M525.6 1003.5h0M573.3 1004.2h0M523.1 1003.4h0M580.4 1014.5h0M546.6 991.6h0M552.6 1000.5h0M538.1 1017.7h0M549.1 1000.9h0M547.1 999.7h0M570.7 998.0h0M584.1 1015.4h0M562.4 992.5h0M577.9 1014.1h0M563.4 990.4h0M573.3 1005.8h0M545.9 996.4h0M567.9 998.8h0M570.0 999.6h0M584.3 1016.7h0M558.4 994.4h0M524.9 1002.8h0M538.6 1013.5h0M549.9 998.0h0M571.3 997.6h0M538.5 1010.2h0M578.1 1001.0h0M529.0 1009.1h0M524.7 997.8h0M564.5 996.4h0M540.0 1003.2h0M524.6 996.5h0M576.0 999.3h0M542.3 1000.5h0M582.2 1010.7h0M562.4 985.5h0M582.7 1009.7h0M565.2 992.7h0M529.5 1003.7h0M549.3 990.9h0M553.4 999.7h0M534.5 1002.0h0M559.0 983.7h0M534.1 1007.8h0M529.0 1008.7h0M544.4 1004.6h0M584.3 1016.9h0M555.2 1000.8h0M579.8 1013.6h0M577.9 1007.8h0M545.0 1005.8h0M562.7 993.9h0M565.4 992.4h0M539.5 1006.8h0M568.1 1000.5h0M581.6 1006.0h0M574.0 990.5h0M544.0 1007.3h0M549.8 986.1h0M566.2 1000.5h0M570.9 987.4h0M551.7 992.2h0M578.9 1007.4h0M573.4 996.3h0M573.2 990.3h0M531.1 1009.2h0M559.8 968.7h0M541.6 991.2h0M550.8 968.1h0M548.6 976.6h0M546.3 975.1h0M524.5 983.4h0M555.9 974.0h0M566.6 977.8h0M526.8 976.7h0M570.2 970.6h0M560.8 970.1h0M532.2 984.8h0M565.9 973.3h0M554.4 979.3h0M582.6 1001.1h0M521.5 1110.3h0M522.3 1104.9h0M521.6 1100.8h0M521.7 1095.3h0M521.3 1091.9h0M521.0 1087.9h0M522.3 1084.7h0M522.2 1079.2h0M521.5 1075.3h0M521.0 1069.5h0M521.5 1065.2h0M522.0 1059.9h0M522.4 1054.0h0M522.3 1049.1h0M521.3 1044.3h0M521.4 1039.8h0M522.1 1034.1h0M521.9 1030.8h0M522.1 1025.9h0M521.8 1022.4h0M521.6 1019.1h0M521.5 1015.0h0M587.0 1110.3h0M587.0 1107.0h0M587.3 1103.7h0M587.0 1100.6h0M587.4 1097.6h0M587.3 1091.8h0M586.9 1087.4h0M586.4 1082.2h0M587.0 1078.1h0M586.9 1074.6h0M586.5 1070.5h0M586.9 1065.8h0M587.0 1062.4h0M587.1 1058.7h0M587.3 1054.7h0M586.3 1050.0h0M587.4 1045.9h0M587.4 1041.9h0M587.6 1036.3h0M586.9 1031.1h0M586.4 1026.7h0M586.6 1022.8h0M532.9 922.3h0M555.0 867.4h0M553.8 870.8h0M555.0 881.8h0M572.7 910.3h0M572.7 914.4h0M577.7 953.1h0M565.1 961.7h0M568.9 958.3h0M533.2 948.0h0M533.2 950.9h0M533.0 953.4h0M532.3 955.7h0M533.4 958.4h0M533.4 961.0h0M532.5 963.3h0M532.8 965.2h0M532.3 967.3h0M533.5 969.5h0M532.7 972.5h0M532.9 974.4h0M533.1 976.5h0M533.1 978.5h0M532.5 981.3h0M533.0 983.1h0M533.6 985.6h0M532.8 988.4h0M533.5 990.6h0M532.1 993.0h0M532.0 994.9h0M533.5 997.4h0M531.8 999.7h0M531.7 1001.7h0M533.5 1004.0h0M533.4 1005.6h0M531.9 1006.9h0M532.1 1009.5h0M534.1 1011.7h0M532.7 1014.1h0M554.9 889.7h0M555.7 891.3h0M555.7 893.4h0M554.5 895.5h0M554.2 897.2h0M555.1 899.7h0M556.3 901.5h0M554.7 903.3h0M554.5 904.9h0M555.1 906.5h0M555.0 908.3h0M554.6 910.7h0M555.1 912.7h0M555.4 915.1h0M554.6 917.5h0M554.0 918.8h0M553.6 921.0h0M556.4 922.4h0M555.9 923.4h0M553.9 924.9h0M556.6 927.1h0M553.5 928.3h0M553.2 929.9h0M554.3 931.9h0M552.9 933.2h0M555.4 934.7h0M556.1 935.7h0M556.7 937.1h0M557.0 939.0h0M554.2 940.3h0M554.6 941.8h0M553.6 943.1h0M552.8 944.0h0M557.5 945.4h0M553.6 947.2h0M552.5 948.2h0M557.1 949.0h0M554.2 950.1h0M556.4 951.0h0M558.1 951.9h0M557.9 952.7h0M554.7 953.8h0M553.3 955.0h0M555.2 956.5h0M557.8 957.6h0M557.6 958.9h0M553.6 959.7h0M555.2 960.5h0M558.1 961.4h0M554.2 962.3h0M553.6 963.2h0M555.0 964.5h0M553.9 965.7h0M557.9 967.0h0M558.8 968.0h0M552.7 969.3h0M558.3 970.4h0M558.3 971.1h0M557.9 972.0h0M559.1 972.8h0M554.0 974.1h0M556.2 974.6h0M553.2 975.6h0M554.3 976.9h0M552.4 977.8h0M555.4 978.9h0M559.4 979.5h0M551.5 980.3h0M554.3 981.3h0M554.3 982.4h0M557.3 983.3h0M551.5 984.4h0M554.9 985.0h0M558.2 985.6h0M553.5 986.4h0M552.6 987.0h0M552.5 987.7h0M552.7 988.3h0M550.9 989.3h0M556.8 990.1h0M558.7 990.6h0M552.1 991.6h0M550.1 992.1h0M549.7 993.2h0M556.1 994.0h0M554.5 994.9h0M554.6 995.6h0M550.2 996.6h0M555.0 997.2h0M556.5 997.9h0M560.9 998.6h0M560.3 999.2h0M559.0 999.6h0M552.4 1000.1h0M560.3 1000.8h0M555.2 1001.4h0M554.9 1002.3h0M561.6 1003.1h0M551.8 1004.0h0M574.1 951.4h0M575.4 953.7h0M574.8 956.1h0M574.6 958.1h0M574.9 960.5h0M573.1 961.8h0M575.5 963.5h0M575.1 965.0h0M574.7 966.5h0M575.8 968.7h0M574.3 970.5h0M575.3 971.7h0M572.5 973.0h0M574.1 975.1h0M572.7 976.6h0M574.8 978.7h0M573.5 980.6h0M574.0 982.1h0M571.7 983.1h0M573.3 984.7h0M575.3 986.5h0M574.4 988.1h0M574.4 989.2h0M572.6 990.8h0M571.6 992.1h0M573.6 993.6h0M575.2 994.6h0M572.3 996.2h0M574.5 997.0h0M571.4 998.6h0M574.7 1000.2h0M570.8 1001.6h0M570.9 1002.7h0M577.3 1004.2h0M574.6 1005.6h0M571.3 1007.0h0M625.6 992.4h0M622.6 989.4h0M604.2 995.5h0M600.2 1002.8h0M602.2 994.1h0M603.9 985.8h0M617.6 980.2h0M599.8 1007.8h0M651.9 1006.9h0M601.1 1005.5h0M658.4 1010.9h0M643.9 985.9h0M626.5 980.5h0M641.4 986.1h0M633.3 1002.8h0M624.7 991.8h0M630.9 998.2h0M605.3 993.7h0M645.8 988.2h0M660.4 1015.0h0M653.8 1014.9h0M650.1 991.8h0M627.1 989.1h0M643.7 984.3h0M614.0 989.1h0M644.5 986.5h0M661.0 1010.4h0M661.1 1011.6h0M632.9 997.2h0M651.4 1006.9h0M631.5 996.9h0M640.4 988.9h0M619.7 969.3h0M651.7 1012.9h0M607.9 990.9h0M641.5 984.7h0M632.1 997.5h0M615.4 983.1h0M659.6 1011.3h0M633.2 1000.3h0M631.7 995.0h0M631.9 995.2h0M605.4 986.3h0M657.1 1009.6h0M638.5 994.2h0M619.8 986.8h0M657.5 1011.0h0M640.1 992.1h0M613.5 982.2h0M608.1 990.7h0M645.5 979.5h0M614.8 990.1h0M646.3 978.1h0M637.9 996.7h0M648.2 987.5h0M641.6 987.2h0M612.1 987.0h0M601.2 1005.5h0M646.5 989.7h0M641.3 980.8h0M627.7 993.9h0M628.8 988.6h0M615.5 983.3h0M600.6 1009.9h0M608.0 987.5h0M600.9 1003.8h0M600.8 1004.5h0M661.8 1006.1h0M613.0 989.9h0M647.4 992.9h0M661.3 1013.6h0M630.2 993.9h0M603.2 1000.7h0M604.0 997.2h0M603.2 993.2h0M626.5 983.4h0M610.5 988.6h0M652.7 1011.3h0M632.0 993.1h0M650.4 999.7h0M613.3 988.1h0M601.2 994.5h0M618.1 967.9h0M626.7 992.5h0M616.1 974.3h0M630.6 995.6h0M615.2 979.6h0M608.4 983.1h0M609.1 990.4h0M632.3 996.0h0M619.4 980.1h0M654.9 1017.0h0M653.4 1011.6h0M622.9 991.3h0M650.3 999.3h0M611.2 982.5h0M621.0 987.1h0M617.6 979.9h0M648.2 989.3h0M651.7 1013.5h0M610.5 988.4h0M616.0 981.8h0M628.1 990.7h0M643.0 987.9h0M632.6 1001.0h0M628.7 989.8h0M617.7 982.9h0M639.0 995.1h0M621.2 987.3h0M604.2 982.5h0M600.1 1005.3h0M662.2 1010.0h0M630.3 990.2h0M643.3 978.3h0M657.2 1005.8h0M657.6 1006.6h0M619.1 980.6h0M652.4 1007.2h0M641.5 979.0h0M625.6 982.0h0M623.1 987.8h0M649.2 995.7h0M631.8 992.6h0M619.5 980.0h0M606.8 991.5h0M642.6 990.4h0M656.0 1019.7h0M606.3 992.3h0M618.0 983.1h0M602.9 1000.2h0M605.6 994.5h0M609.6 989.3h0M642.9 984.3h0M617.4 983.6h0M605.3 998.7h0M599.7 1011.0h0M606.1 992.4h0M623.2 992.2h0M648.9 984.7h0M644.1 990.3h0M620.9 972.9h0M604.6 993.0h0M634.6 983.5h0M620.3 988.6h0M607.0 991.2h0M619.2 978.9h0M636.1 996.5h0M628.1 992.4h0M662.5 1005.5h0M601.9 1005.4h0M619.0 984.7h0M654.7 1011.3h0M634.9 987.0h0M648.4 976.5h0M601.9 1005.0h0M629.7 987.9h0M662.1 1010.3h0M608.3 987.8h0M607.5 979.6h0M634.2 998.0h0M647.6 985.3h0M612.1 989.0h0M648.9 980.6h0M644.6 973.7h0M660.7 1012.8h0M608.1 983.6h0M632.3 995.8h0M613.3 985.4h0M661.5 1009.9h0M626.3 982.0h0M646.0 977.3h0M649.3 992.8h0M615.1 979.7h0M646.4 987.0h0M657.1 1011.2h0M614.3 982.5h0M610.8 988.7h0M619.4 985.4h0M637.7 990.4h0M608.7 978.9h0M625.7 985.8h0M655.7 1012.7h0M606.5 989.2h0M609.3 975.7h0M614.6 986.5h0M628.2 990.1h0M649.2 996.0h0M613.7 984.2h0M606.4 986.3h0M656.3 1004.6h0M636.8 998.9h0M640.0 991.7h0M633.5 972.0h0M658.3 996.5h0M616.4 962.0h0M646.6 963.7h0M620.0 958.7h0M641.7 961.6h0M601.8 974.5h0M641.1 959.2h0M641.5 961.1h0M617.4 958.4h0M657.5 997.6h0M656.2 995.2h0M628.7 961.8h0M639.8 965.5h0M601.6 979.5h0M599.4 1110.3h0M600.6 1105.6h0M600.6 1101.8h0M599.4 1096.0h0M600.2 1090.4h0M599.4 1086.9h0M600.5 1082.0h0M600.3 1078.1h0M599.4 1073.2h0M599.6 1068.1h0M599.9 1064.6h0M600.5 1061.5h0M600.6 1058.4h0M600.5 1052.4h0M600.6 1047.6h0M599.7 1044.5h0M599.4 1040.1h0M600.4 1035.0h0M599.3 1030.7h0M600.5 1026.7h0M599.8 1020.7h0M600.5 1017.7h0M599.3 1012.6h0M662.4 1110.3h0M662.8 1104.3h0M662.5 1098.5h0M662.7 1094.5h0M662.5 1091.2h0M662.2 1087.3h0M662.8 1081.8h0M662.8 1076.6h0M662.3 1072.9h0M662.8 1069.4h0M662.1 1065.5h0M662.1 1060.0h0M662.4 1054.1h0M663.4 1049.1h0M663.2 1045.3h0M662.7 1041.3h0M662.7 1037.0h0M663.0 1031.9h0M662.9 1027.8h0M662.7 1022.2h0M662.6 1017.7h0M662.8 1014.2h0M614.3 879.4h0M611.8 882.8h0M611.8 900.0h0M613.0 917.1h0M631.4 969.2h0M643.3 941.8h0M643.3 958.3h0M648.3 958.3h0M660.2 857.1h0M660.2 882.8h0M660.2 901.0h0M660.2 915.4h0M660.2 920.6h0M625.6 965.1h0M603.2 864.0h0M603.1 867.1h0M603.7 869.1h0M604.1 871.7h0M603.0 873.3h0M602.8 875.0h0M604.0 877.1h0M602.9 880.0h0M602.8 882.6h0M602.7 884.8h0M604.1 886.6h0M603.4 889.2h0M602.6 892.0h0M603.8 893.9h0M603.3 895.4h0M602.7 897.4h0M602.9 899.2h0M603.1 901.4h0M603.0 903.6h0M604.4 906.0h0M604.3 908.3h0M602.4 910.3h0M602.7 912.9h0M604.1 914.3h0M603.5 915.6h0M602.2 917.5h0M602.4 919.4h0M604.4 921.6h0M603.6 923.4h0M603.7 925.2h0M602.7 927.8h0M602.0 929.8h0M602.1 932.2h0M603.0 933.9h0M602.6 935.8h0M603.5 937.2h0M605.0 939.4h0M602.6 941.0h0M602.1 942.5h0M604.5 944.8h0M604.9 946.0h0M603.8 947.7h0M604.4 949.6h0M602.9 950.9h0M604.0 952.6h0M602.4 954.6h0M604.1 955.8h0M605.4 957.4h0M605.3 959.6h0M605.1 961.8h0M601.6 963.7h0M604.9 965.6h0M601.8 966.8h0M602.0 968.8h0M602.8 969.8h0M602.6 971.1h0M603.3 972.3h0M601.3 974.2h0M605.5 975.7h0M601.2 977.5h0M602.0 979.0h0M605.2 980.1h0M605.9 982.0h0M601.0 982.9h0M602.8 984.1h0M605.6 985.1h0M605.9 986.5h0M603.3 987.4h0M605.9 988.4h0M601.4 990.2h0M606.0 991.4h0M602.9 992.9h0M603.3 994.3h0M601.2 996.1h0M605.8 997.5h0M602.4 998.3h0M604.0 999.5h0M603.7 1001.2h0M606.1 1002.1h0M605.2 1003.1h0M601.1 1004.0h0M612.8 917.1h0M612.0 919.8h0M612.1 921.3h0M612.2 923.4h0M612.9 924.9h0M613.7 927.4h0M612.6 929.3h0M613.5 931.0h0M613.6 932.8h0M612.3 934.2h0M611.6 936.3h0M614.0 938.8h0M611.8 940.6h0M612.5 942.3h0M612.8 944.0h0M611.6 945.3h0M611.8 946.5h0M612.7 947.9h0M611.8 949.1h0M613.3 951.0h0M613.8 952.4h0M611.9 954.2h0M613.3 956.3h0M613.0 957.5h0M612.2 958.5h0M612.6 960.6h0M611.0 962.2h0M614.7 963.7h0M612.8 965.7h0M615.3 967.8h0M614.5 968.8h0M613.5 970.0h0M611.6 971.4h0M615.5 972.5h0M612.6 974.3h0M614.1 976.0h0M614.7 977.3h0M612.1 979.0h0M612.2 980.8h0M615.3 981.8h0M611.4 983.4h0M610.9 984.7h0M610.6 986.2h0M615.6 987.9h0M615.7 989.0h0M613.7 990.2h0M642.2 941.1h0M642.8 942.4h0M643.8 944.6h0M642.2 946.3h0M642.1 947.6h0M644.3 949.2h0M642.6 951.1h0M643.1 952.6h0M642.5 954.2h0M643.0 956.1h0M643.0 958.8h0M641.9 960.0h0M643.3 962.2h0M644.8 964.1h0M642.1 965.6h0M644.9 967.3h0M643.5 969.5h0M642.5 971.5h0M642.1 973.1h0M644.4 974.9h0M644.8 976.5h0M644.5 977.7h0M644.9 979.5h0M642.3 981.1h0M644.3 982.4h0M645.6 983.6h0M645.8 985.3h0M643.3 986.6h0M645.8 988.2h0M645.4 989.2h0M642.5 990.9h0M640.9 992.1h0M660.1 927.4h0M659.8 929.8h0M659.6 933.1h0M659.7 936.6h0M659.9 939.1h0M659.6 940.8h0M659.5 942.6h0M659.9 944.7h0M660.7 947.4h0M660.7 949.9h0M660.6 952.3h0M660.0 954.3h0M660.0 956.2h0M660.9 958.7h0M660.0 961.6h0M660.5 963.6h0M660.9 966.3h0M659.4 969.4h0M659.4 972.5h0M659.8 974.4h0M659.9 976.3h0M660.1 978.0h0M660.2 979.9h0M659.2 983.0h0M659.4 984.5h0M661.1 986.2h0M660.1 988.9h0M659.1 991.9h0M659.4 993.3h0M660.9 995.9h0M661.1 997.7h0M660.4 999.6h0M660.8 1002.1h0M659.7 1004.2h0M659.9 1005.7h0M661.5 1008.4h0M660.8 1010.9h0M660.1 1012.1h0M660.2 1014.8h0M699.7 993.5h0M683.5 1002.5h0M675.9 1009.7h0M715.0 987.7h0M677.7 1013.2h0M698.7 989.8h0M688.1 1000.4h0M677.9 1016.1h0M690.8 1003.7h0M698.7 997.4h0M710.1 976.5h0M725.3 1000.0h0M684.3 1008.1h0M690.2 1007.7h0M729.7 996.5h0M700.9 995.7h0M723.2 1002.3h0M713.2 983.0h0M697.7 986.1h0M684.8 1004.1h0M682.3 1006.0h0M675.9 1010.1h0M727.5 996.1h0M678.4 1011.2h0M687.7 997.3h0M683.3 1003.4h0M698.9 994.3h0M707.0 989.4h0M681.2 1002.5h0M703.7 989.8h0M693.4 986.5h0M700.4 994.0h0M682.2 1000.9h0M711.8 977.9h0M732.7 1008.7h0M704.8 990.0h0M703.0 992.9h0M713.6 987.4h0M696.0 993.9h0M681.5 1004.9h0M730.8 994.0h0M721.6 1002.3h0M689.8 1005.5h0M733.0 1015.8h0M682.2 1005.4h0M711.0 974.8h0M676.1 1007.6h0M730.5 1004.1h0M699.7 996.6h0M725.8 1000.5h0M700.8 991.5h0M721.8 1003.6h0M686.7 1008.1h0M718.8 993.9h0M688.7 1001.3h0M706.4 985.3h0M681.0 1000.6h0M688.1 1005.4h0M682.0 993.8h0M716.0 986.9h0M720.3 997.3h0M682.3 998.1h0M684.6 997.6h0M714.6 975.0h0M720.3 993.6h0M705.0 989.4h0M721.3 1004.6h0M727.7 993.0h0M686.8 1003.1h0M733.4 1016.7h0M692.4 1004.1h0M722.0 998.7h0M698.2 992.5h0M690.5 1005.4h0M694.5 1004.1h0M694.1 1001.7h0M713.1 985.7h0M715.4 984.1h0M722.3 998.1h0M703.7 993.7h0M713.2 978.1h0M726.3 998.9h0M690.7 1007.5h0M692.8 995.0h0M682.1 1003.3h0M719.7 991.5h0M676.1 1005.5h0M691.4 1009.4h0M699.4 989.8h0M721.6 993.1h0M701.2 993.4h0M718.0 988.9h0M697.1 999.5h0M718.9 985.5h0M724.6 1002.0h0M731.0 1007.3h0M694.0 996.4h0M729.5 1000.1h0M691.1 1002.5h0M730.3 1003.7h0M707.6 986.6h0M726.0 991.3h0M702.2 987.5h0M685.6 996.3h0M674.8 1015.2h0M698.0 990.4h0M718.9 986.8h0M712.1 983.3h0M675.1 1013.8h0M705.8 980.5h0M701.0 991.4h0M696.0 990.0h0M685.7 1003.4h0M718.5 988.8h0M709.0 982.3h0M674.0 1015.8h0M697.1 986.1h0M692.8 1005.4h0M709.5 988.2h0M679.4 1004.6h0M682.6 1005.6h0M705.7 993.5h0M704.5 991.7h0M681.0 1004.5h0M709.1 984.6h0M684.5 997.5h0M728.1 997.7h0M731.9 1014.4h0M718.0 981.1h0M714.7 982.1h0M674.9 1011.5h0M680.7 1000.1h0M694.8 1001.6h0M705.8 977.7h0M726.7 982.8h0M686.3 1004.8h0M700.0 989.9h0M718.5 992.1h0M725.4 997.5h0M695.8 999.5h0M720.0 993.0h0M698.8 995.9h0M675.9 1009.5h0M698.2 994.5h0M701.7 988.4h0M676.9 1018.2h0M701.2 985.1h0M679.7 1007.1h0M693.0 997.6h0M679.5 995.0h0M687.3 993.9h0M714.6 973.2h0M709.9 980.5h0M705.7 989.0h0M726.1 999.1h0M706.6 984.3h0M722.9 996.7h0M706.6 979.7h0M689.9 990.0h0M722.6 1000.9h0M713.9 983.5h0M685.8 990.1h0M724.9 998.4h0M688.1 989.9h0M709.5 980.7h0M710.4 984.1h0M707.6 972.3h0M692.5 1001.5h0M711.6 974.7h0M716.2 978.7h0M703.6 979.0h0M724.8 999.6h0M682.4 1003.1h0M730.7 1004.4h0M725.6 997.5h0M686.9 1002.0h0M676.2 1005.2h0M711.7 982.6h0M698.2 987.2h0M728.4 989.5h0M706.9 989.0h0M710.2 972.7h0M723.9 976.0h0M680.6 981.7h0M728.1 968.8h0M729.5 972.0h0M689.5 978.1h0M714.1 957.7h0M728.2 973.8h0M697.6 965.0h0M696.2 971.6h0M717.0 963.0h0M718.5 964.4h0M725.5 970.5h0M689.4 973.8h0M703.9 969.6h0M674.1 1110.3h0M673.7 1104.7h0M674.3 1101.5h0M674.5 1096.5h0M674.6 1093.2h0M674.0 1087.4h0M673.8 1081.5h0M674.1 1077.5h0M674.4 1072.2h0M674.8 1068.6h0M674.8 1065.5h0M674.6 1060.9h0M674.9 1056.4h0M673.7 1050.5h0M674.4 1045.1h0M674.0 1041.9h0M673.7 1038.6h0M673.6 1034.9h0M674.1 1031.0h0M674.5 1026.7h0M674.9 1022.1h0M674.2 1018.9h0M732.9 1110.3h0M733.3 1107.0h0M733.3 1102.3h0M733.8 1098.7h0M733.4 1093.8h0M733.7 1090.3h0M733.8 1085.1h0M732.7 1081.2h0M733.5 1075.8h0M733.5 1072.1h0M732.8 1068.2h0M733.4 1062.5h0M732.7 1057.4h0M733.7 1054.3h0M733.9 1049.6h0M733.9 1045.7h0M733.1 1042.1h0M733.5 1036.8h0M733.3 1033.3h0M732.7 1028.3h0M733.8 1023.1h0M732.7 1019.1h0M684.1 953.1h0M686.1 967.5h0M689.1 974.7h0M706.3 957.6h0M701.2 966.8h0M713.1 888.7h0M713.1 908.6h0M713.1 915.4h0M713.1 930.2h0M731.0 963.8h0M678.6 985.7h0M696.2 975.4h0M713.2 936.0h0M713.5 938.0h0M713.4 940.2h0M713.3 942.6h0M712.5 944.6h0M713.0 946.5h0M713.7 948.3h0M713.5 951.5h0M712.2 954.0h0M712.2 956.3h0M712.9 957.9h0M713.3 960.7h0M713.1 962.0h0M713.4 964.3h0M714.5 967.0h0M711.9 969.6h0M714.2 972.1h0M711.4 974.6h0M712.4 976.7h0M711.7 979.0h0M713.3 980.7h0M715.0 982.3h0M713.0 983.5h0M714.0 985.6h0M714.5 986.6h0M714.7 987.8h0M728.3 980.0h0M727.8 981.9h0M729.4 984.6h0M729.7 987.0h0M727.4 988.8h0M728.7 991.1h0M729.4 992.8h0M728.7 994.6h0M727.3 996.7h0M726.8 998.6h0M727.7 999.8h0M728.3 1001.5h0M760.6 1013.6h0M750.4 1004.9h0M792.4 1016.3h0M752.1 1006.8h0M750.2 1000.9h0M766.7 999.4h0M780.1 986.2h0M780.6 972.9h0M792.9 1007.2h0M755.6 1010.6h0M794.0 1016.8h0M765.7 1002.8h0M747.2 1012.5h0M774.4 978.6h0M762.6 1004.4h0M755.5 1014.0h0M752.0 994.1h0M791.8 1013.9h0M780.5 983.0h0M791.4 1012.1h0M745.7 1008.6h0M786.4 999.3h0M769.4 988.2h0M762.2 1012.1h0M758.6 1011.7h0M766.1 1009.9h0M792.0 1019.0h0M793.9 1007.8h0M757.0 1011.5h0M774.8 970.0h0M754.5 1005.8h0M790.8 1017.7h0M783.3 989.9h0M745.0 1019.2h0M771.6 966.0h0M788.6 1009.7h0M750.1 1001.4h0M788.1 1015.7h0M751.7 1001.9h0M745.4 1014.9h0M769.5 988.7h0M763.6 1005.0h0M753.0 1003.5h0M776.5 979.5h0M774.7 978.6h0M779.1 982.8h0M780.0 980.4h0M745.0 1013.3h0M769.2 992.6h0M773.3 977.9h0M775.7 976.8h0M784.1 988.8h0M758.2 1007.0h0M775.4 981.9h0M779.9 981.0h0M752.1 1004.4h0M786.6 1003.2h0M773.9 976.3h0M787.0 999.6h0M772.6 977.2h0M753.4 1000.8h0M761.5 1008.9h0M785.3 993.4h0M774.4 976.4h0M775.4 978.7h0M768.8 989.1h0M772.8 972.1h0M777.0 980.1h0M780.8 981.7h0M759.1 1011.9h0M766.7 1012.2h0M775.5 978.9h0M767.2 1005.9h0M777.8 980.9h0M763.1 1010.4h0M751.7 1005.1h0M761.9 1010.5h0M773.9 971.6h0M777.4 977.2h0M759.2 1010.1h0M753.3 1004.6h0M782.4 989.6h0M779.5 979.6h0M766.6 1007.5h0M759.3 1008.6h0M764.7 1002.8h0M787.6 1006.8h0M757.3 1013.2h0M756.3 996.1h0M780.0 976.5h0M766.9 1006.7h0M784.6 984.5h0M763.9 1006.1h0M780.3 979.1h0M749.0 1005.1h0M745.5 1014.8h0M786.8 999.8h0M749.3 995.5h0M745.4 1011.4h0M769.5 986.0h0M784.2 988.0h0M751.0 998.6h0M747.6 1010.1h0M770.7 980.1h0M763.1 1008.7h0M754.0 1009.6h0M762.5 1007.3h0M792.9 1008.9h0M793.3 1005.2h0M784.6 978.3h0M778.3 985.5h0M752.5 1007.3h0M773.2 978.0h0M754.2 1011.6h0M749.2 1005.5h0M770.6 976.9h0M777.9 981.4h0M766.1 1006.8h0M766.4 1007.5h0M774.9 975.0h0M758.1 1001.5h0M789.4 1003.4h0M789.8 1015.8h0M791.0 1007.9h0M753.8 997.0h0M788.6 1006.0h0M791.6 1008.2h0M773.6 966.1h0M792.5 1006.8h0M771.7 971.6h0M756.8 1012.0h0M750.0 999.6h0M783.2 979.5h0M784.4 988.6h0M760.2 998.6h0M750.5 988.4h0M785.3 989.9h0M785.3 978.0h0M773.2 967.1h0M751.3 988.5h0M746.5 1005.0h0M781.9 975.1h0M756.6 1004.7h0M754.7 1007.2h0M781.9 972.9h0M755.1 998.3h0M773.1 972.8h0M763.1 1001.2h0M773.7 978.5h0M790.5 1003.0h0M776.7 974.1h0M786.6 993.2h0M778.8 978.5h0M752.9 974.3h0M790.0 986.0h0M780.0 960.7h0M782.0 954.9h0M761.0 985.8h0M748.3 981.2h0M789.2 983.7h0M768.4 964.7h0M773.4 955.2h0M764.4 979.1h0M774.6 956.1h0M755.7 982.0h0M744.9 1110.3h0M744.4 1106.6h0M745.4 1103.2h0M745.3 1097.9h0M744.2 1092.7h0M745.2 1089.5h0M745.3 1084.6h0M744.7 1079.3h0M745.5 1074.4h0M745.0 1071.3h0M744.9 1066.7h0M744.7 1061.7h0M745.2 1058.3h0M744.8 1052.5h0M745.4 1046.9h0M745.4 1042.2h0M744.7 1038.2h0M744.8 1033.7h0M744.3 1030.3h0M744.4 1025.4h0M744.6 1020.9h0M793.5 1110.3h0M793.1 1104.5h0M793.0 1101.2h0M793.9 1097.7h0M794.4 1093.5h0M793.5 1090.0h0M793.7 1084.1h0M793.9 1080.0h0M794.2 1074.2h0M794.2 1069.9h0M793.5 1064.0h0M794.3 1060.0h0M793.1 1055.7h0M794.1 1051.8h0M793.8 1048.2h0M793.7 1044.9h0M793.1 1039.9h0M793.4 1035.1h0M794.0 1030.8h0M793.7 1027.8h0M794.5 1023.1h0M794.3 1018.6h0M757.7 973.0h0M776.9 852.0h0M776.9 857.1h0M786.9 966.8h0M750.4 985.7h0M784.4 968.5h0M777.7 869.8h0M776.1 872.0h0M775.9 873.8h0M776.7 875.2h0M777.3 877.7h0M776.1 880.2h0M775.7 881.7h0M776.3 883.8h0M777.5 886.2h0M776.2 887.9h0M777.8 889.9h0M777.5 892.5h0M777.3 894.8h0M777.4 896.0h0M775.4 897.2h0M776.2 898.7h0M777.5 900.9h0M778.4 902.4h0M776.9 903.5h0M775.5 905.8h0M776.1 907.7h0M775.2 909.5h0M777.1 911.6h0M775.6 913.2h0M776.4 914.4h0M776.2 915.9h0M776.7 917.2h0M777.5 918.6h0M774.9 920.1h0M774.8 921.2h0M776.7 922.7h0M777.1 924.0h0M776.7 925.8h0M778.7 927.5h0M775.7 928.4h0M777.1 929.4h0M777.3 931.3h0M776.4 933.0h0M777.8 935.0h0M775.0 936.8h0M777.9 937.9h0M778.0 939.0h0M779.4 940.4h0M777.0 941.7h0M779.0 942.9h0M774.6 943.9h0M779.5 945.7h0M774.9 946.8h0M775.2 948.0h0M777.7 949.3h0M777.2 950.5h0M778.1 951.6h0M775.5 952.7h0M776.9 953.9h0M780.1 955.3h0M777.2 956.4h0M778.6 957.3h0M776.8 958.7h0M774.3 959.7h0M775.1 960.7h0M776.3 962.2h0M779.2 963.8h0M773.9 964.9h0M775.8 966.3h0M777.8 967.8h0M776.5 969.1h0M774.0 969.8h0M774.6 970.8h0M779.5 971.5h0M778.3 972.5h0M778.6 974.0h0M775.5 974.9h0M775.8 975.8h0M773.6 976.5h0M775.5 977.4h0M774.0 978.7h0M774.5 980.0h0M777.5 980.6h0M774.5 981.4h0M774.5 982.5h0M779.2 983.2h0M780.1 984.4h0M750.5 985.0h0M750.2 987.1h0M750.7 988.9h0M750.8 990.3h0M752.0 992.2h0M749.4 994.0h0M751.1 996.0h0M751.2 998.5h0M750.1 999.8h0M751.6 1001.3h0M750.4 1003.0h0M751.8 1005.0h0M825.4 1005.8h0M825.0 1012.8h0M807.1 1013.0h0M850.4 1017.1h0M842.4 994.4h0M838.3 997.3h0M841.7 999.7h0M848.6 1013.9h0M855.8 1020.8h0M841.3 997.4h0M822.3 1015.3h0M837.3 998.9h0M825.8 1014.1h0M811.2 1006.6h0M830.6 1007.0h0M852.0 1012.0h0M848.3 1011.5h0M818.9 1010.2h0M842.5 1000.3h0M825.0 1013.4h0M822.8 1011.3h0M852.6 1009.9h0M823.1 1014.7h0M853.4 1011.5h0M809.7 1003.9h0M854.7 1017.6h0M840.0 998.4h0M818.2 1015.4h0M832.2 999.5h0M829.5 1008.2h0M846.5 1010.7h0M853.0 1015.8h0M830.4 1004.7h0M842.7 996.7h0M839.1 1000.1h0M841.6 997.8h0M830.1 1003.4h0M824.7 1010.4h0M837.6 1000.9h0M815.2 1007.0h0M805.7 1008.1h0M831.6 998.0h0M848.6 1012.9h0M811.4 1003.4h0M837.5 995.8h0M826.6 1012.2h0M849.2 1016.7h0M850.2 1013.0h0M807.9 1017.2h0M812.9 993.9h0M829.4 1004.5h0M844.4 1000.5h0M852.8 1014.4h0M831.0 1006.5h0M818.9 1011.2h0M806.5 1008.0h0M818.1 1020.4h0M838.6 994.4h0M807.7 1011.6h0M851.9 1007.3h0M815.9 1016.3h0M842.5 1001.5h0M808.3 1011.9h0M837.4 1004.2h0M808.8 1014.7h0M815.0 1010.6h0M814.0 1004.0h0M814.2 1010.1h0M809.8 1010.5h0M829.1 1002.5h0M811.3 992.2h0M841.7 996.7h0M814.8 1005.3h0M809.9 1008.5h0M820.0 1005.4h0M854.1 1021.5h0M846.6 1002.4h0M814.2 1008.6h0M848.3 1015.6h0M838.5 997.2h0M839.5 1002.7h0M850.3 1018.3h0M850.4 1017.8h0M847.8 1009.6h0M831.6 1003.8h0M834.7 1003.7h0M813.9 1001.7h0M815.3 994.2h0M848.2 1004.2h0M829.1 1007.1h0M821.2 1023.7h0M808.3 1012.9h0M828.8 993.7h0M817.1 1016.2h0M821.3 1020.2h0M817.6 1012.6h0M826.3 1006.8h0M828.9 1005.0h0M835.4 1004.4h0M820.7 1004.2h0M808.3 1011.7h0M828.2 1003.6h0M823.6 1016.5h0M810.2 999.0h0M832.3 992.4h0M819.1 1007.6h0M806.4 1008.2h0M816.2 1013.2h0M830.4 994.1h0M815.1 1007.0h0M818.5 1006.7h0M853.2 1014.7h0M826.6 1000.7h0M815.4 1012.2h0M815.6 1008.7h0M839.5 998.2h0M834.7 996.8h0M855.1 1022.6h0M833.1 996.2h0M830.4 1005.2h0M818.3 1017.1h0M851.0 1004.9h0M816.4 1012.0h0M809.4 1003.3h0M808.8 1012.1h0M850.4 1016.0h0M840.8 990.2h0M827.7 1003.7h0M840.8 998.5h0M815.5 1002.8h0M849.5 1014.5h0M814.0 1003.2h0M835.4 991.1h0M825.9 1010.5h0M820.9 1009.7h0M811.6 996.8h0M839.7 990.7h0M840.4 989.9h0M805.2 1012.5h0M822.6 1008.2h0M831.8 1003.7h0M835.7 1001.2h0M840.8 998.9h0M837.5 995.1h0M848.6 1000.4h0M852.2 1011.5h0M847.4 1001.4h0M820.9 1006.3h0M814.3 992.6h0M807.2 1002.2h0M815.8 1007.9h0M810.4 999.4h0M828.6 993.7h0M815.0 994.4h0M823.2 1013.5h0M807.0 1018.6h0M805.7 1010.1h0M845.8 973.9h0M853.9 1000.4h0M819.5 991.1h0M825.4 983.3h0M812.1 973.0h0M838.8 979.4h0M833.1 972.4h0M807.8 985.9h0M841.7 975.6h0M816.6 986.4h0M853.0 1002.4h0M843.2 977.3h0M805.6 1110.3h0M806.0 1106.3h0M805.0 1101.1h0M805.7 1097.0h0M805.1 1093.2h0M805.4 1088.9h0M805.4 1084.8h0M805.9 1080.6h0M805.2 1076.0h0M805.9 1071.9h0M804.6 1067.4h0M805.1 1062.7h0M804.6 1057.7h0M804.7 1053.6h0M805.4 1050.3h0M804.7 1047.1h0M805.4 1042.9h0M805.5 1038.2h0M806.0 1032.7h0M804.7 1028.3h0M805.2 1024.7h0M806.1 1021.0h0M805.2 1016.1h0M855.3 1110.3h0M855.7 1107.1h0M855.1 1103.3h0M855.8 1099.8h0M855.9 1095.3h0M855.5 1092.2h0M855.7 1088.0h0M855.0 1083.7h0M856.1 1077.8h0M855.1 1073.8h0M855.3 1069.6h0M855.4 1065.3h0M856.2 1061.1h0M855.4 1058.1h0M856.0 1055.0h0M855.2 1049.7h0M855.0 1044.3h0M856.2 1039.1h0M855.0 1035.7h0M855.7 1030.2h0M855.9 1024.9h0M827.3 985.7h0M835.3 984.0h0M852.5 1004.5h0M812.2 980.5h0M824.8 985.7h0M840.6 965.1h0M840.3 965.1h0M840.8 967.5h0M840.5 969.4h0M841.1 971.8h0M841.5 974.4h0M839.5 976.4h0M840.2 978.2h0M839.6 980.1h0M841.4 981.7h0M841.0 983.1h0M840.2 985.6h0M839.2 987.2h0M841.5 989.3h0M839.3 991.5h0M839.3 993.8h0M840.6 995.9h0M840.5 997.6h0M840.1 999.7h0M840.7 1001.5h0M842.7 1003.0h0M889.2 975.3h0M913.6 985.1h0M916.1 986.0h0M921.5 990.8h0M889.7 978.4h0M886.9 975.7h0M870.2 1000.4h0M922.3 983.4h0M904.7 992.4h0M913.3 987.3h0M875.0 1000.4h0M873.3 998.6h0M914.8 985.2h0M904.3 984.8h0M916.3 984.0h0M870.6 1002.9h0M922.7 985.4h0M924.0 999.4h0M918.5 985.8h0M882.4 986.8h0M898.8 1008.3h0M894.8 995.6h0M906.9 988.3h0M870.4 992.1h0M911.0 982.8h0M874.5 1007.3h0M905.4 988.9h0M878.9 981.3h0M911.6 980.3h0M880.9 991.3h0M884.9 981.0h0M909.5 987.7h0M899.3 1001.8h0M877.1 995.7h0M876.9 997.5h0M881.9 992.9h0M868.9 1005.0h0M902.9 998.2h0M886.0 981.0h0M911.1 974.6h0M912.7 984.3h0M925.5 1004.5h0M913.0 989.0h0M867.0 1007.6h0M898.1 998.5h0M902.0 991.8h0M905.5 990.4h0M884.8 982.8h0M905.0 990.2h0M888.2 984.8h0M877.6 1000.4h0M891.7 988.5h0M876.4 996.3h0M896.0 1003.7h0M881.0 989.5h0M874.1 1003.5h0M920.5 990.2h0M920.0 990.6h0M884.8 984.2h0M927.1 1009.1h0M918.7 986.7h0M896.0 1003.0h0M904.4 989.2h0M870.5 1003.6h0M878.5 992.3h0M926.7 1016.3h0M879.7 994.7h0M917.4 982.3h0M872.7 1005.9h0M905.5 990.5h0M925.9 1008.0h0M911.5 986.3h0M897.9 1008.2h0M924.2 1004.9h0M919.8 977.4h0M913.9 984.9h0M875.5 996.0h0M891.6 980.2h0M878.0 996.4h0M907.1 982.6h0M903.9 996.8h0M876.9 1000.8h0M914.2 983.8h0M876.8 999.0h0M883.5 975.7h0M916.2 988.6h0M885.7 981.2h0M924.9 1003.3h0M896.2 1004.8h0M871.8 991.4h0M877.7 989.4h0M896.1 993.9h0M888.7 983.9h0M889.5 981.4h0M874.5 1005.3h0M914.2 976.9h0M876.9 999.0h0M887.2 982.7h0M904.9 979.9h0M892.6 997.8h0M901.9 994.0h0M875.5 996.4h0M869.6 1000.8h0M915.2 987.1h0M926.6 1013.4h0M912.1 985.3h0M899.1 1007.8h0M885.0 975.8h0M872.0 1004.3h0M898.6 1006.4h0M883.7 988.2h0M870.5 1005.4h0M897.2 1003.9h0M885.1 983.0h0M911.6 986.5h0M884.9 986.5h0M878.3 996.6h0M913.1 980.9h0M879.1 997.2h0M875.1 1003.2h0M895.5 1003.8h0M902.8 990.8h0M870.0 1004.3h0M918.4 989.6h0M923.6 992.2h0M922.4 993.3h0M871.5 1007.5h0M882.0 989.8h0M905.1 985.9h0M910.8 987.2h0M887.5 980.7h0M900.7 1001.9h0M894.4 998.1h0M870.4 1007.3h0M925.8 1015.1h0M927.0 1010.7h0M866.8 1008.4h0M893.6 990.6h0M868.4 1006.8h0M912.5 975.9h0M884.7 973.2h0M894.0 994.0h0M894.9 1002.5h0M895.5 1001.1h0M878.1 1000.1h0M872.1 1002.8h0M890.7 980.2h0M910.8 981.8h0M899.2 998.8h0M894.3 998.1h0M868.5 1004.9h0M907.7 988.8h0M887.5 967.0h0M892.4 992.8h0M900.5 1003.1h0M876.5 993.8h0M907.0 985.0h0M891.5 991.2h0M871.6 1000.5h0M912.0 986.8h0M911.2 976.3h0M923.8 1000.0h0M926.6 1019.6h0M899.4 995.5h0M894.1 996.8h0M905.4 990.3h0M878.3 985.9h0M887.7 977.3h0M918.3 980.9h0M896.0 989.0h0M899.2 1000.1h0M892.1 986.8h0M874.9 987.4h0M870.6 1005.0h0M918.2 977.3h0M927.2 1008.8h0M917.5 982.1h0M914.2 980.4h0M867.3 1008.5h0M893.6 984.2h0M922.7 978.6h0M896.3 996.7h0M918.7 986.2h0M871.0 1002.0h0M902.7 993.3h0M875.5 975.0h0M899.0 974.7h0M923.0 963.0h0M871.2 982.9h0M892.4 972.1h0M893.6 971.7h0M921.3 959.3h0M922.3 968.2h0M880.2 968.0h0M905.2 968.2h0M871.9 980.9h0M891.2 966.4h0M905.1 961.1h0M882.5 967.8h0M867.2 1110.3h0M867.6 1105.5h0M866.9 1101.7h0M866.5 1096.7h0M867.3 1092.9h0M867.6 1088.3h0M867.0 1084.1h0M867.7 1080.8h0M866.5 1075.0h0M867.2 1069.1h0M867.0 1065.0h0M867.2 1061.6h0M867.4 1057.0h0M866.5 1052.9h0M867.1 1047.6h0M867.5 1042.7h0M867.8 1038.7h0M867.6 1033.4h0M866.9 1029.0h0M867.6 1025.5h0M867.3 1019.9h0M867.1 1014.4h0M926.7 1110.3h0M927.7 1104.5h0M927.6 1101.2h0M927.7 1096.3h0M926.8 1092.8h0M927.4 1088.5h0M927.9 1084.3h0M927.1 1080.1h0M927.0 1076.1h0M927.7 1070.6h0M926.7 1067.4h0M927.2 1063.3h0M927.3 1059.8h0M927.8 1055.4h0M926.6 1051.0h0M927.8 1047.8h0M927.5 1042.1h0M927.0 1037.0h0M926.6 1032.2h0M927.4 1026.4h0M927.5 1020.6h0M927.8 1014.7h0M868.9 966.8h0M873.9 965.1h0M871.4 976.1h0M881.0 954.2h0M885.8 948.0h0M913.5 923.3h0M905.4 965.1h0M923.1 974.7h0M913.0 930.8h0M912.9 933.8h0M913.5 935.5h0M913.9 938.6h0M914.2 941.6h0M912.7 944.6h0M913.0 946.7h0M913.3 949.0h0M913.7 950.9h0M913.5 952.2h0M912.5 954.8h0M914.0 956.2h0M913.2 958.4h0M914.4 960.9h0M913.9 962.3h0M914.1 964.0h0M913.8 965.4h0M914.5 967.7h0M912.7 968.9h0M914.2 970.0h0M913.7 972.1h0M912.0 973.1h0M913.7 975.1h0M912.1 976.6h0M913.9 977.9h0M912.8 980.0h0M914.6 980.9h0M912.4 981.9h0M915.5 983.8h0M914.2 984.8h0M913.1 986.0h0M911.6 987.6h0M910.9 988.8h0M959.5 1013.0h0M954.5 1006.8h0M942.7 1004.7h0M951.0 1007.1h0M982.0 1001.4h0M958.3 1014.9h0M944.5 993.8h0M954.2 1010.1h0M963.7 1009.8h0M940.7 1006.1h0M985.3 1007.5h0M981.1 1009.9h0M946.5 1005.7h0M954.4 991.3h0M957.0 1011.9h0M978.2 1002.2h0M952.0 1002.2h0M979.5 1009.3h0M948.9 1003.1h0M944.4 1002.3h0M987.4 1005.4h0M953.2 1000.7h0M972.6 1008.1h0M968.6 1010.3h0M938.3 1008.2h0M972.6 1008.3h0M957.2 1007.3h0M970.9 1009.6h0M964.6 1011.3h0M994.4 1017.7h0M962.3 1015.7h0M995.1 1010.8h0M978.8 1008.2h0M971.7 1008.8h0M953.8 1008.0h0M958.9 1019.3h0M963.3 1015.1h0M967.9 1009.8h0M994.7 1010.3h0M945.6 1006.5h0M988.6 1009.5h0M940.0 1003.4h0M994.2 1012.3h0M949.4 1006.0h0M941.9 1006.1h0M997.5 1015.3h0M962.0 1012.8h0M997.2 1012.4h0M947.9 1001.6h0M941.3 996.0h0M966.7 1011.1h0M982.2 1012.6h0M961.3 1013.1h0M940.0 1008.4h0M942.3 1007.6h0M958.6 1011.4h0M951.5 1010.6h0M983.2 996.6h0M973.3 1003.2h0M988.9 1005.5h0M941.6 999.2h0M979.6 1007.5h0M980.1 997.4h0M991.4 1014.3h0M952.8 1003.4h0M961.4 1005.2h0M944.0 1007.4h0M954.7 996.1h0M960.7 1016.8h0M963.3 1012.1h0M948.8 1003.6h0M972.5 1003.9h0M992.4 1003.6h0M957.3 1009.9h0M994.5 1016.8h0M946.9 1003.5h0M943.0 1004.8h0M978.5 1010.3h0M959.9 1016.1h0M946.7 997.3h0M939.3 1008.4h0M997.6 1018.2h0M962.4 1013.5h0M994.7 1016.4h0M964.7 1009.5h0M997.8 1017.8h0M979.8 1009.9h0M949.5 1001.1h0M983.1 1005.6h0M943.0 999.9h0M949.0 996.7h0M961.1 1018.7h0M950.9 1007.3h0M995.5 1014.6h0M959.1 1000.9h0M997.6 1019.6h0M948.6 1003.3h0M989.3 1005.9h0M963.9 1016.0h0M944.4 1002.1h0M953.4 999.0h0M986.3 1002.4h0M949.1 1004.7h0M939.7 1006.7h0M974.6 1006.6h0M966.0 1011.8h0M942.4 999.3h0M949.3 1001.9h0M940.6 1007.5h0M948.4 997.1h0M966.7 1014.1h0M985.8 992.5h0M993.0 1009.7h0M950.7 1005.6h0M980.1 1005.6h0M966.5 1007.0h0M955.1 1010.1h0M969.0 1007.0h0M951.7 1008.9h0M994.2 1015.3h0M966.6 1010.0h0M962.1 1009.0h0M976.3 1004.8h0M956.8 1009.5h0M940.1 1009.1h0M944.3 1002.4h0M943.7 990.8h0M990.9 1008.9h0M993.1 1013.4h0M982.3 995.1h0M971.2 1005.5h0M955.1 1011.2h0M988.8 1004.0h0M991.0 1011.5h0M952.9 1007.0h0M965.3 1014.1h0M950.8 1001.1h0M953.5 1003.1h0M986.8 1004.1h0M975.9 1010.6h0M981.8 1007.9h0M992.9 1011.1h0M952.1 1005.8h0M992.6 1009.5h0M952.4 993.4h0M951.6 1006.6h0M951.0 1003.5h0M962.9 1012.8h0M983.9 996.9h0M948.3 990.6h0M992.5 1015.1h0M987.1 997.4h0M959.4 1002.2h0M996.2 1012.0h0M990.0 1010.9h0M965.5 1011.2h0M942.0 997.4h0M943.9 1004.2h0M965.4 1007.2h0M981.4 1010.9h0M977.4 997.6h0M989.4 1001.9h0M952.0 992.9h0M986.0 998.0h0M962.1 1015.1h0M986.3 990.9h0M941.1 1007.0h0M958.4 1012.4h0M985.9 1002.8h0M983.6 995.3h0M960.3 1008.4h0M947.4 991.3h0M990.6 1001.1h0M943.4 994.0h0M976.5 997.5h0M983.7 993.4h0M940.2 1003.1h0M956.8 1004.6h0M958.8 1014.1h0M971.2 993.7h0M974.0 996.6h0M959.3 1016.1h0M972.1 998.8h0M984.8 979.1h0M968.5 978.9h0M953.0 984.1h0M950.6 979.9h0M984.0 975.4h0M950.7 981.8h0M952.0 978.9h0M989.8 986.8h0M976.2 982.0h0M948.9 975.3h0M986.0 980.7h0M974.2 987.8h0M982.2 984.9h0M950.2 984.1h0M937.8 1110.3h0M938.8 1104.7h0M938.4 1101.5h0M938.2 1097.4h0M938.3 1092.5h0M939.1 1088.0h0M938.3 1082.5h0M938.1 1077.0h0M938.8 1071.4h0M939.1 1067.1h0M937.9 1062.1h0M937.7 1057.2h0M938.8 1051.9h0M938.4 1046.9h0M939.0 1042.6h0M938.6 1037.2h0M938.8 1034.1h0M938.3 1028.3h0M937.9 1023.9h0M938.9 1020.3h0M938.6 1015.5h0M939.0 1010.0h0M998.2 1110.3h0M998.4 1106.4h0M998.2 1101.2h0M997.2 1096.1h0M998.1 1092.9h0M998.2 1089.6h0M997.2 1085.9h0M997.2 1080.1h0M997.7 1076.3h0M997.3 1071.1h0M997.4 1067.7h0M998.5 1063.0h0M997.1 1057.2h0M998.0 1053.9h0M997.7 1050.8h0M997.4 1046.8h0M997.9 1041.0h0M997.5 1035.6h0M998.4 1029.7h0M998.1 1026.6h0M998.0 1021.5h0M980.3 911.3h0M976.0 984.7h0M984.8 982.3h0M994.9 996.0h0M943.2 966.8h0M949.5 975.4h0M940.0 965.1h0M940.8 967.8h0M940.4 970.7h0M940.9 972.4h0M940.0 975.1h0M941.3 977.2h0M940.2 979.9h0M941.1 981.6h0M939.4 983.2h0M940.4 984.5h0M941.7 986.9h0M939.6 988.6h0M939.4 990.9h0M941.6 993.4h0M939.6 994.9h0M942.0 996.1h0M941.1 997.6h0M939.6 999.7h0M939.9 1001.1h0M942.1 1002.7h0M942.1 1003.9h0M940.9 1005.1h0M939.7 1006.5h0M941.7 1007.7h0" fill="none" stroke="#4096AA" stroke-width="7.50" stroke-linecap="round"/></g>
<polygon points="116.1,1117.0 116.1,1086.4 117.6,1083.9 119.1,1081.4 120.6,1078.9 122.1,1076.4 123.6,1073.8 125.1,1071.2 126.6,1069.4 128.1,1069.1 129.6,1068.8 131.1,1068.5 132.6,1068.1 134.1,1067.8 135.6,1067.5 137.1,1067.2 138.6,1066.9 140.1,1066.7 141.6,1066.5 143.1,1066.4 144.6,1066.4 146.1,1066.5 147.6,1066.7 149.1,1066.9 150.6,1067.2 152.1,1067.5 153.6,1067.8 155.1,1068.1 156.6,1068.5 158.1,1068.8 159.6,1069.1 161.1,1069.4 162.6,1069.6 164.1,1069.8 165.6,1070.0 167.1,1070.1 168.6,1070.2 170.1,1070.3 171.6,1070.4 173.1,1070.4 174.6,1070.4 176.1,1070.5 177.6,1070.5 179.1,1070.5 180.6,1070.5 182.1,1070.4 183.6,1070.3 185.1,1070.2 186.6,1069.9 188.1,1069.5 189.6,1069.0 191.1,1068.6 192.6,1068.3 194.1,1068.2 195.6,1068.4 197.1,1068.7 198.6,1069.2 200.1,1069.6 201.6,1070.0 203.1,1070.2 204.6,1070.3 206.1,1070.4 207.6,1070.4 209.1,1070.3 210.6,1070.3 212.1,1070.2 213.6,1070.0 215.1,1069.8 216.6,1069.5 218.1,1069.1 219.6,1068.6 221.1,1067.9 222.6,1067.1 224.1,1066.0 225.6,1064.8 227.1,1063.4 228.6,1061.8 230.1,1060.2 231.6,1058.6 233.1,1057.2 234.6,1056.0 236.1,1055.2 237.6,1054.8 239.1,1055.0 240.6,1057.7 242.1,1061.1 243.6,1065.0 245.1,1069.0 246.6,1073.1 248.1,1077.3 249.3,1117.0" fill="#FF868A" />
<polygon points="254.9,1117.0 254.9,1086.5 256.4,1084.0 257.9,1081.6 259.4,1079.2 260.9,1076.7 262.4,1074.2 263.9,1071.6 265.4,1069.8 266.9,1069.5 268.4,1069.1 269.9,1068.5 271.4,1067.8 272.9,1067.0 274.4,1066.0 275.9,1064.9 277.4,1063.7 278.9,1062.4 280.4,1061.2 281.9,1060.1 283.4,1059.2 284.9,1058.5 286.4,1058.1 287.9,1058.0 289.4,1058.2 290.9,1058.7 292.4,1059.4 293.9,1060.2 295.4,1061.2 296.9,1062.2 298.4,1063.2 299.9,1064.2 301.4,1065.1 302.9,1066.0 304.4,1066.8 305.9,1067.4 307.4,1068.0 308.9,1068.5 310.4,1068.8 311.9,1069.1 313.4,1069.3 314.9,1069.3 316.4,1069.2 317.9,1069.0 319.4,1068.7 320.9,1068.2 322.4,1067.5 323.9,1066.7 325.4,1065.7 326.9,1064.5 328.4,1063.3 329.9,1062.1 331.4,1060.9 332.9,1059.9 334.4,1059.3 335.9,1059.1 337.4,1059.3 338.9,1060.1 340.4,1061.2 341.9,1062.6 343.4,1064.0 344.9,1065.4 346.4,1066.5 347.9,1067.4 349.4,1068.0 350.9,1068.3 352.4,1068.4 353.9,1068.4 355.4,1068.3 356.9,1069.7 358.4,1071.9 359.9,1074.1 361.4,1076.4 362.9,1078.7 364.4,1081.1 365.9,1083.6 365.9,1117.0" fill="#FF868A" />
<polygon points="371.5,1117.0 371.5,1082.9 373.0,1079.7 374.5,1076.4 376.0,1073.1 377.5,1069.6 379.0,1065.9 380.5,1062.0 382.0,1058.7 383.5,1056.9 385.0,1055.1 386.5,1053.5 388.0,1052.4 389.5,1052.0 391.0,1052.5 392.5,1053.9 394.0,1056.0 395.5,1058.5 397.0,1061.0 398.5,1063.3 400.0,1065.3 401.5,1066.7 403.0,1067.5 404.5,1067.9 406.0,1067.9 407.5,1067.5 409.0,1066.8 410.5,1065.9 412.0,1064.9 413.5,1063.7 415.0,1062.6 416.5,1061.6 418.0,1060.7 419.5,1060.0 421.0,1059.6 422.5,1059.4 424.0,1059.4 425.5,1059.6 427.0,1059.9 428.5,1060.3 430.0,1060.8 431.5,1061.3 433.0,1061.9 434.5,1062.6 436.0,1063.3 437.5,1064.2 439.0,1065.0 440.5,1065.9 442.0,1066.7 443.5,1067.5 445.0,1068.1 446.5,1068.7 448.0,1069.2 449.5,1069.6 451.0,1069.9 452.5,1070.1 454.0,1070.2 455.5,1070.3 457.0,1070.4 458.5,1070.4 460.0,1070.5 461.5,1070.5 463.0,1070.5 464.5,1070.5 466.0,1070.5 467.5,1070.5 469.0,1070.5 470.5,1070.5 472.0,1070.5 473.5,1070.5 475.0,1071.8 476.5,1074.2 478.0,1076.6 479.5,1079.0 481.0,1081.4 482.5,1083.8 484.0,1086.2 484.2,1117.0" fill="#FF868A" />
<polygon points="489.7,1117.0 489.7,1086.5 491.2,1084.1 492.7,1081.7 494.2,1079.3 495.7,1076.9 497.2,1074.5 498.7,1072.1 500.2,1070.5 501.7,1070.5 503.2,1070.5 504.7,1070.5 506.2,1070.5 507.7,1070.5 509.2,1070.5 510.7,1070.5 512.2,1070.5 513.7,1070.5 515.2,1070.5 516.7,1070.4 518.2,1070.4 519.7,1070.3 521.2,1070.2 522.7,1070.1 524.2,1069.9 525.7,1069.7 527.2,1069.3 528.7,1068.9 530.2,1068.5 531.7,1067.9 533.2,1067.3 534.7,1066.7 536.2,1066.1 537.7,1065.4 539.2,1064.6 540.7,1063.7 542.2,1062.6 543.7,1061.1 545.2,1059.2 546.7,1057.3 548.2,1055.5 549.7,1054.3 551.2,1053.9 552.7,1054.3 554.2,1055.2 555.7,1056.4 557.2,1057.6 558.7,1058.8 560.2,1060.0 561.7,1061.2 563.2,1062.3 564.7,1063.3 566.2,1064.1 567.7,1064.8 569.2,1065.3 570.7,1065.8 572.2,1066.3 573.7,1066.8 575.2,1067.3 576.7,1067.9 578.2,1068.4 579.7,1068.9 581.2,1069.4 582.7,1069.7 584.2,1070.0 585.7,1070.2 587.2,1070.3 588.7,1070.4 590.2,1070.4 591.7,1071.9 593.2,1074.3 594.7,1076.7 596.2,1079.1 597.7,1081.5 599.2,1083.9 600.7,1086.3 600.8,1117.0" fill="#FF868A" />
<polygon points="604.5,1117.0 604.5,1080.3 606.0,1077.4 607.5,1074.6 609.0,1072.1 610.5,1069.9 612.0,1067.9 613.5,1066.1 615.0,1065.2 616.5,1066.1 618.0,1066.9 619.5,1067.6 621.0,1068.3 622.5,1068.8 624.0,1069.2 625.5,1069.5 627.0,1069.6 628.5,1069.6 630.0,1069.5 631.5,1069.3 633.0,1069.0 634.5,1068.7 636.0,1068.3 637.5,1067.8 639.0,1067.3 640.5,1066.9 642.0,1066.4 643.5,1066.0 645.0,1065.7 646.5,1065.6 648.0,1065.5 649.5,1065.5 651.0,1065.7 652.5,1066.0 654.0,1066.4 655.5,1066.8 657.0,1067.3 658.5,1067.7 660.0,1068.2 661.5,1068.6 663.0,1068.9 664.5,1069.2 666.0,1069.3 667.5,1069.4 669.0,1069.3 670.5,1069.1 672.0,1068.8 673.5,1068.2 675.0,1067.5 676.5,1066.7 678.0,1065.6 679.5,1064.3 681.0,1062.9 682.5,1061.3 684.0,1059.7 685.5,1058.0 687.0,1056.4 688.5,1055.0 690.0,1053.8 691.5,1053.0 693.0,1052.9 694.5,1055.3 696.0,1058.2 697.5,1061.6 699.0,1065.3 700.5,1069.3 702.0,1073.5 702.8,1117.0" fill="#FF868A" />
<polygon points="704.5,1117.0 704.5,1083.5 706.0,1079.7 707.5,1075.8 709.0,1071.9 710.5,1068.1 712.0,1064.7 713.5,1061.8 715.0,1060.2 716.5,1060.7 718.0,1061.5 719.5,1062.3 721.0,1063.1 722.5,1063.7 724.0,1064.2 725.5,1064.5 727.0,1064.7 728.5,1064.8 730.0,1064.8 731.5,1064.7 733.0,1064.4 734.5,1063.7 736.0,1062.7 737.5,1061.2 739.0,1059.5 740.5,1057.8 742.0,1056.3 743.5,1055.3 745.0,1055.0 746.5,1055.1 748.0,1055.5 749.5,1055.9 751.0,1056.4 752.5,1056.9 754.0,1057.4 755.5,1058.1 757.0,1059.0 758.5,1060.0 760.0,1061.2 761.5,1062.4 763.0,1063.6 764.5,1064.7 766.0,1065.8 767.5,1066.8 769.0,1067.6 770.5,1068.3 772.0,1068.9 773.5,1069.3 775.0,1069.7 776.5,1069.9 778.0,1070.1 779.5,1070.3 781.0,1070.3 782.5,1070.4 784.0,1070.4 785.5,1070.5 787.0,1070.5 788.5,1070.5 790.0,1070.5 791.5,1070.5 793.0,1070.5 794.5,1071.9 796.0,1074.3 797.5,1076.7 799.0,1079.1 800.5,1081.5 802.0,1083.9 803.5,1086.3 803.6,1117.0" fill="#FF868A" />
<polygon points="810.9,1117.0 810.9,1085.1 812.4,1082.3 813.9,1079.5 815.4,1076.6 816.9,1073.8 818.4,1071.0 819.9,1068.3 821.4,1066.5 822.9,1066.4 824.4,1066.3 825.9,1066.4 827.4,1066.4 828.9,1066.3 830.4,1066.1 831.9,1065.6 833.4,1064.9 834.9,1064.0 836.4,1062.9 837.9,1062.0 839.4,1061.3 840.9,1060.8 842.4,1060.7 843.9,1060.6 845.4,1060.5 846.9,1060.3 848.4,1060.1 849.9,1059.8 851.4,1059.5 852.9,1059.3 854.4,1059.0 855.9,1058.9 857.4,1058.8 858.9,1058.7 860.4,1058.7 861.9,1058.8 863.4,1059.0 864.9,1059.3 866.4,1059.7 867.9,1060.2 869.4,1060.9 870.9,1061.6 872.4,1062.5 873.9,1063.4 875.4,1064.4 876.9,1065.4 878.4,1066.3 879.9,1067.1 881.4,1067.8 882.9,1068.5 884.4,1069.0 885.9,1069.4 887.4,1069.7 888.9,1070.0 890.4,1070.1 891.9,1070.3 893.4,1070.4 894.9,1070.4 896.4,1070.4 897.9,1072.7 899.4,1075.1 900.9,1077.5 902.4,1079.9 903.9,1082.3 905.4,1084.7 906.5,1117.0" fill="#FF868A" />
<polygon points="912.0,1117.0 912.0,1084.2 913.5,1081.1 915.0,1078.0 916.5,1074.8 918.0,1071.6 919.5,1068.3 921.0,1065.2 922.5,1063.0 924.0,1062.5 925.5,1062.2 927.0,1062.0 928.5,1062.0 930.0,1062.1 931.5,1062.4 933.0,1062.6 934.5,1062.9 936.0,1063.0 937.5,1063.2 939.0,1063.3 940.5,1063.3 942.0,1063.3 943.5,1063.3 945.0,1063.4 946.5,1063.5 948.0,1063.7 949.5,1064.0 951.0,1064.3 952.5,1064.6 954.0,1064.8 955.5,1064.9 957.0,1065.0 958.5,1065.0 960.0,1065.1 961.5,1065.3 963.0,1065.6 964.5,1066.0 966.0,1066.5 967.5,1067.1 969.0,1067.8 970.5,1068.4 972.0,1068.9 973.5,1069.3 975.0,1069.6 976.5,1069.8 978.0,1069.9 979.5,1069.9 981.0,1069.8 982.5,1069.7 984.0,1069.6 985.5,1069.4 987.0,1069.2 988.5,1069.0 990.0,1068.8 991.5,1068.5 993.0,1069.1 994.5,1071.4 996.0,1073.6 997.5,1075.9 999.0,1078.2 1000.5,1080.6 1002.0,1083.0 1002.5,1117.0" fill="#FF868A" />
<polygon points="1008.0,1117.0 1008.0,1085.9 1009.5,1083.3 1011.0,1080.5 1012.5,1077.7 1014.0,1074.9 1015.5,1072.0 1017.0,1069.1 1018.5,1067.1 1020.0,1066.7 1021.5,1066.2 1023.0,1065.7 1024.5,1065.1 1026.0,1064.2 1027.5,1063.1 1029.0,1061.8 1030.5,1060.5 1032.0,1059.5 1033.5,1059.0 1035.0,1059.1 1036.5,1059.8 1038.0,1060.8 1039.5,1062.0 1041.0,1063.0 1042.5,1063.9 1044.0,1064.5 1045.5,1064.8 1047.0,1064.9 1048.5,1065.0 1050.0,1065.0 1051.5,1065.1 1053.0,1065.3 1054.5,1065.6 1056.0,1066.0 1057.5,1066.5 1059.0,1067.0 1060.5,1067.6 1062.0,1068.0 1063.5,1068.4 1065.0,1068.5 1066.5,1068.5 1068.0,1068.3 1069.5,1067.8 1071.0,1067.0 1072.5,1066.1 1074.0,1065.1 1075.5,1065.2 1077.0,1066.6 1078.5,1068.3 1080.0,1070.3 1081.5,1072.7 1083.0,1075.4 1084.5,1078.5 1084.8,1117.0" fill="#FF868A" />
<polygon points="1090.3,1117.0 1090.3,1077.8 1091.8,1073.6 1093.3,1070.0 1094.8,1067.1 1096.3,1065.2 1097.8,1064.1 1099.3,1063.4 1100.8,1063.7 1102.3,1065.3 1103.8,1066.6 1105.3,1067.5 1106.8,1068.1 1108.3,1068.5 1109.8,1068.7 1111.3,1068.8 1112.8,1068.8 1114.3,1068.8 1115.8,1068.7 1117.3,1068.6 1118.8,1068.5 1120.3,1068.4 1121.8,1068.3 1123.3,1068.2 1124.8,1068.1 1126.3,1068.0 1127.8,1068.0 1129.3,1067.9 1130.8,1067.9 1132.3,1067.8 1133.8,1067.8 1135.3,1067.7 1136.8,1067.6 1138.3,1067.5 1139.8,1067.4 1141.3,1067.3 1142.8,1067.1 1144.3,1066.9 1145.8,1066.6 1147.3,1066.4 1148.8,1066.2 1150.3,1066.2 1151.8,1066.4 1153.3,1066.8 1154.8,1067.4 1156.3,1068.1 1157.8,1068.7 1159.3,1070.1 1160.8,1072.9 1162.3,1075.6 1163.8,1078.2 1165.3,1080.7 1166.8,1083.2 1168.3,1085.6 1168.8,1117.0" fill="#FF868A" />
<polygon points="1174.3,1117.0 1174.3,1081.7 1175.8,1078.6 1177.3,1075.5 1178.8,1072.6 1180.3,1069.7 1181.8,1067.1 1183.3,1064.5 1184.8,1063.0 1186.3,1063.2 1187.8,1063.5 1189.3,1064.0 1190.8,1064.5 1192.3,1065.0 1193.8,1065.4 1195.3,1065.7 1196.8,1065.7 1198.3,1065.7 1199.8,1065.7 1201.3,1065.7 1202.8,1065.9 1204.3,1066.1 1205.8,1066.4 1207.3,1066.4 1208.8,1066.3 1210.3,1065.9 1211.8,1065.3 1213.3,1064.6 1214.8,1064.0 1216.3,1063.5 1217.8,1063.2 1219.3,1063.1 1220.8,1063.2 1222.3,1063.4 1223.8,1063.7 1225.3,1064.0 1226.8,1064.3 1228.3,1064.5 1229.8,1064.7 1231.3,1065.0 1232.8,1065.2 1234.3,1065.6 1235.8,1066.0 1237.3,1066.4 1238.8,1066.9 1240.3,1067.5 1241.8,1068.0 1243.3,1068.5 1244.8,1069.0 1246.3,1069.4 1247.8,1069.7 1249.3,1069.9 1250.8,1070.1 1252.3,1070.2 1253.8,1070.3 1255.3,1070.4 1256.8,1071.1 1258.3,1073.5 1259.8,1075.9 1261.3,1078.3 1262.8,1080.7 1264.3,1083.1 1265.8,1085.5 1266.4,1117.0" fill="#FF868A" />
<polygon points="1271.3,1117.0 1271.3,1077.0 1272.8,1073.7 1274.3,1070.4 1275.8,1067.2 1277.3,1064.2 1278.8,1061.4 1280.3,1058.8 1281.8,1057.2 1283.3,1057.4 1284.8,1057.8 1286.3,1058.4 1287.8,1059.1 1289.3,1060.0 1290.8,1060.9 1292.3,1061.8 1293.8,1062.7 1295.3,1063.6 1296.8,1064.5 1298.3,1065.3 1299.8,1066.1 1301.3,1066.7 1302.8,1067.3 1304.3,1067.6 1305.8,1067.8 1307.3,1067.8 1308.8,1067.6 1310.3,1067.2 1311.8,1066.6 1313.3,1065.9 1314.8,1065.1 1316.3,1064.4 1317.8,1063.9 1319.3,1063.5 1320.8,1063.4 1322.3,1063.6 1323.8,1064.0 1325.3,1064.6 1326.8,1065.4 1328.3,1066.2 1329.8,1067.1 1331.3,1067.9 1332.8,1068.6 1334.3,1069.1 1335.8,1069.6 1337.3,1069.9 1338.8,1070.1 1340.3,1070.3 1341.8,1070.4 1343.3,1070.4 1344.8,1070.5 1346.3,1070.5 1347.8,1070.5 1349.3,1070.5 1350.8,1070.5 1352.3,1070.5 1353.8,1072.7 1355.3,1075.1 1356.8,1077.5 1358.3,1079.9 1359.8,1082.3 1361.3,1084.7 1362.4,1117.0" fill="#FF868A" />
<path d="M165.5 1061.6l7.2 9.5h-14.4zM227.8 1030.9l7.2 9.5h-14.4zM198.5 1069.3l7.2 9.5h-14.4zM129.5 1068.1l7.2 9.5h-14.4zM160.7 1058.9l7.2 9.5h-14.4zM208.0 1069.2l7.2 9.5h-14.4zM234.6 1047.0l7.2 9.5h-14.4zM150.0 1064.9l7.2 9.5h-14.4zM146.9 1061.0l7.2 9.5h-14.4zM202.3 1058.9l7.2 9.5h-14.4zM202.0 1057.9l7.2 9.5h-14.4zM150.7 1067.0l7.2 9.5h-14.4zM202.6 1067.6l7.2 9.5h-14.4zM134.3 1044.6l7.2 9.5h-14.4zM186.2 1059.9l7.2 9.5h-14.4zM194.6 1062.1l7.2 9.5h-14.4zM218.7 1064.3l7.2 9.5h-14.4zM213.1 1064.5l7.2 9.5h-14.4zM188.5 1069.7l7.2 9.5h-14.4zM240.5 1054.8l7.2 9.5h-14.4zM212.5 1069.4l7.2 9.5h-14.4zM182.8 1067.7l7.2 9.5h-14.4zM200.0 1066.6l7.2 9.5h-14.4zM216.3 1063.8l7.2 9.5h-14.4zM223.7 1058.5l7.2 9.5h-14.4zM236.3 1054.5l7.2 9.5h-14.4zM143.2 1057.2l7.2 9.5h-14.4zM175.7 1063.4l7.2 9.5h-14.4zM217.3 1065.7l7.2 9.5h-14.4zM149.8 1060.5l7.2 9.5h-14.4zM127.8 1064.4l7.2 9.5h-14.4zM191.4 1053.1l7.2 9.5h-14.4zM141.6 1064.2l7.2 9.5h-14.4zM175.1 1063.2l7.2 9.5h-14.4zM218.1 1070.2l7.2 9.5h-14.4zM191.0 1065.1l7.2 9.5h-14.4zM151.8 1062.7l7.2 9.5h-14.4zM128.6 1066.0l7.2 9.5h-14.4zM185.8 1067.1l7.2 9.5h-14.4zM134.1 1054.1l7.2 9.5h-14.4zM153.8 1066.5l7.2 9.5h-14.4zM222.0 1053.6l7.2 9.5h-14.4zM172.2 1063.4l7.2 9.5h-14.4zM238.5 1052.3l7.2 9.5h-14.4zM213.7 1043.2l7.2 9.5h-14.4zM177.5 1057.3l7.2 9.5h-14.4zM152.1 1051.0l7.2 9.5h-14.4zM170.1 1065.6l7.2 9.5h-14.4zM132.7 1070.2l7.2 9.5h-14.4zM214.0 1058.7l7.2 9.5h-14.4zM153.6 1059.3l7.2 9.5h-14.4zM178.2 1053.6l7.2 9.5h-14.4zM163.5 1048.6l7.2 9.5h-14.4zM128.3 1065.6l7.2 9.5h-14.4zM130.5 1066.1l7.2 9.5h-14.4zM225.9 1061.3l7.2 9.5h-14.4zM178.4 1068.9l7.2 9.5h-14.4zM168.7 1057.9l7.2 9.5h-14.4zM164.7 1067.1l7.2 9.5h-14.4zM143.0 1060.5l7.2 9.5h-14.4zM179.0 1066.0l7.2 9.5h-14.4zM241.2 1054.4l7.2 9.5h-14.4zM147.8 1058.2l7.2 9.5h-14.4zM205.5 1063.9l7.2 9.5h-14.4zM125.8 1064.6l7.2 9.5h-14.4zM170.1 1057.2l7.2 9.5h-14.4zM155.4 1060.7l7.2 9.5h-14.4zM234.5 1054.0l7.2 9.5h-14.4zM209.3 1051.9l7.2 9.5h-14.4zM161.7 1061.1l7.2 9.5h-14.4zM228.1 1060.6l7.2 9.5h-14.4zM185.1 1066.7l7.2 9.5h-14.4zM151.8 1061.9l7.2 9.5h-14.4zM194.1 1064.1l7.2 9.5h-14.4zM173.8 1061.0l7.2 9.5h-14.4zM207.3 1068.7l7.2 9.5h-14.4zM202.5 1064.5l7.2 9.5h-14.4zM156.8 1059.2l7.2 9.5h-14.4zM169.4 1055.5l7.2 9.5h-14.4zM158.2 1062.0l7.2 9.5h-14.4zM128.4 1067.9l7.2 9.5h-14.4zM190.6 1062.5l7.2 9.5h-14.4zM158.9 1065.0l7.2 9.5h-14.4zM149.2 1060.4l7.2 9.5h-14.4zM236.7 1040.3l7.2 9.5h-14.4zM198.5 1065.8l7.2 9.5h-14.4zM170.1 1066.7l7.2 9.5h-14.4zM162.5 1062.0l7.2 9.5h-14.4zM142.4 1061.5l7.2 9.5h-14.4zM143.3 1056.4l7.2 9.5h-14.4zM134.6 1062.7l7.2 9.5h-14.4zM141.5 1061.8l7.2 9.5h-14.4zM189.1 1056.7l7.2 9.5h-14.4zM169.9 1061.9l7.2 9.5h-14.4zM171.5 1067.8l7.2 9.5h-14.4zM193.0 1061.3l7.2 9.5h-14.4zM153.6 1064.1l7.2 9.5h-14.4zM229.2 1052.7l7.2 9.5h-14.4zM202.7 1066.6l7.2 9.5h-14.4zM196.4 1049.6l7.2 9.5h-14.4zM191.8 1054.4l7.2 9.5h-14.4zM197.9 1061.1l7.2 9.5h-14.4zM172.8 1069.5l7.2 9.5h-14.4zM227.8 1061.8l7.2 9.5h-14.4zM128.1 1066.2l7.2 9.5h-14.4zM160.1 1069.1l7.2 9.5h-14.4zM141.3 1060.8l7.2 9.5h-14.4zM204.1 1062.3l7.2 9.5h-14.4zM188.0 1062.5l7.2 9.5h-14.4zM182.0 1063.4l7.2 9.5h-14.4zM197.5 1065.5l7.2 9.5h-14.4zM238.3 1049.2l7.2 9.5h-14.4zM228.5 1059.7l7.2 9.5h-14.4zM205.9 1066.6l7.2 9.5h-14.4zM221.2 1065.9l7.2 9.5h-14.4zM181.7 1062.9l7.2 9.5h-14.4zM157.4 1059.9l7.2 9.5h-14.4zM151.7 1062.2l7.2 9.5h-14.4zM144.6 1057.3l7.2 9.5h-14.4zM131.1 1062.3l7.2 9.5h-14.4zM207.0 1067.2l7.2 9.5h-14.4zM215.0 1061.3l7.2 9.5h-14.4zM226.2 1047.8l7.2 9.5h-14.4zM153.7 1064.7l7.2 9.5h-14.4zM170.0 1059.6l7.2 9.5h-14.4zM208.3 1064.7l7.2 9.5h-14.4zM213.5 1061.5l7.2 9.5h-14.4zM190.8 1065.6l7.2 9.5h-14.4zM197.4 1060.4l7.2 9.5h-14.4zM138.4 1063.9l7.2 9.5h-14.4zM151.0 1059.6l7.2 9.5h-14.4zM192.9 1056.1l7.2 9.5h-14.4zM139.4 1058.0l7.2 9.5h-14.4zM198.4 1068.3l7.2 9.5h-14.4zM240.7 1057.3l7.2 9.5h-14.4zM137.6 1062.7l7.2 9.5h-14.4zM210.2 1039.4l7.2 9.5h-14.4zM162.7 1067.7l7.2 9.5h-14.4zM180.8 1064.2l7.2 9.5h-14.4zM218.4 1055.8l7.2 9.5h-14.4zM170.0 1065.7l7.2 9.5h-14.4zM239.7 1053.0l7.2 9.5h-14.4zM188.2 1056.0l7.2 9.5h-14.4zM144.3 1067.6l7.2 9.5h-14.4zM153.4 1058.8l7.2 9.5h-14.4zM161.9 1067.8l7.2 9.5h-14.4zM140.6 1057.5l7.2 9.5h-14.4zM150.5 1060.5l7.2 9.5h-14.4zM154.3 1061.6l7.2 9.5h-14.4zM229.3 1053.2l7.2 9.5h-14.4zM145.2 1065.4l7.2 9.5h-14.4zM147.5 1054.2l7.2 9.5h-14.4zM172.7 1059.0l7.2 9.5h-14.4zM130.4 1063.8l7.2 9.5h-14.4zM197.4 1068.9l7.2 9.5h-14.4zM226.0 1035.9l7.2 9.5h-14.4zM222.3 1055.7l7.2 9.5h-14.4zM126.8 1062.8l7.2 9.5h-14.4zM132.4 1066.0l7.2 9.5h-14.4zM160.3 1059.0l7.2 9.5h-14.4zM148.5 1044.2l7.2 9.5h-14.4zM186.0 1062.1l7.2 9.5h-14.4zM210.7 1068.2l7.2 9.5h-14.4zM221.6 1062.5l7.2 9.5h-14.4zM135.5 1049.4l7.2 9.5h-14.4zM207.1 1070.4l7.2 9.5h-14.4zM126.4 1060.5l7.2 9.5h-14.4zM169.6 1067.2l7.2 9.5h-14.4zM219.6 1065.4l7.2 9.5h-14.4zM165.5 1069.8l7.2 9.5h-14.4zM161.7 1065.3l7.2 9.5h-14.4zM211.4 1069.0l7.2 9.5h-14.4zM188.3 1058.6l7.2 9.5h-14.4zM136.1 1063.0l7.2 9.5h-14.4zM174.6 1068.2l7.2 9.5h-14.4zM171.4 1066.5l7.2 9.5h-14.4zM236.4 1055.2l7.2 9.5h-14.4zM161.6 1056.7l7.2 9.5h-14.4zM240.5 1056.7l7.2 9.5h-14.4zM149.6 1064.0l7.2 9.5h-14.4zM144.7 1064.2l7.2 9.5h-14.4zM235.8 1048.3l7.2 9.5h-14.4zM165.9 1041.9l7.2 9.5h-14.4zM198.8 1066.0l7.2 9.5h-14.4zM148.7 1063.3l7.2 9.5h-14.4zM225.0 1058.2l7.2 9.5h-14.4zM190.8 1068.9l7.2 9.5h-14.4zM205.3 1066.6l7.2 9.5h-14.4zM173.3 1063.3l7.2 9.5h-14.4zM194.7 1061.9l7.2 9.5h-14.4zM127.4 1061.6l7.2 9.5h-14.4zM193.9 1065.3l7.2 9.5h-14.4zM141.6 1065.6l7.2 9.5h-14.4zM211.0 1068.3l7.2 9.5h-14.4zM240.7 1056.5l7.2 9.5h-14.4zM138.6 1041.5l7.2 9.5h-14.4zM151.3 1057.3l7.2 9.5h-14.4zM234.6 1047.6l7.2 9.5h-14.4zM184.2 1038.8l7.2 9.5h-14.4zM226.6 1053.2l7.2 9.5h-14.4zM219.2 1063.9l7.2 9.5h-14.4zM226.1 1059.1l7.2 9.5h-14.4zM199.8 1067.5l7.2 9.5h-14.4zM216.8 1061.6l7.2 9.5h-14.4zM218.3 1059.6l7.2 9.5h-14.4zM188.6 1058.0l7.2 9.5h-14.4zM141.6 1058.4l7.2 9.5h-14.4zM128.0 1068.1l7.2 9.5h-14.4zM222.3 1061.5l7.2 9.5h-14.4zM169.6 1059.7l7.2 9.5h-14.4zM230.4 1061.7l7.2 9.5h-14.4zM148.1 1063.0l7.2 9.5h-14.4zM209.8 1068.5l7.2 9.5h-14.4zM174.6 1066.7l7.2 9.5h-14.4zM160.9 1060.2l7.2 9.5h-14.4zM195.0 1057.2l7.2 9.5h-14.4zM138.8 1058.4l7.2 9.5h-14.4zM138.9 1068.0l7.2 9.5h-14.4zM195.8 1061.3l7.2 9.5h-14.4zM241.4 1053.5l7.2 9.5h-14.4zM166.3 1065.2l7.2 9.5h-14.4zM140.9 1058.7l7.2 9.5h-14.4zM220.7 1062.9l7.2 9.5h-14.4zM183.6 1052.5l7.2 9.5h-14.4zM123.7 1105.6l7.2 9.5h-14.4zM123.5 1101.9l7.2 9.5h-14.4zM124.0 1098.0l7.2 9.5h-14.4zM124.0 1094.2l7.2 9.5h-14.4zM123.2 1089.2l7.2 9.5h-14.4zM123.1 1083.3l7.2 9.5h-14.4zM123.5 1078.1l7.2 9.5h-14.4zM122.4 1073.8l7.2 9.5h-14.4zM122.9 1069.5l7.2 9.5h-14.4zM243.0 1105.6l7.2 9.5h-14.4zM242.5 1101.7l7.2 9.5h-14.4zM241.6 1096.7l7.2 9.5h-14.4zM241.4 1092.5l7.2 9.5h-14.4zM241.6 1086.8l7.2 9.5h-14.4zM241.8 1082.5l7.2 9.5h-14.4zM242.8 1077.1l7.2 9.5h-14.4zM242.2 1072.3l7.2 9.5h-14.4zM242.9 1069.0l7.2 9.5h-14.4zM241.8 1065.7l7.2 9.5h-14.4zM242.5 1061.6l7.2 9.5h-14.4zM241.8 1056.6l7.2 9.5h-14.4zM310.0 1066.8l7.2 9.5h-14.4zM348.4 1058.0l7.2 9.5h-14.4zM339.9 1052.7l7.2 9.5h-14.4zM320.7 1063.2l7.2 9.5h-14.4zM357.7 1068.6l7.2 9.5h-14.4zM296.3 1048.7l7.2 9.5h-14.4zM291.3 1052.5l7.2 9.5h-14.4zM342.1 1056.2l7.2 9.5h-14.4zM296.9 1051.9l7.2 9.5h-14.4zM298.4 1052.5l7.2 9.5h-14.4zM292.3 1050.7l7.2 9.5h-14.4zM286.4 1051.5l7.2 9.5h-14.4zM270.6 1060.2l7.2 9.5h-14.4zM287.8 1054.2l7.2 9.5h-14.4zM265.1 1062.3l7.2 9.5h-14.4zM282.7 1053.1l7.2 9.5h-14.4zM294.8 1045.5l7.2 9.5h-14.4zM308.0 1063.6l7.2 9.5h-14.4zM340.5 1055.9l7.2 9.5h-14.4zM357.4 1064.4l7.2 9.5h-14.4zM322.0 1068.8l7.2 9.5h-14.4zM295.2 1055.4l7.2 9.5h-14.4zM342.0 1049.8l7.2 9.5h-14.4zM278.9 1059.9l7.2 9.5h-14.4zM283.2 1049.7l7.2 9.5h-14.4zM284.2 1051.9l7.2 9.5h-14.4zM331.5 1060.1l7.2 9.5h-14.4zM268.4 1058.0l7.2 9.5h-14.4zM318.5 1062.1l7.2 9.5h-14.4zM296.4 1039.6l7.2 9.5h-14.4zM345.4 1059.6l7.2 9.5h-14.4zM264.4 1059.6l7.2 9.5h-14.4zM288.6 1052.1l7.2 9.5h-14.4zM293.4 1052.7l7.2 9.5h-14.4zM316.4 1063.6l7.2 9.5h-14.4zM286.3 1052.0l7.2 9.5h-14.4zM264.0 1068.3l7.2 9.5h-14.4zM288.2 1058.3l7.2 9.5h-14.4zM307.5 1060.6l7.2 9.5h-14.4zM347.7 1059.2l7.2 9.5h-14.4zM325.8 1057.3l7.2 9.5h-14.4zM302.1 1060.9l7.2 9.5h-14.4zM307.5 1062.4l7.2 9.5h-14.4zM338.3 1043.9l7.2 9.5h-14.4zM264.5 1062.3l7.2 9.5h-14.4zM339.0 1051.2l7.2 9.5h-14.4zM280.8 1051.6l7.2 9.5h-14.4zM328.2 1057.6l7.2 9.5h-14.4zM306.1 1063.3l7.2 9.5h-14.4zM347.1 1044.7l7.2 9.5h-14.4zM342.8 1058.6l7.2 9.5h-14.4zM355.8 1062.2l7.2 9.5h-14.4zM292.2 1047.3l7.2 9.5h-14.4zM357.7 1072.7l7.2 9.5h-14.4zM263.7 1068.0l7.2 9.5h-14.4zM323.9 1064.4l7.2 9.5h-14.4zM352.8 1065.7l7.2 9.5h-14.4zM319.3 1059.2l7.2 9.5h-14.4zM307.0 1055.7l7.2 9.5h-14.4zM283.3 1054.5l7.2 9.5h-14.4zM294.8 1055.5l7.2 9.5h-14.4zM264.1 1069.2l7.2 9.5h-14.4zM283.0 1059.2l7.2 9.5h-14.4zM294.5 1043.1l7.2 9.5h-14.4zM272.1 1058.0l7.2 9.5h-14.4zM340.7 1055.2l7.2 9.5h-14.4zM267.9 1069.5l7.2 9.5h-14.4zM275.9 1057.3l7.2 9.5h-14.4zM278.1 1061.8l7.2 9.5h-14.4zM293.3 1059.1l7.2 9.5h-14.4zM280.1 1055.2l7.2 9.5h-14.4zM352.4 1066.6l7.2 9.5h-14.4zM299.2 1050.7l7.2 9.5h-14.4zM331.2 1057.8l7.2 9.5h-14.4zM355.6 1062.7l7.2 9.5h-14.4zM350.7 1056.5l7.2 9.5h-14.4zM280.3 1055.8l7.2 9.5h-14.4zM343.7 1060.4l7.2 9.5h-14.4zM326.8 1056.4l7.2 9.5h-14.4zM331.4 1051.3l7.2 9.5h-14.4zM309.7 1064.3l7.2 9.5h-14.4zM267.1 1071.4l7.2 9.5h-14.4zM298.1 1055.7l7.2 9.5h-14.4zM319.4 1051.3l7.2 9.5h-14.4zM310.5 1065.6l7.2 9.5h-14.4zM316.8 1062.8l7.2 9.5h-14.4zM332.1 1061.1l7.2 9.5h-14.4zM265.6 1066.2l7.2 9.5h-14.4zM343.6 1059.4l7.2 9.5h-14.4zM335.6 1046.4l7.2 9.5h-14.4zM341.8 1056.5l7.2 9.5h-14.4zM266.0 1070.7l7.2 9.5h-14.4zM299.0 1056.9l7.2 9.5h-14.4zM343.8 1061.4l7.2 9.5h-14.4zM266.0 1065.0l7.2 9.5h-14.4zM280.8 1055.4l7.2 9.5h-14.4zM324.0 1060.5l7.2 9.5h-14.4zM313.9 1061.6l7.2 9.5h-14.4zM317.1 1062.4l7.2 9.5h-14.4zM308.0 1066.8l7.2 9.5h-14.4zM281.0 1052.1l7.2 9.5h-14.4zM347.8 1059.7l7.2 9.5h-14.4zM314.5 1049.7l7.2 9.5h-14.4zM299.3 1054.3l7.2 9.5h-14.4zM330.4 1043.4l7.2 9.5h-14.4zM289.8 1056.6l7.2 9.5h-14.4zM337.9 1055.1l7.2 9.5h-14.4zM280.3 1059.8l7.2 9.5h-14.4zM336.0 1060.6l7.2 9.5h-14.4zM333.6 1046.1l7.2 9.5h-14.4zM320.6 1053.7l7.2 9.5h-14.4zM317.9 1060.3l7.2 9.5h-14.4zM343.1 1060.4l7.2 9.5h-14.4zM276.2 1060.4l7.2 9.5h-14.4zM275.1 1051.8l7.2 9.5h-14.4zM322.9 1061.8l7.2 9.5h-14.4zM320.8 1064.5l7.2 9.5h-14.4zM344.9 1039.4l7.2 9.5h-14.4zM297.6 1051.8l7.2 9.5h-14.4zM344.1 1061.9l7.2 9.5h-14.4zM295.1 1054.3l7.2 9.5h-14.4zM262.6 1067.6l7.2 9.5h-14.4zM357.8 1059.8l7.2 9.5h-14.4zM331.3 1057.3l7.2 9.5h-14.4zM331.9 1052.5l7.2 9.5h-14.4zM302.9 1061.0l7.2 9.5h-14.4zM292.5 1050.1l7.2 9.5h-14.4zM328.3 1062.9l7.2 9.5h-14.4zM355.4 1066.0l7.2 9.5h-14.4zM278.0 1060.0l7.2 9.5h-14.4zM280.0 1053.4l7.2 9.5h-14.4zM327.3 1040.9l7.2 9.5h-14.4zM271.9 1064.8l7.2 9.5h-14.4zM341.7 1054.9l7.2 9.5h-14.4zM344.8 1057.3l7.2 9.5h-14.4zM324.1 1061.8l7.2 9.5h-14.4zM265.3 1062.8l7.2 9.5h-14.4zM313.5 1067.3l7.2 9.5h-14.4zM341.7 1054.7l7.2 9.5h-14.4zM327.0 1059.2l7.2 9.5h-14.4zM315.7 1066.0l7.2 9.5h-14.4zM327.5 1041.5l7.2 9.5h-14.4zM336.9 1051.7l7.2 9.5h-14.4zM263.4 1064.8l7.2 9.5h-14.4zM320.3 1062.7l7.2 9.5h-14.4zM268.1 1067.2l7.2 9.5h-14.4zM328.0 1040.8l7.2 9.5h-14.4zM290.3 1053.3l7.2 9.5h-14.4zM339.7 1059.8l7.2 9.5h-14.4zM309.0 1063.6l7.2 9.5h-14.4zM296.8 1027.4l7.2 9.5h-14.4zM300.8 1063.8l7.2 9.5h-14.4zM276.9 1060.4l7.2 9.5h-14.4zM320.3 1058.5l7.2 9.5h-14.4zM290.8 1057.6l7.2 9.5h-14.4zM282.9 1060.7l7.2 9.5h-14.4zM308.9 1062.3l7.2 9.5h-14.4zM348.1 1054.4l7.2 9.5h-14.4zM327.3 1060.3l7.2 9.5h-14.4zM320.6 1069.7l7.2 9.5h-14.4zM294.6 1060.2l7.2 9.5h-14.4zM272.9 1066.0l7.2 9.5h-14.4zM307.6 1056.9l7.2 9.5h-14.4zM282.3 1058.4l7.2 9.5h-14.4zM307.7 1067.8l7.2 9.5h-14.4zM282.5 1048.5l7.2 9.5h-14.4zM351.2 1052.3l7.2 9.5h-14.4zM293.2 1054.8l7.2 9.5h-14.4zM338.9 1057.7l7.2 9.5h-14.4zM275.9 1062.8l7.2 9.5h-14.4zM345.6 1062.8l7.2 9.5h-14.4zM292.9 1058.7l7.2 9.5h-14.4zM335.4 1054.1l7.2 9.5h-14.4zM329.4 1053.5l7.2 9.5h-14.4zM273.8 1060.7l7.2 9.5h-14.4zM341.9 1058.3l7.2 9.5h-14.4zM297.5 1055.2l7.2 9.5h-14.4zM356.2 1058.4l7.2 9.5h-14.4zM330.0 1056.3l7.2 9.5h-14.4zM336.5 1055.6l7.2 9.5h-14.4zM355.7 1064.7l7.2 9.5h-14.4zM298.4 1057.2l7.2 9.5h-14.4zM324.7 1060.5l7.2 9.5h-14.4zM343.9 1055.8l7.2 9.5h-14.4zM343.6 1060.8l7.2 9.5h-14.4zM286.6 1050.4l7.2 9.5h-14.4zM262.7 1105.6l7.2 9.5h-14.4zM261.7 1099.8l7.2 9.5h-14.4zM261.3 1095.7l7.2 9.5h-14.4zM262.4 1092.3l7.2 9.5h-14.4zM261.3 1086.6l7.2 9.5h-14.4zM262.6 1082.8l7.2 9.5h-14.4zM262.9 1079.2l7.2 9.5h-14.4zM262.0 1075.1l7.2 9.5h-14.4zM261.7 1071.5l7.2 9.5h-14.4zM358.3 1105.6l7.2 9.5h-14.4zM357.8 1100.4l7.2 9.5h-14.4zM359.3 1095.5l7.2 9.5h-14.4zM358.1 1091.5l7.2 9.5h-14.4zM357.9 1088.2l7.2 9.5h-14.4zM358.9 1082.8l7.2 9.5h-14.4zM358.6 1079.7l7.2 9.5h-14.4zM358.3 1074.9l7.2 9.5h-14.4zM358.5 1071.8l7.2 9.5h-14.4zM359.6 1067.8l7.2 9.5h-14.4zM448.7 1066.4l7.2 9.5h-14.4zM476.6 1074.9l7.2 9.5h-14.4zM379.6 1046.9l7.2 9.5h-14.4zM422.9 1051.7l7.2 9.5h-14.4zM395.0 1052.7l7.2 9.5h-14.4zM464.1 1068.0l7.2 9.5h-14.4zM425.2 1055.9l7.2 9.5h-14.4zM437.7 1064.2l7.2 9.5h-14.4zM437.6 1060.9l7.2 9.5h-14.4zM463.9 1069.4l7.2 9.5h-14.4zM426.7 1052.9l7.2 9.5h-14.4zM401.7 1061.0l7.2 9.5h-14.4zM437.9 1061.7l7.2 9.5h-14.4zM425.3 1052.2l7.2 9.5h-14.4zM402.2 1046.5l7.2 9.5h-14.4zM411.8 1063.3l7.2 9.5h-14.4zM421.8 1049.3l7.2 9.5h-14.4zM463.2 1070.1l7.2 9.5h-14.4zM421.9 1055.4l7.2 9.5h-14.4zM430.2 1055.2l7.2 9.5h-14.4zM472.0 1057.8l7.2 9.5h-14.4zM475.7 1066.6l7.2 9.5h-14.4zM459.1 1062.4l7.2 9.5h-14.4zM396.2 1057.2l7.2 9.5h-14.4zM380.9 1053.3l7.2 9.5h-14.4zM384.2 1051.8l7.2 9.5h-14.4zM473.8 1066.3l7.2 9.5h-14.4zM436.8 1051.1l7.2 9.5h-14.4zM402.5 1062.6l7.2 9.5h-14.4zM389.8 1036.8l7.2 9.5h-14.4zM398.6 1060.6l7.2 9.5h-14.4zM405.8 1057.6l7.2 9.5h-14.4zM402.6 1064.2l7.2 9.5h-14.4zM446.3 1066.9l7.2 9.5h-14.4zM436.4 1058.8l7.2 9.5h-14.4zM411.6 1034.4l7.2 9.5h-14.4zM428.9 1053.5l7.2 9.5h-14.4zM442.2 1059.8l7.2 9.5h-14.4zM387.2 1044.0l7.2 9.5h-14.4zM404.8 1058.0l7.2 9.5h-14.4zM393.4 1051.7l7.2 9.5h-14.4zM439.9 1060.7l7.2 9.5h-14.4zM447.8 1060.4l7.2 9.5h-14.4zM403.3 1054.3l7.2 9.5h-14.4zM391.6 1044.4l7.2 9.5h-14.4zM433.9 1062.5l7.2 9.5h-14.4zM421.4 1052.9l7.2 9.5h-14.4zM423.3 1049.8l7.2 9.5h-14.4zM418.1 1059.2l7.2 9.5h-14.4zM469.2 1060.8l7.2 9.5h-14.4zM430.4 1055.5l7.2 9.5h-14.4zM454.7 1067.9l7.2 9.5h-14.4zM429.1 1059.6l7.2 9.5h-14.4zM403.8 1060.8l7.2 9.5h-14.4zM437.5 1060.8l7.2 9.5h-14.4zM420.6 1050.3l7.2 9.5h-14.4zM389.3 1044.2l7.2 9.5h-14.4zM408.2 1050.1l7.2 9.5h-14.4zM451.3 1068.1l7.2 9.5h-14.4zM390.6 1045.5l7.2 9.5h-14.4zM381.4 1049.6l7.2 9.5h-14.4zM415.0 1062.4l7.2 9.5h-14.4zM443.9 1067.6l7.2 9.5h-14.4zM385.6 1053.4l7.2 9.5h-14.4zM454.1 1066.8l7.2 9.5h-14.4zM457.4 1063.8l7.2 9.5h-14.4zM397.1 1055.8l7.2 9.5h-14.4zM430.3 1053.8l7.2 9.5h-14.4zM441.3 1061.2l7.2 9.5h-14.4zM419.2 1049.0l7.2 9.5h-14.4zM465.2 1049.9l7.2 9.5h-14.4zM454.6 1062.7l7.2 9.5h-14.4zM403.2 1066.3l7.2 9.5h-14.4zM403.3 1061.2l7.2 9.5h-14.4zM438.4 1057.3l7.2 9.5h-14.4zM408.7 1062.3l7.2 9.5h-14.4zM410.2 1061.6l7.2 9.5h-14.4zM421.0 1054.7l7.2 9.5h-14.4zM454.2 1061.8l7.2 9.5h-14.4zM474.1 1064.8l7.2 9.5h-14.4zM442.8 1066.0l7.2 9.5h-14.4zM419.9 1053.8l7.2 9.5h-14.4zM414.7 1058.6l7.2 9.5h-14.4zM425.6 1039.0l7.2 9.5h-14.4zM467.4 1052.9l7.2 9.5h-14.4zM406.4 1069.0l7.2 9.5h-14.4zM385.7 1054.3l7.2 9.5h-14.4zM445.0 1060.2l7.2 9.5h-14.4zM396.4 1050.7l7.2 9.5h-14.4zM416.1 1059.1l7.2 9.5h-14.4zM407.3 1056.7l7.2 9.5h-14.4zM404.1 1066.1l7.2 9.5h-14.4zM436.4 1054.4l7.2 9.5h-14.4zM470.7 1062.5l7.2 9.5h-14.4zM464.5 1065.4l7.2 9.5h-14.4zM433.0 1059.2l7.2 9.5h-14.4zM445.5 1069.9l7.2 9.5h-14.4zM424.8 1058.5l7.2 9.5h-14.4zM440.5 1054.5l7.2 9.5h-14.4zM404.0 1062.2l7.2 9.5h-14.4zM413.5 1054.1l7.2 9.5h-14.4zM403.8 1060.7l7.2 9.5h-14.4zM430.4 1051.1l7.2 9.5h-14.4zM467.3 1065.0l7.2 9.5h-14.4zM407.0 1052.6l7.2 9.5h-14.4zM461.7 1071.0l7.2 9.5h-14.4zM445.9 1067.4l7.2 9.5h-14.4zM394.2 1050.6l7.2 9.5h-14.4zM411.8 1057.5l7.2 9.5h-14.4zM418.2 1060.6l7.2 9.5h-14.4zM413.6 1054.5l7.2 9.5h-14.4zM474.4 1059.9l7.2 9.5h-14.4zM461.3 1059.9l7.2 9.5h-14.4zM419.4 1049.5l7.2 9.5h-14.4zM414.7 1059.8l7.2 9.5h-14.4zM379.7 1051.0l7.2 9.5h-14.4zM420.4 1057.3l7.2 9.5h-14.4zM440.9 1064.6l7.2 9.5h-14.4zM402.0 1059.2l7.2 9.5h-14.4zM472.6 1063.3l7.2 9.5h-14.4zM409.4 1047.3l7.2 9.5h-14.4zM402.8 1062.9l7.2 9.5h-14.4zM471.1 1066.3l7.2 9.5h-14.4zM449.8 1065.8l7.2 9.5h-14.4zM445.0 1061.4l7.2 9.5h-14.4zM396.4 1053.1l7.2 9.5h-14.4zM407.1 1060.6l7.2 9.5h-14.4zM430.3 1048.5l7.2 9.5h-14.4zM388.2 1039.8l7.2 9.5h-14.4zM392.7 1046.8l7.2 9.5h-14.4zM455.8 1064.8l7.2 9.5h-14.4zM415.6 1062.7l7.2 9.5h-14.4zM417.1 1046.7l7.2 9.5h-14.4zM421.3 1050.3l7.2 9.5h-14.4zM386.3 1041.7l7.2 9.5h-14.4zM476.9 1070.8l7.2 9.5h-14.4zM437.9 1056.0l7.2 9.5h-14.4zM441.9 1063.1l7.2 9.5h-14.4zM383.1 1049.9l7.2 9.5h-14.4zM453.7 1062.8l7.2 9.5h-14.4zM455.5 1062.6l7.2 9.5h-14.4zM417.4 1054.8l7.2 9.5h-14.4zM382.6 1042.9l7.2 9.5h-14.4zM432.3 1045.6l7.2 9.5h-14.4zM445.7 1065.1l7.2 9.5h-14.4zM438.8 1061.4l7.2 9.5h-14.4zM412.6 1054.3l7.2 9.5h-14.4zM426.9 1055.1l7.2 9.5h-14.4zM384.4 1054.1l7.2 9.5h-14.4zM395.3 1057.1l7.2 9.5h-14.4zM438.7 1058.4l7.2 9.5h-14.4zM473.8 1064.9l7.2 9.5h-14.4zM452.9 1067.5l7.2 9.5h-14.4zM405.6 1063.8l7.2 9.5h-14.4zM463.3 1066.5l7.2 9.5h-14.4zM386.8 1049.5l7.2 9.5h-14.4zM439.2 1059.7l7.2 9.5h-14.4zM419.3 1054.2l7.2 9.5h-14.4zM456.8 1060.4l7.2 9.5h-14.4zM439.2 1055.4l7.2 9.5h-14.4zM396.6 1040.2l7.2 9.5h-14.4zM428.8 1052.1l7.2 9.5h-14.4zM405.1 1061.7l7.2 9.5h-14.4zM383.0 1051.6l7.2 9.5h-14.4zM403.6 1049.7l7.2 9.5h-14.4zM423.7 1045.4l7.2 9.5h-14.4zM424.6 1052.5l7.2 9.5h-14.4zM409.2 1066.3l7.2 9.5h-14.4zM452.2 1059.8l7.2 9.5h-14.4zM451.9 1069.5l7.2 9.5h-14.4zM439.9 1054.4l7.2 9.5h-14.4zM414.7 1050.5l7.2 9.5h-14.4zM382.8 1056.1l7.2 9.5h-14.4zM440.7 1058.7l7.2 9.5h-14.4zM460.9 1060.8l7.2 9.5h-14.4zM399.3 1050.8l7.2 9.5h-14.4zM395.9 1059.1l7.2 9.5h-14.4zM382.5 1057.2l7.2 9.5h-14.4zM453.6 1062.6l7.2 9.5h-14.4zM462.6 1054.4l7.2 9.5h-14.4zM434.4 1062.1l7.2 9.5h-14.4zM442.6 1058.2l7.2 9.5h-14.4zM428.2 1038.9l7.2 9.5h-14.4zM422.7 1054.7l7.2 9.5h-14.4zM436.5 1045.2l7.2 9.5h-14.4zM466.8 1056.4l7.2 9.5h-14.4zM381.8 1053.2l7.2 9.5h-14.4zM473.0 1066.2l7.2 9.5h-14.4zM453.4 1068.6l7.2 9.5h-14.4zM378.6 1105.6l7.2 9.5h-14.4zM378.2 1102.0l7.2 9.5h-14.4zM379.2 1097.9l7.2 9.5h-14.4zM378.3 1093.2l7.2 9.5h-14.4zM379.3 1090.0l7.2 9.5h-14.4zM379.4 1084.8l7.2 9.5h-14.4zM377.8 1079.4l7.2 9.5h-14.4zM378.6 1075.6l7.2 9.5h-14.4zM379.3 1071.7l7.2 9.5h-14.4zM377.7 1068.1l7.2 9.5h-14.4zM377.8 1063.7l7.2 9.5h-14.4zM378.9 1060.6l7.2 9.5h-14.4zM477.1 1105.6l7.2 9.5h-14.4zM477.1 1102.4l7.2 9.5h-14.4zM476.6 1097.8l7.2 9.5h-14.4zM476.3 1094.2l7.2 9.5h-14.4zM476.7 1089.7l7.2 9.5h-14.4zM477.3 1084.9l7.2 9.5h-14.4zM477.2 1081.1l7.2 9.5h-14.4zM477.5 1077.3l7.2 9.5h-14.4zM477.2 1073.7l7.2 9.5h-14.4zM477.6 1068.5l7.2 9.5h-14.4zM559.6 1056.9l7.2 9.5h-14.4zM539.7 1062.1l7.2 9.5h-14.4zM550.6 1054.0l7.2 9.5h-14.4zM518.9 1068.1l7.2 9.5h-14.4zM584.9 1061.1l7.2 9.5h-14.4zM556.0 1049.0l7.2 9.5h-14.4zM513.1 1068.4l7.2 9.5h-14.4zM550.6 1034.5l7.2 9.5h-14.4zM549.5 1047.0l7.2 9.5h-14.4zM584.5 1056.0l7.2 9.5h-14.4zM584.0 1060.8l7.2 9.5h-14.4zM568.9 1062.0l7.2 9.5h-14.4zM545.8 1055.1l7.2 9.5h-14.4zM583.0 1063.3l7.2 9.5h-14.4zM566.1 1052.7l7.2 9.5h-14.4zM546.3 1055.3l7.2 9.5h-14.4zM513.3 1064.3l7.2 9.5h-14.4zM524.2 1066.8l7.2 9.5h-14.4zM558.9 1054.0l7.2 9.5h-14.4zM534.8 1063.0l7.2 9.5h-14.4zM517.1 1065.0l7.2 9.5h-14.4zM582.0 1070.8l7.2 9.5h-14.4zM518.8 1068.5l7.2 9.5h-14.4zM530.6 1066.1l7.2 9.5h-14.4zM548.9 1048.9l7.2 9.5h-14.4zM556.6 1049.4l7.2 9.5h-14.4zM565.2 1052.4l7.2 9.5h-14.4zM558.8 1052.4l7.2 9.5h-14.4zM540.8 1053.4l7.2 9.5h-14.4zM589.6 1066.4l7.2 9.5h-14.4zM542.3 1039.5l7.2 9.5h-14.4zM521.4 1061.8l7.2 9.5h-14.4zM530.3 1069.3l7.2 9.5h-14.4zM539.8 1055.5l7.2 9.5h-14.4zM587.3 1069.3l7.2 9.5h-14.4zM503.5 1062.9l7.2 9.5h-14.4zM588.8 1068.3l7.2 9.5h-14.4zM500.0 1071.3l7.2 9.5h-14.4zM532.8 1062.9l7.2 9.5h-14.4zM532.1 1060.7l7.2 9.5h-14.4zM526.5 1063.8l7.2 9.5h-14.4zM514.8 1065.3l7.2 9.5h-14.4zM552.4 1044.8l7.2 9.5h-14.4zM517.7 1050.5l7.2 9.5h-14.4zM526.4 1063.8l7.2 9.5h-14.4zM517.5 1056.6l7.2 9.5h-14.4zM549.9 1044.0l7.2 9.5h-14.4zM538.7 1062.4l7.2 9.5h-14.4zM567.5 1056.8l7.2 9.5h-14.4zM508.1 1066.7l7.2 9.5h-14.4zM533.2 1050.6l7.2 9.5h-14.4zM580.9 1065.7l7.2 9.5h-14.4zM564.3 1051.7l7.2 9.5h-14.4zM579.9 1058.9l7.2 9.5h-14.4zM565.4 1054.4l7.2 9.5h-14.4zM583.8 1061.9l7.2 9.5h-14.4zM519.8 1056.5l7.2 9.5h-14.4zM545.3 1055.1l7.2 9.5h-14.4zM534.1 1060.2l7.2 9.5h-14.4zM570.3 1056.1l7.2 9.5h-14.4zM516.3 1065.3l7.2 9.5h-14.4zM538.1 1061.9l7.2 9.5h-14.4zM591.8 1066.5l7.2 9.5h-14.4zM547.1 1055.7l7.2 9.5h-14.4zM500.8 1064.6l7.2 9.5h-14.4zM534.1 1039.7l7.2 9.5h-14.4zM498.9 1066.7l7.2 9.5h-14.4zM568.3 1054.7l7.2 9.5h-14.4zM582.2 1064.1l7.2 9.5h-14.4zM552.2 1050.7l7.2 9.5h-14.4zM526.9 1056.8l7.2 9.5h-14.4zM563.6 1053.5l7.2 9.5h-14.4zM551.5 1033.0l7.2 9.5h-14.4zM529.0 1062.6l7.2 9.5h-14.4zM571.5 1055.3l7.2 9.5h-14.4zM565.0 1046.9l7.2 9.5h-14.4zM499.0 1068.2l7.2 9.5h-14.4zM550.2 1047.5l7.2 9.5h-14.4zM551.8 1040.5l7.2 9.5h-14.4zM569.0 1063.4l7.2 9.5h-14.4zM571.3 1058.4l7.2 9.5h-14.4zM526.1 1049.3l7.2 9.5h-14.4zM504.0 1064.0l7.2 9.5h-14.4zM554.9 1055.5l7.2 9.5h-14.4zM543.7 1047.9l7.2 9.5h-14.4zM582.7 1064.0l7.2 9.5h-14.4zM539.0 1048.8l7.2 9.5h-14.4zM548.7 1050.2l7.2 9.5h-14.4zM523.2 1062.8l7.2 9.5h-14.4zM504.6 1061.8l7.2 9.5h-14.4zM561.1 1061.7l7.2 9.5h-14.4zM527.7 1065.9l7.2 9.5h-14.4zM525.3 1059.3l7.2 9.5h-14.4zM585.9 1063.8l7.2 9.5h-14.4zM582.2 1059.4l7.2 9.5h-14.4zM559.1 1054.8l7.2 9.5h-14.4zM523.7 1065.2l7.2 9.5h-14.4zM578.7 1065.6l7.2 9.5h-14.4zM551.8 1041.2l7.2 9.5h-14.4zM580.5 1053.2l7.2 9.5h-14.4zM536.3 1047.2l7.2 9.5h-14.4zM548.3 1046.6l7.2 9.5h-14.4zM547.1 1047.0l7.2 9.5h-14.4zM533.6 1066.9l7.2 9.5h-14.4zM576.5 1063.2l7.2 9.5h-14.4zM570.0 1061.2l7.2 9.5h-14.4zM586.0 1070.8l7.2 9.5h-14.4zM573.9 1061.2l7.2 9.5h-14.4zM567.7 1053.0l7.2 9.5h-14.4zM548.2 1055.5l7.2 9.5h-14.4zM548.8 1051.7l7.2 9.5h-14.4zM498.2 1062.4l7.2 9.5h-14.4zM566.4 1065.9l7.2 9.5h-14.4zM522.6 1065.0l7.2 9.5h-14.4zM551.0 1048.8l7.2 9.5h-14.4zM567.6 1060.8l7.2 9.5h-14.4zM587.0 1062.3l7.2 9.5h-14.4zM559.8 1058.0l7.2 9.5h-14.4zM532.4 1059.6l7.2 9.5h-14.4zM514.4 1063.8l7.2 9.5h-14.4zM509.0 1054.7l7.2 9.5h-14.4zM556.1 1058.3l7.2 9.5h-14.4zM591.6 1060.5l7.2 9.5h-14.4zM561.0 1055.1l7.2 9.5h-14.4zM518.2 1070.5l7.2 9.5h-14.4zM555.4 1049.2l7.2 9.5h-14.4zM535.9 1058.2l7.2 9.5h-14.4zM560.3 1057.6l7.2 9.5h-14.4zM525.3 1061.4l7.2 9.5h-14.4zM501.0 1062.7l7.2 9.5h-14.4zM538.1 1064.1l7.2 9.5h-14.4zM501.3 1043.6l7.2 9.5h-14.4zM577.1 1061.4l7.2 9.5h-14.4zM556.0 1047.9l7.2 9.5h-14.4zM509.8 1064.6l7.2 9.5h-14.4zM592.9 1072.6l7.2 9.5h-14.4zM530.2 1060.6l7.2 9.5h-14.4zM536.8 1049.1l7.2 9.5h-14.4zM538.1 1050.6l7.2 9.5h-14.4zM575.5 1060.1l7.2 9.5h-14.4zM566.6 1055.7l7.2 9.5h-14.4zM593.3 1075.0l7.2 9.5h-14.4zM566.6 1055.7l7.2 9.5h-14.4zM569.3 1064.5l7.2 9.5h-14.4zM580.6 1066.5l7.2 9.5h-14.4zM564.2 1059.8l7.2 9.5h-14.4zM543.8 1058.3l7.2 9.5h-14.4zM569.7 1062.0l7.2 9.5h-14.4zM577.6 1069.2l7.2 9.5h-14.4zM531.0 1065.5l7.2 9.5h-14.4zM552.4 1047.2l7.2 9.5h-14.4zM537.7 1056.6l7.2 9.5h-14.4zM566.3 1057.7l7.2 9.5h-14.4zM585.2 1063.8l7.2 9.5h-14.4zM578.4 1066.4l7.2 9.5h-14.4zM536.0 1052.5l7.2 9.5h-14.4zM518.9 1067.6l7.2 9.5h-14.4zM550.3 1049.4l7.2 9.5h-14.4zM503.1 1069.0l7.2 9.5h-14.4zM525.0 1063.6l7.2 9.5h-14.4zM587.6 1057.1l7.2 9.5h-14.4zM528.9 1067.8l7.2 9.5h-14.4zM584.7 1055.8l7.2 9.5h-14.4zM562.7 1063.1l7.2 9.5h-14.4zM513.3 1060.3l7.2 9.5h-14.4zM500.7 1060.7l7.2 9.5h-14.4zM582.7 1068.0l7.2 9.5h-14.4zM539.2 1060.2l7.2 9.5h-14.4zM527.0 1062.2l7.2 9.5h-14.4zM587.3 1064.6l7.2 9.5h-14.4zM533.2 1060.6l7.2 9.5h-14.4zM569.7 1063.6l7.2 9.5h-14.4zM510.0 1064.5l7.2 9.5h-14.4zM541.7 1048.9l7.2 9.5h-14.4zM538.6 1037.6l7.2 9.5h-14.4zM515.3 1065.6l7.2 9.5h-14.4zM566.9 1060.7l7.2 9.5h-14.4zM529.2 1053.9l7.2 9.5h-14.4zM574.3 1064.7l7.2 9.5h-14.4zM542.4 1044.6l7.2 9.5h-14.4zM588.8 1066.4l7.2 9.5h-14.4zM551.2 1050.8l7.2 9.5h-14.4zM578.8 1067.3l7.2 9.5h-14.4zM547.8 1047.6l7.2 9.5h-14.4zM584.8 1047.4l7.2 9.5h-14.4zM552.2 1049.8l7.2 9.5h-14.4zM496.6 1105.6l7.2 9.5h-14.4zM496.7 1102.3l7.2 9.5h-14.4zM496.7 1098.2l7.2 9.5h-14.4zM496.2 1095.0l7.2 9.5h-14.4zM497.0 1089.2l7.2 9.5h-14.4zM496.8 1085.5l7.2 9.5h-14.4zM496.9 1081.4l7.2 9.5h-14.4zM497.4 1077.9l7.2 9.5h-14.4zM497.2 1072.1l7.2 9.5h-14.4zM594.2 1105.6l7.2 9.5h-14.4zM593.6 1101.0l7.2 9.5h-14.4zM593.3 1095.9l7.2 9.5h-14.4zM593.5 1092.7l7.2 9.5h-14.4zM593.9 1087.2l7.2 9.5h-14.4zM594.3 1084.1l7.2 9.5h-14.4zM593.6 1081.0l7.2 9.5h-14.4zM593.2 1077.4l7.2 9.5h-14.4zM593.8 1073.8l7.2 9.5h-14.4zM594.4 1068.6l7.2 9.5h-14.4zM658.9 1059.1l7.2 9.5h-14.4zM635.5 1069.1l7.2 9.5h-14.4zM614.2 1059.2l7.2 9.5h-14.4zM680.1 1054.3l7.2 9.5h-14.4zM620.9 1062.7l7.2 9.5h-14.4zM665.6 1061.7l7.2 9.5h-14.4zM614.5 1058.2l7.2 9.5h-14.4zM626.0 1069.3l7.2 9.5h-14.4zM693.5 1046.1l7.2 9.5h-14.4zM625.1 1059.7l7.2 9.5h-14.4zM628.7 1058.1l7.2 9.5h-14.4zM688.5 1037.7l7.2 9.5h-14.4zM626.2 1056.2l7.2 9.5h-14.4zM641.1 1059.7l7.2 9.5h-14.4zM645.4 1062.6l7.2 9.5h-14.4zM695.1 1048.0l7.2 9.5h-14.4zM632.0 1067.0l7.2 9.5h-14.4zM672.1 1067.5l7.2 9.5h-14.4zM662.5 1062.6l7.2 9.5h-14.4zM646.3 1063.6l7.2 9.5h-14.4zM667.3 1060.5l7.2 9.5h-14.4zM666.1 1069.5l7.2 9.5h-14.4zM646.6 1050.8l7.2 9.5h-14.4zM619.5 1061.1l7.2 9.5h-14.4zM668.4 1064.9l7.2 9.5h-14.4zM639.1 1057.0l7.2 9.5h-14.4zM629.2 1058.3l7.2 9.5h-14.4zM621.5 1065.4l7.2 9.5h-14.4zM690.1 1042.8l7.2 9.5h-14.4zM612.7 1064.8l7.2 9.5h-14.4zM656.4 1051.6l7.2 9.5h-14.4zM664.2 1068.8l7.2 9.5h-14.4zM619.5 1064.5l7.2 9.5h-14.4zM694.3 1047.3l7.2 9.5h-14.4zM636.9 1061.1l7.2 9.5h-14.4zM653.3 1059.0l7.2 9.5h-14.4zM643.6 1057.9l7.2 9.5h-14.4zM693.4 1041.0l7.2 9.5h-14.4zM621.2 1062.6l7.2 9.5h-14.4zM678.0 1048.6l7.2 9.5h-14.4zM612.9 1058.7l7.2 9.5h-14.4zM640.2 1059.1l7.2 9.5h-14.4zM644.1 1060.4l7.2 9.5h-14.4zM687.2 1051.7l7.2 9.5h-14.4zM649.6 1042.2l7.2 9.5h-14.4zM688.6 1031.1l7.2 9.5h-14.4zM676.4 1063.9l7.2 9.5h-14.4zM664.6 1067.3l7.2 9.5h-14.4zM669.8 1065.2l7.2 9.5h-14.4zM645.1 1060.5l7.2 9.5h-14.4zM690.6 1046.6l7.2 9.5h-14.4zM679.3 1055.6l7.2 9.5h-14.4zM645.5 1058.0l7.2 9.5h-14.4zM617.4 1047.6l7.2 9.5h-14.4zM643.1 1052.7l7.2 9.5h-14.4zM688.1 1049.9l7.2 9.5h-14.4zM649.4 1060.9l7.2 9.5h-14.4zM686.8 1043.0l7.2 9.5h-14.4zM694.8 1053.1l7.2 9.5h-14.4zM641.1 1061.7l7.2 9.5h-14.4zM695.0 1035.0l7.2 9.5h-14.4zM695.5 1044.1l7.2 9.5h-14.4zM662.3 1063.4l7.2 9.5h-14.4zM671.9 1064.1l7.2 9.5h-14.4zM612.5 1061.4l7.2 9.5h-14.4zM621.5 1064.9l7.2 9.5h-14.4zM618.8 1049.2l7.2 9.5h-14.4zM642.7 1066.5l7.2 9.5h-14.4zM627.8 1065.9l7.2 9.5h-14.4zM688.2 1040.3l7.2 9.5h-14.4zM660.5 1069.4l7.2 9.5h-14.4zM675.0 1067.0l7.2 9.5h-14.4zM625.4 1062.0l7.2 9.5h-14.4zM659.4 1064.7l7.2 9.5h-14.4zM633.3 1063.2l7.2 9.5h-14.4zM677.9 1060.6l7.2 9.5h-14.4zM667.1 1062.9l7.2 9.5h-14.4zM646.1 1058.5l7.2 9.5h-14.4zM650.4 1056.5l7.2 9.5h-14.4zM691.2 1048.6l7.2 9.5h-14.4zM642.8 1061.6l7.2 9.5h-14.4zM656.4 1055.7l7.2 9.5h-14.4zM677.5 1062.0l7.2 9.5h-14.4zM624.0 1067.9l7.2 9.5h-14.4zM614.5 1062.1l7.2 9.5h-14.4zM666.9 1063.0l7.2 9.5h-14.4zM672.1 1058.8l7.2 9.5h-14.4zM657.4 1059.1l7.2 9.5h-14.4zM654.3 1045.6l7.2 9.5h-14.4zM675.5 1056.0l7.2 9.5h-14.4zM657.8 1044.4l7.2 9.5h-14.4zM636.8 1055.6l7.2 9.5h-14.4zM689.9 1043.0l7.2 9.5h-14.4zM651.1 1058.1l7.2 9.5h-14.4zM683.3 1062.0l7.2 9.5h-14.4zM640.3 1062.8l7.2 9.5h-14.4zM638.0 1056.8l7.2 9.5h-14.4zM684.6 1059.6l7.2 9.5h-14.4zM683.7 1052.4l7.2 9.5h-14.4zM627.6 1059.3l7.2 9.5h-14.4zM674.3 1055.3l7.2 9.5h-14.4zM649.0 1064.3l7.2 9.5h-14.4zM670.3 1067.6l7.2 9.5h-14.4zM685.4 1058.7l7.2 9.5h-14.4zM634.8 1062.6l7.2 9.5h-14.4zM675.2 1067.4l7.2 9.5h-14.4zM648.4 1065.7l7.2 9.5h-14.4zM639.4 1059.9l7.2 9.5h-14.4zM637.2 1062.6l7.2 9.5h-14.4zM660.6 1061.3l7.2 9.5h-14.4zM686.1 1054.5l7.2 9.5h-14.4zM686.7 1052.2l7.2 9.5h-14.4zM630.4 1066.2l7.2 9.5h-14.4zM694.3 1032.7l7.2 9.5h-14.4zM665.0 1064.0l7.2 9.5h-14.4zM635.5 1038.2l7.2 9.5h-14.4zM650.7 1066.1l7.2 9.5h-14.4zM619.1 1054.1l7.2 9.5h-14.4zM631.7 1065.6l7.2 9.5h-14.4zM691.8 1046.9l7.2 9.5h-14.4zM674.1 1066.8l7.2 9.5h-14.4zM692.7 1036.6l7.2 9.5h-14.4zM677.2 1058.8l7.2 9.5h-14.4zM660.3 1067.1l7.2 9.5h-14.4zM660.5 1065.2l7.2 9.5h-14.4zM627.2 1066.3l7.2 9.5h-14.4zM686.9 1034.5l7.2 9.5h-14.4zM633.9 1064.1l7.2 9.5h-14.4zM650.4 1061.8l7.2 9.5h-14.4zM689.7 1052.9l7.2 9.5h-14.4zM686.4 1055.0l7.2 9.5h-14.4zM693.5 1052.3l7.2 9.5h-14.4zM691.7 1047.6l7.2 9.5h-14.4zM624.7 1057.1l7.2 9.5h-14.4zM661.4 1065.4l7.2 9.5h-14.4zM655.2 1060.0l7.2 9.5h-14.4zM640.0 1048.7l7.2 9.5h-14.4zM653.3 1064.8l7.2 9.5h-14.4zM615.7 1057.6l7.2 9.5h-14.4zM644.7 1059.9l7.2 9.5h-14.4zM648.5 1060.4l7.2 9.5h-14.4zM672.1 1069.1l7.2 9.5h-14.4zM646.4 1064.6l7.2 9.5h-14.4zM643.4 1057.1l7.2 9.5h-14.4zM626.9 1053.5l7.2 9.5h-14.4zM648.3 1055.1l7.2 9.5h-14.4zM624.6 1058.4l7.2 9.5h-14.4zM638.6 1053.5l7.2 9.5h-14.4zM649.3 1058.8l7.2 9.5h-14.4zM635.4 1043.5l7.2 9.5h-14.4zM634.2 1063.5l7.2 9.5h-14.4zM657.1 1064.5l7.2 9.5h-14.4zM633.0 1065.6l7.2 9.5h-14.4zM686.4 1052.1l7.2 9.5h-14.4zM651.2 1062.1l7.2 9.5h-14.4zM690.5 1053.0l7.2 9.5h-14.4zM686.2 1050.3l7.2 9.5h-14.4zM621.9 1065.5l7.2 9.5h-14.4zM643.9 1065.2l7.2 9.5h-14.4zM625.1 1065.5l7.2 9.5h-14.4zM654.6 1063.5l7.2 9.5h-14.4zM640.1 1061.9l7.2 9.5h-14.4zM679.0 1051.8l7.2 9.5h-14.4zM634.5 1062.2l7.2 9.5h-14.4zM612.5 1105.6l7.2 9.5h-14.4zM610.8 1101.3l7.2 9.5h-14.4zM610.8 1098.1l7.2 9.5h-14.4zM611.3 1093.4l7.2 9.5h-14.4zM612.5 1090.3l7.2 9.5h-14.4zM611.4 1087.1l7.2 9.5h-14.4zM612.1 1081.8l7.2 9.5h-14.4zM612.6 1078.2l7.2 9.5h-14.4zM612.3 1073.8l7.2 9.5h-14.4zM612.0 1069.5l7.2 9.5h-14.4zM610.8 1063.7l7.2 9.5h-14.4zM695.8 1105.6l7.2 9.5h-14.4zM695.8 1099.7l7.2 9.5h-14.4zM694.9 1095.9l7.2 9.5h-14.4zM694.9 1091.3l7.2 9.5h-14.4zM696.5 1087.2l7.2 9.5h-14.4zM695.0 1083.7l7.2 9.5h-14.4zM695.6 1078.6l7.2 9.5h-14.4zM695.3 1072.9l7.2 9.5h-14.4zM695.4 1067.6l7.2 9.5h-14.4zM696.4 1061.7l7.2 9.5h-14.4zM695.3 1058.1l7.2 9.5h-14.4zM695.5 1053.7l7.2 9.5h-14.4zM770.4 1057.7l7.2 9.5h-14.4zM732.6 1063.4l7.2 9.5h-14.4zM764.0 1061.2l7.2 9.5h-14.4zM737.0 1044.3l7.2 9.5h-14.4zM786.1 1062.5l7.2 9.5h-14.4zM778.5 1070.1l7.2 9.5h-14.4zM776.7 1058.4l7.2 9.5h-14.4zM766.3 1061.7l7.2 9.5h-14.4zM722.1 1061.3l7.2 9.5h-14.4zM717.3 1052.4l7.2 9.5h-14.4zM727.9 1058.9l7.2 9.5h-14.4zM765.3 1055.5l7.2 9.5h-14.4zM747.8 1038.3l7.2 9.5h-14.4zM743.9 1049.1l7.2 9.5h-14.4zM724.7 1054.1l7.2 9.5h-14.4zM795.1 1070.6l7.2 9.5h-14.4zM742.7 1042.2l7.2 9.5h-14.4zM794.9 1071.2l7.2 9.5h-14.4zM739.2 1057.3l7.2 9.5h-14.4zM722.6 1051.4l7.2 9.5h-14.4zM716.2 1055.3l7.2 9.5h-14.4zM766.1 1053.4l7.2 9.5h-14.4zM788.3 1062.3l7.2 9.5h-14.4zM712.5 1057.1l7.2 9.5h-14.4zM786.4 1065.8l7.2 9.5h-14.4zM729.6 1052.7l7.2 9.5h-14.4zM751.3 1046.0l7.2 9.5h-14.4zM731.1 1056.2l7.2 9.5h-14.4zM773.3 1056.3l7.2 9.5h-14.4zM716.2 1051.7l7.2 9.5h-14.4zM783.6 1053.7l7.2 9.5h-14.4zM756.1 1050.6l7.2 9.5h-14.4zM757.6 1055.5l7.2 9.5h-14.4zM736.9 1058.3l7.2 9.5h-14.4zM716.1 1056.6l7.2 9.5h-14.4zM784.1 1068.2l7.2 9.5h-14.4zM778.2 1050.4l7.2 9.5h-14.4zM739.7 1057.2l7.2 9.5h-14.4zM774.3 1067.6l7.2 9.5h-14.4zM766.4 1050.8l7.2 9.5h-14.4zM782.8 1055.3l7.2 9.5h-14.4zM782.8 1069.8l7.2 9.5h-14.4zM782.3 1055.7l7.2 9.5h-14.4zM728.4 1056.3l7.2 9.5h-14.4zM744.0 1040.6l7.2 9.5h-14.4zM725.7 1063.9l7.2 9.5h-14.4zM759.9 1063.0l7.2 9.5h-14.4zM727.4 1065.6l7.2 9.5h-14.4zM781.7 1068.3l7.2 9.5h-14.4zM791.5 1044.4l7.2 9.5h-14.4zM782.7 1053.5l7.2 9.5h-14.4zM771.9 1059.9l7.2 9.5h-14.4zM762.4 1054.0l7.2 9.5h-14.4zM789.8 1059.8l7.2 9.5h-14.4zM727.6 1060.4l7.2 9.5h-14.4zM712.3 1063.5l7.2 9.5h-14.4zM794.2 1066.1l7.2 9.5h-14.4zM721.4 1061.1l7.2 9.5h-14.4zM738.0 1056.0l7.2 9.5h-14.4zM750.4 1053.1l7.2 9.5h-14.4zM727.0 1058.0l7.2 9.5h-14.4zM717.4 1060.5l7.2 9.5h-14.4zM775.1 1061.4l7.2 9.5h-14.4zM755.3 1055.3l7.2 9.5h-14.4zM784.2 1064.4l7.2 9.5h-14.4zM781.7 1060.2l7.2 9.5h-14.4zM740.3 1038.9l7.2 9.5h-14.4zM795.3 1060.7l7.2 9.5h-14.4zM726.3 1058.4l7.2 9.5h-14.4zM720.3 1058.9l7.2 9.5h-14.4zM768.2 1055.2l7.2 9.5h-14.4zM726.9 1065.6l7.2 9.5h-14.4zM732.8 1055.9l7.2 9.5h-14.4zM744.6 1042.9l7.2 9.5h-14.4zM755.1 1056.2l7.2 9.5h-14.4zM724.0 1054.9l7.2 9.5h-14.4zM794.4 1063.4l7.2 9.5h-14.4zM731.0 1054.8l7.2 9.5h-14.4zM759.7 1057.3l7.2 9.5h-14.4zM751.3 1042.5l7.2 9.5h-14.4zM716.2 1052.0l7.2 9.5h-14.4zM715.2 1057.3l7.2 9.5h-14.4zM748.0 1053.6l7.2 9.5h-14.4zM716.2 1056.6l7.2 9.5h-14.4zM732.6 1043.9l7.2 9.5h-14.4zM750.4 1039.2l7.2 9.5h-14.4zM731.7 1063.7l7.2 9.5h-14.4zM782.1 1062.5l7.2 9.5h-14.4zM790.0 1062.7l7.2 9.5h-14.4zM747.4 1044.7l7.2 9.5h-14.4zM779.7 1055.7l7.2 9.5h-14.4zM786.3 1060.1l7.2 9.5h-14.4zM769.1 1066.8l7.2 9.5h-14.4zM787.6 1067.0l7.2 9.5h-14.4zM716.1 1055.5l7.2 9.5h-14.4zM789.4 1065.2l7.2 9.5h-14.4zM776.1 1062.5l7.2 9.5h-14.4zM793.9 1071.7l7.2 9.5h-14.4zM721.5 1061.1l7.2 9.5h-14.4zM716.3 1049.5l7.2 9.5h-14.4zM779.1 1061.2l7.2 9.5h-14.4zM778.7 1058.1l7.2 9.5h-14.4zM719.9 1053.5l7.2 9.5h-14.4zM749.8 1052.4l7.2 9.5h-14.4zM785.1 1064.1l7.2 9.5h-14.4zM716.7 1054.5l7.2 9.5h-14.4zM773.2 1051.7l7.2 9.5h-14.4zM784.7 1062.0l7.2 9.5h-14.4zM764.2 1062.6l7.2 9.5h-14.4zM779.7 1067.4l7.2 9.5h-14.4zM787.0 1063.0l7.2 9.5h-14.4zM767.1 1056.7l7.2 9.5h-14.4zM764.1 1063.4l7.2 9.5h-14.4zM762.5 1054.2l7.2 9.5h-14.4zM715.2 1057.4l7.2 9.5h-14.4zM725.1 1059.4l7.2 9.5h-14.4zM724.0 1059.9l7.2 9.5h-14.4zM788.9 1058.4l7.2 9.5h-14.4zM745.0 1040.0l7.2 9.5h-14.4zM771.7 1058.0l7.2 9.5h-14.4zM713.1 1056.8l7.2 9.5h-14.4zM768.0 1061.5l7.2 9.5h-14.4zM772.8 1067.6l7.2 9.5h-14.4zM743.3 1050.3l7.2 9.5h-14.4zM740.7 1051.1l7.2 9.5h-14.4zM760.0 1056.3l7.2 9.5h-14.4zM721.2 1053.5l7.2 9.5h-14.4zM775.7 1053.1l7.2 9.5h-14.4zM747.6 1048.6l7.2 9.5h-14.4zM716.6 1054.5l7.2 9.5h-14.4zM762.8 1046.2l7.2 9.5h-14.4zM757.6 1053.1l7.2 9.5h-14.4zM728.2 1056.2l7.2 9.5h-14.4zM768.9 1066.9l7.2 9.5h-14.4zM732.5 1058.3l7.2 9.5h-14.4zM773.3 1061.2l7.2 9.5h-14.4zM755.5 1049.6l7.2 9.5h-14.4zM757.1 1059.7l7.2 9.5h-14.4zM747.8 1046.4l7.2 9.5h-14.4zM755.3 1059.1l7.2 9.5h-14.4zM718.3 1053.4l7.2 9.5h-14.4zM729.0 1055.3l7.2 9.5h-14.4zM765.4 1061.0l7.2 9.5h-14.4zM740.8 1048.7l7.2 9.5h-14.4zM770.0 1041.1l7.2 9.5h-14.4zM769.4 1055.4l7.2 9.5h-14.4zM716.2 1054.9l7.2 9.5h-14.4zM763.5 1053.1l7.2 9.5h-14.4zM780.0 1059.6l7.2 9.5h-14.4zM731.5 1062.7l7.2 9.5h-14.4zM785.8 1064.7l7.2 9.5h-14.4zM753.7 1043.9l7.2 9.5h-14.4zM771.7 1063.5l7.2 9.5h-14.4zM784.1 1067.8l7.2 9.5h-14.4zM792.2 1067.9l7.2 9.5h-14.4zM735.4 1054.9l7.2 9.5h-14.4zM723.7 1059.8l7.2 9.5h-14.4zM749.5 1049.7l7.2 9.5h-14.4zM758.6 1057.1l7.2 9.5h-14.4zM791.6 1067.4l7.2 9.5h-14.4zM734.5 1053.8l7.2 9.5h-14.4zM715.8 1057.4l7.2 9.5h-14.4zM747.5 1041.3l7.2 9.5h-14.4zM766.9 1046.9l7.2 9.5h-14.4zM753.4 1052.8l7.2 9.5h-14.4zM733.8 1052.6l7.2 9.5h-14.4zM712.7 1105.6l7.2 9.5h-14.4zM711.3 1102.0l7.2 9.5h-14.4zM710.9 1097.1l7.2 9.5h-14.4zM711.4 1093.5l7.2 9.5h-14.4zM712.3 1088.6l7.2 9.5h-14.4zM711.3 1083.8l7.2 9.5h-14.4zM712.7 1079.1l7.2 9.5h-14.4zM710.9 1075.0l7.2 9.5h-14.4zM711.6 1071.9l7.2 9.5h-14.4zM712.6 1066.0l7.2 9.5h-14.4zM711.2 1060.9l7.2 9.5h-14.4zM795.8 1105.6l7.2 9.5h-14.4zM796.9 1101.3l7.2 9.5h-14.4zM796.4 1098.2l7.2 9.5h-14.4zM796.6 1094.5l7.2 9.5h-14.4zM796.9 1089.2l7.2 9.5h-14.4zM797.2 1085.1l7.2 9.5h-14.4zM796.0 1082.1l7.2 9.5h-14.4zM796.8 1078.7l7.2 9.5h-14.4zM796.6 1074.2l7.2 9.5h-14.4zM795.6 1071.0l7.2 9.5h-14.4zM820.4 1054.2l7.2 9.5h-14.4zM870.3 1041.0l7.2 9.5h-14.4zM852.4 1044.5l7.2 9.5h-14.4zM882.4 1068.0l7.2 9.5h-14.4zM820.0 1065.7l7.2 9.5h-14.4zM821.9 1067.9l7.2 9.5h-14.4zM846.6 1060.7l7.2 9.5h-14.4zM832.5 1052.7l7.2 9.5h-14.4zM839.7 1047.9l7.2 9.5h-14.4zM896.2 1063.9l7.2 9.5h-14.4zM830.0 1047.0l7.2 9.5h-14.4zM837.8 1053.3l7.2 9.5h-14.4zM866.7 1058.0l7.2 9.5h-14.4zM886.8 1064.8l7.2 9.5h-14.4zM894.8 1069.9l7.2 9.5h-14.4zM861.7 1053.3l7.2 9.5h-14.4zM880.0 1036.2l7.2 9.5h-14.4zM830.0 1059.6l7.2 9.5h-14.4zM830.5 1062.3l7.2 9.5h-14.4zM865.3 1055.3l7.2 9.5h-14.4zM894.3 1055.0l7.2 9.5h-14.4zM897.7 1067.0l7.2 9.5h-14.4zM853.8 1043.5l7.2 9.5h-14.4zM892.4 1060.0l7.2 9.5h-14.4zM853.8 1052.6l7.2 9.5h-14.4zM867.1 1057.0l7.2 9.5h-14.4zM843.4 1058.8l7.2 9.5h-14.4zM833.0 1046.3l7.2 9.5h-14.4zM876.4 1059.6l7.2 9.5h-14.4zM879.3 1064.5l7.2 9.5h-14.4zM847.8 1038.1l7.2 9.5h-14.4zM825.5 1059.2l7.2 9.5h-14.4zM827.1 1062.4l7.2 9.5h-14.4zM854.8 1053.1l7.2 9.5h-14.4zM820.9 1057.7l7.2 9.5h-14.4zM862.4 1057.9l7.2 9.5h-14.4zM856.0 1058.1l7.2 9.5h-14.4zM857.8 1055.6l7.2 9.5h-14.4zM824.4 1060.7l7.2 9.5h-14.4zM842.2 1057.0l7.2 9.5h-14.4zM878.6 1047.3l7.2 9.5h-14.4zM888.7 1062.7l7.2 9.5h-14.4zM866.1 1035.2l7.2 9.5h-14.4zM855.1 1057.0l7.2 9.5h-14.4zM882.8 1061.6l7.2 9.5h-14.4zM819.8 1063.3l7.2 9.5h-14.4zM844.1 1061.2l7.2 9.5h-14.4zM890.8 1068.4l7.2 9.5h-14.4zM842.7 1052.1l7.2 9.5h-14.4zM887.3 1056.1l7.2 9.5h-14.4zM867.2 1053.5l7.2 9.5h-14.4zM874.2 1062.3l7.2 9.5h-14.4zM892.7 1059.4l7.2 9.5h-14.4zM829.5 1057.6l7.2 9.5h-14.4zM859.6 1044.4l7.2 9.5h-14.4zM895.7 1072.5l7.2 9.5h-14.4zM843.5 1060.7l7.2 9.5h-14.4zM856.9 1057.3l7.2 9.5h-14.4zM897.5 1071.2l7.2 9.5h-14.4zM825.9 1059.1l7.2 9.5h-14.4zM880.1 1060.0l7.2 9.5h-14.4zM885.4 1062.4l7.2 9.5h-14.4zM823.7 1063.6l7.2 9.5h-14.4zM820.9 1067.1l7.2 9.5h-14.4zM847.5 1043.6l7.2 9.5h-14.4zM834.4 1063.3l7.2 9.5h-14.4zM875.0 1060.4l7.2 9.5h-14.4zM874.9 1059.3l7.2 9.5h-14.4zM851.4 1045.1l7.2 9.5h-14.4zM864.8 1040.9l7.2 9.5h-14.4zM860.4 1052.3l7.2 9.5h-14.4zM890.3 1063.3l7.2 9.5h-14.4zM831.7 1061.6l7.2 9.5h-14.4zM856.9 1048.1l7.2 9.5h-14.4zM836.0 1054.8l7.2 9.5h-14.4zM865.6 1051.7l7.2 9.5h-14.4zM869.2 1061.0l7.2 9.5h-14.4zM865.9 1045.9l7.2 9.5h-14.4zM823.2 1059.2l7.2 9.5h-14.4zM861.9 1056.3l7.2 9.5h-14.4zM870.0 1051.1l7.2 9.5h-14.4zM891.4 1060.8l7.2 9.5h-14.4zM867.2 1042.0l7.2 9.5h-14.4zM872.7 1051.8l7.2 9.5h-14.4zM839.0 1058.3l7.2 9.5h-14.4zM856.7 1056.6l7.2 9.5h-14.4zM886.1 1066.1l7.2 9.5h-14.4zM837.4 1055.2l7.2 9.5h-14.4zM876.3 1057.2l7.2 9.5h-14.4zM880.5 1062.7l7.2 9.5h-14.4zM881.4 1060.1l7.2 9.5h-14.4zM852.2 1057.0l7.2 9.5h-14.4zM819.6 1068.5l7.2 9.5h-14.4zM865.5 1057.8l7.2 9.5h-14.4zM828.1 1060.5l7.2 9.5h-14.4zM879.3 1057.9l7.2 9.5h-14.4zM844.9 1054.6l7.2 9.5h-14.4zM851.0 1044.1l7.2 9.5h-14.4zM866.6 1054.2l7.2 9.5h-14.4zM885.4 1062.8l7.2 9.5h-14.4zM836.6 1056.5l7.2 9.5h-14.4zM836.5 1060.5l7.2 9.5h-14.4zM847.5 1050.2l7.2 9.5h-14.4zM846.0 1060.1l7.2 9.5h-14.4zM840.4 1053.6l7.2 9.5h-14.4zM864.0 1056.9l7.2 9.5h-14.4zM850.2 1053.2l7.2 9.5h-14.4zM893.1 1069.9l7.2 9.5h-14.4zM833.6 1060.2l7.2 9.5h-14.4zM820.1 1063.1l7.2 9.5h-14.4zM831.0 1053.3l7.2 9.5h-14.4zM852.5 1057.9l7.2 9.5h-14.4zM874.5 1054.1l7.2 9.5h-14.4zM867.3 1045.3l7.2 9.5h-14.4zM895.0 1065.7l7.2 9.5h-14.4zM889.9 1066.9l7.2 9.5h-14.4zM876.6 1054.3l7.2 9.5h-14.4zM848.8 1048.5l7.2 9.5h-14.4zM844.9 1059.1l7.2 9.5h-14.4zM822.1 1055.2l7.2 9.5h-14.4zM857.4 1050.4l7.2 9.5h-14.4zM880.6 1061.0l7.2 9.5h-14.4zM888.9 1061.7l7.2 9.5h-14.4zM850.9 1058.0l7.2 9.5h-14.4zM880.0 1064.3l7.2 9.5h-14.4zM883.3 1062.0l7.2 9.5h-14.4zM860.2 1058.3l7.2 9.5h-14.4zM846.3 1059.0l7.2 9.5h-14.4zM836.9 1063.2l7.2 9.5h-14.4zM819.3 1055.6l7.2 9.5h-14.4zM822.6 1054.6l7.2 9.5h-14.4zM846.9 1042.5l7.2 9.5h-14.4zM846.1 1044.9l7.2 9.5h-14.4zM865.0 1061.3l7.2 9.5h-14.4zM869.8 1045.5l7.2 9.5h-14.4zM830.1 1064.9l7.2 9.5h-14.4zM822.9 1054.2l7.2 9.5h-14.4zM847.9 1056.6l7.2 9.5h-14.4zM864.7 1055.4l7.2 9.5h-14.4zM827.4 1039.2l7.2 9.5h-14.4zM887.8 1063.8l7.2 9.5h-14.4zM848.8 1047.1l7.2 9.5h-14.4zM830.7 1057.6l7.2 9.5h-14.4zM843.2 1061.0l7.2 9.5h-14.4zM855.6 1045.4l7.2 9.5h-14.4zM844.1 1051.5l7.2 9.5h-14.4zM896.1 1069.1l7.2 9.5h-14.4zM831.8 1059.7l7.2 9.5h-14.4zM854.8 1048.5l7.2 9.5h-14.4zM866.5 1041.6l7.2 9.5h-14.4zM846.1 1037.5l7.2 9.5h-14.4zM898.0 1068.5l7.2 9.5h-14.4zM869.3 1043.9l7.2 9.5h-14.4zM834.6 1059.0l7.2 9.5h-14.4zM860.4 1051.7l7.2 9.5h-14.4zM872.9 1064.1l7.2 9.5h-14.4zM887.9 1060.2l7.2 9.5h-14.4zM892.3 1055.6l7.2 9.5h-14.4zM819.1 1062.6l7.2 9.5h-14.4zM847.1 1057.2l7.2 9.5h-14.4zM817.9 1105.6l7.2 9.5h-14.4zM817.9 1102.3l7.2 9.5h-14.4zM818.3 1097.3l7.2 9.5h-14.4zM817.9 1094.2l7.2 9.5h-14.4zM817.4 1089.1l7.2 9.5h-14.4zM818.7 1085.0l7.2 9.5h-14.4zM817.7 1079.5l7.2 9.5h-14.4zM817.6 1076.3l7.2 9.5h-14.4zM818.6 1070.9l7.2 9.5h-14.4zM817.8 1067.5l7.2 9.5h-14.4zM899.3 1105.6l7.2 9.5h-14.4zM898.4 1101.6l7.2 9.5h-14.4zM899.4 1097.4l7.2 9.5h-14.4zM898.3 1091.6l7.2 9.5h-14.4zM899.1 1086.2l7.2 9.5h-14.4zM899.9 1082.6l7.2 9.5h-14.4zM898.7 1079.6l7.2 9.5h-14.4zM898.9 1075.2l7.2 9.5h-14.4zM898.4 1070.0l7.2 9.5h-14.4zM943.8 1057.6l7.2 9.5h-14.4zM959.3 1058.6l7.2 9.5h-14.4zM991.0 1051.4l7.2 9.5h-14.4zM943.2 1055.4l7.2 9.5h-14.4zM946.8 1056.6l7.2 9.5h-14.4zM937.6 1054.8l7.2 9.5h-14.4zM964.0 1060.4l7.2 9.5h-14.4zM970.6 1054.5l7.2 9.5h-14.4zM982.5 1056.1l7.2 9.5h-14.4zM974.9 1070.1l7.2 9.5h-14.4zM965.3 1057.0l7.2 9.5h-14.4zM968.3 1067.4l7.2 9.5h-14.4zM987.5 1063.6l7.2 9.5h-14.4zM987.3 1058.7l7.2 9.5h-14.4zM974.6 1069.1l7.2 9.5h-14.4zM941.3 1047.7l7.2 9.5h-14.4zM976.8 1052.9l7.2 9.5h-14.4zM986.6 1060.6l7.2 9.5h-14.4zM979.7 1062.3l7.2 9.5h-14.4zM955.2 1045.5l7.2 9.5h-14.4zM977.3 1057.4l7.2 9.5h-14.4zM932.3 1050.2l7.2 9.5h-14.4zM941.2 1054.0l7.2 9.5h-14.4zM971.8 1067.2l7.2 9.5h-14.4zM982.8 1069.4l7.2 9.5h-14.4zM960.8 1061.2l7.2 9.5h-14.4zM981.7 1061.7l7.2 9.5h-14.4zM957.1 1058.7l7.2 9.5h-14.4zM939.1 1060.6l7.2 9.5h-14.4zM980.5 1062.5l7.2 9.5h-14.4zM982.7 1035.0l7.2 9.5h-14.4zM962.7 1055.3l7.2 9.5h-14.4zM970.6 1060.9l7.2 9.5h-14.4zM944.3 1042.2l7.2 9.5h-14.4zM968.3 1056.9l7.2 9.5h-14.4zM931.7 1042.0l7.2 9.5h-14.4zM948.6 1049.5l7.2 9.5h-14.4zM972.2 1063.9l7.2 9.5h-14.4zM930.0 1050.1l7.2 9.5h-14.4zM973.9 1045.3l7.2 9.5h-14.4zM980.0 1064.1l7.2 9.5h-14.4zM966.8 1057.7l7.2 9.5h-14.4zM934.3 1049.1l7.2 9.5h-14.4zM953.9 1045.9l7.2 9.5h-14.4zM937.3 1056.8l7.2 9.5h-14.4zM987.0 1061.0l7.2 9.5h-14.4zM921.9 1055.0l7.2 9.5h-14.4zM957.8 1063.7l7.2 9.5h-14.4zM987.2 1035.3l7.2 9.5h-14.4zM972.5 1064.5l7.2 9.5h-14.4zM939.9 1063.2l7.2 9.5h-14.4zM938.0 1058.4l7.2 9.5h-14.4zM940.1 1061.4l7.2 9.5h-14.4zM939.0 1059.2l7.2 9.5h-14.4zM989.2 1064.3l7.2 9.5h-14.4zM946.9 1058.4l7.2 9.5h-14.4zM922.9 1050.8l7.2 9.5h-14.4zM990.3 1062.3l7.2 9.5h-14.4zM951.1 1058.5l7.2 9.5h-14.4zM959.4 1061.5l7.2 9.5h-14.4zM975.3 1066.6l7.2 9.5h-14.4zM978.0 1065.8l7.2 9.5h-14.4zM977.7 1068.0l7.2 9.5h-14.4zM985.5 1060.5l7.2 9.5h-14.4zM939.9 1059.3l7.2 9.5h-14.4zM970.1 1061.1l7.2 9.5h-14.4zM949.9 1057.4l7.2 9.5h-14.4zM992.0 1057.3l7.2 9.5h-14.4zM965.0 1063.3l7.2 9.5h-14.4zM972.0 1048.2l7.2 9.5h-14.4zM948.0 1058.0l7.2 9.5h-14.4zM926.2 1053.1l7.2 9.5h-14.4zM967.7 1054.5l7.2 9.5h-14.4zM990.7 1058.9l7.2 9.5h-14.4zM940.6 1057.7l7.2 9.5h-14.4zM924.9 1063.2l7.2 9.5h-14.4zM982.6 1054.7l7.2 9.5h-14.4zM955.4 1062.2l7.2 9.5h-14.4zM945.3 1063.8l7.2 9.5h-14.4zM921.1 1055.3l7.2 9.5h-14.4zM982.3 1054.9l7.2 9.5h-14.4zM952.7 1054.2l7.2 9.5h-14.4zM982.7 1063.2l7.2 9.5h-14.4zM947.6 1064.0l7.2 9.5h-14.4zM991.6 1053.5l7.2 9.5h-14.4zM983.9 1065.5l7.2 9.5h-14.4zM977.0 1059.2l7.2 9.5h-14.4zM926.8 1059.2l7.2 9.5h-14.4zM960.6 1058.8l7.2 9.5h-14.4zM969.6 1062.6l7.2 9.5h-14.4zM958.4 1060.7l7.2 9.5h-14.4zM945.3 1059.0l7.2 9.5h-14.4zM954.4 1056.2l7.2 9.5h-14.4zM958.7 1063.9l7.2 9.5h-14.4zM932.4 1060.4l7.2 9.5h-14.4zM979.1 1068.0l7.2 9.5h-14.4zM972.5 1069.6l7.2 9.5h-14.4zM939.1 1055.1l7.2 9.5h-14.4zM959.4 1059.0l7.2 9.5h-14.4zM973.1 1068.9l7.2 9.5h-14.4zM951.1 1054.4l7.2 9.5h-14.4zM950.2 1051.5l7.2 9.5h-14.4zM950.7 1058.8l7.2 9.5h-14.4zM925.6 1057.7l7.2 9.5h-14.4zM919.6 1038.5l7.2 9.5h-14.4zM927.5 1055.5l7.2 9.5h-14.4zM941.0 1050.7l7.2 9.5h-14.4zM981.1 1056.6l7.2 9.5h-14.4zM929.6 1056.3l7.2 9.5h-14.4zM966.4 1058.2l7.2 9.5h-14.4zM936.5 1053.9l7.2 9.5h-14.4zM938.7 1052.8l7.2 9.5h-14.4zM926.9 1059.7l7.2 9.5h-14.4zM921.0 1058.2l7.2 9.5h-14.4zM926.6 1060.7l7.2 9.5h-14.4zM946.2 1060.7l7.2 9.5h-14.4zM936.5 1057.1l7.2 9.5h-14.4zM992.9 1057.9l7.2 9.5h-14.4zM929.4 1055.0l7.2 9.5h-14.4zM987.0 1060.6l7.2 9.5h-14.4zM923.9 1056.3l7.2 9.5h-14.4zM968.0 1061.6l7.2 9.5h-14.4zM922.5 1059.0l7.2 9.5h-14.4zM977.9 1058.0l7.2 9.5h-14.4zM930.0 1049.0l7.2 9.5h-14.4zM964.1 1066.6l7.2 9.5h-14.4zM945.7 1051.4l7.2 9.5h-14.4zM974.0 1062.8l7.2 9.5h-14.4zM948.8 1041.4l7.2 9.5h-14.4zM920.0 1067.5l7.2 9.5h-14.4zM956.2 1064.0l7.2 9.5h-14.4zM991.9 1044.2l7.2 9.5h-14.4zM946.2 1052.6l7.2 9.5h-14.4zM937.4 1054.5l7.2 9.5h-14.4zM991.7 1054.8l7.2 9.5h-14.4zM924.3 1048.0l7.2 9.5h-14.4zM945.9 1055.5l7.2 9.5h-14.4zM944.5 1057.7l7.2 9.5h-14.4zM992.4 1065.1l7.2 9.5h-14.4zM953.9 1053.9l7.2 9.5h-14.4zM979.5 1062.9l7.2 9.5h-14.4zM938.6 1040.8l7.2 9.5h-14.4zM981.3 1065.0l7.2 9.5h-14.4zM938.0 1046.6l7.2 9.5h-14.4zM958.5 1039.8l7.2 9.5h-14.4zM976.8 1063.6l7.2 9.5h-14.4zM940.4 1055.1l7.2 9.5h-14.4zM922.5 1058.8l7.2 9.5h-14.4zM931.0 1058.2l7.2 9.5h-14.4zM976.5 1065.3l7.2 9.5h-14.4zM952.7 1041.3l7.2 9.5h-14.4zM919.9 1105.6l7.2 9.5h-14.4zM918.7 1100.3l7.2 9.5h-14.4zM919.0 1095.4l7.2 9.5h-14.4zM918.9 1092.2l7.2 9.5h-14.4zM919.5 1088.9l7.2 9.5h-14.4zM918.4 1083.6l7.2 9.5h-14.4zM920.0 1079.4l7.2 9.5h-14.4zM920.0 1074.6l7.2 9.5h-14.4zM919.4 1071.4l7.2 9.5h-14.4zM918.6 1065.6l7.2 9.5h-14.4zM994.9 1105.6l7.2 9.5h-14.4zM995.1 1100.3l7.2 9.5h-14.4zM995.7 1095.7l7.2 9.5h-14.4zM996.1 1091.2l7.2 9.5h-14.4zM994.6 1086.8l7.2 9.5h-14.4zM995.6 1082.7l7.2 9.5h-14.4zM995.5 1078.5l7.2 9.5h-14.4zM994.4 1075.5l7.2 9.5h-14.4zM995.2 1070.0l7.2 9.5h-14.4zM995.5 1066.4l7.2 9.5h-14.4zM1029.6 1051.9l7.2 9.5h-14.4zM1047.5 1053.8l7.2 9.5h-14.4zM1015.6 1063.3l7.2 9.5h-14.4zM1057.6 1060.3l7.2 9.5h-14.4zM1060.8 1051.8l7.2 9.5h-14.4zM1019.7 1060.9l7.2 9.5h-14.4zM1058.2 1065.6l7.2 9.5h-14.4zM1050.8 1061.4l7.2 9.5h-14.4zM1026.0 1050.3l7.2 9.5h-14.4zM1058.6 1066.8l7.2 9.5h-14.4zM1023.3 1064.7l7.2 9.5h-14.4zM1025.3 1064.6l7.2 9.5h-14.4zM1068.6 1060.6l7.2 9.5h-14.4zM1061.6 1066.8l7.2 9.5h-14.4zM1029.7 1052.4l7.2 9.5h-14.4zM1072.6 1065.6l7.2 9.5h-14.4zM1049.3 1057.7l7.2 9.5h-14.4zM1052.2 1055.3l7.2 9.5h-14.4zM1023.4 1067.4l7.2 9.5h-14.4zM1058.4 1066.6l7.2 9.5h-14.4zM1062.1 1062.5l7.2 9.5h-14.4zM1071.8 1062.6l7.2 9.5h-14.4zM1032.1 1058.3l7.2 9.5h-14.4zM1060.0 1061.9l7.2 9.5h-14.4zM1038.6 1057.5l7.2 9.5h-14.4zM1018.0 1064.6l7.2 9.5h-14.4zM1030.7 1054.8l7.2 9.5h-14.4zM1063.4 1053.4l7.2 9.5h-14.4zM1028.1 1052.7l7.2 9.5h-14.4zM1056.9 1060.4l7.2 9.5h-14.4zM1027.9 1049.1l7.2 9.5h-14.4zM1050.9 1058.0l7.2 9.5h-14.4zM1040.4 1061.3l7.2 9.5h-14.4zM1065.2 1065.7l7.2 9.5h-14.4zM1018.7 1064.9l7.2 9.5h-14.4zM1051.4 1058.7l7.2 9.5h-14.4zM1056.7 1053.2l7.2 9.5h-14.4zM1075.1 1055.9l7.2 9.5h-14.4zM1028.9 1054.7l7.2 9.5h-14.4zM1060.8 1067.5l7.2 9.5h-14.4zM1054.1 1055.9l7.2 9.5h-14.4zM1025.3 1062.4l7.2 9.5h-14.4zM1031.4 1052.8l7.2 9.5h-14.4zM1073.5 1056.4l7.2 9.5h-14.4zM1053.4 1057.8l7.2 9.5h-14.4zM1067.4 1064.7l7.2 9.5h-14.4zM1037.8 1055.9l7.2 9.5h-14.4zM1074.1 1059.7l7.2 9.5h-14.4zM1021.3 1058.7l7.2 9.5h-14.4zM1059.6 1064.1l7.2 9.5h-14.4zM1046.3 1061.1l7.2 9.5h-14.4zM1073.1 1056.4l7.2 9.5h-14.4zM1029.1 1059.0l7.2 9.5h-14.4zM1066.4 1048.7l7.2 9.5h-14.4zM1021.3 1066.5l7.2 9.5h-14.4zM1065.4 1058.2l7.2 9.5h-14.4zM1058.4 1060.3l7.2 9.5h-14.4zM1052.4 1052.2l7.2 9.5h-14.4zM1040.6 1060.7l7.2 9.5h-14.4zM1049.7 1039.7l7.2 9.5h-14.4zM1041.2 1056.7l7.2 9.5h-14.4zM1030.6 1047.6l7.2 9.5h-14.4zM1023.3 1054.9l7.2 9.5h-14.4zM1037.8 1039.3l7.2 9.5h-14.4zM1030.8 1052.4l7.2 9.5h-14.4zM1047.0 1056.1l7.2 9.5h-14.4zM1039.7 1062.9l7.2 9.5h-14.4zM1020.5 1061.9l7.2 9.5h-14.4zM1077.3 1065.3l7.2 9.5h-14.4zM1016.8 1047.9l7.2 9.5h-14.4zM1070.1 1067.4l7.2 9.5h-14.4zM1049.7 1059.6l7.2 9.5h-14.4zM1053.8 1060.2l7.2 9.5h-14.4zM1073.1 1041.0l7.2 9.5h-14.4zM1071.3 1052.9l7.2 9.5h-14.4zM1050.4 1057.9l7.2 9.5h-14.4zM1074.8 1062.3l7.2 9.5h-14.4zM1075.0 1056.8l7.2 9.5h-14.4zM1055.9 1059.4l7.2 9.5h-14.4zM1017.4 1060.5l7.2 9.5h-14.4zM1047.8 1034.6l7.2 9.5h-14.4zM1028.6 1059.9l7.2 9.5h-14.4zM1077.0 1049.3l7.2 9.5h-14.4zM1077.5 1058.2l7.2 9.5h-14.4zM1031.2 1050.0l7.2 9.5h-14.4zM1067.4 1063.3l7.2 9.5h-14.4zM1055.5 1060.2l7.2 9.5h-14.4zM1064.7 1055.8l7.2 9.5h-14.4zM1064.4 1059.9l7.2 9.5h-14.4zM1064.6 1054.9l7.2 9.5h-14.4zM1055.6 1059.5l7.2 9.5h-14.4zM1054.9 1061.7l7.2 9.5h-14.4zM1036.6 1056.8l7.2 9.5h-14.4zM1047.1 1061.8l7.2 9.5h-14.4zM1031.9 1056.2l7.2 9.5h-14.4zM1042.4 1065.9l7.2 9.5h-14.4zM1053.2 1053.8l7.2 9.5h-14.4zM1048.3 1057.1l7.2 9.5h-14.4zM1031.3 1055.5l7.2 9.5h-14.4zM1048.7 1054.0l7.2 9.5h-14.4zM1053.4 1063.2l7.2 9.5h-14.4zM1073.6 1058.1l7.2 9.5h-14.4zM1027.5 1063.0l7.2 9.5h-14.4zM1057.9 1064.5l7.2 9.5h-14.4zM1023.5 1063.4l7.2 9.5h-14.4zM1070.7 1065.8l7.2 9.5h-14.4zM1026.0 1059.0l7.2 9.5h-14.4zM1040.5 1040.9l7.2 9.5h-14.4zM1026.5 1057.9l7.2 9.5h-14.4zM1075.2 1063.9l7.2 9.5h-14.4zM1069.2 1056.4l7.2 9.5h-14.4zM1018.3 1042.7l7.2 9.5h-14.4zM1047.8 1056.1l7.2 9.5h-14.4zM1035.2 1056.9l7.2 9.5h-14.4zM1067.2 1063.0l7.2 9.5h-14.4zM1015.6 1069.5l7.2 9.5h-14.4zM1035.3 1042.5l7.2 9.5h-14.4zM1056.6 1060.4l7.2 9.5h-14.4zM1063.2 1058.3l7.2 9.5h-14.4zM1046.7 1036.2l7.2 9.5h-14.4zM1041.4 1062.4l7.2 9.5h-14.4zM1048.4 1062.1l7.2 9.5h-14.4zM1019.7 1064.1l7.2 9.5h-14.4zM1074.2 1059.7l7.2 9.5h-14.4zM1043.7 1056.9l7.2 9.5h-14.4zM1033.0 1053.8l7.2 9.5h-14.4zM1054.2 1056.8l7.2 9.5h-14.4zM1030.1 1048.9l7.2 9.5h-14.4zM1014.9 1105.6l7.2 9.5h-14.4zM1014.9 1101.2l7.2 9.5h-14.4zM1014.2 1096.9l7.2 9.5h-14.4zM1014.8 1091.7l7.2 9.5h-14.4zM1015.5 1088.5l7.2 9.5h-14.4zM1014.3 1083.0l7.2 9.5h-14.4zM1014.7 1078.1l7.2 9.5h-14.4zM1015.8 1073.4l7.2 9.5h-14.4zM1015.7 1068.4l7.2 9.5h-14.4zM1078.4 1105.6l7.2 9.5h-14.4zM1077.1 1101.0l7.2 9.5h-14.4zM1077.7 1097.1l7.2 9.5h-14.4zM1076.7 1093.4l7.2 9.5h-14.4zM1078.5 1089.0l7.2 9.5h-14.4zM1077.6 1085.6l7.2 9.5h-14.4zM1078.3 1081.0l7.2 9.5h-14.4zM1077.1 1075.6l7.2 9.5h-14.4zM1076.7 1072.1l7.2 9.5h-14.4zM1077.0 1069.0l7.2 9.5h-14.4zM1077.8 1063.8l7.2 9.5h-14.4zM1156.9 1056.8l7.2 9.5h-14.4zM1159.7 1069.0l7.2 9.5h-14.4zM1136.1 1061.5l7.2 9.5h-14.4zM1154.8 1063.4l7.2 9.5h-14.4zM1127.5 1062.7l7.2 9.5h-14.4zM1160.5 1072.0l7.2 9.5h-14.4zM1109.5 1060.4l7.2 9.5h-14.4zM1124.2 1060.7l7.2 9.5h-14.4zM1104.2 1061.8l7.2 9.5h-14.4zM1112.6 1054.0l7.2 9.5h-14.4zM1157.1 1061.6l7.2 9.5h-14.4zM1126.8 1067.6l7.2 9.5h-14.4zM1121.3 1063.5l7.2 9.5h-14.4zM1130.9 1060.2l7.2 9.5h-14.4zM1148.8 1055.4l7.2 9.5h-14.4zM1112.2 1059.6l7.2 9.5h-14.4zM1134.0 1055.6l7.2 9.5h-14.4zM1123.1 1065.0l7.2 9.5h-14.4zM1123.1 1062.3l7.2 9.5h-14.4zM1149.0 1066.3l7.2 9.5h-14.4zM1142.2 1059.2l7.2 9.5h-14.4zM1110.5 1060.8l7.2 9.5h-14.4zM1120.8 1061.6l7.2 9.5h-14.4zM1144.8 1059.2l7.2 9.5h-14.4zM1111.0 1046.4l7.2 9.5h-14.4zM1137.5 1043.1l7.2 9.5h-14.4zM1140.5 1065.0l7.2 9.5h-14.4zM1106.2 1066.3l7.2 9.5h-14.4zM1107.8 1058.4l7.2 9.5h-14.4zM1148.4 1052.3l7.2 9.5h-14.4zM1108.7 1063.7l7.2 9.5h-14.4zM1138.4 1054.2l7.2 9.5h-14.4zM1099.1 1053.9l7.2 9.5h-14.4zM1119.9 1061.9l7.2 9.5h-14.4zM1106.9 1059.9l7.2 9.5h-14.4zM1108.9 1061.2l7.2 9.5h-14.4zM1099.6 1054.7l7.2 9.5h-14.4zM1130.6 1060.2l7.2 9.5h-14.4zM1131.9 1069.1l7.2 9.5h-14.4zM1142.2 1043.1l7.2 9.5h-14.4zM1124.8 1067.0l7.2 9.5h-14.4zM1145.0 1065.2l7.2 9.5h-14.4zM1142.2 1059.3l7.2 9.5h-14.4zM1153.7 1059.8l7.2 9.5h-14.4zM1153.6 1045.3l7.2 9.5h-14.4zM1139.1 1062.7l7.2 9.5h-14.4zM1147.1 1059.6l7.2 9.5h-14.4zM1137.6 1061.8l7.2 9.5h-14.4zM1118.0 1057.1l7.2 9.5h-14.4zM1130.9 1066.3l7.2 9.5h-14.4zM1131.2 1059.8l7.2 9.5h-14.4zM1102.6 1053.8l7.2 9.5h-14.4zM1123.5 1060.9l7.2 9.5h-14.4zM1153.6 1052.5l7.2 9.5h-14.4zM1128.0 1062.2l7.2 9.5h-14.4zM1150.2 1064.9l7.2 9.5h-14.4zM1115.2 1061.3l7.2 9.5h-14.4zM1157.7 1063.7l7.2 9.5h-14.4zM1134.7 1068.8l7.2 9.5h-14.4zM1131.0 1059.5l7.2 9.5h-14.4zM1124.2 1062.5l7.2 9.5h-14.4zM1146.8 1048.2l7.2 9.5h-14.4zM1100.4 1057.6l7.2 9.5h-14.4zM1151.5 1051.8l7.2 9.5h-14.4zM1102.0 1051.9l7.2 9.5h-14.4zM1150.1 1062.0l7.2 9.5h-14.4zM1133.4 1062.2l7.2 9.5h-14.4zM1154.8 1062.1l7.2 9.5h-14.4zM1100.6 1063.6l7.2 9.5h-14.4zM1160.2 1054.5l7.2 9.5h-14.4zM1126.3 1037.4l7.2 9.5h-14.4zM1121.3 1062.8l7.2 9.5h-14.4zM1114.5 1060.8l7.2 9.5h-14.4zM1141.1 1059.8l7.2 9.5h-14.4zM1149.8 1065.2l7.2 9.5h-14.4zM1138.7 1063.6l7.2 9.5h-14.4zM1102.8 1056.9l7.2 9.5h-14.4zM1107.6 1063.1l7.2 9.5h-14.4zM1123.0 1054.1l7.2 9.5h-14.4zM1116.3 1065.9l7.2 9.5h-14.4zM1105.3 1036.4l7.2 9.5h-14.4zM1116.4 1069.4l7.2 9.5h-14.4zM1128.6 1064.3l7.2 9.5h-14.4zM1160.7 1069.2l7.2 9.5h-14.4zM1140.8 1065.6l7.2 9.5h-14.4zM1142.9 1055.6l7.2 9.5h-14.4zM1120.1 1062.1l7.2 9.5h-14.4zM1126.6 1056.7l7.2 9.5h-14.4zM1158.1 1070.0l7.2 9.5h-14.4zM1160.7 1068.5l7.2 9.5h-14.4zM1128.0 1061.5l7.2 9.5h-14.4zM1107.9 1058.2l7.2 9.5h-14.4zM1149.3 1048.4l7.2 9.5h-14.4zM1132.0 1059.5l7.2 9.5h-14.4zM1102.1 1030.4l7.2 9.5h-14.4zM1102.2 1064.9l7.2 9.5h-14.4zM1145.0 1054.6l7.2 9.5h-14.4zM1156.0 1036.9l7.2 9.5h-14.4zM1099.3 1041.9l7.2 9.5h-14.4zM1134.2 1065.8l7.2 9.5h-14.4zM1137.9 1062.5l7.2 9.5h-14.4zM1143.8 1065.7l7.2 9.5h-14.4zM1103.0 1051.5l7.2 9.5h-14.4zM1126.6 1058.8l7.2 9.5h-14.4zM1152.9 1058.3l7.2 9.5h-14.4zM1109.9 1059.3l7.2 9.5h-14.4zM1117.1 1062.2l7.2 9.5h-14.4zM1134.2 1063.2l7.2 9.5h-14.4zM1098.8 1063.8l7.2 9.5h-14.4zM1127.0 1064.0l7.2 9.5h-14.4zM1131.1 1062.4l7.2 9.5h-14.4zM1100.2 1055.3l7.2 9.5h-14.4zM1119.3 1056.8l7.2 9.5h-14.4zM1144.7 1063.3l7.2 9.5h-14.4zM1123.6 1059.5l7.2 9.5h-14.4zM1104.3 1062.7l7.2 9.5h-14.4zM1126.0 1068.9l7.2 9.5h-14.4zM1135.7 1066.5l7.2 9.5h-14.4zM1110.8 1064.2l7.2 9.5h-14.4zM1150.1 1058.7l7.2 9.5h-14.4zM1159.5 1064.1l7.2 9.5h-14.4zM1117.3 1065.3l7.2 9.5h-14.4zM1138.8 1049.7l7.2 9.5h-14.4zM1127.1 1055.9l7.2 9.5h-14.4zM1105.8 1059.6l7.2 9.5h-14.4zM1098.2 1056.6l7.2 9.5h-14.4zM1121.5 1056.9l7.2 9.5h-14.4zM1137.0 1032.9l7.2 9.5h-14.4zM1128.1 1058.0l7.2 9.5h-14.4zM1112.6 1063.4l7.2 9.5h-14.4zM1116.0 1057.1l7.2 9.5h-14.4zM1097.9 1105.6l7.2 9.5h-14.4zM1097.4 1102.4l7.2 9.5h-14.4zM1096.9 1098.4l7.2 9.5h-14.4zM1097.8 1094.4l7.2 9.5h-14.4zM1098.4 1090.2l7.2 9.5h-14.4zM1096.9 1085.3l7.2 9.5h-14.4zM1098.1 1081.6l7.2 9.5h-14.4zM1098.3 1077.9l7.2 9.5h-14.4zM1096.7 1074.0l7.2 9.5h-14.4zM1097.7 1069.5l7.2 9.5h-14.4zM1096.8 1064.4l7.2 9.5h-14.4zM1097.8 1059.7l7.2 9.5h-14.4zM1161.2 1105.6l7.2 9.5h-14.4zM1162.6 1100.0l7.2 9.5h-14.4zM1162.4 1096.8l7.2 9.5h-14.4zM1161.8 1093.0l7.2 9.5h-14.4zM1162.1 1087.7l7.2 9.5h-14.4zM1162.0 1082.2l7.2 9.5h-14.4zM1161.9 1076.7l7.2 9.5h-14.4zM1162.3 1072.4l7.2 9.5h-14.4zM1216.6 1055.7l7.2 9.5h-14.4zM1209.0 1061.4l7.2 9.5h-14.4zM1189.1 1032.9l7.2 9.5h-14.4zM1237.5 1057.1l7.2 9.5h-14.4zM1244.8 1055.1l7.2 9.5h-14.4zM1241.1 1057.1l7.2 9.5h-14.4zM1190.6 1058.8l7.2 9.5h-14.4zM1193.3 1063.1l7.2 9.5h-14.4zM1214.1 1058.4l7.2 9.5h-14.4zM1201.7 1043.7l7.2 9.5h-14.4zM1237.2 1056.4l7.2 9.5h-14.4zM1199.3 1053.9l7.2 9.5h-14.4zM1238.7 1065.0l7.2 9.5h-14.4zM1230.1 1053.1l7.2 9.5h-14.4zM1188.3 1062.4l7.2 9.5h-14.4zM1205.7 1042.2l7.2 9.5h-14.4zM1227.6 1054.1l7.2 9.5h-14.4zM1200.0 1065.3l7.2 9.5h-14.4zM1240.8 1067.6l7.2 9.5h-14.4zM1189.2 1056.0l7.2 9.5h-14.4zM1189.2 1064.6l7.2 9.5h-14.4zM1255.8 1069.4l7.2 9.5h-14.4zM1208.0 1064.0l7.2 9.5h-14.4zM1196.0 1065.9l7.2 9.5h-14.4zM1198.4 1064.3l7.2 9.5h-14.4zM1248.8 1055.7l7.2 9.5h-14.4zM1188.8 1052.6l7.2 9.5h-14.4zM1217.3 1061.7l7.2 9.5h-14.4zM1202.5 1063.2l7.2 9.5h-14.4zM1234.4 1042.0l7.2 9.5h-14.4zM1197.4 1061.3l7.2 9.5h-14.4zM1226.0 1064.6l7.2 9.5h-14.4zM1223.0 1052.5l7.2 9.5h-14.4zM1198.5 1063.3l7.2 9.5h-14.4zM1241.7 1068.1l7.2 9.5h-14.4zM1253.4 1059.4l7.2 9.5h-14.4zM1208.0 1054.5l7.2 9.5h-14.4zM1215.7 1058.3l7.2 9.5h-14.4zM1192.9 1054.5l7.2 9.5h-14.4zM1208.6 1065.1l7.2 9.5h-14.4zM1254.2 1062.5l7.2 9.5h-14.4zM1245.4 1064.3l7.2 9.5h-14.4zM1197.1 1033.2l7.2 9.5h-14.4zM1224.9 1061.6l7.2 9.5h-14.4zM1232.3 1041.8l7.2 9.5h-14.4zM1233.4 1048.7l7.2 9.5h-14.4zM1237.2 1061.3l7.2 9.5h-14.4zM1207.0 1065.5l7.2 9.5h-14.4zM1228.4 1060.6l7.2 9.5h-14.4zM1228.4 1060.6l7.2 9.5h-14.4zM1216.8 1053.7l7.2 9.5h-14.4zM1205.4 1057.5l7.2 9.5h-14.4zM1250.0 1053.4l7.2 9.5h-14.4zM1257.5 1067.2l7.2 9.5h-14.4zM1250.2 1057.1l7.2 9.5h-14.4zM1246.4 1069.2l7.2 9.5h-14.4zM1227.6 1063.6l7.2 9.5h-14.4zM1252.0 1069.8l7.2 9.5h-14.4zM1196.8 1061.1l7.2 9.5h-14.4zM1217.3 1058.5l7.2 9.5h-14.4zM1235.1 1049.8l7.2 9.5h-14.4zM1240.5 1058.9l7.2 9.5h-14.4zM1245.4 1065.5l7.2 9.5h-14.4zM1190.6 1062.4l7.2 9.5h-14.4zM1218.2 1051.9l7.2 9.5h-14.4zM1231.2 1058.3l7.2 9.5h-14.4zM1223.8 1062.5l7.2 9.5h-14.4zM1194.0 1061.9l7.2 9.5h-14.4zM1211.9 1064.1l7.2 9.5h-14.4zM1204.2 1052.2l7.2 9.5h-14.4zM1192.9 1059.4l7.2 9.5h-14.4zM1207.0 1062.6l7.2 9.5h-14.4zM1221.8 1060.8l7.2 9.5h-14.4zM1252.2 1067.0l7.2 9.5h-14.4zM1210.0 1057.9l7.2 9.5h-14.4zM1224.2 1059.8l7.2 9.5h-14.4zM1236.0 1051.4l7.2 9.5h-14.4zM1200.7 1051.7l7.2 9.5h-14.4zM1224.5 1062.9l7.2 9.5h-14.4zM1183.1 1061.6l7.2 9.5h-14.4zM1247.7 1059.8l7.2 9.5h-14.4zM1231.1 1058.4l7.2 9.5h-14.4zM1195.3 1058.9l7.2 9.5h-14.4zM1215.0 1053.9l7.2 9.5h-14.4zM1258.3 1062.9l7.2 9.5h-14.4zM1247.2 1048.0l7.2 9.5h-14.4zM1189.3 1061.4l7.2 9.5h-14.4zM1235.0 1056.0l7.2 9.5h-14.4zM1190.3 1058.1l7.2 9.5h-14.4zM1191.4 1050.5l7.2 9.5h-14.4zM1231.3 1043.5l7.2 9.5h-14.4zM1248.0 1060.7l7.2 9.5h-14.4zM1219.2 1057.5l7.2 9.5h-14.4zM1182.3 1060.6l7.2 9.5h-14.4zM1217.9 1050.9l7.2 9.5h-14.4zM1205.3 1060.7l7.2 9.5h-14.4zM1220.0 1055.5l7.2 9.5h-14.4zM1191.9 1060.4l7.2 9.5h-14.4zM1193.9 1062.6l7.2 9.5h-14.4zM1200.1 1055.9l7.2 9.5h-14.4zM1251.0 1062.5l7.2 9.5h-14.4zM1256.5 1066.7l7.2 9.5h-14.4zM1244.5 1054.4l7.2 9.5h-14.4zM1214.4 1052.9l7.2 9.5h-14.4zM1223.4 1056.5l7.2 9.5h-14.4zM1183.6 1058.7l7.2 9.5h-14.4zM1240.0 1058.1l7.2 9.5h-14.4zM1215.4 1044.6l7.2 9.5h-14.4zM1198.3 1062.1l7.2 9.5h-14.4zM1192.3 1059.2l7.2 9.5h-14.4zM1242.9 1063.8l7.2 9.5h-14.4zM1208.2 1058.7l7.2 9.5h-14.4zM1242.4 1060.0l7.2 9.5h-14.4zM1218.0 1058.4l7.2 9.5h-14.4zM1205.6 1060.8l7.2 9.5h-14.4zM1218.8 1057.1l7.2 9.5h-14.4zM1227.6 1062.6l7.2 9.5h-14.4zM1211.8 1062.4l7.2 9.5h-14.4zM1186.2 1053.5l7.2 9.5h-14.4zM1233.2 1056.0l7.2 9.5h-14.4zM1245.0 1069.5l7.2 9.5h-14.4zM1204.8 1037.8l7.2 9.5h-14.4zM1192.6 1063.9l7.2 9.5h-14.4zM1258.2 1066.1l7.2 9.5h-14.4zM1188.2 1056.9l7.2 9.5h-14.4zM1231.5 1064.6l7.2 9.5h-14.4zM1222.4 1049.2l7.2 9.5h-14.4zM1211.9 1064.9l7.2 9.5h-14.4zM1244.5 1060.0l7.2 9.5h-14.4zM1210.6 1065.5l7.2 9.5h-14.4zM1237.3 1064.0l7.2 9.5h-14.4zM1183.5 1059.5l7.2 9.5h-14.4zM1188.0 1046.7l7.2 9.5h-14.4zM1250.5 1061.4l7.2 9.5h-14.4zM1203.0 1063.7l7.2 9.5h-14.4zM1255.9 1066.1l7.2 9.5h-14.4zM1214.1 1064.0l7.2 9.5h-14.4zM1227.0 1061.0l7.2 9.5h-14.4zM1193.3 1061.9l7.2 9.5h-14.4zM1202.2 1065.6l7.2 9.5h-14.4zM1220.0 1054.5l7.2 9.5h-14.4zM1243.1 1061.3l7.2 9.5h-14.4zM1247.2 1065.9l7.2 9.5h-14.4zM1199.8 1037.8l7.2 9.5h-14.4zM1224.6 1029.1l7.2 9.5h-14.4zM1203.0 1054.6l7.2 9.5h-14.4zM1220.7 1049.0l7.2 9.5h-14.4zM1203.5 1064.4l7.2 9.5h-14.4zM1200.3 1063.0l7.2 9.5h-14.4zM1250.0 1071.5l7.2 9.5h-14.4zM1237.4 1065.4l7.2 9.5h-14.4zM1222.0 1048.5l7.2 9.5h-14.4zM1243.0 1056.4l7.2 9.5h-14.4zM1222.4 1061.0l7.2 9.5h-14.4zM1180.6 1105.6l7.2 9.5h-14.4zM1180.8 1101.7l7.2 9.5h-14.4zM1182.1 1097.3l7.2 9.5h-14.4zM1180.8 1092.5l7.2 9.5h-14.4zM1180.6 1089.4l7.2 9.5h-14.4zM1181.6 1083.6l7.2 9.5h-14.4zM1181.0 1078.9l7.2 9.5h-14.4zM1182.4 1073.2l7.2 9.5h-14.4zM1181.2 1069.2l7.2 9.5h-14.4zM1180.9 1064.5l7.2 9.5h-14.4zM1181.4 1061.2l7.2 9.5h-14.4zM1258.4 1105.6l7.2 9.5h-14.4zM1259.9 1099.8l7.2 9.5h-14.4zM1259.6 1096.3l7.2 9.5h-14.4zM1259.8 1091.3l7.2 9.5h-14.4zM1260.0 1086.7l7.2 9.5h-14.4zM1258.5 1083.4l7.2 9.5h-14.4zM1258.5 1078.7l7.2 9.5h-14.4zM1259.7 1075.0l7.2 9.5h-14.4zM1258.6 1069.8l7.2 9.5h-14.4zM1282.8 1051.0l7.2 9.5h-14.4zM1317.6 1055.5l7.2 9.5h-14.4zM1310.3 1067.6l7.2 9.5h-14.4zM1336.3 1067.6l7.2 9.5h-14.4zM1302.8 1058.6l7.2 9.5h-14.4zM1335.2 1060.4l7.2 9.5h-14.4zM1348.5 1070.2l7.2 9.5h-14.4zM1314.1 1064.1l7.2 9.5h-14.4zM1287.2 1042.8l7.2 9.5h-14.4zM1317.4 1060.8l7.2 9.5h-14.4zM1290.0 1054.9l7.2 9.5h-14.4zM1337.0 1058.8l7.2 9.5h-14.4zM1321.4 1056.2l7.2 9.5h-14.4zM1291.1 1050.7l7.2 9.5h-14.4zM1300.0 1054.1l7.2 9.5h-14.4zM1350.2 1068.2l7.2 9.5h-14.4zM1340.0 1064.6l7.2 9.5h-14.4zM1320.0 1052.7l7.2 9.5h-14.4zM1295.9 1058.7l7.2 9.5h-14.4zM1314.8 1064.0l7.2 9.5h-14.4zM1323.5 1057.7l7.2 9.5h-14.4zM1340.6 1047.6l7.2 9.5h-14.4zM1305.6 1038.9l7.2 9.5h-14.4zM1342.1 1065.2l7.2 9.5h-14.4zM1349.4 1062.5l7.2 9.5h-14.4zM1295.2 1051.5l7.2 9.5h-14.4zM1293.3 1058.5l7.2 9.5h-14.4zM1332.7 1057.9l7.2 9.5h-14.4zM1289.1 1052.5l7.2 9.5h-14.4zM1330.6 1067.1l7.2 9.5h-14.4zM1311.0 1053.0l7.2 9.5h-14.4zM1349.3 1056.3l7.2 9.5h-14.4zM1319.4 1048.6l7.2 9.5h-14.4zM1332.1 1060.6l7.2 9.5h-14.4zM1311.2 1062.3l7.2 9.5h-14.4zM1348.1 1058.2l7.2 9.5h-14.4zM1312.2 1064.8l7.2 9.5h-14.4zM1297.1 1052.6l7.2 9.5h-14.4zM1289.4 1056.4l7.2 9.5h-14.4zM1312.1 1049.3l7.2 9.5h-14.4zM1344.8 1067.2l7.2 9.5h-14.4zM1314.2 1060.1l7.2 9.5h-14.4zM1339.7 1062.4l7.2 9.5h-14.4zM1304.2 1053.0l7.2 9.5h-14.4zM1289.4 1050.9l7.2 9.5h-14.4zM1328.7 1059.8l7.2 9.5h-14.4zM1326.1 1055.8l7.2 9.5h-14.4zM1281.7 1049.4l7.2 9.5h-14.4zM1307.2 1064.6l7.2 9.5h-14.4zM1300.8 1063.5l7.2 9.5h-14.4zM1351.6 1071.7l7.2 9.5h-14.4zM1290.5 1036.9l7.2 9.5h-14.4zM1306.6 1054.9l7.2 9.5h-14.4zM1318.4 1058.2l7.2 9.5h-14.4zM1306.1 1057.9l7.2 9.5h-14.4zM1300.8 1053.0l7.2 9.5h-14.4zM1308.9 1062.2l7.2 9.5h-14.4zM1344.3 1059.1l7.2 9.5h-14.4zM1330.0 1059.6l7.2 9.5h-14.4zM1325.7 1060.9l7.2 9.5h-14.4zM1314.4 1043.3l7.2 9.5h-14.4zM1302.4 1059.8l7.2 9.5h-14.4zM1326.1 1052.1l7.2 9.5h-14.4zM1324.6 1063.9l7.2 9.5h-14.4zM1341.1 1066.6l7.2 9.5h-14.4zM1310.4 1062.6l7.2 9.5h-14.4zM1338.5 1057.3l7.2 9.5h-14.4zM1302.0 1063.3l7.2 9.5h-14.4zM1285.7 1054.9l7.2 9.5h-14.4zM1343.0 1070.0l7.2 9.5h-14.4zM1284.9 1058.6l7.2 9.5h-14.4zM1349.8 1066.3l7.2 9.5h-14.4zM1325.4 1059.2l7.2 9.5h-14.4zM1343.9 1061.2l7.2 9.5h-14.4zM1310.6 1065.2l7.2 9.5h-14.4zM1342.2 1063.0l7.2 9.5h-14.4zM1334.7 1069.6l7.2 9.5h-14.4zM1308.5 1062.5l7.2 9.5h-14.4zM1347.0 1064.4l7.2 9.5h-14.4zM1309.4 1061.4l7.2 9.5h-14.4zM1300.1 1057.1l7.2 9.5h-14.4zM1349.6 1069.8l7.2 9.5h-14.4zM1306.8 1065.4l7.2 9.5h-14.4zM1296.9 1048.4l7.2 9.5h-14.4zM1339.0 1063.3l7.2 9.5h-14.4zM1314.6 1062.2l7.2 9.5h-14.4zM1304.2 1064.6l7.2 9.5h-14.4zM1338.1 1064.4l7.2 9.5h-14.4zM1315.1 1058.4l7.2 9.5h-14.4zM1309.0 1055.0l7.2 9.5h-14.4zM1318.5 1057.3l7.2 9.5h-14.4zM1353.4 1063.7l7.2 9.5h-14.4zM1296.2 1057.1l7.2 9.5h-14.4zM1307.0 1065.2l7.2 9.5h-14.4zM1310.8 1059.9l7.2 9.5h-14.4zM1291.4 1059.6l7.2 9.5h-14.4zM1290.7 1050.5l7.2 9.5h-14.4zM1280.1 1035.0l7.2 9.5h-14.4zM1334.8 1062.6l7.2 9.5h-14.4zM1350.1 1051.4l7.2 9.5h-14.4zM1285.4 1038.8l7.2 9.5h-14.4zM1351.8 1063.2l7.2 9.5h-14.4zM1296.0 1055.4l7.2 9.5h-14.4zM1352.4 1056.7l7.2 9.5h-14.4zM1286.1 1045.9l7.2 9.5h-14.4zM1353.0 1069.1l7.2 9.5h-14.4zM1349.1 1069.4l7.2 9.5h-14.4zM1327.3 1066.2l7.2 9.5h-14.4zM1332.6 1062.2l7.2 9.5h-14.4zM1283.2 1052.5l7.2 9.5h-14.4zM1295.9 1053.6l7.2 9.5h-14.4zM1338.8 1065.1l7.2 9.5h-14.4zM1282.3 1053.5l7.2 9.5h-14.4zM1350.7 1068.8l7.2 9.5h-14.4zM1318.0 1060.0l7.2 9.5h-14.4zM1350.5 1066.0l7.2 9.5h-14.4zM1332.3 1061.5l7.2 9.5h-14.4zM1311.0 1064.7l7.2 9.5h-14.4zM1323.2 1054.9l7.2 9.5h-14.4zM1286.8 1055.8l7.2 9.5h-14.4zM1286.0 1055.0l7.2 9.5h-14.4zM1297.7 1061.9l7.2 9.5h-14.4zM1303.0 1063.5l7.2 9.5h-14.4zM1289.9 1050.7l7.2 9.5h-14.4zM1322.9 1064.0l7.2 9.5h-14.4zM1326.4 1058.0l7.2 9.5h-14.4zM1353.8 1062.9l7.2 9.5h-14.4zM1298.9 1057.7l7.2 9.5h-14.4zM1329.4 1053.6l7.2 9.5h-14.4zM1289.5 1055.2l7.2 9.5h-14.4zM1317.3 1049.1l7.2 9.5h-14.4zM1282.2 1051.0l7.2 9.5h-14.4zM1305.1 1061.7l7.2 9.5h-14.4zM1304.8 1064.4l7.2 9.5h-14.4zM1288.4 1056.8l7.2 9.5h-14.4zM1335.5 1067.9l7.2 9.5h-14.4zM1296.1 1061.3l7.2 9.5h-14.4zM1291.8 1053.7l7.2 9.5h-14.4zM1321.7 1040.6l7.2 9.5h-14.4zM1294.0 1057.6l7.2 9.5h-14.4zM1347.3 1068.4l7.2 9.5h-14.4zM1316.4 1062.4l7.2 9.5h-14.4zM1327.2 1057.6l7.2 9.5h-14.4zM1353.6 1071.9l7.2 9.5h-14.4zM1305.9 1060.7l7.2 9.5h-14.4zM1314.8 1064.2l7.2 9.5h-14.4zM1301.0 1060.3l7.2 9.5h-14.4zM1334.6 1063.5l7.2 9.5h-14.4zM1302.3 1057.1l7.2 9.5h-14.4zM1343.4 1066.8l7.2 9.5h-14.4zM1324.5 1056.6l7.2 9.5h-14.4zM1299.8 1056.4l7.2 9.5h-14.4zM1279.0 1105.6l7.2 9.5h-14.4zM1278.8 1101.8l7.2 9.5h-14.4zM1278.0 1097.5l7.2 9.5h-14.4zM1278.0 1093.9l7.2 9.5h-14.4zM1278.4 1090.1l7.2 9.5h-14.4zM1278.4 1085.6l7.2 9.5h-14.4zM1278.5 1081.0l7.2 9.5h-14.4zM1278.9 1076.4l7.2 9.5h-14.4zM1279.2 1072.4l7.2 9.5h-14.4zM1279.3 1068.7l7.2 9.5h-14.4zM1277.6 1064.9l7.2 9.5h-14.4zM1278.5 1061.4l7.2 9.5h-14.4zM1278.1 1056.7l7.2 9.5h-14.4zM1355.4 1105.6l7.2 9.5h-14.4zM1355.5 1100.3l7.2 9.5h-14.4zM1355.4 1095.7l7.2 9.5h-14.4zM1354.4 1091.1l7.2 9.5h-14.4zM1355.8 1085.5l7.2 9.5h-14.4zM1354.5 1080.4l7.2 9.5h-14.4zM1354.2 1076.4l7.2 9.5h-14.4zM1355.2 1071.6l7.2 9.5h-14.4z" fill="none" stroke="#FF868A" stroke-width="1.9" stroke-linejoin="miter"/>
<path d="M123.4 979.0l7.2 9.5h-14.4zM162.8 958.4l7.2 9.5h-14.4zM127.5 997.1l7.2 9.5h-14.4zM164.6 997.8l7.2 9.5h-14.4zM187.5 1012.2l7.2 9.5h-14.4zM152.6 1019.8l7.2 9.5h-14.4zM162.8 1021.8l7.2 9.5h-14.4zM209.1 1022.8l7.2 9.5h-14.4zM214.3 1020.4l7.2 9.5h-14.4zM240.0 1018.4l7.2 9.5h-14.4zM234.8 1023.5l7.2 9.5h-14.4zM161.1 1029.7l7.2 9.5h-14.4zM123.4 1003.3l7.2 9.5h-14.4zM121.7 1014.3l7.2 9.5h-14.4zM126.8 1019.4l7.2 9.5h-14.4zM132.0 1021.1l7.2 9.5h-14.4zM144.0 1034.8l7.2 9.5h-14.4zM185.1 1031.4l7.2 9.5h-14.4zM192.0 1032.1l7.2 9.5h-14.4zM216.0 1034.8l7.2 9.5h-14.4zM233.1 1038.3l7.2 9.5h-14.4zM266.7 1009.8l7.2 9.5h-14.4zM295.5 1009.5l7.2 9.5h-14.4zM322.9 1006.0l7.2 9.5h-14.4zM332.5 1012.2l7.2 9.5h-14.4zM272.5 1026.3l7.2 9.5h-14.4zM274.3 1029.7l7.2 9.5h-14.4zM315.4 1028.7l7.2 9.5h-14.4zM325.7 1028.7l7.2 9.5h-14.4zM303.4 1035.5l7.2 9.5h-14.4zM329.8 1033.1l7.2 9.5h-14.4zM270.8 1036.6l7.2 9.5h-14.4zM356.5 1047.5l7.2 9.5h-14.4zM291.4 1046.8l7.2 9.5h-14.4zM381.2 1022.5l7.2 9.5h-14.4zM378.8 1029.7l7.2 9.5h-14.4zM408.0 1004.7l7.2 9.5h-14.4zM471.4 1000.6l7.2 9.5h-14.4zM434.7 1024.6l7.2 9.5h-14.4zM385.7 1036.6l7.2 9.5h-14.4zM425.1 1036.6l7.2 9.5h-14.4zM462.8 1045.1l7.2 9.5h-14.4zM397.7 1033.1l7.2 9.5h-14.4zM541.7 996.4l7.2 9.5h-14.4zM538.9 1000.6l7.2 9.5h-14.4zM533.1 1008.1l7.2 9.5h-14.4zM548.5 1006.7l7.2 9.5h-14.4zM533.1 1018.4l7.2 9.5h-14.4zM551.9 1018.4l7.2 9.5h-14.4zM548.5 1023.2l7.2 9.5h-14.4zM583.5 1014.3l7.2 9.5h-14.4zM589.6 982.4l7.2 9.5h-14.4zM495.4 1034.2l7.2 9.5h-14.4zM509.8 1031.4l7.2 9.5h-14.4zM512.5 1034.2l7.2 9.5h-14.4zM575.9 1028.0l7.2 9.5h-14.4zM567.4 1033.1l7.2 9.5h-14.4zM534.8 1040.0l7.2 9.5h-14.4zM555.4 1038.3l7.2 9.5h-14.4zM632.5 1033.1l7.2 9.5h-14.4zM692.5 1011.5l7.2 9.5h-14.4zM692.5 1037.6l7.2 9.5h-14.4zM658.2 1036.6l7.2 9.5h-14.4zM670.2 1033.1l7.2 9.5h-14.4zM671.9 1036.6l7.2 9.5h-14.4zM663.4 1040.0l7.2 9.5h-14.4zM724.7 827.4l7.2 9.5h-14.4zM724.7 889.1l7.2 9.5h-14.4zM724.7 924.1l7.2 9.5h-14.4zM724.7 987.5l7.2 9.5h-14.4zM724.7 1001.2l7.2 9.5h-14.4zM724.7 1022.8l7.2 9.5h-14.4zM738.4 971.4l7.2 9.5h-14.4zM740.5 978.3l7.2 9.5h-14.4zM738.4 995.4l7.2 9.5h-14.4zM742.9 1009.1l7.2 9.5h-14.4zM770.3 981.7l7.2 9.5h-14.4zM796.7 992.0l7.2 9.5h-14.4zM773.7 1021.8l7.2 9.5h-14.4zM748.0 1028.0l7.2 9.5h-14.4zM720.6 1038.3l7.2 9.5h-14.4zM790.8 1034.8l7.2 9.5h-14.4zM799.4 1037.6l7.2 9.5h-14.4zM753.1 1039.0l7.2 9.5h-14.4zM847.4 901.8l7.2 9.5h-14.4zM851.5 949.1l7.2 9.5h-14.4zM820.7 962.2l7.2 9.5h-14.4zM822.4 970.4l7.2 9.5h-14.4zM820.7 997.1l7.2 9.5h-14.4zM846.7 976.6l7.2 9.5h-14.4zM847.4 986.8l7.2 9.5h-14.4zM847.4 993.7l7.2 9.5h-14.4zM838.8 1000.6l7.2 9.5h-14.4zM850.8 1003.3l7.2 9.5h-14.4zM850.2 1012.6l7.2 9.5h-14.4zM854.3 1024.6l7.2 9.5h-14.4zM820.0 1028.7l7.2 9.5h-14.4zM828.6 1029.7l7.2 9.5h-14.4zM878.3 1017.0l7.2 9.5h-14.4zM893.7 1018.4l7.2 9.5h-14.4zM878.3 1026.3l7.2 9.5h-14.4zM883.4 1028.7l7.2 9.5h-14.4zM897.1 1035.5l7.2 9.5h-14.4zM874.8 1038.3l7.2 9.5h-14.4zM837.1 1031.4l7.2 9.5h-14.4zM933.1 987.5l7.2 9.5h-14.4zM957.8 977.2l7.2 9.5h-14.4zM973.6 998.8l7.2 9.5h-14.4zM926.3 1004.0l7.2 9.5h-14.4zM929.0 1028.7l7.2 9.5h-14.4zM945.1 1029.7l7.2 9.5h-14.4zM957.8 1029.7l7.2 9.5h-14.4zM976.0 1033.1l7.2 9.5h-14.4zM989.7 1037.6l7.2 9.5h-14.4zM977.7 1037.6l7.2 9.5h-14.4zM991.4 1045.1l7.2 9.5h-14.4zM974.3 1045.1l7.2 9.5h-14.4zM1056.5 913.1l7.2 9.5h-14.4zM1056.5 944.0l7.2 9.5h-14.4zM1056.5 962.2l7.2 9.5h-14.4zM1056.5 971.4l7.2 9.5h-14.4zM1056.5 981.0l7.2 9.5h-14.4zM1056.5 993.7l7.2 9.5h-14.4zM1054.8 1003.3l7.2 9.5h-14.4zM1067.5 1008.4l7.2 9.5h-14.4zM1056.5 1014.3l7.2 9.5h-14.4zM1053.1 1018.4l7.2 9.5h-14.4zM1044.5 1024.6l7.2 9.5h-14.4zM1056.5 1029.7l7.2 9.5h-14.4zM1030.8 1010.8l7.2 9.5h-14.4zM1020.5 1009.1l7.2 9.5h-14.4zM1015.4 1019.4l7.2 9.5h-14.4zM1020.5 1034.8l7.2 9.5h-14.4zM1066.8 1034.8l7.2 9.5h-14.4zM1073.7 1039.0l7.2 9.5h-14.4zM1022.2 1045.1l7.2 9.5h-14.4zM1111.4 970.4l7.2 9.5h-14.4zM1115.5 1016.0l7.2 9.5h-14.4zM1131.3 1023.5l7.2 9.5h-14.4zM1118.9 1029.7l7.2 9.5h-14.4zM1157.7 1037.6l7.2 9.5h-14.4zM1142.2 1041.7l7.2 9.5h-14.4zM1097.7 1058.2l7.2 9.5h-14.4zM1126.8 1045.1l7.2 9.5h-14.4zM1258.1 1015.3l7.2 9.5h-14.4zM1203.3 1021.8l7.2 9.5h-14.4zM1230.7 1026.3l7.2 9.5h-14.4zM1219.4 1029.7l7.2 9.5h-14.4zM1245.1 1029.7l7.2 9.5h-14.4zM1258.1 1028.0l7.2 9.5h-14.4zM1243.4 1040.0l7.2 9.5h-14.4zM1258.8 1038.3l7.2 9.5h-14.4zM1203.3 1034.8l7.2 9.5h-14.4zM1257.1 1050.3l7.2 9.5h-14.4zM1197.1 1041.7l7.2 9.5h-14.4zM1258.8 1060.6l7.2 9.5h-14.4zM1176.5 1084.6l7.2 9.5h-14.4zM1294.1 1021.8l7.2 9.5h-14.4zM1306.8 1031.4l7.2 9.5h-14.4zM1326.7 1030.7l7.2 9.5h-14.4zM1353.1 1031.4l7.2 9.5h-14.4zM1337.6 1036.6l7.2 9.5h-14.4zM1326.7 1038.3l7.2 9.5h-14.4zM1346.2 1052.0l7.2 9.5h-14.4zM1326.7 1046.8l7.2 9.5h-14.4zM1282.8 1048.6l7.2 9.5h-14.4z" fill="none" stroke="#FF868A" stroke-width="1.9" stroke-linejoin="miter"/>
<line x1="110.7" y1="806.4" x2="110.7" y2="1116.2" stroke="#000" stroke-width="2.00" />
<line x1="91.6" y1="807.4" x2="110.7" y2="807.4" stroke="#000" stroke-width="2.00" />
<text x="83.5" y="821.0" font-size="34.5" text-anchor="end" textLength="39.5" lengthAdjust="spacingAndGlyphs" >10</text>
<line x1="91.6" y1="869.1" x2="110.7" y2="869.1" stroke="#000" stroke-width="2.00" />
<text x="83.5" y="883.2" font-size="34.5" text-anchor="end" textLength="20.3" lengthAdjust="spacingAndGlyphs" >8</text>
<line x1="91.6" y1="930.5" x2="110.7" y2="930.5" stroke="#000" stroke-width="2.00" />
<text x="83.5" y="945.4" font-size="34.5" text-anchor="end" textLength="20.3" lengthAdjust="spacingAndGlyphs" >6</text>
<line x1="91.6" y1="992.2" x2="110.7" y2="992.2" stroke="#000" stroke-width="2.00" />
<text x="83.5" y="1007.6" font-size="34.5" text-anchor="end" textLength="20.3" lengthAdjust="spacingAndGlyphs" >4</text>
<line x1="91.6" y1="1053.9" x2="110.7" y2="1053.9" stroke="#000" stroke-width="2.00" />
<text x="83.5" y="1069.8" font-size="34.5" text-anchor="end" textLength="20.3" lengthAdjust="spacingAndGlyphs" >2</text>
<line x1="91.6" y1="1115.3" x2="110.7" y2="1115.3" stroke="#000" stroke-width="2.00" />
<text x="83.5" y="1132.0" font-size="34.5" text-anchor="end" textLength="20.3" lengthAdjust="spacingAndGlyphs" >0</text>
<line x1="109.5" y1="1123.8" x2="1357.5" y2="1123.8" stroke="#000" stroke-width="2.00" />
<line x1="110.5" y1="1123.8" x2="110.5" y2="1136.0" stroke="#000" stroke-width="2.00" />
<line x1="188.9" y1="1123.8" x2="188.9" y2="1136.0" stroke="#000" stroke-width="2.00" />
<text x="187.6" y="1166.8" font-size="24.5" text-anchor="middle" textLength="15.0" lengthAdjust="spacingAndGlyphs" >1</text>
<line x1="316.1" y1="1123.8" x2="316.1" y2="1136.0" stroke="#000" stroke-width="2.00" />
<text x="314.8" y="1166.8" font-size="24.5" text-anchor="middle" textLength="15.0" lengthAdjust="spacingAndGlyphs" >2</text>
<line x1="433.7" y1="1123.8" x2="433.7" y2="1136.0" stroke="#000" stroke-width="2.00" />
<text x="432.4" y="1166.8" font-size="24.5" text-anchor="middle" textLength="15.0" lengthAdjust="spacingAndGlyphs" >3</text>
<line x1="550.6" y1="1123.8" x2="550.6" y2="1136.0" stroke="#000" stroke-width="2.00" />
<text x="549.3" y="1166.8" font-size="24.5" text-anchor="middle" textLength="15.0" lengthAdjust="spacingAndGlyphs" >4</text>
<line x1="658.6" y1="1123.8" x2="658.6" y2="1136.0" stroke="#000" stroke-width="2.00" />
<text x="657.3" y="1166.8" font-size="24.5" text-anchor="middle" textLength="15.0" lengthAdjust="spacingAndGlyphs" >5</text>
<line x1="761.0" y1="1123.8" x2="761.0" y2="1136.0" stroke="#000" stroke-width="2.00" />
<text x="759.7" y="1166.8" font-size="24.5" text-anchor="middle" textLength="15.0" lengthAdjust="spacingAndGlyphs" >6</text>
<line x1="863.5" y1="1123.8" x2="863.5" y2="1136.0" stroke="#000" stroke-width="2.00" />
<text x="862.2" y="1166.8" font-size="24.5" text-anchor="middle" textLength="15.0" lengthAdjust="spacingAndGlyphs" >7</text>
<line x1="961.6" y1="1123.8" x2="961.6" y2="1136.0" stroke="#000" stroke-width="2.00" />
<text x="960.3" y="1166.8" font-size="24.5" text-anchor="middle" textLength="15.0" lengthAdjust="spacingAndGlyphs" >8</text>
<line x1="1050.7" y1="1123.8" x2="1050.7" y2="1136.0" stroke="#000" stroke-width="2.00" />
<text x="1049.4" y="1166.8" font-size="24.5" text-anchor="middle" textLength="15.0" lengthAdjust="spacingAndGlyphs" >9</text>
<line x1="1133.3" y1="1123.8" x2="1133.3" y2="1136.0" stroke="#000" stroke-width="2.00" />
<text x="1132.0" y="1166.8" font-size="24.5" text-anchor="middle" textLength="30.0" lengthAdjust="spacingAndGlyphs" >10</text>
<line x1="1223.8" y1="1123.8" x2="1223.8" y2="1136.0" stroke="#000" stroke-width="2.00" />
<text x="1222.5" y="1166.8" font-size="24.5" text-anchor="middle" textLength="30.0" lengthAdjust="spacingAndGlyphs" >11</text>
<line x1="1319.8" y1="1123.8" x2="1319.8" y2="1136.0" stroke="#000" stroke-width="2.00" />
<text x="1318.5" y="1166.8" font-size="24.5" text-anchor="middle" textLength="30.0" lengthAdjust="spacingAndGlyphs" >12</text>
<text x="86.0" y="1166.8" font-size="24.5" textLength="44.5" lengthAdjust="spacingAndGlyphs" >Chr</text>
<text x="0" y="0" font-size="37.0" text-anchor="middle" transform="translate(37.6 968.5) rotate(-90) scale(0.915 1)" >-log<tspan font-size="21" dy="11.5">10</tspan><tspan dy="-11.5">(</tspan><tspan font-style="italic">P</tspan>)</text>
<text x="1.3" y="807.8" font-size="38.0" font-weight="bold" >f</text>
<path d="M160.2 814.6L171 828.2H149.4Z" fill="none" stroke="#FF868A" stroke-width="4.2" stroke-linejoin="round"/>
<circle cx="160.2" cy="867.3" r="12.8" fill="#4096AA"/>
<text x="189.3" y="836.6" font-size="26.5" textLength="37.5" lengthAdjust="spacingAndGlyphs" >SV</text>
<text x="189.0" y="878.3" font-size="26.5" textLength="57.0" lengthAdjust="spacingAndGlyphs" >SNP</text>
<rect x="714.4" y="821.1" width="23.3" height="303.4" fill="none" stroke="#000" stroke-width="1.9" stroke-dasharray="4.4 3.9"/>
</g>
<g id="panel-g">
<text x="1454.6" y="807.8" font-size="38.0" font-weight="bold" >g</text>
<polygon points="1582.3,982.3 1782.3,982.3 1769.9,1116.4 1582.3,1116.4" fill="#FFE6E6" />
<polygon points="1716.4,982.3 1730.8,982.3 1718.7,1116.4 1718.3,1116.4" fill="#BEBCC0" />
<line x1="1559.0" y1="982.3" x2="1795.0" y2="982.3" stroke="#000" stroke-width="1.80" />
<line x1="1559.0" y1="1116.4" x2="1795.0" y2="1116.4" stroke="#000" stroke-width="1.80" />
<polygon points="1617.3,981.0 1623.7,966.6 1649.8,966.6 1649.8,995.4 1623.7,995.4" fill="#FF868A" />
<polygon points="1617.3,1118.0 1623.7,1103.4 1649.8,1103.4 1649.8,1132.6 1623.7,1132.6" fill="#FF868A" />
<line x1="1617.7" y1="954.9" x2="1617.7" y2="982.3" stroke="#000" stroke-width="1.80" />
<line x1="1649.6" y1="954.9" x2="1649.6" y2="982.3" stroke="#000" stroke-width="1.80" />
<line x1="1712.8" y1="957.5" x2="1718.5" y2="982.3" stroke="#000" stroke-width="1.70" />
<line x1="1735.2" y1="957.2" x2="1729.1" y2="982.3" stroke="#000" stroke-width="1.70" />
<text x="0" y="0" font-size="25.0" textLength="99.5" lengthAdjust="spacingAndGlyphs" transform="translate(1622.2 945.7) rotate(-90) scale(1 1)" >4,229,184</text>
<text x="0" y="0" font-size="25.0" textLength="99.5" lengthAdjust="spacingAndGlyphs" transform="translate(1657.2 945.7) rotate(-90) scale(1 1)" >4,233,157</text>
<text x="0" y="0" font-size="25.0" textLength="99.5" lengthAdjust="spacingAndGlyphs" transform="translate(1713.8 945.7) rotate(-90) scale(1 1)" >4,242,112</text>
<text x="0" y="0" font-size="25.0" textLength="99.5" lengthAdjust="spacingAndGlyphs" transform="translate(1743.8 945.7) rotate(-90) scale(1 1)" >4,243,537</text>
<text x="1548.5" y="992.7" font-size="24.4" text-anchor="end" textLength="72.5" lengthAdjust="spacingAndGlyphs" >Hap. 1</text>
<text x="1453.0" y="1027.0" font-size="24.4" textLength="120.0" lengthAdjust="spacingAndGlyphs" >(NIP Chr6)</text>
<text x="1524.0" y="1064.2" font-size="21.4" font-style="italic" textLength="178.5" lengthAdjust="spacingAndGlyphs" >LOC_Os06g08550</text>
<text x="1549.0" y="1125.8" font-size="24.4" text-anchor="end" textLength="73.5" lengthAdjust="spacingAndGlyphs" >Hap. 2</text>
</g>
<g id="panel-h">
<text x="1838.0" y="807.8" font-size="38.0" font-weight="bold" >h</text>
<line x1="1935.5" y1="891.8" x2="1935.5" y2="1113.5" stroke="#000" stroke-width="2.00" />
<line x1="1918.4" y1="892.8" x2="1935.5" y2="892.8" stroke="#000" stroke-width="2.00" />
<text x="1913.0" y="902.3" font-size="26.2" text-anchor="end" >40</text>
<line x1="1918.4" y1="948.0" x2="1935.5" y2="948.0" stroke="#000" stroke-width="2.00" />
<text x="1913.0" y="957.5" font-size="26.2" text-anchor="end" >30</text>
<line x1="1918.4" y1="1002.8" x2="1935.5" y2="1002.8" stroke="#000" stroke-width="2.00" />
<text x="1913.0" y="1012.3" font-size="26.2" text-anchor="end" >20</text>
<line x1="1918.4" y1="1057.7" x2="1935.5" y2="1057.7" stroke="#000" stroke-width="2.00" />
<text x="1913.0" y="1067.2" font-size="26.2" text-anchor="end" >10</text>
<line x1="1918.4" y1="1112.5" x2="1935.5" y2="1112.5" stroke="#000" stroke-width="2.00" />
<text x="1913.0" y="1122.0" font-size="26.2" text-anchor="end" >0</text>
<line x1="1918.4" y1="1112.5" x2="2083.5" y2="1112.5" stroke="#000" stroke-width="2.00" />
<line x1="1977.4" y1="1112.5" x2="1977.4" y2="1131.5" stroke="#000" stroke-width="2.00" />
<line x1="2040.4" y1="1112.5" x2="2040.4" y2="1131.5" stroke="#000" stroke-width="2.00" />
<text x="0" y="0" font-size="33.0" text-anchor="middle" textLength="278.0" lengthAdjust="spacingAndGlyphs" transform="translate(1871.4 1023.9) rotate(-90) scale(1 1)" >Grain yield per plant</text>
<text x="1967.4" y="1156.5" font-size="23.2" text-anchor="middle" textLength="62.5" lengthAdjust="spacingAndGlyphs" >Hap.1</text>
<text x="1966.6" y="1181.0" font-size="21.6" text-anchor="middle" textLength="76.0" lengthAdjust="spacingAndGlyphs" >(n=528)</text>
<text x="2050.0" y="1156.5" font-size="23.2" text-anchor="middle" textLength="65.0" lengthAdjust="spacingAndGlyphs" >Hap.2</text>
<text x="2050.0" y="1181.0" font-size="21.6" text-anchor="middle" textLength="63.5" lengthAdjust="spacingAndGlyphs" >(n=63)</text>
<line x1="1977.5" y1="912.7" x2="1977.5" y2="1103.6" stroke="#FFA0A5" stroke-width="2.40" />
<line x1="1967.4" y1="912.7" x2="1987.4" y2="912.7" stroke="#FFA0A5" stroke-width="2.20" />
<line x1="1967.4" y1="1103.6" x2="1987.4" y2="1103.6" stroke="#FFA0A5" stroke-width="2.20" />
<rect x="1957.2" y="979.8" width="40.5" height="42.1" fill="#FF878B" stroke="#FFA3A7" stroke-width="1.80" />
<line x1="1957.4" y1="1006.3" x2="1997.5" y2="1006.3" stroke="#F0787D" stroke-width="1.60" />
<line x1="2040.3" y1="992.6" x2="2040.3" y2="1089.5" stroke="#3E9AB0" stroke-width="2.40" />
<line x1="2030.0" y1="992.6" x2="2050.5" y2="992.6" stroke="#3E9AB0" stroke-width="2.20" />
<line x1="2030.0" y1="1089.5" x2="2050.5" y2="1089.5" stroke="#3E9AB0" stroke-width="2.20" />
<rect x="2020.4" y="1032.8" width="39.8" height="30.0" fill="#357E92" stroke="#4499AD" stroke-width="1.80" />
<line x1="2020.6" y1="1047.4" x2="2060.0" y2="1047.4" stroke="#4FA2B5" stroke-width="1.60" />
<path d="M1976.2 1084.3h0M1979.1 1016.8h0M1977.9 1058.7h0M1973.6 1030.7h0M1984.7 953.6h0M1974.7 1015.9h0M1980.0 982.3h0M1980.4 977.9h0M1976.6 973.7h0M1977.0 1098.3h0M1981.1 983.2h0M1977.6 979.1h0M1994.2 1013.2h0M1989.7 1017.0h0M1981.8 973.9h0M1978.5 944.5h0M1957.4 990.7h0M1963.2 1000.1h0M1989.4 969.7h0M1977.3 1006.3h0M1971.2 1004.5h0M1981.6 1008.4h0M1980.2 982.3h0M1959.6 982.7h0M1962.8 1001.5h0M1962.0 979.8h0M1989.9 1011.9h0M1984.2 1052.0h0M1981.3 997.4h0M1987.3 1033.2h0M1984.2 1003.1h0M1979.0 974.0h0M1973.2 950.5h0M1978.8 966.6h0M1973.3 984.7h0M1974.0 1017.0h0M1964.6 983.8h0M1971.7 1029.0h0M1979.1 1082.9h0M1983.4 1030.3h0M1978.9 985.0h0M1984.5 1026.6h0M1992.5 992.5h0M1976.6 968.1h0M1982.4 997.8h0M1967.3 964.6h0M1970.8 1028.9h0M1973.1 1054.5h0M1973.0 1014.8h0M1993.3 1001.8h0M1990.5 1000.1h0M1966.7 994.8h0M1967.4 1005.1h0M1986.2 1004.4h0M1987.4 1008.1h0M1979.4 1067.4h0M1979.2 1046.5h0M1974.7 1048.7h0M1974.6 992.2h0M1977.0 927.6h0M1965.0 995.6h0M1968.4 1009.6h0M1976.2 1018.9h0M1993.9 1011.7h0M1976.0 1053.2h0M1973.4 931.2h0M1984.6 1026.3h0M1973.5 956.2h0M1978.0 1032.1h0M1984.1 1030.0h0M1986.3 986.9h0M1966.2 1026.0h0M1977.6 932.3h0M1978.3 1057.7h0M1967.0 1002.9h0M1967.6 1002.0h0M1974.7 943.2h0M1981.5 962.0h0M1992.2 1003.2h0M1981.7 1051.8h0M1977.6 952.0h0M1982.1 982.8h0M1975.0 1002.5h0M1971.1 944.9h0M1978.1 1036.1h0M1977.2 991.5h0M1981.6 1012.1h0M1977.7 1090.9h0M1975.9 960.0h0M1978.6 962.3h0M1990.5 971.8h0M1985.4 990.0h0M1964.0 1006.0h0M1985.5 972.1h0M1977.4 938.5h0M1982.9 995.0h0M1976.9 960.4h0M1976.1 951.8h0M1968.0 984.6h0M1983.0 997.6h0M1984.4 986.3h0M1979.1 968.0h0M1970.9 1029.7h0M1981.4 976.4h0M1974.8 1051.4h0M1975.9 996.1h0M1980.9 1026.6h0M1964.6 1005.1h0M1976.0 988.2h0M1984.5 1020.3h0M1975.7 1056.0h0M1985.2 989.8h0M1960.9 985.1h0M1976.5 974.0h0M1964.2 973.0h0M1980.3 1015.4h0M1971.3 982.6h0M1970.0 967.7h0M1980.7 1049.0h0M1975.8 1049.3h0M1971.3 988.4h0M1982.4 987.1h0M1964.9 971.8h0M1957.9 994.4h0M1980.2 1020.3h0M1979.2 933.1h0M1980.5 943.6h0M1980.8 933.5h0M1968.8 984.8h0M1959.7 1016.7h0M1957.5 984.8h0M1977.5 1092.6h0M1970.5 969.9h0M1978.9 986.2h0M1981.6 1008.3h0M1967.9 969.9h0M1977.6 1067.2h0M1964.6 1000.6h0M1984.3 1011.7h0M1999.1 997.7h0M1959.5 1010.0h0M1991.8 996.2h0M1987.9 1034.2h0M1980.7 992.1h0M1986.6 993.8h0M1977.1 993.6h0M1973.9 1002.8h0M1975.4 951.1h0M1979.0 1027.2h0M1979.9 1091.2h0M1985.9 984.5h0M1980.1 931.0h0M1972.5 1035.6h0M1980.9 1052.2h0M1999.0 1004.9h0M1978.5 993.2h0M1974.0 979.3h0M1990.0 984.0h0M1980.3 971.0h0M1975.1 998.8h0M1987.0 1013.9h0M1973.0 1018.3h0M1981.3 1007.4h0M1988.5 978.7h0M1980.1 1054.1h0M1961.9 987.4h0M1981.7 960.4h0M1974.7 940.0h0M1976.7 1078.7h0M1975.4 1029.7h0M1973.4 931.5h0M1978.0 1073.4h0M1977.3 1056.6h0M1977.6 943.4h0M1976.3 952.8h0M1981.7 994.4h0M1982.0 1037.0h0M1989.2 1007.3h0M1977.0 969.5h0M1989.2 986.6h0M1974.1 1050.8h0M1978.8 932.1h0M1977.1 1078.4h0M1980.4 956.8h0M1987.3 1020.8h0M1987.6 1002.1h0M1976.2 1059.3h0M1976.1 996.7h0M1956.1 994.9h0M1974.8 986.2h0M1981.2 940.4h0M1971.8 997.8h0M1973.9 1022.5h0M1983.1 939.4h0M1980.7 939.2h0M1980.7 961.6h0M1969.9 977.6h0M1971.4 967.3h0M1984.2 993.4h0M1977.1 1051.6h0M1972.0 993.5h0M1966.6 1007.5h0M1975.4 1072.2h0M1976.6 936.6h0M1974.7 1037.0h0M1973.7 965.7h0M1976.2 996.2h0M1964.4 998.0h0M1974.1 1058.8h0M1981.0 1012.6h0M1997.7 987.5h0M1974.3 1044.3h0M1974.9 990.1h0M1979.1 1000.1h0M1972.6 997.8h0M1985.2 982.5h0M1981.8 968.4h0M1980.0 933.8h0M1977.5 1088.7h0M1978.6 1015.5h0M1981.6 994.6h0M1971.7 1026.3h0M1975.2 1042.1h0M1977.1 1034.3h0M1970.4 1011.0h0M1978.7 966.6h0M1981.3 960.0h0M1978.1 1092.6h0M1972.6 978.7h0M1967.7 976.0h0M1986.5 999.6h0M1979.2 968.0h0M1985.3 979.5h0M1962.9 999.3h0M1973.9 1030.3h0M1980.6 997.0h0M1968.7 971.8h0M1974.0 1052.7h0M1979.4 1085.1h0M1983.6 974.4h0M1996.9 984.0h0M1966.9 987.7h0M1983.9 1000.5h0M1989.6 996.7h0M1999.4 999.9h0M1979.8 1038.5h0M1956.0 1008.4h0M1976.9 978.0h0M1981.2 972.9h0M1978.2 946.0h0M1976.7 986.4h0M1978.3 936.7h0M1983.6 960.7h0M1974.7 1026.0h0M1960.9 988.2h0M1971.8 942.3h0M1985.4 1024.5h0M1977.5 957.2h0M1963.3 1006.1h0M1962.3 1002.0h0M1960.1 979.5h0M1975.3 971.1h0M1966.0 973.0h0M1979.0 1035.8h0M1979.5 998.3h0M1978.1 1089.6h0M1987.7 1008.2h0M1977.6 1086.0h0M1975.8 980.5h0M1976.7 957.2h0M1966.8 1005.7h0M1958.8 1004.2h0M1966.3 1029.8h0M1976.9 976.5h0M1964.0 983.5h0M1970.5 1031.3h0M1972.8 1056.6h0M1978.2 1002.5h0M1989.3 997.7h0M1977.3 1070.6h0M1998.3 994.6h0M1970.4 1014.5h0M1968.0 1007.3h0M1967.8 974.2h0M1976.7 1004.1h0M1988.0 981.0h0M1966.9 1004.5h0M1977.2 1092.9h0M1983.9 1002.0h0M1974.9 971.6h0M1966.5 994.6h0M1980.6 1013.0h0M1983.3 983.3h0M1978.6 990.6h0M1977.9 1041.5h0M1988.9 1007.1h0M1979.1 927.0h0M1973.6 953.5h0M1998.9 1007.0h0M1985.9 1042.7h0M1981.1 979.7h0M1985.6 1011.6h0M1985.3 964.5h0M1976.1 932.0h0M1976.0 1030.2h0M1972.9 950.7h0M1982.5 935.3h0M1969.5 979.9h0M1998.9 1007.1h0M1960.0 981.8h0M1971.1 1009.1h0M1973.4 943.7h0M1977.4 1043.9h0M1980.0 981.6h0M1980.5 1046.5h0M1977.0 1023.8h0M1986.4 964.1h0M1974.7 1003.1h0M1980.0 1037.9h0M1979.5 1024.0h0M1964.8 1007.8h0M1979.6 1013.5h0M1972.3 1017.5h0M1974.9 980.1h0M1983.9 1045.6h0M1977.6 1023.7h0M1970.7 1028.2h0M1962.7 991.1h0M1970.0 981.8h0M1966.8 980.3h0M1974.7 1082.1h0M1971.7 987.6h0M1979.1 1043.2h0M1971.4 1008.2h0M1960.2 979.3h0M1983.5 942.2h0M1983.8 1033.1h0M1977.4 1041.7h0M1980.5 1023.9h0M1975.1 1069.5h0M1979.3 1071.7h0M1966.9 985.1h0M1956.6 1002.9h0M1999.3 1001.6h0M1976.9 947.4h0M1964.2 1003.6h0M1972.8 952.6h0M1974.3 978.8h0M1995.1 982.4h0M1976.5 945.6h0M1972.2 977.3h0M1969.5 969.0h0M1976.0 940.9h0M1979.3 1012.8h0M1977.9 1016.2h0M1964.7 995.1h0M1971.7 964.8h0M1990.2 1007.7h0M1971.5 1018.3h0M1995.8 1006.3h0M1978.6 1093.7h0M1979.8 962.5h0M1983.2 961.3h0M1983.0 950.5h0M1982.6 1031.2h0M1972.1 1052.1h0M1956.2 993.9h0M1995.9 996.4h0M1979.5 1033.2h0M1984.6 961.2h0M1994.0 1000.8h0M1973.3 966.6h0M1973.6 1010.0h0M1980.3 986.7h0M1964.7 1019.0h0M1974.6 976.2h0M1968.5 970.3h0M1986.9 1015.7h0M1977.6 1040.1h0M1999.3 999.3h0M1985.0 1047.3h0M1998.7 1008.4h0M1975.8 942.0h0M1964.3 1001.5h0M1965.9 1006.8h0M1980.0 1002.6h0M1976.3 1091.7h0M1968.0 1002.2h0M1986.4 1023.1h0M1970.5 975.8h0M1958.5 1017.3h0M1974.7 1045.8h0M1962.5 983.7h0M1992.8 987.3h0M1975.5 970.2h0M1983.3 992.7h0M1974.5 960.2h0M1977.4 936.6h0M1990.5 1028.3h0M1970.2 1040.6h0M1960.6 978.7h0M1990.9 972.5h0M1974.8 933.7h0M1995.9 999.6h0M1974.2 1010.9h0M1978.1 952.0h0M1976.7 971.2h0M1966.2 998.1h0M1974.3 960.3h0M1980.5 1008.2h0M1980.2 937.6h0M1972.5 955.4h0M1964.9 1007.0h0M1963.9 1006.3h0M1981.7 964.4h0M1974.5 990.5h0M1969.3 1027.3h0M1962.6 1022.4h0M1979.6 964.4h0M1979.2 1020.3h0M1998.7 994.7h0M1974.5 1035.5h0M1977.2 1045.3h0M1965.4 1024.6h0M1973.5 1050.6h0M1973.8 1003.1h0M1976.1 958.9h0M1983.3 993.3h0M1993.0 995.1h0M1980.4 1031.5h0M1959.0 1004.9h0M1979.8 1010.1h0M1972.4 1009.8h0M1968.1 1005.6h0M1957.8 1010.4h0M1982.9 1009.0h0M1973.2 1023.7h0M1971.2 1034.7h0M1984.3 1005.7h0M1978.1 1001.0h0M1982.4 951.0h0M1983.6 953.6h0M1957.0 1014.2h0M1975.7 976.5h0M1967.3 1003.0h0M1971.9 1034.8h0M1984.4 1014.4h0M1964.5 1012.1h0M1986.7 1001.6h0M1955.6 1002.8h0M1978.7 996.9h0M1998.7 994.9h0M1995.2 986.9h0M1973.5 995.0h0M1976.2 989.5h0M1972.3 964.1h0M1988.9 1005.4h0M1981.3 942.8h0M1978.9 992.0h0M1975.8 971.9h0M1977.2 963.9h0M1989.8 999.5h0M1983.7 967.0h0M1982.6 1002.1h0M1975.9 986.8h0M1982.4 991.0h0M1996.5 983.2h0M1982.7 956.7h0M1976.0 1060.6h0M1977.8 1007.6h0M1986.7 1006.8h0M1990.5 1014.6h0M1981.4 978.2h0M1982.4 950.1h0M1995.8 1016.3h0M1989.7 972.7h0M1976.8 989.4h0M1958.5 1017.1h0M1967.0 1008.7h0M1956.2 1010.8h0M1983.1 1004.2h0M1981.5 976.4h0M1998.5 993.1h0M1984.4 998.6h0M1969.0 1017.3h0M1998.3 991.9h0M1977.0 933.2h0M1978.3 954.3h0M1974.3 961.2h0M1970.1 1020.1h0M1995.1 1019.7h0M1966.7 1022.8h0M1959.8 989.1h0M1967.4 997.8h0M1975.6 1050.6h0M1985.8 1002.6h0M1988.4 1009.7h0M1968.7 1021.5h0M1990.1 979.9h0M1975.8 973.5h0M1979.6 1091.3h0M1992.4 1021.0h0M1982.8 1007.6h0M1977.3 986.2h0M1978.4 1015.7h0M1974.0 1030.5h0M1978.0 942.3h0M1978.0 1096.0h0M1974.4 958.8h0M1971.3 1022.6h0M1986.2 998.0h0M1997.4 1015.0h0M1983.7 1055.2h0M1965.5 1010.1h0M1975.7 1093.8h0M1972.3 970.7h0M1973.5 989.6h0M1966.0 1030.1h0M1984.9 1047.8h0M1972.5 934.2h0M1977.4 912.7h0M1977.4 1103.6h0M1977.0 1094.0h0M1976.5 1086.0h0M1978.0 1068.0h0M1977.0 1074.0h0M1977.8 1081.0h0M1977.2 1062.0h0" fill="none" stroke="#0A0A0A" stroke-width="3.30" stroke-linecap="round" opacity="0.86"/>
<path d="M2036.2 1056.7h0M2036.8 1042.2h0M2037.3 1079.5h0M2046.2 1053.0h0M2046.4 1052.5h0M2040.8 1053.6h0M2041.2 996.7h0M2044.2 1033.4h0M2043.5 1030.7h0M2041.5 1073.0h0M2035.8 1038.4h0M2041.9 1012.0h0M2041.6 1068.4h0M2038.0 1035.8h0M2037.1 1078.1h0M2041.8 1076.2h0M2046.0 1051.3h0M2039.6 1018.7h0M2041.6 1042.9h0M2039.8 1086.2h0M2043.3 1048.5h0M2044.2 1042.1h0M2043.5 1069.5h0M2035.3 1053.1h0M2036.2 1044.7h0M2034.7 1052.9h0M2039.0 1011.8h0M2038.0 1034.1h0M2044.8 1083.7h0M2041.4 1056.0h0M2045.1 1060.5h0M2038.5 1065.5h0M2046.5 1058.7h0M2037.1 1049.7h0M2040.3 1004.0h0M2039.8 1005.5h0M2039.5 1006.9h0M2041.3 1086.7h0M2045.0 1045.4h0M2041.8 1016.5h0M2035.5 1048.3h0M2040.7 1077.2h0M2040.4 1073.5h0M2039.2 1051.2h0M2037.0 1061.6h0M2042.0 1076.1h0M2045.4 1082.8h0M2041.6 1065.3h0M2038.5 1010.0h0M2041.6 1078.6h0M2042.1 1064.0h0M2047.1 1044.9h0M2042.0 1018.7h0M2036.5 1057.9h0M2038.3 1054.7h0M2039.5 1043.7h0M2042.0 1030.4h0M2039.5 1027.7h0M2040.6 992.6h0M2040.6 1089.5h0M2041.5 994.0h0M2040.0 1001.0h0M2041.0 1088.0h0" fill="none" stroke="#0A0A0A" stroke-width="3.30" stroke-linecap="round" opacity="0.86"/>
<line x1="1977.5" y1="905.9" x2="2042.3" y2="905.9" stroke="#000" stroke-width="1.20" />
<line x1="1977.5" y1="905.9" x2="1977.5" y2="911.6" stroke="#000" stroke-width="1.20" />
<line x1="2042.3" y1="905.9" x2="2042.3" y2="911.6" stroke="#000" stroke-width="1.20" />
<text x="2012.6" y="901.5" font-size="20.0" text-anchor="middle" >**</text>
</g>
</svg>
</body></html>
